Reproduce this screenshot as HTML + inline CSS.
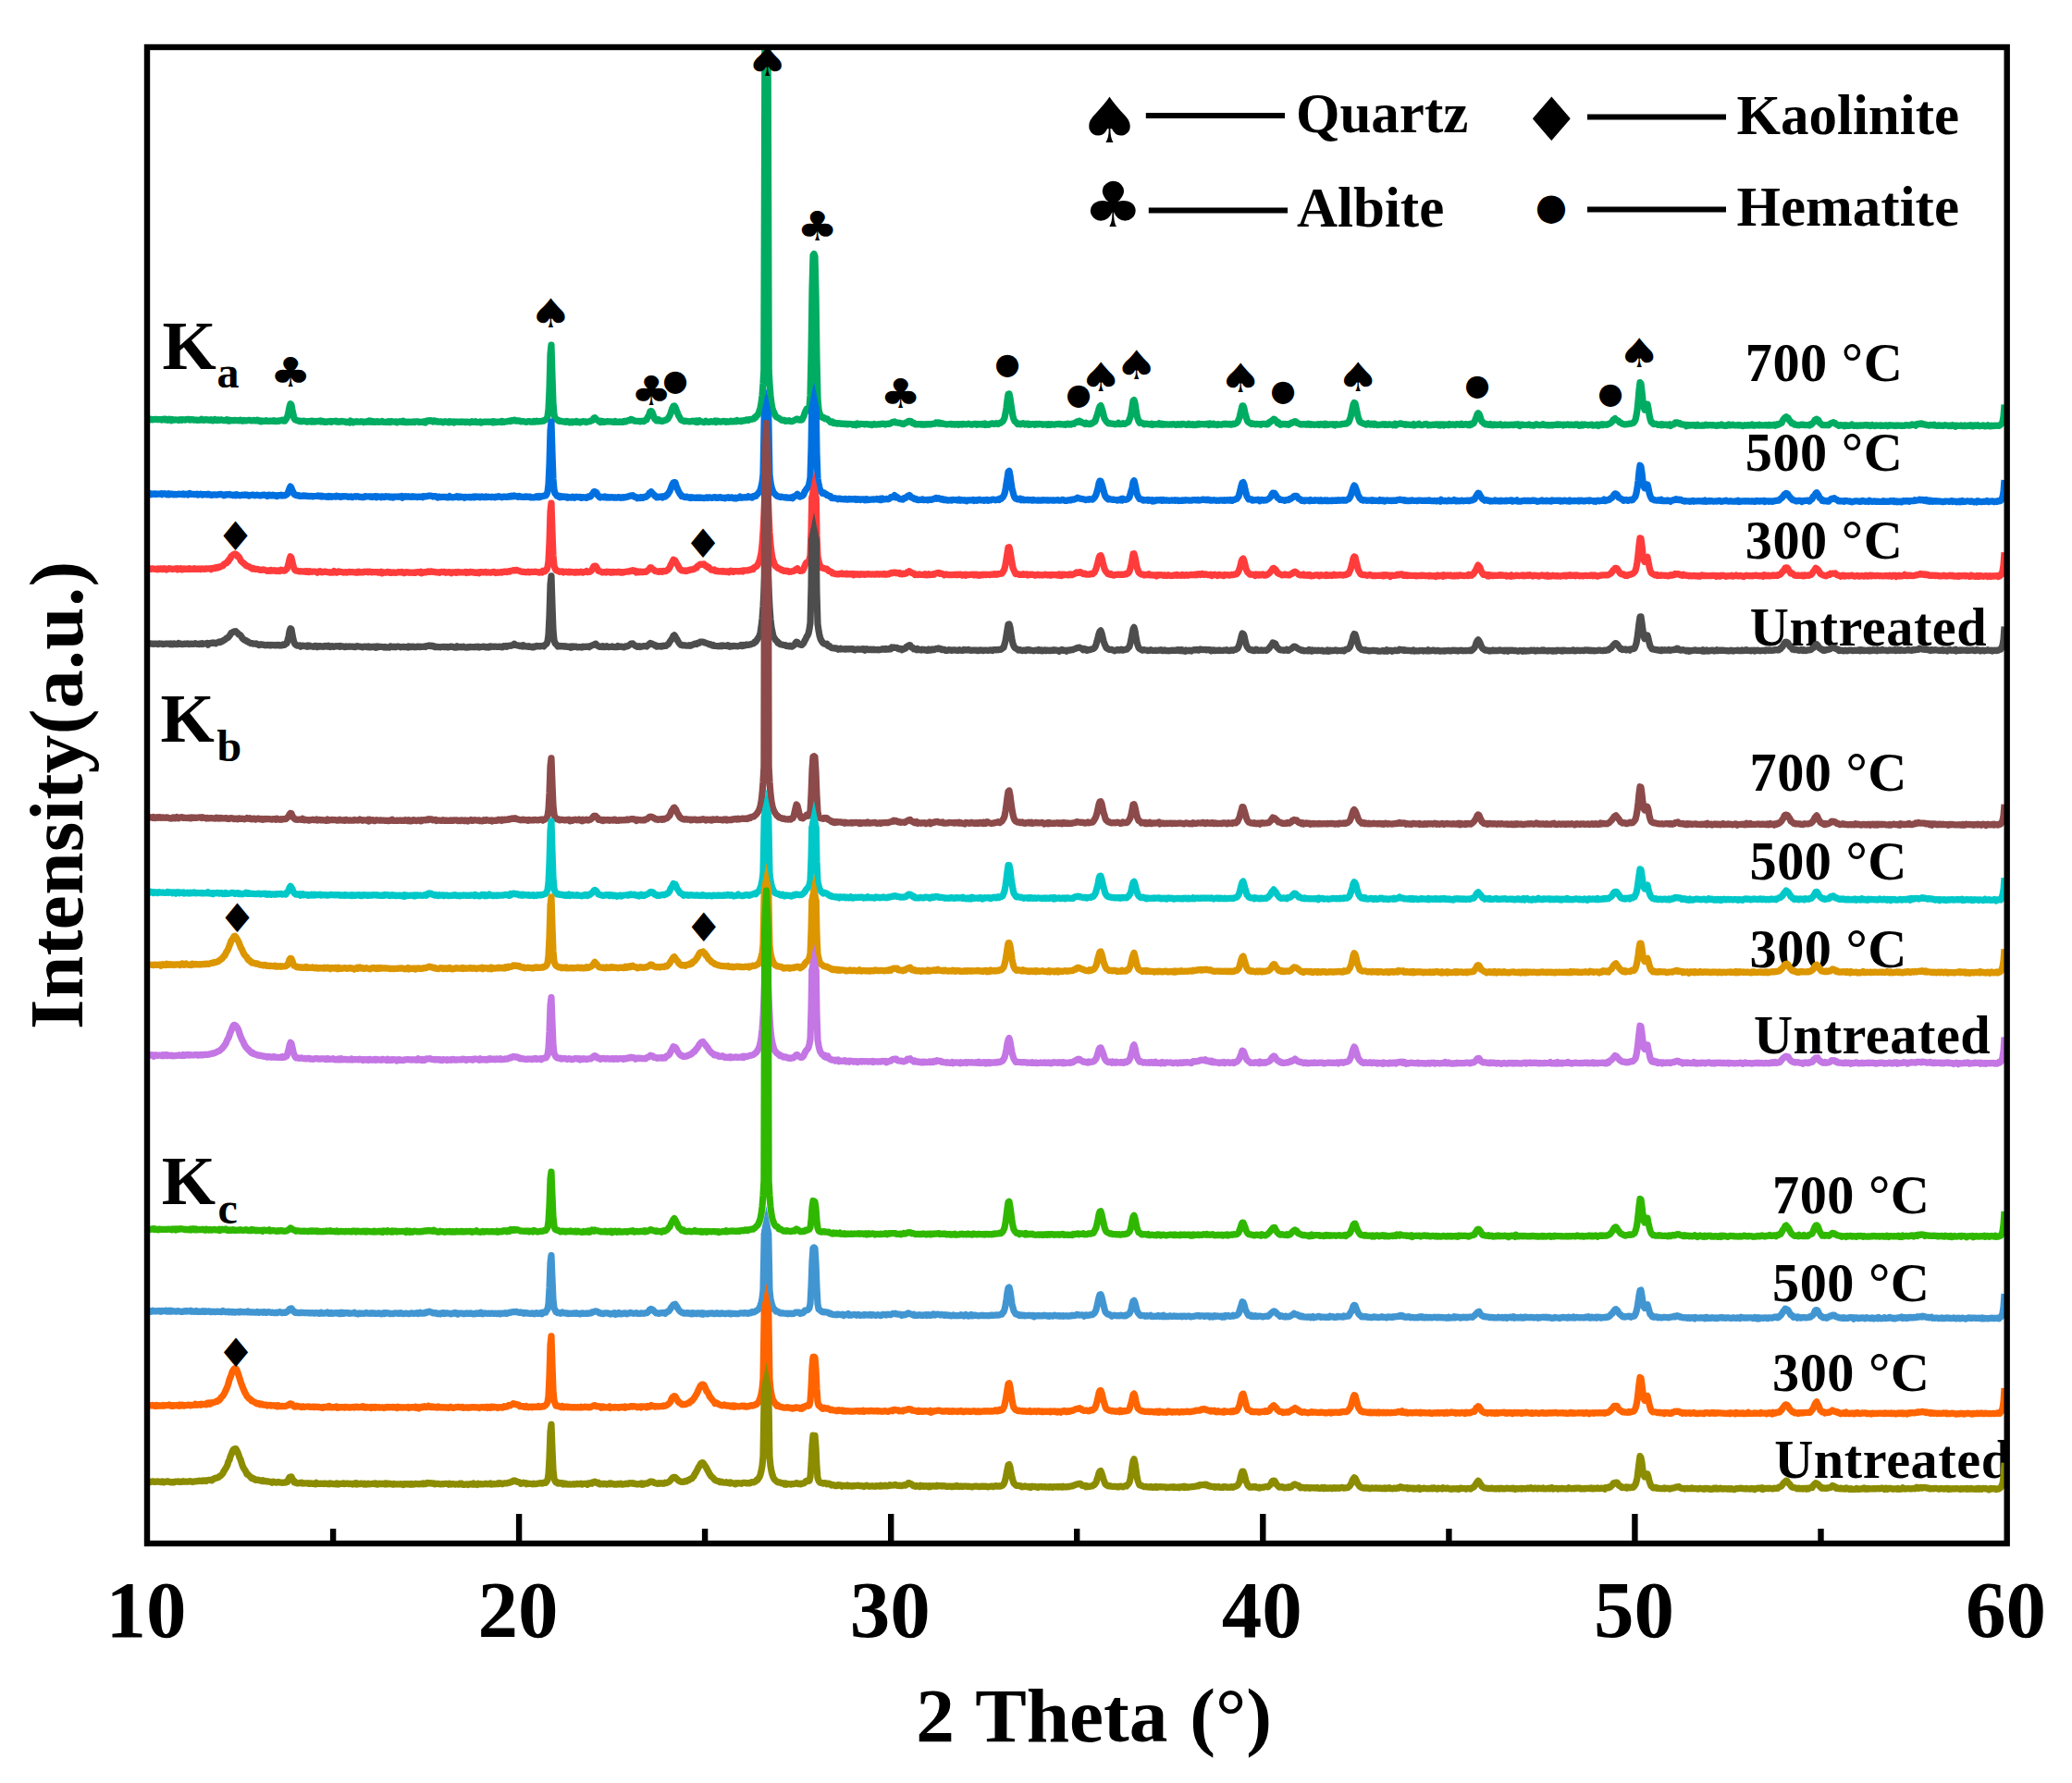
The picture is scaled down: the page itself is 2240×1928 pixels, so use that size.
<!DOCTYPE html>
<html lang="en"><head><meta charset="utf-8"><title>XRD patterns</title>
<style>html,body{margin:0;padding:0;background:#fff}svg{display:block}text{font-family:"Liberation Serif",serif;font-weight:bold;fill:#000}.sym{font-family:"DejaVu Sans",sans-serif;font-weight:normal}.c{fill:none;stroke-width:7.2;stroke-linejoin:round;stroke-linecap:butt}.m{fill:none;stroke-width:7.2;stroke-linejoin:miter;stroke-miterlimit:12;stroke-linecap:butt}</style></head><body>
<svg width="2240" height="1928" viewBox="0 0 2240 1928">
<rect width="2240" height="1928" fill="#fff"/>
<defs><clipPath id="cp"><rect x="159" y="51" width="2010.5" height="1618"/></clipPath></defs>
<g clip-path="url(#cp)">
<text x="1886.8" y="412.0" font-size="58.3" letter-spacing="0.5">700 °C</text>
<text x="1886.8" y="508.7" font-size="58.3" letter-spacing="0.5">500 °C</text>
<text x="1886.8" y="604.0" font-size="58.3" letter-spacing="0.5">300 °C</text>
<text x="1891.8" y="697.7" font-size="58.3" letter-spacing="0.55">Untreated</text>
<text x="1891.5" y="854.8" font-size="58.3" letter-spacing="0.5">700 °C</text>
<text x="1891.5" y="951.0" font-size="58.3" letter-spacing="0.5">500 °C</text>
<text x="1891.5" y="1046.3" font-size="58.3" letter-spacing="0.5">300 °C</text>
<text x="1895.9" y="1139.0" font-size="58.3" letter-spacing="0.55">Untreated</text>
<text x="1916.0" y="1311.9" font-size="58.3" letter-spacing="0.5">700 °C</text>
<text x="1916.0" y="1407.3" font-size="58.3" letter-spacing="0.5">500 °C</text>
<text x="1916.0" y="1503.7" font-size="58.3" letter-spacing="0.5">300 °C</text>
<text x="1918.2" y="1598.0" font-size="58.3" letter-spacing="0.55">Untreated</text>
<path class="c" stroke="#00AC62" d="M161 453.9L162 453.8L163 453.2L164 453.7L165 453.8L166 453.6L167 453.5L168 453.4L169 453.4L170 453.7L171 453.6L172 453.5L173 453.6L174 453.7L175 454.1L176 453.6L177 453.2L178 453.8L179 453.1L180 454.1L181 454.4L182 453.8L183 453.1L184 453.9L185 454.7L186 453.4L187 454L188 454.2L189 453.9L190 453.9L191 454L192 454L193 454.5L194 453.9L195 453.7L196 454.4L197 453.6L198 453.8L199 453.8L200 454.1L201 453.7L202 453.7L203 453.3L204 453.4L205 454.1L206 453.7L207 453.5L208 454L209 453.9L210 454.2L211 454L212 454L213 454.3L214 454.4L215 454.3L216 454.1L217 454.2L218 453.3L219 453.9L220 454.2L221 454.4L222 453.7L223 453.8L224 454.1L225 453.9L226 454.4L227 454.2L228 453.7L229 454.4L230 454.8L231 454.2L232 453.5L233 454.4L234 454.1L235 454.7L236 453.9L237 454L238 454.4L239 453.9L240 454.1L241 454.5L242 454.7L243 454.7L244 454.2L245 453.7L246 454.9L247 455.2L248 454.3L249 455.1L250 454.6L251 454.6L252 454.8L253 454.6L254 454.4L255 454.7L256 454.7L257 454.6L258 454.9L259 454.5L260 454.1L261 454.9L262 455.1L263 455.1L264 454.4L265 454.9L266 455L267 454.7L268 454.5L269 454.4L270 454.4L271 454.8L272 455L273 454.9L274 454.4L275 454.5L276 455L277 455L278 454.2L279 454.4L280 455.2L281 455.6L282 454.9L283 455.9L284 455.2L285 455.5L286 455L287 455.4L288 454.7L289 455.5L290 455.3L291 455.6L292 455.1L293 455.1L294 455.4L295 455.5L296 454.6L297 455.2L298 455.7L299 455.1L300 455.1L301 455.5L302 454.8L303 455L304 454.8L305 454.1L306 454.5L307 455.2L308 455.1L309 453.4L310 452.2L311 449.7L312 444.9L313 440L314 436.6L315 437.8L316 443.4L317 448.1L318 452.5L319 453.9L320 454.2L321 454.6L322 454.8L323 455L324 455.7L325 455.2L326 455.9L327 455.6L328 455.1L329 455.3L330 455.7L331 455.7L332 456.2L333 455.6L334 455.8L335 455.6L336 455.1L337 456.1L338 455.3L339 456L340 456.1L341 455.4L342 455.9L343 455.6L344 455.3L345 455.6L346 455L347 456L348 455.3L349 455.3L350 456.2L351 456.4L352 455.8L353 456.3L354 456.2L355 455.6L356 455.9L357 455.5L358 456.3L359 455.7L360 455.6L361 455.7L362 455.4L363 455.2L364 456.2L365 455.7L366 456L367 456.3L368 455.5L369 455.8L370 455.4L371 456L372 455.9L373 455.9L374 456.6L375 456.6L376 456.1L377 456.1L378 457L379 455.1L380 456L381 455.8L382 456.9L383 456L384 456.2L385 455.7L386 456.1L387 455.9L388 456.2L389 456.2L390 455.9L391 455.7L392 456.2L393 456.6L394 456.2L395 456.1L396 456.4L397 455.7L398 456L399 455L400 456.1L401 455.2L402 456.2L403 456.4L404 455.7L405 456.4L406 456.4L407 455.8L408 455.7L409 456.5L410 456.4L411 456.1L412 456.2L413 455.4L414 456.2L415 456.4L416 456.5L417 456.3L418 456.6L419 456.1L420 455.7L421 456.6L422 456.6L423 455.7L424 455.6L425 456.1L426 456.1L427 456.1L428 455.9L429 456.8L430 456.4L431 455.9L432 456.1L433 455.9L434 456.1L435 456.4L436 455.2L437 455.9L438 456.7L439 456.5L440 456.1L441 456.7L442 456L443 456.2L444 456.4L445 456.6L446 456.3L447 455.9L448 456.6L449 455.8L450 456L451 455.9L452 455.9L453 456.6L454 456.2L455 456.4L456 456.2L457 456.2L458 456.6L459 455.7L460 456.9L461 455.7L462 454.8L463 454.8L464 455.3L465 454.6L466 454.8L467 455.3L468 456L469 454.9L470 455.1L471 455.9L472 455.5L473 456.2L474 455.9L475 456.2L476 455.8L477 455.9L478 456.5L479 456.8L480 456.1L481 455.6L482 456.1L483 456.2L484 456.5L485 456.9L486 455.8L487 456.5L488 456L489 456.5L490 455.9L491 457L492 456.2L493 456.3L494 456.1L495 456.1L496 456.5L497 456.1L498 456.5L499 455.9L500 456.3L501 456.1L502 456.2L503 456.7L504 456.2L505 456L506 456.2L507 456.5L508 456.9L509 456.3L510 455.6L511 456.4L512 456.4L513 456.4L514 455.6L515 456.4L516 456.7L517 456.5L518 456.5L519 456L520 457.1L521 457L522 456.4L523 456.1L524 456.2L525 456.3L526 456.2L527 456.1L528 456.3L529 456.2L530 456L531 456.3L532 456.8L533 455.8L534 456.8L535 455.9L536 456.7L537 456.5L538 456.2L539 456.4L540 456.1L541 455.9L542 456.6L543 455.5L544 456.2L545 456.4L546 456L547 455.9L548 455.9L549 455.6L550 455.1L551 455.6L552 455.6L553 454.7L554 454.8L555 454.8L556 454.2L557 454.3L558 455.1L559 455.2L560 454.8L561 455.1L562 455.2L563 455.8L564 455.9L565 455.6L566 455.5L567 455.9L568 456.2L569 456.3L570 456.1L571 455.7L572 455.6L573 455.8L574 456.3L575 456.1L576 456.2L577 455.4L578 456.1L579 455.7L580 455.1L581 455.9L582 455.8L583 455.7L584 455.5L585 455.7L586 455.3L587 455L588 455.1L589 454.2L590 453.8L591 453L592 450.1L593 442.3L594 420.3L595 382.8L596 373.1L597 406.3L598 435.9L599 448.3L600 452L601 453.1L602 453.5L603 454.5L604 455.3L605 454.9L606 455.3L607 455.6L608 455.6L609 456L610 456.1L611 455.9L612 456.3L613 455.4L614 455.9L615 456.1L616 456.9L617 456.3L618 455.9L619 456.7L620 455.9L621 456.4L622 456.3L623 455.5L624 456.6L625 456.1L626 456.1L627 456.9L628 456.1L629 456.2L630 455.6L631 455.8L632 456.1L633 455.8L634 456.6L635 456.1L636 456L637 455.6L638 455.6L639 454.8L640 454.7L641 454.2L642 452.2L643 451.6L644 452.7L645 453.7L646 454.4L647 455.1L648 456L649 456.6L650 455.3L651 456.2L652 455.6L653 456.5L654 456.2L655 456L656 455.7L657 455.5L658 455.9L659 455.9L660 456L661 455.8L662 456.3L663 456.5L664 456.2L665 455.5L666 456.2L667 456.5L668 456.4L669 456.3L670 455.9L671 456.4L672 456.2L673 455.9L674 456.3L675 455.4L676 455.6L677 455.9L678 455L679 454.8L680 454.3L681 454.7L682 453.4L683 453.5L684 454.2L685 454.5L686 455.2L687 455.2L688 455.4L689 455.5L690 455.4L691 455.4L692 455.8L693 455.4L694 455.3L695 455.6L696 455.6L697 455L698 454.1L699 453.9L700 451.4L701 449.9L702 447.7L703 444.7L704 444.5L705 445.6L706 448.2L707 451.3L708 453.2L709 454.1L710 455L711 455L712 453.9L713 455.1L714 454.6L715 455.2L716 455.6L717 455.1L718 455L719 454.2L720 454.2L721 453.5L722 452.9L723 451.2L724 449.5L725 447L726 444L727 441L728 439.3L729 439L730 440.1L731 442.9L732 445.3L733 448.1L734 450.1L735 451.7L736 453.8L737 454.5L738 454.5L739 455.3L740 455.7L741 455.1L742 455.4L743 455.5L744 455.7L745 455.8L746 456L747 455.6L748 455.4L749 455.1L750 455.7L751 455.3L752 456.2L753 455.1L754 456.5L755 455.7L756 454.9L757 456L758 455.8L759 456L760 456.2L761 456.6L762 456L763 455.2L764 455.9L765 456.2L766 456.4L767 456.3L768 455.8L769 455.6L770 456.1L771 456L772 455.7L773 455L774 456.6L775 456.1L776 455.2L777 455.8L778 455.9L779 456.2L780 455.8L781 455.8L782 455.4L783 455.6L784 455.6L785 456.4L786 455.7L787 456.2L788 456.1L789 455.6L790 455.1L791 456L792 456L793 455.9L794 455.2L795 455.7L796 455.8L797 454.6L798 455.3L799 455.4L800 455.2L801 455.7L802 454.8L803 455.2L804 454.7L805 454.8L806 454.7L807 453.9L808 454L809 454.5L810 453.6L811 453.5L812 453.5L813 453.2L814 452.9L815 452.8L816 451.1L817 451.4L818 449.4L819 448.9L820 446.9L821 444.3L822 441L823 435.8L824 427.6L825 414.7L825.8 400.1L827.2 -63.3L828.5 -343.3L829.8 -63.2L831.2 400.3L832 414.9L833 427.9L834 436.1L835 441.2L836 444.6L837 446.3L838 448.8L839 450.6L840 451.2L841 451.6L842 452.1L843 452.9L844 453.6L845 454.3L846 454.3L847 454.6L848 454.4L849 455.4L850 455.2L851 455.2L852 455.2L853 454.6L854 455.3L855 455.7L856 455.6L857 455.4L858 454.9L859 454.3L860 454L861 453.3L862 453L863 453.5L864 454.1L865 453.8L866 454.2L867 453.8L868 451.8L869 449.8L870 446.7L871 444.3L872 442.3L873 442.8L874 443.6L875 440.3L876 427.2L877 381.8L878 312.1L879 276L880 274.5L881 277.2L882 317L883 386.9L884 430.9L885 442.6L886 447.1L887 449L888 450.6L889 451.4L890 451.6L891 451.7L892 452.9L893 452.8L894 452.8L895 453.7L896 454.7L897 455.4L898 456.6L899 456.7L900 456.1L901 457.6L902 457L903 457.4L904 457.6L905 458.2L906 457.5L907 457.8L908 458.2L909 457.8L910 458.5L911 458.3L912 458L913 458.5L914 458.7L915 458.1L916 458.9L917 458.7L918 458.3L919 458.5L920 458.6L921 458.7L922 459.4L923 459.3L924 459L925 458.4L926 459.6L927 458.1L928 458.8L929 459.1L930 458.6L931 458.4L932 458.5L933 458.5L934 458.5L935 459L936 458.6L937 458.6L938 458.7L939 458.9L940 459.1L941 459.1L942 458.8L943 459.6L944 459.1L945 458.4L946 458.8L947 459.2L948 459L949 458.9L950 458.6L951 459L952 458.6L953 458.4L954 458.5L955 458.2L956 458.4L957 459.1L958 458.6L959 458.4L960 458.2L961 458.5L962 458L963 457.7L964 457L965 456.4L966 456.4L967 456L968 456.9L969 456.7L970 457L971 457.2L972 457.5L973 457.3L974 457.7L975 458.2L976 458.4L977 458.6L978 457.7L979 457L980 457.2L981 456.2L982 455.5L983 455.3L984 455.6L985 455.7L986 457.3L987 457L988 457.2L989 458.7L990 458.9L991 458.9L992 459L993 458.5L994 458.7L995 458.7L996 459.2L997 458.7L998 459.1L999 459.3L1000 459L1001 458.6L1002 459.1L1003 458.6L1004 458.8L1005 458.5L1006 459L1007 458.6L1008 458.4L1009 458.3L1010 458.1L1011 458.1L1012 457L1013 457.6L1014 456.9L1015 458L1016 457.3L1017 458.1L1018 457.5L1019 457.9L1020 458.5L1021 458.3L1022 458.7L1023 458.9L1024 458.9L1025 458.9L1026 458.6L1027 458.5L1028 458.4L1029 459.1L1030 458.6L1031 458.6L1032 459.2L1033 459L1034 458.6L1035 458.5L1036 459.3L1037 458.7L1038 458.7L1039 458.7L1040 459.1L1041 458.4L1042 458.8L1043 458.6L1044 458.9L1045 458.8L1046 458.7L1047 458.1L1048 458.5L1049 458.9L1050 459.2L1051 459.1L1052 458.7L1053 458.6L1054 458.3L1055 458.5L1056 459.2L1057 458.4L1058 458.7L1059 459L1060 458.5L1061 459L1062 458.4L1063 458.4L1064 459.3L1065 458L1066 459.3L1067 458.9L1068 458.8L1069 459.3L1070 458.6L1071 458.5L1072 457.9L1073 457.9L1074 458.3L1075 458.3L1076 458.5L1077 457.7L1078 457.9L1079 458.5L1080 457.8L1081 457.4L1082 457.4L1083 456.1L1084 455.7L1085 453.9L1086 451.7L1087 447L1088 441L1089 432.5L1090 426L1091 425.9L1092 430.2L1093 437.5L1094 444.1L1095 450.1L1096 453.5L1097 455.5L1098 456.2L1099 457.1L1100 458.6L1101 458.2L1102 458.2L1103 458.9L1104 458.1L1105 458.2L1106 457.6L1107 458.4L1108 459.1L1109 458.6L1110 458.2L1111 458.2L1112 459.3L1113 458.5L1114 459.1L1115 458.7L1116 458.5L1117 458.5L1118 458.7L1119 459.3L1120 458.3L1121 458.8L1122 458.9L1123 458.3L1124 458.6L1125 458.6L1126 458.5L1127 459.3L1128 459.1L1129 458.9L1130 459L1131 458.9L1132 459.5L1133 458.5L1134 458.6L1135 459.5L1136 459.2L1137 458.7L1138 458.9L1139 459L1140 459.2L1141 459L1142 458.6L1143 458.7L1144 458.5L1145 458.3L1146 458.8L1147 458.5L1148 458.9L1149 459L1150 459.1L1151 458.7L1152 459.3L1153 458.7L1154 458.2L1155 458.3L1156 459L1157 458.4L1158 459L1159 458.2L1160 457.9L1161 458.4L1162 457.1L1163 457L1164 456.1L1165 455.9L1166 456.4L1167 455.3L1168 456L1169 456.3L1170 457.2L1171 457.3L1172 457.8L1173 458.5L1174 457.2L1175 457.8L1176 458.4L1177 458.7L1178 458.7L1179 457.8L1180 458.1L1181 457.7L1182 456.5L1183 456.5L1184 455.5L1185 452L1186 449.3L1187 446L1188 442L1189 439.5L1190 438.6L1191 441.3L1192 444.3L1193 448.7L1194 452.6L1195 454.1L1196 455.7L1197 456.6L1198 457.8L1199 458L1200 457.6L1201 458.1L1202 458L1203 458.2L1204 458.4L1205 458.6L1206 458.8L1207 458.6L1208 458.3L1209 457.3L1210 458.6L1211 458.7L1212 458.3L1213 458.3L1214 457.6L1215 458.4L1216 458.3L1217 457.9L1218 457.4L1219 456.9L1220 456.1L1221 453.5L1222 451.1L1223 446.5L1224 440L1225 433.4L1226 432.6L1227 435.9L1228 442.6L1229 448.6L1230 452.5L1231 455.5L1232 457.2L1233 456.5L1234 457.3L1235 457.8L1236 457.9L1237 458.9L1238 458.5L1239 458.2L1240 458.2L1241 458.7L1242 458.6L1243 458.8L1244 459.2L1245 458.2L1246 459.3L1247 458.9L1248 458.7L1249 458.5L1250 458.9L1251 458.8L1252 459L1253 457.9L1254 459.1L1255 459.1L1256 458.3L1257 459.2L1258 458.5L1259 458.5L1260 459.1L1261 458.8L1262 458.9L1263 459.2L1264 459.1L1265 458.8L1266 458.9L1267 459.1L1268 458.6L1269 458.6L1270 458.9L1271 459.5L1272 459.2L1273 458.6L1274 458.8L1275 459.3L1276 459.1L1277 458.5L1278 459.1L1279 458.4L1280 458.5L1281 458.9L1282 459.2L1283 459.5L1284 459L1285 458.3L1286 459.1L1287 459.4L1288 459L1289 458.7L1290 459.5L1291 458.9L1292 459.6L1293 458.9L1294 459.4L1295 458.3L1296 458.2L1297 459L1298 458.5L1299 458.7L1300 458.7L1301 458.7L1302 458.8L1303 458.9L1304 458.3L1305 458.6L1306 458.4L1307 459.5L1308 458L1309 459.1L1310 458.4L1311 459.1L1312 458.3L1313 459.2L1314 458.8L1315 459L1316 459.6L1317 458.7L1318 459.1L1319 459.1L1320 459.1L1321 459.3L1322 458.5L1323 458.3L1324 458.8L1325 458.2L1326 458.6L1327 459L1328 458.4L1329 458.9L1330 458.5L1331 459.2L1332 458.7L1333 458.2L1334 458.6L1335 458.4L1336 457.9L1337 457.3L1338 456.2L1339 453.9L1340 451.6L1341 447.1L1342 442.8L1343 438.9L1344 438.8L1345 441.7L1346 446.7L1347 450.3L1348 453.7L1349 456.1L1350 456.6L1351 457.4L1352 457.6L1353 458.5L1354 457.9L1355 458L1356 458.6L1357 458.8L1358 458.4L1359 458.6L1360 458.6L1361 458.7L1362 458.6L1363 459.3L1364 458.6L1365 458.4L1366 458.3L1367 458.4L1368 458.9L1369 458.3L1370 458.9L1371 458.5L1372 456.7L1373 456.7L1374 455.5L1375 455L1376 454.3L1377 453.2L1378 453.5L1379 454.6L1380 455.6L1381 457.4L1382 456.6L1383 458.3L1384 459.3L1385 458.3L1386 458.8L1387 458.4L1388 458.7L1389 458.3L1390 458.9L1391 458.8L1392 458.5L1393 459.4L1394 458.7L1395 458L1396 457.1L1397 457.3L1398 456.6L1399 455.9L1400 455.6L1401 455.9L1402 457.4L1403 457.5L1404 458L1405 458.5L1406 459L1407 459.1L1408 458.6L1409 458.5L1410 459L1411 458.7L1412 459.1L1413 459.1L1414 458.3L1415 459.1L1416 458.4L1417 459.4L1418 459L1419 458.8L1420 459.2L1421 459.3L1422 459.2L1423 459.2L1424 458.9L1425 458.6L1426 459.5L1427 458.9L1428 458.5L1429 459.2L1430 459.1L1431 459.5L1432 458.2L1433 459.4L1434 458.5L1435 459.3L1436 459.4L1437 458.8L1438 458.9L1439 458.8L1440 459.1L1441 458.6L1442 459.5L1443 460L1444 458.6L1445 458.6L1446 459.2L1447 459.2L1448 459.2L1449 458.8L1450 458.8L1451 458.4L1452 458.3L1453 458.5L1454 458.1L1455 457.9L1456 458.1L1457 456.8L1458 456.7L1459 454.2L1460 451.3L1461 447.1L1462 442.3L1463 437.6L1464 435.5L1465 436L1466 440.4L1467 445.4L1468 450.2L1469 453.3L1470 456.1L1471 456.7L1472 457L1473 457.8L1474 457.8L1475 458.4L1476 458.3L1477 459.1L1478 458.3L1479 457.6L1480 458.5L1481 458.9L1482 459.1L1483 458.1L1484 458.8L1485 459.3L1486 458.2L1487 459.1L1488 458.9L1489 459.6L1490 459.4L1491 459.4L1492 459.2L1493 459.1L1494 459.1L1495 458.7L1496 458.9L1497 459.3L1498 458.7L1499 459.2L1500 459.5L1501 459.3L1502 458.7L1503 459.2L1504 459.1L1505 459.1L1506 459.8L1507 459.3L1508 458.3L1509 459.7L1510 458.8L1511 458.7L1512 458.6L1513 458.1L1514 457.8L1515 458.3L1516 458.4L1517 458.6L1518 459L1519 459.3L1520 458.7L1521 459.2L1522 459.2L1523 459.1L1524 459.4L1525 459.3L1526 459.6L1527 459.3L1528 458.6L1529 460L1530 459.5L1531 459.4L1532 458.9L1533 459.1L1534 458.3L1535 459.2L1536 459.5L1537 459.7L1538 459.5L1539 459.3L1540 458.6L1541 458.9L1542 458.5L1543 459.2L1544 459.8L1545 459.4L1546 459.3L1547 459.7L1548 459.4L1549 459L1550 459.4L1551 459.5L1552 459.1L1553 458.9L1554 458.8L1555 459.7L1556 459L1557 460L1558 458.9L1559 459.3L1560 458.9L1561 459.9L1562 459.1L1563 459.3L1564 459.2L1565 459.2L1566 459.7L1567 458.6L1568 459.3L1569 459.3L1570 459.1L1571 458.9L1572 459.3L1573 459.6L1574 459L1575 458.5L1576 458.7L1577 459L1578 459.3L1579 459.3L1580 458.2L1581 459.5L1582 459.4L1583 459.2L1584 458.6L1585 458.6L1586 459L1587 459.6L1588 458.8L1589 459.6L1590 458.3L1591 459L1592 458.3L1593 457.8L1594 455.8L1595 453.7L1596 451.2L1597 448L1598 446.7L1599 447.5L1600 450.1L1601 453.5L1602 455.8L1603 456.4L1604 457.7L1605 458.2L1606 458.8L1607 458.3L1608 459.1L1609 459.4L1610 459.2L1611 458.5L1612 459.6L1613 459.6L1614 459.8L1615 458.9L1616 459.1L1617 459.6L1618 459L1619 459.3L1620 459.3L1621 459.3L1622 458.6L1623 459.4L1624 459.8L1625 459.8L1626 459.6L1627 459.2L1628 459.6L1629 459.6L1630 459.3L1631 459.7L1632 459.6L1633 459.2L1634 459.4L1635 459.2L1636 459.6L1637 459.4L1638 458.9L1639 459.1L1640 459.5L1641 458.8L1642 459.6L1643 460.5L1644 459.1L1645 459.1L1646 459.1L1647 459.4L1648 459.5L1649 459.5L1650 459.5L1651 459.6L1652 459.3L1653 458.9L1654 459.5L1655 459.9L1656 459.7L1657 459.6L1658 460.2L1659 459.7L1660 459.2L1661 458.6L1662 459.1L1663 459.6L1664 459.6L1665 459.8L1666 459.3L1667 459.5L1668 458.7L1669 459L1670 459.6L1671 459.7L1672 459.4L1673 460L1674 459.7L1675 459.8L1676 459.7L1677 460L1678 459.4L1679 459.8L1680 459.5L1681 459.4L1682 459.2L1683 458.9L1684 459.5L1685 458.9L1686 459.3L1687 459L1688 459.2L1689 459.4L1690 460L1691 459.2L1692 459.3L1693 459.5L1694 459.1L1695 458.8L1696 459.5L1697 459.7L1698 459L1699 459.3L1700 459.4L1701 459.7L1702 459.7L1703 458.9L1704 459.3L1705 458.8L1706 459.1L1707 460.3L1708 459.7L1709 460L1710 459L1711 460L1712 459.5L1713 458.9L1714 459.5L1715 459.3L1716 459.6L1717 459.9L1718 459.6L1719 459.4L1720 459.1L1721 459.2L1722 460.2L1723 459.8L1724 459.8L1725 459.9L1726 459.1L1727 459.1L1728 460.4L1729 459.5L1730 459L1731 459.5L1732 458.7L1733 459.6L1734 459.3L1735 458.9L1736 459.2L1737 459.3L1738 459.1L1739 458.4L1740 458.2L1741 457.6L1742 456.9L1743 455.8L1744 454L1745 453.5L1746 452.6L1747 453.7L1748 454.4L1749 454.8L1750 455.4L1751 456.8L1752 457L1753 457.7L1754 458.5L1755 458.4L1756 459L1757 458.8L1758 458.8L1759 458.7L1760 458.6L1761 458.3L1762 458.1L1763 458.2L1764 457.8L1765 457.4L1766 457.3L1767 455.8L1768 454.1L1769 449.5L1770 443.3L1771 433.4L1772 421.8L1773 413.6L1774 414.7L1775 423.1L1776 432.7L1777 440.3L1778 443.2L1779 440.7L1780 437L1781 437L1782 441.7L1783 448.6L1784 453.1L1785 456.3L1786 456.7L1787 458.2L1788 458.6L1789 458.5L1790 458.3L1791 458.6L1792 459.2L1793 459.5L1794 459.1L1795 458.8L1796 459.8L1797 458.8L1798 459.6L1799 459.2L1800 459.2L1801 459.3L1802 459.1L1803 459.9L1804 459.4L1805 458.8L1806 460.4L1807 459.4L1808 459L1809 458.9L1810 458.7L1811 457L1812 456.8L1813 457.3L1814 457.2L1815 458.1L1816 457.6L1817 458.8L1818 458.6L1819 459.1L1820 459.1L1821 459.2L1822 459.5L1823 460.7L1824 459.4L1825 459.4L1826 460.2L1827 459.8L1828 459.7L1829 459.7L1830 459.9L1831 459.4L1832 459.7L1833 460.3L1834 459.7L1835 459.2L1836 460.1L1837 460.1L1838 460.1L1839 460.4L1840 459.9L1841 459.9L1842 460.4L1843 459.9L1844 459.2L1845 459.9L1846 460L1847 459.9L1848 459.5L1849 459.5L1850 459.8L1851 459.8L1852 459.5L1853 459.8L1854 459.8L1855 460.4L1856 460.5L1857 459.7L1858 460.1L1859 459.8L1860 459.9L1861 459.1L1862 460L1863 459.7L1864 460.4L1865 460.4L1866 460.5L1867 459.6L1868 459.9L1869 459L1870 459.8L1871 460L1872 459.6L1873 459.1L1874 459.5L1875 459.9L1876 459.9L1877 459.8L1878 459.9L1879 459.4L1880 460L1881 459.5L1882 459.7L1883 460.3L1884 460.7L1885 460.1L1886 459.6L1887 460L1888 460.2L1889 459.8L1890 459.5L1891 460.1L1892 459.8L1893 459.9L1894 459.1L1895 460.1L1896 459.7L1897 460.1L1898 460L1899 459.6L1900 459.6L1901 460L1902 459.1L1903 459.8L1904 459.8L1905 459.9L1906 459.9L1907 459.9L1908 459.7L1909 459.7L1910 459.8L1911 460.1L1912 459.4L1913 459.3L1914 460.1L1915 459.6L1916 460L1917 459.4L1918 459.1L1919 460.2L1920 459.3L1921 459.7L1922 458.6L1923 458.9L1924 458.3L1925 457.8L1926 457.4L1927 455.2L1928 453.5L1929 452.3L1930 451.4L1931 450.7L1932 451.8L1933 451.9L1934 453.6L1935 455.3L1936 456L1937 457.8L1938 458L1939 457.9L1940 459.1L1941 459.2L1942 459.4L1943 459.6L1944 459.6L1945 459.9L1946 459.5L1947 459.1L1948 459.3L1949 459.2L1950 459.2L1951 459.7L1952 459.6L1953 459.5L1954 459.7L1955 459.5L1956 460L1957 458.7L1958 459.2L1959 458.3L1960 457.3L1961 456.1L1962 454.3L1963 453.6L1964 453.2L1965 454L1966 454.5L1967 457.1L1968 457.8L1969 458.6L1970 459.7L1971 459.6L1972 459.6L1973 459.6L1974 459.6L1975 459.5L1976 459.6L1977 459.8L1978 458.6L1979 458L1980 457.5L1981 457.3L1982 456.7L1983 457.4L1984 457.6L1985 458.9L1986 459L1987 459.6L1988 460.4L1989 459.8L1990 459.6L1991 459.8L1992 460.2L1993 459.8L1994 460.7L1995 459.8L1996 460.4L1997 459.8L1998 460.3L1999 460.5L2000 460L2001 459.8L2002 458.9L2003 459.8L2004 460.4L2005 460.3L2006 460.2L2007 459.9L2008 460.6L2009 460.2L2010 459.9L2011 460.4L2012 459.8L2013 460L2014 460.1L2015 459.9L2016 459.5L2017 459.8L2018 459.5L2019 460.1L2020 459.7L2021 460.2L2022 460.6L2023 460.2L2024 459.5L2025 460.2L2026 460.2L2027 460.6L2028 459.9L2029 460.1L2030 460.2L2031 460.2L2032 459.9L2033 460.5L2034 459.8L2035 460.3L2036 460.3L2037 460.4L2038 459.9L2039 459.8L2040 460.5L2041 460.8L2042 460L2043 459.7L2044 460.1L2045 460L2046 459.9L2047 460.4L2048 460.1L2049 460.2L2050 460.5L2051 459.9L2052 460L2053 460.1L2054 460.2L2055 460.3L2056 460.2L2057 460.3L2058 460.3L2059 460.4L2060 459.7L2061 459.8L2062 460L2063 459.9L2064 460.1L2065 459.7L2066 459.8L2067 458.9L2068 459.3L2069 459.4L2070 459.4L2071 460.1L2072 458.7L2073 458.7L2074 458.2L2075 458.7L2076 458.7L2077 457.8L2078 458.2L2079 458.9L2080 458.5L2081 459.1L2082 459L2083 459.7L2084 459.6L2085 460.1L2086 459.9L2087 459.3L2088 459.7L2089 459.8L2090 459.8L2091 459.2L2092 460.1L2093 460.2L2094 460.4L2095 460L2096 459.8L2097 460.3L2098 460.2L2099 460.1L2100 460.5L2101 460.4L2102 460L2103 459.6L2104 460.1L2105 460.1L2106 460.1L2107 460.7L2108 460L2109 460.2L2110 460.6L2111 459.7L2112 460.3L2113 460.1L2114 461.1L2115 460.1L2116 460.3L2117 460.4L2118 460.5L2119 460.4L2120 459.9L2121 460.6L2122 460.7L2123 460.7L2124 460L2125 460.6L2126 460.7L2127 460.1L2128 460.4L2129 460.4L2130 459.7L2131 459.9L2132 460.9L2133 461L2134 460.1L2135 459.9L2136 460.4L2137 460.3L2138 459.7L2139 460.3L2140 460.8L2141 460.5L2142 460.4L2143 460.2L2144 459.9L2145 460.3L2146 461L2147 460.8L2148 460.5L2149 459.7L2150 460.3L2151 460.9L2152 460.8L2153 460.1L2154 460.7L2155 460.4L2156 460.5L2157 460.1L2158 460.4L2159 460.1L2160 460.3L2161 460.4L2162 460L2163 459L2164 458.2L2165 455.8L2166 450L2167 437.5"/>
<path class="c" stroke="#0070E0" d="M161 534.2L162 533.5L163 534.8L164 534.6L165 534.2L166 533.8L167 533.8L168 534.5L169 533.8L170 534.4L171 534.1L172 534.1L173 534.1L174 533.6L175 534.7L176 533.9L177 533.9L178 533.7L179 534.4L180 534.6L181 534.9L182 533.7L183 534.9L184 534.3L185 534L186 534L187 534.7L188 534.8L189 534.3L190 534.8L191 534.7L192 534.5L193 534.1L194 534.5L195 534.4L196 534.4L197 534.7L198 534L199 534.8L200 534.4L201 534.4L202 534.2L203 535L204 534.1L205 533.4L206 534.2L207 534.5L208 534.5L209 534.3L210 534.6L211 534.6L212 534.4L213 534.1L214 535.1L215 534.7L216 534.6L217 534.2L218 534.5L219 535.1L220 534.7L221 534.7L222 534.5L223 534.8L224 534.8L225 534.2L226 534.8L227 534.6L228 535.4L229 535.3L230 535.2L231 534.8L232 534.9L233 534.9L234 535.2L235 535L236 534.7L237 534.5L238 534.6L239 534.3L240 535L241 534.9L242 535.7L243 534.8L244 535.3L245 534.6L246 535L247 534.9L248 534.4L249 535.2L250 535L251 535.3L252 535.7L253 535.2L254 534.9L255 535.7L256 534.7L257 535.4L258 535.3L259 535.8L260 535.7L261 535.5L262 535.1L263 535.5L264 535.2L265 534.9L266 535.5L267 535.2L268 535.3L269 536.1L270 535.7L271 535.6L272 535.1L273 535.2L274 535L275 535.8L276 535.7L277 535.5L278 535.1L279 535.4L280 535.7L281 535.9L282 535.8L283 535.4L284 535.5L285 535.2L286 535.2L287 535.5L288 535.8L289 536.5L290 535.3L291 535.1L292 536L293 535.7L294 536L295 535.1L296 535.8L297 535.8L298 535.7L299 536.7L300 536.5L301 535.7L302 535.6L303 535.8L304 535.2L305 536L306 535.5L307 535.9L308 535.9L309 535.1L310 534.7L311 533.7L312 530.9L313 528.1L314 526.1L315 527.6L316 530.4L317 532.3L318 534.3L319 535.1L320 535.6L321 535.3L322 535.9L323 535.7L324 536.3L325 536L326 536.5L327 536.2L328 536.3L329 535.8L330 536.4L331 536.5L332 536.2L333 536.7L334 536.7L335 536.4L336 536.7L337 536.4L338 536.8L339 536.7L340 536.5L341 536.5L342 536.4L343 536.4L344 535.8L345 536.6L346 536.8L347 536.1L348 537L349 536.3L350 536.9L351 536.9L352 536.8L353 537.3L354 537L355 536.4L356 537.4L357 536.7L358 536.7L359 537.3L360 536.8L361 537L362 536.9L363 537.2L364 536.2L365 536.9L366 536.7L367 536.7L368 537.3L369 537.3L370 536.6L371 536.6L372 536.9L373 536.6L374 536.8L375 536.9L376 537.2L377 537.3L378 537L379 537L380 536.8L381 537.6L382 537L383 537L384 536.7L385 537.1L386 536.5L387 536.9L388 537L389 537.5L390 537.3L391 537.7L392 537.4L393 537.6L394 537.4L395 536.6L396 536.8L397 537L398 537L399 536.8L400 536.9L401 537.3L402 536.8L403 537.5L404 537.1L405 536.8L406 536.6L407 537.8L408 536.8L409 537L410 537.2L411 537L412 537.7L413 536.9L414 537.1L415 537.6L416 537.5L417 536.7L418 537.1L419 537L420 536.9L421 537.1L422 537.8L423 537.1L424 537L425 538L426 537.1L427 537.1L428 537.2L429 537.2L430 537.1L431 537.3L432 536.8L433 537.1L434 536.6L435 538.2L436 536.9L437 537.2L438 536.7L439 537.1L440 536.8L441 537.1L442 536.9L443 537L444 537.4L445 537.3L446 536.7L447 537.2L448 537.3L449 537L450 537.1L451 537.6L452 537.2L453 537L454 537.3L455 537.3L456 537.1L457 537.7L458 536.5L459 536.7L460 537L461 536.7L462 536.6L463 536.3L464 536L465 536.1L466 536.1L467 536.4L468 537L469 536.5L470 536.5L471 536.8L472 537.3L473 538L474 537L475 537.1L476 537.7L477 537.5L478 537.4L479 537.5L480 537.3L481 537.3L482 537.6L483 537.8L484 537.5L485 537.8L486 536.5L487 537.7L488 537.6L489 537.9L490 537.5L491 537.6L492 537.5L493 537.1L494 536.7L495 537.7L496 537.8L497 537L498 537.6L499 537.2L500 537.4L501 537.5L502 538.3L503 537.3L504 537.6L505 537.7L506 537.7L507 537.4L508 537.3L509 537.9L510 537.8L511 537L512 537.3L513 537.9L514 536.9L515 537L516 537.3L517 537.3L518 537L519 537.9L520 537.6L521 536.9L522 537.4L523 537.7L524 537.5L525 537L526 537.6L527 537.2L528 537.5L529 537.4L530 537.5L531 537.7L532 537.2L533 537.4L534 537.5L535 537.9L536 537.1L537 537.4L538 537L539 536.6L540 537.2L541 537.2L542 537.5L543 537.8L544 537L545 537L546 537L547 537.5L548 537.4L549 537.4L550 536.7L551 537.1L552 537.2L553 536.2L554 536.8L555 536.9L556 535.9L557 536.4L558 536.5L559 537.1L560 537.4L561 536.5L562 537.2L563 536.8L564 537.4L565 537.4L566 537.3L567 537.2L568 537.3L569 536.9L570 537L571 537.5L572 537L573 537.1L574 538L575 537.9L576 537.9L577 538L578 537.8L579 537.2L580 536.7L581 537.6L582 537.8L583 536.6L584 537.5L585 537.1L586 536.6L587 536.4L588 536.3L589 535.8L590 535.8L591 534.4L592 531.9L593 523.8L594 502.1L595 465.7L596 456L597 489.6L598 518L599 529.3L600 533.6L601 534.7L602 536.1L603 535.9L604 537.1L605 537.7L606 536.5L607 537.5L608 536.9L609 537.3L610 536.9L611 537.2L612 537.9L613 537.2L614 538.3L615 537.8L616 537.6L617 538.1L618 538L619 537.2L620 537.6L621 538.3L622 537.8L623 537.2L624 537.5L625 537.5L626 537.6L627 537.4L628 538.2L629 538.5L630 537.7L631 537.8L632 538L633 537.8L634 538.4L635 537.8L636 536.9L637 536.8L638 537.2L639 536.2L640 534.6L641 533.6L642 531.8L643 531.6L644 532.2L645 532.8L646 535.6L647 536L648 537.5L649 538L650 537.4L651 537.4L652 537.4L653 537.8L654 537L655 537.8L656 538.2L657 537.4L658 537.9L659 538.1L660 537.8L661 537.6L662 537.8L663 538.1L664 537.9L665 537.9L666 538.1L667 538.1L668 537.5L669 537.6L670 538L671 538.4L672 538.1L673 537.7L674 538.2L675 537.8L676 537.5L677 537.6L678 537.3L679 536.8L680 536.7L681 536.5L682 535.8L683 536.2L684 535.6L685 536.8L686 537.3L687 537.2L688 537.7L689 538.7L690 538L691 538L692 538.6L693 537.5L694 537.7L695 538.3L696 537.7L697 537.2L698 537.4L699 536.8L700 535.9L701 535.1L702 533.3L703 532.8L704 531.7L705 533.4L706 534L707 534.9L708 536.3L709 536.4L710 537.8L711 537.4L712 537.7L713 537L714 537.3L715 537.2L716 538L717 536.6L718 537.1L719 537.1L720 536.3L721 534.9L722 534.7L723 532.7L724 531.3L725 528.7L726 526.1L727 523.6L728 522L729 521.5L730 521.8L731 525.2L732 527.8L733 530.1L734 532.1L735 533.9L736 534.9L737 536.7L738 536.7L739 536.8L740 537.5L741 537.6L742 537L743 537.2L744 537.9L745 538L746 538.5L747 537.7L748 538.3L749 537.9L750 538.2L751 538.2L752 538.5L753 538.2L754 537.8L755 538.5L756 538.4L757 537.8L758 538.4L759 538.5L760 538.3L761 538.7L762 538.4L763 538.1L764 537.8L765 538.5L766 538.1L767 537.8L768 538.1L769 538.4L770 538.3L771 538L772 537.7L773 537.6L774 538.3L775 537.9L776 538.5L777 538.1L778 537.6L779 537.7L780 538.2L781 538.5L782 538.5L783 538.2L784 538.8L785 538L786 538.1L787 537.6L788 538.4L789 538.5L790 538L791 537.8L792 538.1L793 538.8L794 538.4L795 538.1L796 539L797 538.6L798 538L799 538.1L800 537.1L801 538.1L802 538.3L803 537.8L804 538L805 537.6L806 537.9L807 538L808 537.7L809 536.8L810 537.6L811 537.5L812 537.5L813 538.1L814 536.7L815 536.4L816 536.7L817 536.7L818 535L819 534.2L820 532.9L821 532L822 529.7L823 526.3L824 521.5L825 512.6L826.2 450.9L828.5 439L830.8 451L832 512.8L833 521.6L834 526.4L835 529.8L836 532.1L837 533.5L838 534.3L839 535.4L840 536.3L841 536.8L842 536.8L843 537.3L844 537.6L845 537.2L846 537.5L847 537.5L848 537.9L849 537.7L850 538L851 538.3L852 538.1L853 538.2L854 538.4L855 537.8L856 537.8L857 538.6L858 536.9L859 537L860 536.2L861 535.6L862 534.3L863 535.1L864 536.5L865 537.2L866 536.6L867 536.5L868 535.7L869 534.4L870 531.5L871 530.2L872 528.6L873 527.6L874 525.8L875 522.1L876 516.5L877 484.3L877.7 442.9L880 431.4L882.3 443.4L883 489.7L884 517.5L885 523.4L886 527.6L887 530.4L888 532L889 533.4L890 533.3L891 533L892 534.1L893 534L894 535.6L895 535.5L896 536L897 536.9L898 536.7L899 538.6L900 538.7L901 538.6L902 538.7L903 538.8L904 539L905 539L906 539.9L907 539.2L908 539.2L909 539.6L910 539.6L911 539.8L912 539.8L913 539.8L914 539.3L915 540.1L916 540L917 540.1L918 539.4L919 540L920 539.7L921 539.5L922 539.9L923 539.9L924 539.4L925 540.3L926 539.6L927 540.3L928 539.6L929 540.1L930 540.5L931 539.8L932 540.1L933 539.8L934 539.8L935 540.7L936 539.8L937 539.6L938 540.7L939 540.3L940 540.4L941 540L942 540.1L943 540L944 539.9L945 540.1L946 540L947 540L948 539.4L949 540.1L950 539.9L951 540.5L952 539.4L953 540.4L954 539.1L955 539.9L956 539.8L957 539.9L958 539.4L959 539.5L960 539.8L961 539.5L962 538.7L963 537.7L964 538L965 537.2L966 536.9L967 535.6L968 537.7L969 536.9L970 537.8L971 538.4L972 539.2L973 539.6L974 539.8L975 539.8L976 540.1L977 538.7L978 538.8L979 538.5L980 537.5L981 536.5L982 536.1L983 535.5L984 536.2L985 537.8L986 538.2L987 538.4L988 539.2L989 539.7L990 539.3L991 540.3L992 540.4L993 540.6L994 540.5L995 540.3L996 540.4L997 539.8L998 540L999 540.6L1000 540.5L1001 540.5L1002 540.4L1003 540.8L1004 540.4L1005 540.2L1006 540.3L1007 540.3L1008 539.9L1009 539.6L1010 539.4L1011 538.8L1012 538.4L1013 539.4L1014 538.9L1015 538.7L1016 539.5L1017 539.9L1018 539.4L1019 540.3L1020 539.8L1021 540.7L1022 540.2L1023 540.9L1024 540.5L1025 541.1L1026 541L1027 540.8L1028 540.7L1029 541.1L1030 540.4L1031 540.5L1032 540.5L1033 540.6L1034 540.6L1035 541L1036 540.3L1037 540.1L1038 541.2L1039 540.5L1040 540.6L1041 540.9L1042 541.2L1043 540.6L1044 541.1L1045 541.8L1046 540.9L1047 540.8L1048 540.8L1049 540.9L1050 540.9L1051 540.7L1052 540.3L1053 541.5L1054 540.9L1055 540.7L1056 541.4L1057 541.1L1058 540.4L1059 540.2L1060 540.7L1061 541L1062 540.9L1063 540.7L1064 541.3L1065 540.5L1066 540.5L1067 540.4L1068 541.4L1069 540.8L1070 540.9L1071 540.9L1072 540.5L1073 540L1074 540.2L1075 540.3L1076 540.8L1077 540.5L1078 540.3L1079 539.8L1080 540.5L1081 539.2L1082 539.5L1083 538.8L1084 537.8L1085 536.2L1086 533.8L1087 529.7L1088 523L1089 517L1090 510.4L1091 509.2L1092 514.1L1093 521.4L1094 527.9L1095 531.9L1096 535.7L1097 537.9L1098 539.1L1099 539.5L1100 539.9L1101 539.4L1102 540.1L1103 539.2L1104 540.7L1105 540.3L1106 539.9L1107 540.8L1108 540.7L1109 540.5L1110 540.6L1111 540.4L1112 540.8L1113 540.6L1114 540.8L1115 540.7L1116 541.2L1117 540.3L1118 540.7L1119 541L1120 541L1121 541.1L1122 540.9L1123 540.9L1124 541.2L1125 540.9L1126 541.2L1127 540.7L1128 541L1129 540.8L1130 540.8L1131 540.8L1132 541.1L1133 540.9L1134 541.1L1135 541L1136 540.8L1137 541L1138 541.1L1139 540.8L1140 541.1L1141 541L1142 540.9L1143 540.7L1144 540.7L1145 541.2L1146 541.1L1147 541.1L1148 540.6L1149 540.4L1150 540.8L1151 541.3L1152 541.4L1153 541.5L1154 541L1155 540.8L1156 541L1157 540.4L1158 540.9L1159 540.2L1160 540.1L1161 540.1L1162 539.7L1163 539.3L1164 538.9L1165 538.1L1166 538.6L1167 539.1L1168 539.1L1169 539.5L1170 539.5L1171 539.7L1172 540L1173 540L1174 540.6L1175 540.1L1176 540.1L1177 540.4L1178 539.7L1179 540L1180 540L1181 540.1L1182 539.1L1183 538.2L1184 536.8L1185 534.7L1186 531.2L1187 527.6L1188 522.6L1189 520.1L1190 520.3L1191 523.1L1192 526.6L1193 530.2L1194 534.2L1195 536.5L1196 538.1L1197 539.2L1198 539.8L1199 539.2L1200 539.9L1201 540L1202 540.2L1203 540.3L1204 540.1L1205 540.5L1206 540.5L1207 540.5L1208 541.1L1209 540.4L1210 540.5L1211 540.8L1212 539.6L1213 541L1214 539.4L1215 540.2L1216 540.1L1217 540.4L1218 540L1219 539.5L1220 538.8L1221 537.8L1222 534.1L1223 530.5L1224 527.2L1225 521.4L1226 519.7L1227 523.4L1228 528.3L1229 533.7L1230 536.3L1231 538L1232 539.7L1233 539.6L1234 540L1235 540.3L1236 541.1L1237 540.9L1238 540.6L1239 540.9L1240 540.5L1241 541.2L1242 540.4L1243 541.1L1244 541.4L1245 540.8L1246 542L1247 541L1248 541.8L1249 541.5L1250 540.7L1251 540.7L1252 541L1253 540.7L1254 541L1255 540.4L1256 541.3L1257 541.3L1258 540.5L1259 541.1L1260 541L1261 540.9L1262 541.1L1263 541.2L1264 541.3L1265 541.2L1266 541.2L1267 540.9L1268 541L1269 541.2L1270 540.7L1271 541.3L1272 541.1L1273 540.9L1274 541.6L1275 541.1L1276 541.5L1277 541.3L1278 540.9L1279 541.3L1280 540.8L1281 541.1L1282 540.7L1283 540.9L1284 540.8L1285 541.1L1286 541L1287 541.2L1288 541.1L1289 540.9L1290 540.5L1291 540.7L1292 540.6L1293 541L1294 540.9L1295 540.4L1296 541.1L1297 541L1298 540.9L1299 540.4L1300 540.3L1301 540L1302 540.5L1303 540.6L1304 540.3L1305 540.8L1306 540.1L1307 540.4L1308 541.2L1309 540.9L1310 541.2L1311 540.9L1312 540.6L1313 540.9L1314 541L1315 541.3L1316 541.2L1317 541L1318 541.3L1319 540.8L1320 540.8L1321 541.1L1322 540.8L1323 541.3L1324 540.7L1325 540.9L1326 541.1L1327 540.7L1328 540.8L1329 541.2L1330 540.3L1331 540.8L1332 541.4L1333 540.6L1334 540.4L1335 540.3L1336 539.5L1337 539.4L1338 538.2L1339 536.9L1340 533.6L1341 529.4L1342 525.2L1343 522.1L1344 521.5L1345 524.1L1346 528.9L1347 533L1348 536.7L1349 538.2L1350 540L1351 539.8L1352 539.9L1353 539.9L1354 541.2L1355 540.9L1356 540.8L1357 540.6L1358 540.6L1359 540.7L1360 540.1L1361 540.4L1362 541.7L1363 540.7L1364 540.3L1365 540.8L1366 541.2L1367 541L1368 540.5L1369 540.8L1370 540.1L1371 539.6L1372 539L1373 538L1374 536.9L1375 534.5L1376 533.2L1377 533.2L1378 533.4L1379 534.9L1380 536.6L1381 538.2L1382 538.9L1383 539.4L1384 540.5L1385 540.4L1386 540.5L1387 540.8L1388 541L1389 541.4L1390 540.6L1391 540.7L1392 540.3L1393 540.6L1394 539.6L1395 539.4L1396 539.2L1397 538L1398 537.6L1399 536.5L1400 536.3L1401 536.3L1402 536.5L1403 538.2L1404 539.3L1405 539.5L1406 540L1407 541.3L1408 540.9L1409 541L1410 541.7L1411 540.8L1412 541.2L1413 540.9L1414 541.4L1415 541L1416 541.7L1417 540.6L1418 541.3L1419 541.3L1420 541.2L1421 541.5L1422 540.7L1423 541.2L1424 541.1L1425 540.9L1426 541.6L1427 541.7L1428 540.8L1429 541.5L1430 541.7L1431 541.5L1432 540.8L1433 541L1434 541.7L1435 541L1436 541.7L1437 541.4L1438 541.2L1439 541.6L1440 541.6L1441 540.9L1442 541.4L1443 541.5L1444 540.8L1445 541.2L1446 541.4L1447 540.7L1448 540.9L1449 541.4L1450 540.9L1451 540.7L1452 541.1L1453 540.7L1454 541.2L1455 541.1L1456 540.7L1457 539.9L1458 539.6L1459 538.4L1460 536.7L1461 533.6L1462 530.3L1463 527L1464 525L1465 525.9L1466 528.9L1467 531.4L1468 534.9L1469 536.7L1470 538.7L1471 539.4L1472 540.5L1473 540.3L1474 541.2L1475 540.8L1476 540.8L1477 540.8L1478 541.4L1479 541.1L1480 541.1L1481 541L1482 540.9L1483 541.6L1484 540.7L1485 541.4L1486 541.5L1487 541.2L1488 541.3L1489 541.3L1490 541.6L1491 541.7L1492 540.5L1493 540.9L1494 541.6L1495 540.8L1496 541L1497 542L1498 541.3L1499 541L1500 540.9L1501 541.4L1502 541.2L1503 541.4L1504 541L1505 541.6L1506 541.1L1507 541.3L1508 541.2L1509 541.3L1510 540.7L1511 540.5L1512 540.6L1513 540.1L1514 540.3L1515 540.6L1516 540.9L1517 540.7L1518 540.7L1519 541.5L1520 541L1521 541.2L1522 541.7L1523 541.4L1524 541.2L1525 541.6L1526 541.1L1527 540.9L1528 541.4L1529 541.5L1530 541.5L1531 541.3L1532 541.7L1533 541.2L1534 541.1L1535 541.2L1536 541.2L1537 541.4L1538 541.3L1539 541.4L1540 541.2L1541 541.4L1542 541.2L1543 541.4L1544 541.3L1545 540.8L1546 541.5L1547 541.4L1548 541.7L1549 541.6L1550 541.6L1551 541.3L1552 541.7L1553 541.9L1554 541.3L1555 541.3L1556 541.5L1557 542.1L1558 540.4L1559 541.5L1560 541.4L1561 541.7L1562 541.3L1563 541.6L1564 542L1565 541.8L1566 541L1567 541.7L1568 541.3L1569 541.6L1570 541.6L1571 541.5L1572 540.6L1573 541.5L1574 541.9L1575 541.1L1576 541.8L1577 541.6L1578 541.8L1579 541.7L1580 541.1L1581 541.3L1582 541.8L1583 541.5L1584 541.4L1585 541.3L1586 541.5L1587 541.2L1588 541.7L1589 541.2L1590 541.2L1591 540.7L1592 540.9L1593 540.1L1594 539.8L1595 537.8L1596 536.4L1597 534.6L1598 533.2L1599 533.5L1600 535.8L1601 536.9L1602 538.9L1603 539.8L1604 540.3L1605 541.3L1606 540.8L1607 540.5L1608 541.3L1609 541L1610 541.2L1611 542L1612 541.5L1613 541.9L1614 541.8L1615 541.6L1616 541L1617 541.8L1618 541.3L1619 541.8L1620 541.8L1621 541.3L1622 542L1623 541.2L1624 541.8L1625 541.6L1626 541.9L1627 541.5L1628 541.2L1629 541.8L1630 541.3L1631 541.3L1632 541.3L1633 541.1L1634 540.8L1635 542.1L1636 541.5L1637 541.6L1638 541.3L1639 541.6L1640 540.9L1641 542.2L1642 542.1L1643 542L1644 542.2L1645 541.8L1646 541.5L1647 541.6L1648 541.1L1649 541.6L1650 541.6L1651 541.3L1652 541.6L1653 541.4L1654 541.7L1655 541.7L1656 541.2L1657 541.3L1658 541.2L1659 541.2L1660 541.7L1661 541.6L1662 542.3L1663 542L1664 541.9L1665 541.7L1666 541.3L1667 540.9L1668 541.8L1669 541.5L1670 541.7L1671 541.8L1672 541.2L1673 541.7L1674 541.8L1675 541.6L1676 541.9L1677 542.1L1678 541L1679 541.5L1680 541.4L1681 541.4L1682 541.4L1683 541.5L1684 541.1L1685 541.6L1686 541.2L1687 542.1L1688 541.3L1689 541.8L1690 541.9L1691 541.2L1692 541.5L1693 541.3L1694 542L1695 541.8L1696 542.1L1697 541.1L1698 542L1699 541.6L1700 541.6L1701 541.8L1702 541.3L1703 541.6L1704 541.5L1705 541.6L1706 541.1L1707 542L1708 541.2L1709 541.7L1710 541.2L1711 541.5L1712 542L1713 542L1714 541.3L1715 541.5L1716 541.3L1717 541.2L1718 541.9L1719 541L1720 541.4L1721 541.5L1722 541.6L1723 542.2L1724 541.7L1725 542.4L1726 541.3L1727 541.4L1728 541.1L1729 541.8L1730 541.5L1731 541.3L1732 541.2L1733 541.4L1734 540.1L1735 541.7L1736 541.4L1737 540.6L1738 540.8L1739 540.5L1740 540.2L1741 538.9L1742 538.8L1743 538L1744 536.3L1745 534.7L1746 533.9L1747 534.1L1748 534.8L1749 536.1L1750 538.1L1751 538.4L1752 539.1L1753 539.5L1754 540.1L1755 541.3L1756 540.9L1757 540.7L1758 540.3L1759 541.1L1760 541.5L1761 540.9L1762 540.4L1763 540.5L1764 540.9L1765 540.6L1766 539.2L1767 538.1L1768 536.9L1769 533.3L1770 527.7L1771 520.1L1772 509.9L1773 503.2L1774 504.6L1775 511.2L1776 520.5L1777 525.8L1778 527.7L1779 527L1780 523.9L1781 524.1L1782 527.6L1783 532.9L1784 536.1L1785 538.4L1786 539.7L1787 540.1L1788 540.3L1789 541L1790 540.8L1791 541.2L1792 540.8L1793 541.1L1794 540.9L1795 541.3L1796 540.3L1797 541.6L1798 541.2L1799 541.6L1800 541.4L1801 541.2L1802 541.7L1803 541L1804 541.4L1805 541.3L1806 542.3L1807 541.2L1808 541L1809 540.7L1810 540.7L1811 540.1L1812 539.7L1813 540.3L1814 540.1L1815 540.7L1816 540.2L1817 540.4L1818 540.8L1819 541.5L1820 541.4L1821 542.1L1822 541.5L1823 541.7L1824 541.9L1825 542L1826 541.9L1827 542.3L1828 542.1L1829 541.7L1830 541.3L1831 542.3L1832 541.8L1833 541.8L1834 541.8L1835 541.9L1836 541.6L1837 541.8L1838 541.8L1839 541.8L1840 541.7L1841 542.2L1842 541.6L1843 541L1844 542.3L1845 541.9L1846 542.1L1847 541.9L1848 541.4L1849 542.1L1850 541.6L1851 541.8L1852 542.1L1853 542.2L1854 542L1855 541.8L1856 542.1L1857 542L1858 541.4L1859 541.4L1860 541.7L1861 542.3L1862 542.1L1863 542L1864 541.6L1865 541.5L1866 541.1L1867 541.9L1868 541.8L1869 542.2L1870 542L1871 541.6L1872 542.1L1873 542L1874 542.2L1875 542.1L1876 542.2L1877 541.6L1878 542.1L1879 541.2L1880 542.5L1881 541.8L1882 542.4L1883 541.9L1884 541.9L1885 541.9L1886 542.1L1887 541.6L1888 541.9L1889 542.1L1890 541.6L1891 541.9L1892 542.2L1893 541.8L1894 542.1L1895 541.9L1896 541.8L1897 542.4L1898 542.2L1899 541.3L1900 541.8L1901 541.7L1902 542.1L1903 541.5L1904 541.8L1905 541.9L1906 541.6L1907 541.3L1908 542.5L1909 541.6L1910 542L1911 541.8L1912 542.3L1913 542.2L1914 541.8L1915 541.9L1916 542.3L1917 541.9L1918 541.9L1919 541.3L1920 541.5L1921 541.4L1922 540.8L1923 541.2L1924 540.2L1925 539.2L1926 538.6L1927 537.6L1928 536.2L1929 534.7L1930 534.2L1931 533.4L1932 533.8L1933 534.6L1934 536.5L1935 537.3L1936 538.8L1937 539.5L1938 540.6L1939 540.5L1940 541.1L1941 541.3L1942 542L1943 541.9L1944 541.3L1945 541.5L1946 541.3L1947 541.5L1948 542.6L1949 541.7L1950 541.8L1951 541.3L1952 541.4L1953 541.2L1954 541L1955 541.7L1956 542.1L1957 541.3L1958 540.1L1959 539.7L1960 537.1L1961 536.2L1962 535.4L1963 533.3L1964 532.7L1965 534.4L1966 535.6L1967 538.3L1968 539L1969 539.6L1970 541.3L1971 540.9L1972 541.9L1973 541.5L1974 541.4L1975 542L1976 541.5L1977 542.1L1978 540.8L1979 540.3L1980 539.3L1981 539.2L1982 539.5L1983 538.7L1984 539.8L1985 540.1L1986 540.3L1987 541.5L1988 542L1989 541.7L1990 541.7L1991 542L1992 541.7L1993 542.2L1994 542.3L1995 541.3L1996 541.7L1997 541.6L1998 541.9L1999 542.2L2000 541.9L2001 542.5L2002 542.8L2003 542.5L2004 542.2L2005 541.9L2006 542L2007 541.8L2008 541.9L2009 542L2010 542.3L2011 542.2L2012 542.3L2013 541.6L2014 541.4L2015 542L2016 542.2L2017 542.3L2018 542.2L2019 541.9L2020 542.5L2021 541.3L2022 541.8L2023 541.8L2024 542.4L2025 542.2L2026 542.1L2027 541.8L2028 542.4L2029 542.2L2030 542L2031 542.4L2032 542.5L2033 542.5L2034 542.3L2035 542.4L2036 541.7L2037 542.4L2038 542L2039 542.5L2040 542L2041 542.5L2042 542.4L2043 542.1L2044 541.5L2045 542.1L2046 541.9L2047 541.5L2048 542.6L2049 542.2L2050 541.8L2051 542.7L2052 542.1L2053 542.7L2054 542.2L2055 542.2L2056 542.8L2057 541.9L2058 541.4L2059 542L2060 542.1L2061 541.8L2062 541.3L2063 541.9L2064 542.3L2065 541.7L2066 541.7L2067 541.6L2068 541.6L2069 541.7L2070 540.7L2071 541.3L2072 541L2073 541L2074 540.8L2075 540.1L2076 540.3L2077 540.9L2078 540.4L2079 540.4L2080 541.3L2081 541.1L2082 540.5L2083 541.7L2084 540.8L2085 541.3L2086 542.2L2087 541.2L2088 541.3L2089 542.3L2090 542.2L2091 541.7L2092 542.2L2093 541.6L2094 542.2L2095 541.8L2096 542L2097 542.2L2098 542L2099 542.5L2100 542.6L2101 542.6L2102 542.2L2103 542.3L2104 542L2105 542L2106 542L2107 542.4L2108 542.5L2109 541.7L2110 541.5L2111 542.5L2112 542L2113 542.1L2114 542.2L2115 542.9L2116 542.4L2117 542.6L2118 541.9L2119 542.8L2120 541.9L2121 541.5L2122 542.5L2123 542.2L2124 542.3L2125 542.4L2126 541.9L2127 541.9L2128 542L2129 542.1L2130 542.5L2131 541.9L2132 542.1L2133 542.5L2134 542.8L2135 542.4L2136 542.3L2137 543L2138 541.8L2139 542.3L2140 542.2L2141 542.5L2142 542.7L2143 542.4L2144 542.4L2145 542.2L2146 542.5L2147 542.1L2148 541.5L2149 542.2L2150 542.7L2151 542.1L2152 542.1L2153 542.1L2154 541.8L2155 542.2L2156 542.7L2157 542.1L2158 542.1L2159 542.5L2160 541.7L2161 541.9L2162 541.9L2163 541.4L2164 539.6L2165 537.3L2166 531.5L2167 519"/>
<path class="m" stroke="#0070E0" d="M826.20 451.1L828.50 439.1L830.80 451.1M877.67 443.6L879.97 431.6L882.27 443.6"/>
<path class="c" stroke="#FF3C3C" d="M161 615.4L162 615.5L163 614.8L164 615.4L165 614.9L166 615L167 615.2L168 615.4L169 615.4L170 615.9L171 614.9L172 615.6L173 615.1L174 614.8L175 615.5L176 615.7L177 614.9L178 614.7L179 615.2L180 616.1L181 615.6L182 615L183 614.6L184 615L185 615.1L186 615.5L187 615.4L188 615.2L189 615.2L190 614.9L191 614.7L192 615.9L193 615.2L194 615.2L195 614.6L196 615.8L197 615.9L198 615.7L199 614.8L200 615.2L201 615.5L202 615.3L203 615L204 615.5L205 614.7L206 615.4L207 615.5L208 615.4L209 615.3L210 614.7L211 615.4L212 615.2L213 615.3L214 615.2L215 615.3L216 615L217 615.6L218 614.9L219 615L220 615.2L221 615.4L222 614.8L223 615.1L224 615L225 614.8L226 614.9L227 614.7L228 615.6L229 614.6L230 614.7L231 614.1L232 614.7L233 614L234 613.4L235 614.1L236 613.8L237 612.9L238 613.1L239 612.4L240 611.9L241 611.9L242 610.3L243 609.8L244 609L245 608.7L246 607.2L247 606.8L248 604.5L249 603.9L250 601.4L251 600.9L252 599.8L253 599.6L254 598.8L255 599.4L256 599.8L257 601.8L258 601.9L259 603.3L260 605.7L261 607L262 608L263 608.6L264 609.6L265 610.4L266 611.4L267 612.2L268 612.2L269 612.9L270 613.1L271 614L272 614.5L273 615.1L274 614.4L275 615.1L276 615.5L277 615.5L278 615.4L279 615.5L280 616L281 616.2L282 616.5L283 616.2L284 615.9L285 616.2L286 616.1L287 616.6L288 616.9L289 617.3L290 617.2L291 616.8L292 617.4L293 616.4L294 617.1L295 616.9L296 617.2L297 616.6L298 617.2L299 617.6L300 617.1L301 616.9L302 617.6L303 617.2L304 616.2L305 616.7L306 617L307 617.2L308 617L309 615.9L310 615.4L311 612.9L312 609.6L313 604.6L314 601.8L315 603.2L316 607.6L317 611.8L318 615L319 616.4L320 617.2L321 617.2L322 617.4L323 617.7L324 617.9L325 617.6L326 617.9L327 617.9L328 618L329 618.1L330 617.7L331 618.4L332 617.6L333 618L334 618.6L335 617.6L336 618.1L337 618.4L338 618.1L339 618L340 618L341 618.1L342 618.6L343 619.2L344 618L345 617.9L346 617.6L347 618.4L348 618.8L349 618.6L350 618.3L351 618.1L352 618.2L353 618.5L354 618.6L355 618.9L356 618.6L357 619.2L358 618.9L359 618.5L360 619.1L361 617.6L362 618.4L363 618.8L364 619.2L365 618.7L366 617.8L367 618.3L368 618.4L369 618.5L370 618.6L371 619.1L372 618.8L373 619L374 618.7L375 619.1L376 618.8L377 618.6L378 618.4L379 618.7L380 618.7L381 618.5L382 618.7L383 618.9L384 618.9L385 619.1L386 618.4L387 619.1L388 618.2L389 619L390 619L391 618.8L392 618.7L393 618.9L394 618.2L395 618.4L396 618.3L397 618.1L398 618.8L399 618.1L400 618.3L401 618.4L402 619L403 618.6L404 618.7L405 618.7L406 618.6L407 618.5L408 618.8L409 619.2L410 618.6L411 619.1L412 618.4L413 619.8L414 618.8L415 619.1L416 619L417 619.1L418 618.5L419 618.4L420 618.8L421 618.6L422 619.5L423 619.2L424 619.3L425 619.1L426 618.9L427 619.4L428 619.2L429 619.2L430 618.7L431 618.5L432 618.7L433 618.9L434 618.4L435 619.2L436 618.9L437 619.7L438 619.2L439 618.7L440 618.7L441 618.9L442 619.2L443 619.3L444 619L445 619L446 619.2L447 619.4L448 618.9L449 619.3L450 618.9L451 618.7L452 618.6L453 618.7L454 619.4L455 618.4L456 619.8L457 619.3L458 618.9L459 618.6L460 619L461 618.4L462 618.7L463 617.9L464 618.3L465 618.3L466 617.9L467 618.1L468 618.4L469 618.3L470 618.6L471 618.7L472 618.8L473 618.8L474 618.8L475 619.3L476 618.7L477 618.4L478 618.5L479 618.6L480 618.4L481 618.5L482 619.3L483 618.8L484 619L485 618.6L486 618.7L487 619L488 619.7L489 618.9L490 618.8L491 618.9L492 618.7L493 619.4L494 619.2L495 618.5L496 619L497 618.9L498 619L499 618.8L500 619L501 619L502 618.9L503 618.5L504 619.4L505 618.5L506 618.7L507 619.2L508 618.6L509 618.3L510 618.8L511 618.7L512 619.1L513 618.9L514 619.5L515 619.3L516 618.9L517 619.6L518 619.9L519 618.6L520 618.7L521 618.6L522 619L523 618.8L524 618.8L525 618.4L526 619.1L527 618.9L528 618.9L529 619L530 619.2L531 619.1L532 618.8L533 618.5L534 618.4L535 618.8L536 619.5L537 619L538 618.8L539 619.2L540 618.9L541 618.6L542 619.1L543 618.3L544 618.7L545 618.3L546 618L547 618.3L548 618.6L549 617.8L550 617.8L551 618.2L552 617.4L553 617L554 617L555 616.7L556 616.8L557 616.8L558 616.4L559 616.6L560 617L561 617.2L562 617.6L563 618.1L564 618L565 618.5L566 618.3L567 618.6L568 618.6L569 618.8L570 618.6L571 618.2L572 618.9L573 618.7L574 618.3L575 618.4L576 618.5L577 618.4L578 618.5L579 618.2L580 618.5L581 618.6L582 619L583 619.1L584 618.5L585 618.4L586 618.9L587 617.2L588 617.7L589 617.9L590 616.7L591 615.9L592 613.3L593 606.4L594 585.9L595 553.2L596 544.1L597 574.6L598 601L599 611.5L600 614.7L601 616.7L602 616.6L603 617.5L604 617.6L605 618.3L606 618.1L607 618.3L608 618L609 619L610 618.5L611 618.5L612 618.1L613 618.6L614 618.9L615 618.1L616 618.8L617 618.4L618 618.4L619 618.9L620 618.5L621 619.1L622 619.2L623 618.3L624 618.7L625 618.7L626 619L627 618.4L628 618.1L629 618.7L630 619.1L631 618.5L632 618.5L633 618.4L634 617.6L635 618.6L636 618.4L637 618.5L638 618.1L639 617.4L640 615.9L641 614.1L642 612.3L643 612.2L644 612.1L645 613.6L646 615.6L647 617.3L648 617.6L649 618L650 618.3L651 618.9L652 618.8L653 618.7L654 618.6L655 619.1L656 618.2L657 618.5L658 618.5L659 618.3L660 619.1L661 618.5L662 619L663 618.4L664 618.8L665 618.7L666 618.5L667 618.8L668 618.4L669 618.2L670 618.7L671 619.2L672 618.7L673 619.2L674 618.5L675 618.7L676 618.4L677 618.1L678 618.2L679 618.2L680 617.7L681 617.9L682 617.1L683 617.3L684 616.7L685 617.5L686 617L687 617.4L688 619L689 618.2L690 617.9L691 618.8L692 618.3L693 618L694 618.7L695 618.7L696 618.1L697 618.5L698 618.5L699 618L700 616.8L701 616.4L702 615.1L703 613.7L704 613.9L705 614.9L706 615.6L707 616.1L708 617.5L709 617.6L710 617.9L711 618L712 618.4L713 617.7L714 618.1L715 617.6L716 618.3L717 617.4L718 617.7L719 617.7L720 617.6L721 616.7L722 616.1L723 615.1L724 613.7L725 611.1L726 609.4L727 607.3L728 605.2L729 605.6L730 606.4L731 608.7L732 609.9L733 611.8L734 613.7L735 615.4L736 616.2L737 616.8L738 616.5L739 617.1L740 617.3L741 616.9L742 617.5L743 616.8L744 617L745 616.4L746 616.3L747 615.9L748 616L749 615.8L750 615.5L751 614.8L752 614L753 614.2L754 612.1L755 611.6L756 611L757 610.1L758 610.4L759 610.3L760 610L761 609.9L762 611.1L763 612L764 611.9L765 613.3L766 613.1L767 614.6L768 615.3L769 616.2L770 616.2L771 616.4L772 616L773 617.3L774 617.6L775 617.2L776 617.4L777 617.8L778 617.9L779 617.6L780 618.1L781 617.4L782 618.2L783 617.7L784 617.9L785 618.3L786 618.1L787 617.9L788 618.8L789 617.8L790 617.2L791 617.5L792 618.2L793 618.4L794 617.5L795 617.5L796 617.6L797 617.7L798 617.9L799 617.5L800 617.9L801 617.4L802 617.2L803 618L804 616.8L805 617.1L806 616.8L807 616.8L808 617L809 616.4L810 616.6L811 616.3L812 615.6L813 615.5L814 615.7L815 613.9L816 613.3L817 612.9L818 612.1L819 610.9L820 608.8L821 606.5L822 602.6L823 597.6L824 589L825 574.7L826 555.5L827 532.3L828 515.1L829 515.2L830 532.7L831 555.7L832 575.5L833 588.7L834 597.5L835 602.9L836 606.4L837 609.2L838 611.9L839 612.6L840 613.4L841 614.4L842 614.7L843 615.4L844 615.6L845 616.5L846 616.4L847 617.3L848 617.4L849 617.2L850 617.6L851 617.1L852 617.6L853 618.3L854 618.2L855 618.1L856 617.9L857 617.5L858 617.5L859 616.9L860 615.9L861 615.6L862 614.7L863 616.5L864 616.7L865 617.3L866 616.9L867 617.2L868 616.7L869 614.3L870 612L871 609.6L872 608.2L873 608L874 607.3L875 604.9L876 600.5L877 573.6L877.7 539L880 527.6L882.3 539.6L883 578.4L884 601.7L885 606.6L886 610.2L887 612.5L888 613.9L889 614L890 614.4L891 614.6L892 615.1L893 615L894 615.3L895 616.4L896 617.4L897 617.6L898 618.3L899 618.5L900 620L901 619.9L902 620.3L903 620.6L904 620.6L905 621L906 620.6L907 620.8L908 620.4L909 620.3L910 619.9L911 620.9L912 620.6L913 620.5L914 620.8L915 620.1L916 621L917 620.4L918 620.9L919 620.8L920 620.4L921 620.9L922 620.4L923 621.7L924 620.6L925 621.1L926 620.9L927 620.7L928 621.1L929 621.5L930 620.8L931 620.7L932 621.2L933 620.8L934 620.9L935 621.3L936 620.8L937 621.1L938 620.6L939 620.5L940 621L941 621L942 621.2L943 620.8L944 621L945 621.1L946 621.2L947 620.7L948 621L949 620.7L950 621.1L951 620.9L952 621L953 620.8L954 621.1L955 620.9L956 620.4L957 621.1L958 621.3L959 620.8L960 620.7L961 620.8L962 619.9L963 619.6L964 619.4L965 619.8L966 619L967 619L968 619.1L969 619.8L970 619.3L971 619.7L972 619.4L973 620.7L974 620.5L975 620.9L976 620.1L977 620.6L978 620.4L979 620.2L980 619.8L981 618.7L982 618.7L983 617.7L984 618.4L985 618.9L986 619.6L987 620L988 620.1L989 621.6L990 621.1L991 621.1L992 621.6L993 621.2L994 620.8L995 621.4L996 621.5L997 621.4L998 621.3L999 621.6L1000 620.8L1001 621.7L1002 621.8L1003 621.5L1004 620.8L1005 621.7L1006 621.3L1007 621.4L1008 621.2L1009 620.6L1010 621.2L1011 620.2L1012 620L1013 619.6L1014 619.6L1015 619.4L1016 620.3L1017 620.3L1018 620.1L1019 620.7L1020 621.1L1021 621.9L1022 621.2L1023 620.9L1024 621.4L1025 621.4L1026 621.7L1027 621.5L1028 621.7L1029 621.5L1030 621.6L1031 621.3L1032 621.5L1033 621.6L1034 621.2L1035 621.6L1036 621.4L1037 621.3L1038 621L1039 621.2L1040 622.1L1041 621.5L1042 621.9L1043 621.3L1044 622.2L1045 621.3L1046 621.6L1047 621.7L1048 621.5L1049 621.5L1050 621.1L1051 621.4L1052 621.2L1053 621.8L1054 621.2L1055 621.7L1056 621.2L1057 622.2L1058 622L1059 622.3L1060 621.4L1061 621.6L1062 621.8L1063 621.2L1064 621.5L1065 621.4L1066 621.6L1067 621.3L1068 621.4L1069 621.3L1070 621.7L1071 621.3L1072 621L1073 621.1L1074 621.4L1075 620.7L1076 621.1L1077 621.3L1078 620.7L1079 620.8L1080 620.7L1081 620.3L1082 620.3L1083 620.1L1084 618.9L1085 617.2L1086 614.9L1087 610.7L1088 604.6L1089 598.3L1090 591.9L1091 591.6L1092 595.7L1093 602.1L1094 608.5L1095 614L1096 616.3L1097 618.6L1098 620.5L1099 620.2L1100 620.7L1101 620.8L1102 621.4L1103 621L1104 621.4L1105 621.3L1106 620.6L1107 621.4L1108 621.2L1109 621.2L1110 620.8L1111 622L1112 621.6L1113 621.4L1114 621.3L1115 621L1116 621.5L1117 621.4L1118 621.7L1119 622.2L1120 621.6L1121 621.7L1122 621.2L1123 621.9L1124 621.7L1125 622L1126 621.8L1127 621.9L1128 622L1129 621.4L1130 621.2L1131 621.5L1132 621.9L1133 621.5L1134 621.9L1135 621.5L1136 622.2L1137 621.5L1138 621.4L1139 621.5L1140 621.7L1141 621.5L1142 621.8L1143 621.7L1144 622.1L1145 621L1146 622.1L1147 622.6L1148 621.3L1149 621L1150 621.8L1151 621.1L1152 621.5L1153 621.6L1154 621.7L1155 621.8L1156 620.9L1157 621.5L1158 621L1159 621.6L1160 621L1161 621L1162 620.2L1163 619.6L1164 618.8L1165 619.3L1166 619.3L1167 618.7L1168 618.5L1169 619.5L1170 619.8L1171 620.6L1172 620.6L1173 620.2L1174 621.1L1175 621.1L1176 621.2L1177 621.2L1178 621.1L1179 620.4L1180 620.7L1181 620.7L1182 620L1183 619.2L1184 617.1L1185 615L1186 611.2L1187 607.8L1188 603.4L1189 601L1190 600.6L1191 603.2L1192 607.4L1193 611.3L1194 615L1195 617.1L1196 618.6L1197 619.4L1198 620.7L1199 620.5L1200 621.3L1201 620.6L1202 621.7L1203 621.5L1204 622.1L1205 622L1206 621.4L1207 621.4L1208 621.3L1209 621.1L1210 621.3L1211 621.6L1212 621.1L1213 621.5L1214 621.4L1215 621L1216 621.1L1217 620.3L1218 620.8L1219 620.1L1220 619.6L1221 617.8L1222 614.4L1223 610.3L1224 605.3L1225 598.9L1226 598.7L1227 602.4L1228 607.5L1229 612.9L1230 616L1231 618.8L1232 619.7L1233 620.6L1234 621.1L1235 621.2L1236 621L1237 622L1238 621.5L1239 621.3L1240 621.7L1241 621.6L1242 620.7L1243 621.8L1244 621.7L1245 622L1246 621.8L1247 622.1L1248 621.9L1249 622.2L1250 622.9L1251 621.7L1252 622.1L1253 621.7L1254 621.8L1255 621.6L1256 621.9L1257 621.8L1258 622.4L1259 621.8L1260 622L1261 622.4L1262 622.5L1263 621.7L1264 622.2L1265 622.3L1266 622.6L1267 622.3L1268 622.3L1269 621.9L1270 622.2L1271 621.7L1272 621.4L1273 622.3L1274 621.8L1275 622.2L1276 622L1277 622.3L1278 621.4L1279 621.8L1280 622.3L1281 622.2L1282 621.5L1283 621.5L1284 622.3L1285 622.1L1286 621.6L1287 621.6L1288 621.3L1289 621.7L1290 621.3L1291 621.8L1292 621.5L1293 621L1294 621.8L1295 621.3L1296 620.6L1297 620.9L1298 621.5L1299 620.5L1300 620.4L1301 621.3L1302 621.4L1303 620.8L1304 621.1L1305 621.3L1306 621.7L1307 621.7L1308 621.4L1309 621.1L1310 622.5L1311 621.6L1312 621.7L1313 621.2L1314 621.5L1315 621.7L1316 622.5L1317 621.5L1318 621.3L1319 621.8L1320 621.6L1321 622.2L1322 622L1323 622.6L1324 621.5L1325 621.9L1326 621.6L1327 621.6L1328 622L1329 622.1L1330 622L1331 621.4L1332 621.6L1333 621.6L1334 621L1335 621.2L1336 621L1337 620.5L1338 619.5L1339 617.6L1340 615.2L1341 611.9L1342 607.1L1343 604.9L1344 604.1L1345 606.5L1346 610.6L1347 614.8L1348 617.4L1349 619.1L1350 619.8L1351 621L1352 621.3L1353 621.1L1354 621.4L1355 621.2L1356 621.8L1357 622.5L1358 621L1359 621.7L1360 621.1L1361 622L1362 621.2L1363 622L1364 621.8L1365 621L1366 621.9L1367 622.2L1368 621.3L1369 621.8L1370 621.4L1371 620.6L1372 620L1373 619L1374 617.5L1375 616.7L1376 614.5L1377 614.4L1378 615.3L1379 615.9L1380 617.4L1381 619.5L1382 619.8L1383 620.6L1384 621L1385 621.2L1386 621.8L1387 621.7L1388 621.7L1389 621L1390 621.6L1391 621.4L1392 621.9L1393 621.9L1394 621.9L1395 620.9L1396 620.5L1397 620.4L1398 619.1L1399 618.7L1400 618.2L1401 618.8L1402 619.6L1403 620.3L1404 621.2L1405 621.5L1406 622L1407 622L1408 621.8L1409 621.1L1410 622.2L1411 621.8L1412 622.1L1413 622.3L1414 621.5L1415 622.3L1416 621.6L1417 622.9L1418 622.7L1419 622.3L1420 622.6L1421 622.3L1422 621.8L1423 621.9L1424 621.7L1425 622.1L1426 622.8L1427 622.2L1428 621.6L1429 622L1430 622.2L1431 622.1L1432 622L1433 622.5L1434 621.6L1435 622.4L1436 622.4L1437 622.1L1438 621.9L1439 622.2L1440 622.5L1441 622.1L1442 621.2L1443 621.6L1444 622.2L1445 621.9L1446 621.9L1447 622L1448 621.7L1449 621.4L1450 621.9L1451 621.8L1452 622.1L1453 621.7L1454 621.6L1455 621.6L1456 620.6L1457 620.7L1458 620.2L1459 617.9L1460 615.7L1461 612.2L1462 608.4L1463 603.8L1464 601.9L1465 602.3L1466 607L1467 610.5L1468 615.1L1469 617.5L1470 619.3L1471 620.7L1472 621.5L1473 621.4L1474 621.6L1475 621.5L1476 621.6L1477 621.9L1478 622.3L1479 621.8L1480 622L1481 621.3L1482 622L1483 622.2L1484 622.6L1485 622.4L1486 622.2L1487 622.7L1488 622.3L1489 622.5L1490 622.3L1491 622.5L1492 622.2L1493 622L1494 622.2L1495 622.8L1496 621.7L1497 622.6L1498 621.8L1499 621.7L1500 622.2L1501 622.1L1502 622.2L1503 623.4L1504 622.1L1505 622.2L1506 622.3L1507 622.5L1508 622.3L1509 622.2L1510 621.5L1511 621.2L1512 621.8L1513 621L1514 621.2L1515 620.9L1516 620.9L1517 622.3L1518 622.5L1519 621.9L1520 621.7L1521 622.6L1522 622L1523 622.3L1524 622.2L1525 622.4L1526 622.4L1527 622.5L1528 622.4L1529 622.3L1530 622.4L1531 622.8L1532 622.4L1533 622.6L1534 622.6L1535 622.5L1536 622.1L1537 622.7L1538 622.1L1539 622.3L1540 622.4L1541 622.6L1542 622.5L1543 622.7L1544 622.3L1545 623L1546 622.1L1547 622.7L1548 622.8L1549 623L1550 622.5L1551 622.9L1552 623.6L1553 622.5L1554 622L1555 622.7L1556 622.8L1557 622.4L1558 622.3L1559 622.2L1560 623.2L1561 621.7L1562 622.6L1563 622.8L1564 622L1565 622.1L1566 622L1567 622.4L1568 621.9L1569 622.7L1570 622.9L1571 622.8L1572 622.2L1573 622.9L1574 622.3L1575 622.1L1576 622.8L1577 622.7L1578 621.8L1579 622.1L1580 622.4L1581 622.1L1582 622.6L1583 622.6L1584 622.5L1585 622.5L1586 622L1587 622.6L1588 621.2L1589 622.2L1590 621.6L1591 622.2L1592 620.8L1593 620.8L1594 618.6L1595 617.4L1596 615.2L1597 613L1598 611.1L1599 612.4L1600 613.6L1601 616.8L1602 618.8L1603 620.6L1604 621.5L1605 621.2L1606 621.4L1607 622L1608 622.9L1609 621.5L1610 622.9L1611 621.9L1612 621.9L1613 622.2L1614 622.7L1615 622L1616 622.3L1617 622.3L1618 622.4L1619 622.5L1620 621.8L1621 622.1L1622 621.7L1623 622.3L1624 621.8L1625 622.3L1626 622.5L1627 622.2L1628 622L1629 623.1L1630 622.7L1631 622.7L1632 622.7L1633 623.2L1634 621.9L1635 622.6L1636 622.9L1637 622.8L1638 622.6L1639 622.2L1640 622.2L1641 622.3L1642 622.7L1643 622.5L1644 622.4L1645 622.5L1646 622L1647 622.9L1648 622.2L1649 622.7L1650 622.2L1651 621.8L1652 622.5L1653 622.3L1654 621.7L1655 622.3L1656 622.6L1657 623L1658 622.3L1659 622L1660 622.5L1661 622.6L1662 622.4L1663 622.9L1664 623.1L1665 622.6L1666 622L1667 621.9L1668 622.4L1669 622.2L1670 622.9L1671 622.4L1672 623.1L1673 622L1674 623.2L1675 622.5L1676 622.7L1677 623.1L1678 622.6L1679 622.2L1680 622.7L1681 622.8L1682 622.6L1683 623L1684 622.3L1685 622.9L1686 623L1687 623.1L1688 622.5L1689 622.7L1690 622.6L1691 622.2L1692 622.6L1693 623L1694 622.1L1695 622.3L1696 622.5L1697 621.8L1698 622.6L1699 622.3L1700 622L1701 622.3L1702 622L1703 622.7L1704 621.8L1705 622.1L1706 622.3L1707 622.4L1708 622.8L1709 622.6L1710 622.5L1711 622.8L1712 622.8L1713 622.3L1714 622.4L1715 622.4L1716 622.6L1717 622.5L1718 622.5L1719 622.6L1720 621.9L1721 622.3L1722 622.8L1723 621.9L1724 622.5L1725 622.1L1726 622.7L1727 623.2L1728 622.7L1729 622.5L1730 622.2L1731 622.2L1732 622L1733 621.8L1734 621.8L1735 622L1736 621.9L1737 621.8L1738 621.8L1739 621.4L1740 621L1741 620.2L1742 619.3L1743 618.4L1744 616.5L1745 615.9L1746 614.4L1747 614.4L1748 614.7L1749 616.1L1750 617.5L1751 619.3L1752 620.2L1753 620.8L1754 621.1L1755 620.8L1756 622L1757 622.4L1758 621.8L1759 622.5L1760 621.5L1761 621.6L1762 621L1763 621.1L1764 620.7L1765 620.3L1766 619.6L1767 618.8L1768 617L1769 613.4L1770 607.5L1771 599.8L1772 589.1L1773 581.8L1774 582.3L1775 589.7L1776 598.9L1777 605.7L1778 607.4L1779 606.4L1780 603L1781 602.3L1782 607.6L1783 612.8L1784 616.6L1785 619.4L1786 620L1787 620.9L1788 621L1789 621.9L1790 621.9L1791 621.4L1792 622.6L1793 622.1L1794 622.3L1795 622.5L1796 621.8L1797 622.2L1798 622.1L1799 622.4L1800 622.1L1801 622.5L1802 622.6L1803 622.3L1804 622.9L1805 622.4L1806 621.6L1807 621.9L1808 622.1L1809 621.4L1810 621.7L1811 620.5L1812 621L1813 620.7L1814 620.7L1815 620.8L1816 621.3L1817 621.9L1818 621.8L1819 622.4L1820 621.2L1821 621.8L1822 622.1L1823 622.3L1824 622.2L1825 622.4L1826 622.8L1827 622.4L1828 622.5L1829 622.9L1830 622.7L1831 622.4L1832 622.3L1833 622.9L1834 622.7L1835 622.5L1836 623.1L1837 622.8L1838 623.3L1839 622.3L1840 621.8L1841 622.5L1842 622.6L1843 622.4L1844 622.6L1845 622.7L1846 622.5L1847 622.7L1848 622.7L1849 622.5L1850 622.6L1851 622.4L1852 622.3L1853 622.4L1854 622.3L1855 623.3L1856 622.7L1857 622.4L1858 622.9L1859 623.1L1860 623.1L1861 622.1L1862 622.4L1863 622.2L1864 622.5L1865 623L1866 623.4L1867 622.9L1868 622.5L1869 622.9L1870 622.6L1871 622.8L1872 622.2L1873 622.9L1874 623.1L1875 622.6L1876 622.6L1877 621.9L1878 622.4L1879 623L1880 622.7L1881 622.6L1882 622.4L1883 623.2L1884 623.1L1885 623.6L1886 622.5L1887 622.5L1888 622.2L1889 622.4L1890 622.7L1891 622.6L1892 622.8L1893 622.6L1894 622.8L1895 622.4L1896 622.6L1897 622.5L1898 622L1899 622.3L1900 622.7L1901 622.5L1902 622.8L1903 622.6L1904 622.8L1905 622.4L1906 623.2L1907 621.6L1908 622L1909 622.1L1910 622.8L1911 622.6L1912 622.2L1913 623L1914 622.8L1915 622.4L1916 622.2L1917 621.8L1918 622.6L1919 622.1L1920 622.6L1921 621.9L1922 622.3L1923 621.4L1924 621.4L1925 620.8L1926 619.6L1927 618.2L1928 617.5L1929 615.7L1930 614.2L1931 613.8L1932 613.9L1933 615.1L1934 617.2L1935 618.1L1936 620.1L1937 620.1L1938 620.2L1939 621L1940 622.1L1941 622L1942 622.5L1943 622.2L1944 621.9L1945 622.4L1946 622.5L1947 622.4L1948 622L1949 622.8L1950 622.9L1951 621.9L1952 622.1L1953 622.4L1954 622L1955 621.9L1956 622.3L1957 621.5L1958 621.5L1959 620.3L1960 618.5L1961 617.4L1962 615.8L1963 614.2L1964 614.9L1965 615.6L1966 616.9L1967 618.7L1968 620.3L1969 620.9L1970 621.5L1971 621.9L1972 622.3L1973 622.5L1974 622.9L1975 622.1L1976 621.7L1977 621.1L1978 621.5L1979 620.2L1980 620.4L1981 620.1L1982 620.1L1983 620.2L1984 619.8L1985 621L1986 621.8L1987 622L1988 622.3L1989 622.4L1990 623.2L1991 622.5L1992 622.1L1993 622.2L1994 623.2L1995 622.8L1996 622.6L1997 622.7L1998 622.5L1999 622.9L2000 622.3L2001 622.3L2002 622.1L2003 622.3L2004 622.9L2005 623.2L2006 623L2007 622.6L2008 622.4L2009 622.5L2010 623.2L2011 623.1L2012 622.6L2013 622.5L2014 622.7L2015 623.1L2016 623L2017 622.2L2018 622.4L2019 623.2L2020 622.9L2021 622.2L2022 622.2L2023 622.8L2024 622.2L2025 622.6L2026 622.7L2027 622.4L2028 622.9L2029 622.4L2030 622.4L2031 622.5L2032 622.8L2033 622.5L2034 622.6L2035 623L2036 623L2037 622.8L2038 622.4L2039 622.9L2040 622.4L2041 622.9L2042 623L2043 622.2L2044 622.8L2045 623.3L2046 622.6L2047 622.2L2048 622.6L2049 622.1L2050 623.6L2051 622.6L2052 622.5L2053 622.2L2054 623L2055 622.5L2056 622.9L2057 622.5L2058 622.5L2059 621.3L2060 622.2L2061 622.7L2062 622.2L2063 622L2064 622.6L2065 622.1L2066 622.3L2067 622.7L2068 622.7L2069 622.4L2070 622.4L2071 621.9L2072 622L2073 621.5L2074 621.1L2075 621.1L2076 620.4L2077 621.2L2078 621.1L2079 620.9L2080 621.3L2081 620.8L2082 621.6L2083 621.1L2084 621.9L2085 621.7L2086 622.4L2087 622.5L2088 622.1L2089 622.2L2090 622.5L2091 622.1L2092 622.6L2093 622L2094 622.4L2095 622.4L2096 622.8L2097 622.5L2098 622.9L2099 622.9L2100 622.7L2101 622.2L2102 622.4L2103 622.7L2104 623L2105 622.8L2106 622.8L2107 622.5L2108 622L2109 622.5L2110 622.8L2111 622.2L2112 622.7L2113 623.2L2114 622.9L2115 623.2L2116 622.7L2117 623.4L2118 622.4L2119 623L2120 622.6L2121 622.8L2122 622.5L2123 622.5L2124 622.3L2125 623L2126 622.6L2127 622.6L2128 622.9L2129 623.3L2130 623.4L2131 622.1L2132 622.8L2133 622.7L2134 623L2135 623.3L2136 622.9L2137 623.3L2138 622.4L2139 623.3L2140 623.3L2141 622.4L2142 622.9L2143 622.8L2144 623.3L2145 623L2146 622.8L2147 622.7L2148 622.8L2149 623.5L2150 622.9L2151 622.7L2152 623.5L2153 623.1L2154 622.8L2155 623.1L2156 622.9L2157 623L2158 622.7L2159 622.7L2160 623.5L2161 622.2L2162 622.8L2163 621.7L2164 621L2165 617.3L2166 610.8L2167 597.2"/>
<path class="m" stroke="#FF3C3C" d="M877.67 540.1L879.97 528.1L882.27 540.1"/>
<path class="c" stroke="#4D4D4D" d="M161 696.1L162 695.8L163 696.1L164 696.2L165 696L166 696.5L167 696L168 696.2L169 696.1L170 696.5L171 696.6L172 695.8L173 696.2L174 696.1L175 696.2L176 696.6L177 696.4L178 696.3L179 696.2L180 696.2L181 696.1L182 696.2L183 696.2L184 696.9L185 696L186 696.4L187 696.8L188 695.8L189 696.2L190 696.6L191 696.4L192 696.7L193 695.6L194 696.4L195 696.2L196 696L197 696.6L198 696.6L199 696.3L200 696L201 696.3L202 696L203 695.9L204 696.6L205 696.4L206 696.5L207 696L208 696.2L209 696.5L210 696.3L211 695.7L212 696.1L213 696.5L214 696.3L215 696.7L216 696L217 695.9L218 696.6L219 695.7L220 696.3L221 696L222 696L223 695.8L224 695.5L225 697.2L226 696.2L227 695.6L228 695.5L229 695L230 695.5L231 694.9L232 695.4L233 695.9L234 695.1L235 694.6L236 694.6L237 693.9L238 694.6L239 694.1L240 693.3L241 693.1L242 692.2L243 691.7L244 691.1L245 690L246 689.7L247 689.1L248 687.6L249 686.3L250 684.4L251 684L252 683.5L253 682.9L254 683L255 682.7L256 683.7L257 684.5L258 686.2L259 686.2L260 686.9L261 688.5L262 690.1L263 691L264 691.9L265 692.3L266 692.7L267 693.7L268 693.7L269 694.6L270 695L271 695.6L272 695.6L273 695.7L274 696.2L275 696.1L276 696.2L277 695.8L278 696.6L279 696.8L280 697.6L281 697.2L282 696.6L283 697.1L284 697.3L285 697.1L286 697.4L287 697.8L288 697.6L289 697.4L290 697.3L291 697.8L292 697.4L293 697.8L294 697.4L295 697.7L296 697.4L297 697.9L298 698L299 697.6L300 697.4L301 697.8L302 697.4L303 698L304 697.5L305 697.9L306 697L307 697.4L308 697.2L309 696.1L310 695.7L311 692.2L312 688.4L313 682.6L314 679.6L315 680.4L316 686.2L317 691.4L318 694.7L319 696.6L320 697.4L321 698.1L322 697.9L323 698.2L324 697.9L325 699.1L326 698.3L327 698.2L328 698.2L329 698.7L330 698.4L331 698.4L332 699.3L333 698L334 698.8L335 698.2L336 699L337 699L338 699L339 699.4L340 698.5L341 698.4L342 698.6L343 699.6L344 698.8L345 698.6L346 699.2L347 698.6L348 699.1L349 699.3L350 698.7L351 699.1L352 698.3L353 698.7L354 699.2L355 698.3L356 699.3L357 699.6L358 698.8L359 698.7L360 698.8L361 699.4L362 699L363 698.7L364 698.8L365 699L366 698.7L367 699.4L368 698.4L369 699.1L370 698.8L371 699L372 699.4L373 699.6L374 698.8L375 699.4L376 699L377 699.1L378 699.3L379 699L380 699.1L381 699L382 699.5L383 699.4L384 699.6L385 699L386 698.7L387 698.8L388 699.2L389 699L390 699.4L391 699.4L392 699.8L393 699.4L394 699L395 699.1L396 699.6L397 699.6L398 698.9L399 699.8L400 699.4L401 699.8L402 699.3L403 699.6L404 699.4L405 699.1L406 700.3L407 700.2L408 699L409 699.6L410 699.2L411 699.4L412 699.3L413 699.5L414 699.6L415 700L416 699.3L417 699.7L418 700.1L419 700L420 699.9L421 700.2L422 698.8L423 699.1L424 699.5L425 699.6L426 699.1L427 699.6L428 699.8L429 699L430 699L431 699.1L432 699.4L433 699.9L434 699.5L435 699.5L436 699.4L437 699.6L438 699.7L439 699.7L440 699.3L441 700L442 699L443 699.7L444 699.2L445 699.6L446 699.1L447 699.1L448 699.8L449 699.6L450 699.7L451 699L452 699L453 699.5L454 699.6L455 699.2L456 699.4L457 699.3L458 699.2L459 699L460 699.5L461 698.5L462 698.7L463 698.1L464 698.3L465 698L466 698.6L467 698.2L468 698.8L469 698.6L470 699.7L471 699.6L472 699.3L473 699.6L474 699.7L475 699.5L476 699.9L477 699.5L478 699.5L479 699.3L480 699.7L481 699.3L482 699.6L483 699.8L484 699.4L485 699.9L486 699.6L487 699.2L488 699.2L489 699.3L490 699.6L491 700.1L492 699.9L493 700.2L494 698.9L495 699.8L496 699.5L497 699.6L498 699.4L499 699.8L500 699.6L501 699.2L502 700L503 699.9L504 700.1L505 700.1L506 699.7L507 700L508 699.3L509 699.5L510 699.6L511 699.5L512 699.6L513 699.8L514 699.3L515 699.4L516 699.7L517 699.1L518 700L519 699.5L520 699.7L521 699.3L522 699.3L523 699L524 699.4L525 699.8L526 699.4L527 700L528 700.1L529 699L530 698.8L531 699.5L532 699.1L533 699.1L534 699.5L535 699.1L536 699.1L537 699.5L538 699.4L539 699.2L540 699L541 699.4L542 699.6L543 699.9L544 698.8L545 698.6L546 699.1L547 698.4L548 699.2L549 698.5L550 698.4L551 698.1L552 698.3L553 697.9L554 697.8L555 697.2L556 696.3L557 697L558 697.6L559 697.8L560 697.9L561 698.3L562 698.6L563 698.4L564 698L565 699L566 697.9L567 699L568 698.8L569 699.1L570 698.8L571 699.3L572 698.7L573 699.2L574 699.5L575 699.8L576 699.1L577 699.9L578 699.6L579 698.9L580 698.3L581 698.8L582 698.5L583 698.9L584 699L585 698.5L586 698.5L587 698.3L588 698.9L589 697.6L590 696.7L591 696L592 693.4L593 686.2L594 665.6L595 632L596 622.9L597 654.3L598 681.4L599 692L600 695.4L601 696.6L602 697.3L603 699L604 698.3L605 699L606 699L607 698.4L608 698.9L609 698.7L610 699.1L611 698.7L612 699.2L613 699.3L614 699L615 699.4L616 699.2L617 700.3L618 699L619 699.8L620 698.9L621 699.4L622 699.1L623 699.1L624 699.8L625 699.9L626 699.6L627 699.8L628 699.5L629 700L630 699.2L631 699.6L632 699.5L633 699.2L634 699.5L635 699.2L636 699.1L637 699.7L638 698.7L639 698.4L640 697.8L641 697.7L642 697.1L643 696.5L644 696.1L645 697.3L646 698.2L647 698.7L648 699.5L649 699.4L650 698.9L651 699.6L652 698.7L653 699.4L654 699.6L655 699.5L656 698.6L657 699.3L658 699.7L659 699.5L660 699.5L661 699.2L662 698.9L663 699.4L664 699.7L665 699.5L666 699.4L667 699.7L668 698.6L669 699.3L670 699.3L671 699.1L672 699.2L673 699.6L674 699.9L675 699.8L676 698.8L677 699.1L678 698.8L679 698.7L680 697.6L681 697.1L682 696.2L683 696.3L684 696L685 697.1L686 697.5L687 698.5L688 698.9L689 699.3L690 698.9L691 698.7L692 699.6L693 699.1L694 699.2L695 698.8L696 698.6L697 698.5L698 698.6L699 699.1L700 697.9L701 697.6L702 696.3L703 695.5L704 696L705 696.1L706 697L707 697.1L708 698.2L709 697.9L710 699.2L711 698.9L712 699L713 698.7L714 698.7L715 699.2L716 698.5L717 698.2L718 698.6L719 698.1L720 698.4L721 697.3L722 697L723 696L724 694L725 692.8L726 691.3L727 689.8L728 687.6L729 686.8L730 688.1L731 690.2L732 691.5L733 693.6L734 695.1L735 696.3L736 697.4L737 697.4L738 697.8L739 697.7L740 698L741 697.9L742 698.2L743 698.2L744 698.2L745 697.7L746 698.4L747 698.1L748 697.5L749 697L750 696.9L751 696.1L752 696.1L753 696.5L754 695.4L755 695.5L756 695.2L757 694L758 694.1L759 694.2L760 694.2L761 694.5L762 695L763 695.1L764 695.6L765 695.9L766 696.3L767 696.9L768 696.7L769 697.4L770 698L771 697.5L772 698.5L773 698.4L774 698.5L775 698.6L776 698.5L777 698.8L778 698.5L779 698.1L780 698.8L781 697.9L782 698.5L783 698.1L784 698.4L785 698.3L786 698.6L787 697.6L788 698.2L789 699.2L790 698.5L791 698.7L792 698.8L793 698.3L794 698.6L795 698.6L796 698.6L797 698.9L798 698.7L799 698.4L800 698L801 697.5L802 698.7L803 698.5L804 697.5L805 698.1L806 697.8L807 697L808 697.5L809 697.5L810 696.9L811 696.9L812 696.7L813 696.1L814 696L815 695.5L816 693.9L817 694.1L818 692.5L819 690.7L820 689.4L821 687.6L822 683.8L823 677.6L824 669.1L825 655.9L826 636.2L827 613L828 595.8L829 596.1L830 613.2L831 636.5L832 656.1L833 669.8L834 678.4L835 683.2L836 688L837 689.6L838 691.2L839 692.7L840 693.3L841 695.2L842 695.2L843 696.5L844 696.8L845 696.8L846 697.3L847 697.5L848 697.6L849 697.7L850 698.3L851 698.2L852 698.7L853 698.8L854 698.2L855 698.5L856 699.2L857 698.5L858 698L859 697.2L860 695.2L861 694.1L862 694.4L863 695.8L864 696.8L865 696.7L866 697.5L867 697.4L868 696.1L869 695.1L870 692.7L871 691.1L872 688.7L873 687.3L874 684.9L875 680.3L876 673.4L877 634.3L877.7 584.1L880 572.7L882.3 584.8L883 641L884 674.7L885 682L886 687.3L887 690.8L888 692.7L889 694.4L890 695.5L891 696.1L892 696.2L893 696.9L894 696.3L895 698.2L896 698.9L897 698.7L898 699.9L899 700.6L900 700.6L901 700.9L902 700.7L903 701.2L904 700.9L905 701.2L906 702.2L907 701.6L908 702L909 701.2L910 702L911 702L912 702L913 701.6L914 702.2L915 701.5L916 701.7L917 702L918 701.5L919 702L920 701.7L921 701.7L922 701.6L923 702.5L924 702.8L925 702.2L926 702.2L927 702L928 701.8L929 702.2L930 702.1L931 702.2L932 701.6L933 702.4L934 701.8L935 703.1L936 702.3L937 701.6L938 702.2L939 702.6L940 702.2L941 702L942 702.6L943 702.2L944 702.6L945 702.2L946 702.7L947 702.6L948 702.5L949 702.4L950 702.8L951 702.6L952 702.5L953 702.1L954 701.7L955 702.2L956 701.7L957 702.4L958 701.5L959 701.9L960 702.2L961 701.7L962 701.2L963 701.7L964 700L965 700.3L966 700L967 700.3L968 700.4L969 700.4L970 700.6L971 701.5L972 701.8L973 701.3L974 701.8L975 702.8L976 701.6L977 701.8L978 701.2L979 701.2L980 699.2L981 699L982 698.1L983 697.6L984 697.8L985 699.6L986 700.4L987 700.4L988 702L989 702L990 701.8L991 702.7L992 701.6L993 702.7L994 702.7L995 702.4L996 703L997 702.2L998 702.6L999 702.4L1000 702.8L1001 702.7L1002 703.3L1003 703.4L1004 702L1005 702.4L1006 703.2L1007 702.6L1008 701.9L1009 702.4L1010 702.6L1011 701.9L1012 701.3L1013 701.3L1014 701.7L1015 701L1016 701.6L1017 701.7L1018 702.6L1019 702L1020 702.4L1021 702.4L1022 703.4L1023 703.1L1024 703.4L1025 703L1026 702.5L1027 702.9L1028 703.1L1029 703.5L1030 702.9L1031 702.9L1032 702.9L1033 703.1L1034 703.2L1035 703.3L1036 703.5L1037 702.7L1038 703L1039 703.2L1040 703.3L1041 703.5L1042 702.5L1043 703L1044 702.9L1045 703L1046 702.8L1047 702.3L1048 703L1049 703.2L1050 703.4L1051 703.1L1052 703L1053 703.2L1054 703.1L1055 703L1056 703.3L1057 703.7L1058 703L1059 703.3L1060 702.8L1061 703.2L1062 703L1063 703.6L1064 703.3L1065 703.1L1066 703L1067 703.2L1068 703.4L1069 703L1070 703.2L1071 702.9L1072 703.1L1073 703.5L1074 702.8L1075 702.5L1076 702.7L1077 702.8L1078 702.6L1079 702.8L1080 702.3L1081 702.3L1082 702.3L1083 701.6L1084 700.7L1085 700.1L1086 696.8L1087 692.8L1088 687.1L1089 680.9L1090 675.2L1091 674.9L1092 678.2L1093 685.1L1094 691.2L1095 696.1L1096 698.5L1097 700.4L1098 701L1099 701.6L1100 702.1L1101 703L1102 702.5L1103 702.8L1104 703.3L1105 703.6L1106 703L1107 703L1108 703.2L1109 703.7L1110 702.7L1111 703L1112 702.5L1113 703.3L1114 703.1L1115 703.1L1116 703.4L1117 703.7L1118 703.6L1119 703.2L1120 703L1121 703L1122 703.5L1123 702.4L1124 703.1L1125 703.7L1126 702.9L1127 703.8L1128 703.5L1129 703.1L1130 702.8L1131 703.7L1132 703.2L1133 703.2L1134 703.4L1135 703.7L1136 703L1137 703.2L1138 703.5L1139 702.7L1140 703.4L1141 702.9L1142 703L1143 703.4L1144 703.5L1145 704.4L1146 703.1L1147 703L1148 702.5L1149 703.4L1150 703.2L1151 703.2L1152 703.6L1153 704.2L1154 703.1L1155 703.2L1156 702.9L1157 703.1L1158 702.8L1159 702.6L1160 702.6L1161 701.9L1162 701.6L1163 701.3L1164 700.8L1165 700.5L1166 700.3L1167 700.1L1168 700.8L1169 701L1170 701.7L1171 702.8L1172 701.5L1173 702.5L1174 702L1175 703.3L1176 702.7L1177 702.8L1178 702.4L1179 702.4L1180 702L1181 701.7L1182 701.5L1183 700.7L1184 699.4L1185 696.8L1186 693.3L1187 689.4L1188 685.4L1189 682.7L1190 681.9L1191 684.7L1192 688.8L1193 693.1L1194 696.1L1195 698.2L1196 700.5L1197 701.2L1198 701.6L1199 702.4L1200 702.4L1201 702.4L1202 702.4L1203 703L1204 703L1205 703.9L1206 703.2L1207 703.1L1208 702.4L1209 702.8L1210 703.1L1211 702.9L1212 702.2L1213 702.3L1214 703.2L1215 702.8L1216 702.5L1217 702.3L1218 702.2L1219 701.3L1220 700.3L1221 699.1L1222 695.3L1223 690.8L1224 685.4L1225 680.1L1226 678.4L1227 682.1L1228 688.7L1229 693.8L1230 697.6L1231 700.4L1232 701.5L1233 702.1L1234 702.6L1235 703.2L1236 702.6L1237 702.7L1238 703L1239 703L1240 703L1241 703.6L1242 703.3L1243 703.4L1244 702.7L1245 703.1L1246 703.4L1247 703.5L1248 703.4L1249 703.2L1250 703.3L1251 703.3L1252 703.3L1253 703.1L1254 703L1255 702.7L1256 703.3L1257 703.7L1258 703.3L1259 702.8L1260 703.6L1261 703.3L1262 703.7L1263 703.5L1264 703.8L1265 703.5L1266 703.3L1267 703.2L1268 703.4L1269 703L1270 703.4L1271 703.1L1272 703.4L1273 702.7L1274 702.7L1275 703.7L1276 703.7L1277 702.7L1278 702.6L1279 704L1280 703.8L1281 704.3L1282 703L1283 703.9L1284 703.4L1285 703.6L1286 703.2L1287 703.4L1288 704L1289 703.2L1290 703L1291 702.5L1292 703L1293 702.7L1294 702.3L1295 702.9L1296 703.2L1297 702.2L1298 702.3L1299 702.1L1300 702.6L1301 702.5L1302 702.5L1303 702.4L1304 702.8L1305 702.7L1306 702.6L1307 702.5L1308 702.6L1309 703.9L1310 703.7L1311 702.9L1312 702.8L1313 703.6L1314 703.4L1315 703.1L1316 703.4L1317 703.4L1318 702.8L1319 703.2L1320 703.5L1321 703.5L1322 703.5L1323 703L1324 703.2L1325 703.2L1326 702.6L1327 703.3L1328 703.4L1329 703.7L1330 703.2L1331 703.3L1332 702.8L1333 703.3L1334 702.9L1335 702.4L1336 702.5L1337 701.5L1338 701.3L1339 699.1L1340 696.1L1341 692.7L1342 688.3L1343 684.9L1344 685.4L1345 687.4L1346 692.3L1347 696L1348 699.3L1349 700.3L1350 701.9L1351 702.6L1352 702.6L1353 702.5L1354 703.4L1355 703.1L1356 703.7L1357 703.2L1358 702.1L1359 702.7L1360 703.4L1361 703.2L1362 703.4L1363 703.1L1364 702.8L1365 703.4L1366 703.2L1367 703L1368 703.2L1369 703.4L1370 702.8L1371 701.9L1372 701.1L1373 699.6L1374 698.2L1375 697.3L1376 695L1377 695.3L1378 695.6L1379 696.4L1380 699.2L1381 700.3L1382 701.2L1383 702.3L1384 702.7L1385 702.9L1386 702.8L1387 702.9L1388 703.3L1389 703.1L1390 703.2L1391 702.3L1392 703.3L1393 703.4L1394 702.6L1395 702.1L1396 701.6L1397 700.7L1398 699.7L1399 699L1400 699.3L1401 699.8L1402 700.5L1403 701.4L1404 701.7L1405 702.5L1406 702.6L1407 703.3L1408 702.9L1409 703.5L1410 703.9L1411 703.6L1412 703.7L1413 703.7L1414 703.9L1415 702.6L1416 703.7L1417 703.2L1418 704.1L1419 703L1420 703.7L1421 703.6L1422 703.1L1423 703.5L1424 703.7L1425 703.2L1426 703.3L1427 703.5L1428 703.7L1429 703.1L1430 703.5L1431 704.2L1432 703.9L1433 703.8L1434 704.1L1435 703.1L1436 704.3L1437 703.7L1438 703.1L1439 703.9L1440 703.4L1441 703.6L1442 703.5L1443 703.3L1444 702.8L1445 703.5L1446 703.9L1447 703.4L1448 703.5L1449 703.5L1450 703.7L1451 703.2L1452 703.6L1453 704L1454 703L1455 702.2L1456 702L1457 702L1458 701.2L1459 700.1L1460 698.1L1461 694.6L1462 691.7L1463 687.5L1464 685.5L1465 685.9L1466 688.9L1467 692.8L1468 696.1L1469 699L1470 700.9L1471 701.5L1472 702.5L1473 702.6L1474 702.9L1475 703.1L1476 702.7L1477 703.2L1478 703.4L1479 703.3L1480 703.9L1481 703.7L1482 703.6L1483 703.6L1484 703.3L1485 703.5L1486 703.3L1487 703.7L1488 703.7L1489 703.5L1490 704.2L1491 704.1L1492 704.2L1493 704L1494 703.8L1495 703.4L1496 704.1L1497 704.1L1498 703.9L1499 702.9L1500 704.1L1501 703.5L1502 703.3L1503 703.4L1504 703.4L1505 704.3L1506 703.8L1507 703.5L1508 703.1L1509 703.3L1510 703.7L1511 703.2L1512 703.3L1513 702.2L1514 702.6L1515 702.6L1516 702.8L1517 703.3L1518 702.6L1519 703.3L1520 703.2L1521 703.5L1522 703.4L1523 703.4L1524 703.3L1525 703.8L1526 703.8L1527 703.3L1528 702.9L1529 704L1530 703.7L1531 704L1532 703.8L1533 703.8L1534 703.8L1535 703.4L1536 703.5L1537 703.5L1538 703.3L1539 704L1540 703.6L1541 703.6L1542 703.8L1543 703.9L1544 702.8L1545 703.9L1546 703.9L1547 703.6L1548 703.5L1549 703.1L1550 703L1551 703.8L1552 704L1553 703.6L1554 703.4L1555 703.3L1556 704L1557 704.2L1558 703.8L1559 703.9L1560 703.9L1561 703.5L1562 704.1L1563 703.6L1564 703.7L1565 703.6L1566 703.4L1567 703.5L1568 703.9L1569 703.8L1570 703.2L1571 703.5L1572 703.1L1573 703.6L1574 703.3L1575 703.6L1576 704L1577 703.3L1578 703.4L1579 703.3L1580 703.2L1581 703.6L1582 703.8L1583 703.6L1584 703.6L1585 703.4L1586 703.7L1587 703.3L1588 703.3L1589 703.7L1590 702.9L1591 703.5L1592 702.5L1593 701.5L1594 700.4L1595 698.4L1596 695.1L1597 693L1598 691.8L1599 693.1L1600 695.1L1601 697.6L1602 700L1603 701.4L1604 701.8L1605 702.7L1606 703.2L1607 703L1608 703.3L1609 703.4L1610 704L1611 703.4L1612 703.8L1613 703.5L1614 703L1615 703.6L1616 703.6L1617 703.4L1618 703.6L1619 703.7L1620 703.5L1621 702.8L1622 703.2L1623 703.3L1624 703.3L1625 703.4L1626 704.1L1627 703.2L1628 703.4L1629 703.1L1630 704.2L1631 703.3L1632 703.5L1633 703.2L1634 703.5L1635 703L1636 703.4L1637 703.7L1638 703.4L1639 703.5L1640 703.9L1641 704.2L1642 704L1643 703.4L1644 703.5L1645 703.5L1646 704.2L1647 703.3L1648 703.3L1649 704.1L1650 704.1L1651 703.6L1652 703.9L1653 703.7L1654 703.6L1655 703.2L1656 703.2L1657 703.4L1658 703.1L1659 703.3L1660 704.1L1661 703.8L1662 703.2L1663 703.5L1664 703.7L1665 703.7L1666 703.6L1667 702.9L1668 703.5L1669 703L1670 703.7L1671 703.7L1672 703.5L1673 704L1674 703.4L1675 703.4L1676 703.7L1677 703.8L1678 703.3L1679 704.1L1680 703.5L1681 703.6L1682 704.1L1683 703.2L1684 703.5L1685 703.3L1686 703.4L1687 703.4L1688 704L1689 703.1L1690 703.8L1691 703.2L1692 703.3L1693 703.6L1694 703.6L1695 703.7L1696 703.6L1697 703.5L1698 703.6L1699 703.5L1700 703.1L1701 702.9L1702 703.9L1703 703.8L1704 703.6L1705 703.2L1706 703.3L1707 703.3L1708 703.6L1709 703.6L1710 703.3L1711 703.3L1712 703.7L1713 703.3L1714 702.8L1715 703.2L1716 702.9L1717 703.3L1718 703.2L1719 703.6L1720 703.2L1721 703.7L1722 703.3L1723 703.4L1724 703.8L1725 703.6L1726 703.6L1727 703.5L1728 703.1L1729 703L1730 703.2L1731 703.4L1732 703.5L1733 703.7L1734 703.1L1735 703.1L1736 703.5L1737 703.1L1738 702.5L1739 702.9L1740 701.3L1741 701.4L1742 700.7L1743 699L1744 697.8L1745 697.1L1746 695.7L1747 695.5L1748 696.3L1749 697.4L1750 699.2L1751 700.2L1752 701.7L1753 701.4L1754 702.5L1755 702.1L1756 702.4L1757 701.9L1758 702.9L1759 702.7L1760 702.4L1761 702.2L1762 703.1L1763 702L1764 701.7L1765 701.5L1766 701.7L1767 700.9L1768 698.7L1769 695.7L1770 689.9L1771 682L1772 673.8L1773 666.9L1774 666.8L1775 673.6L1776 681.4L1777 688L1778 690.7L1779 688.8L1780 686.8L1781 686.8L1782 690.6L1783 695.2L1784 698.8L1785 700.3L1786 701.9L1787 701.9L1788 702.2L1789 702.3L1790 702.5L1791 702.8L1792 702.6L1793 703.2L1794 703.3L1795 702.8L1796 703.6L1797 702.6L1798 702.9L1799 703.2L1800 702.7L1801 703.2L1802 703.1L1803 703.2L1804 702.5L1805 703.2L1806 703.4L1807 702.9L1808 702.7L1809 702.7L1810 702.6L1811 701.9L1812 702.3L1813 701.2L1814 701.4L1815 702.6L1816 702.7L1817 703.2L1818 703L1819 702.7L1820 702.8L1821 703.1L1822 703.5L1823 703.9L1824 703.2L1825 703.4L1826 704.3L1827 703.4L1828 703.9L1829 703.6L1830 703.3L1831 703.3L1832 703.1L1833 702.8L1834 703.4L1835 703.5L1836 703.4L1837 703.5L1838 703.4L1839 703.6L1840 704.1L1841 702.8L1842 703.5L1843 704.2L1844 703.8L1845 703L1846 703.8L1847 704.1L1848 703.4L1849 703.7L1850 703.2L1851 703.3L1852 703.2L1853 703.8L1854 703.8L1855 703.5L1856 702.8L1857 703.6L1858 703.4L1859 703.5L1860 703L1861 703.5L1862 703L1863 703.5L1864 703.4L1865 703.4L1866 703.7L1867 703.4L1868 703.9L1869 704L1870 703.5L1871 703.2L1872 703.6L1873 703.3L1874 704L1875 703.6L1876 703.5L1877 703.5L1878 703.2L1879 703.2L1880 703.6L1881 703.7L1882 703.6L1883 703L1884 703.7L1885 703.3L1886 703.5L1887 702.8L1888 702.7L1889 703.3L1890 703.3L1891 703.3L1892 703.5L1893 703.9L1894 703.2L1895 703.4L1896 703.2L1897 704.1L1898 703.4L1899 703.3L1900 703.2L1901 703.3L1902 703.5L1903 703.8L1904 703.5L1905 703.4L1906 703.5L1907 703.4L1908 703.9L1909 702.9L1910 703.1L1911 703.2L1912 703.3L1913 702.9L1914 703L1915 703.5L1916 703.4L1917 702.8L1918 703.1L1919 702.7L1920 702.6L1921 702.8L1922 702.9L1923 702.9L1924 701.4L1925 701.6L1926 699.9L1927 699.2L1928 697.3L1929 695.7L1930 694.4L1931 694.2L1932 694.6L1933 695.4L1934 697.2L1935 699L1936 700L1937 700.3L1938 702.2L1939 702L1940 702.6L1941 702.1L1942 702.7L1943 702.7L1944 703L1945 703.4L1946 703.1L1947 702.4L1948 702.8L1949 703.5L1950 702.6L1951 702.9L1952 703.6L1953 703.3L1954 703.1L1955 702.8L1956 702.9L1957 702.6L1958 702.4L1959 701.3L1960 700.7L1961 699.8L1962 698.9L1963 697L1964 696.7L1965 697.7L1966 699.3L1967 701L1968 701.1L1969 702.1L1970 702.2L1971 703.3L1972 702.7L1973 703.4L1974 702.7L1975 702.7L1976 702.5L1977 702.3L1978 701.8L1979 701.7L1980 700.6L1981 700.4L1982 700.5L1983 700.5L1984 701.3L1985 701.5L1986 702L1987 702.1L1988 703.6L1989 703.3L1990 703.2L1991 703.5L1992 703.4L1993 703.8L1994 703.5L1995 703.1L1996 703.5L1997 703.8L1998 703.5L1999 703.1L2000 703.2L2001 703.1L2002 703.3L2003 703.7L2004 703.4L2005 703L2006 703.4L2007 703.3L2008 703.2L2009 703.4L2010 702.7L2011 703.7L2012 702.7L2013 702.8L2014 703.3L2015 703.7L2016 703.2L2017 703.4L2018 703.4L2019 703.1L2020 703.2L2021 703.8L2022 702.9L2023 703.6L2024 703.4L2025 702.7L2026 702.9L2027 703.3L2028 703L2029 703.7L2030 702.7L2031 703.3L2032 703.1L2033 703.3L2034 703.2L2035 702.4L2036 703.1L2037 703L2038 703.1L2039 703L2040 703.6L2041 703.7L2042 703.1L2043 702.9L2044 703.1L2045 703.3L2046 703.1L2047 703.2L2048 702.6L2049 703.6L2050 703.2L2051 703.3L2052 702.7L2053 703.1L2054 703.5L2055 702.6L2056 702.9L2057 703.2L2058 703.4L2059 703.2L2060 703.4L2061 703.1L2062 702.8L2063 702.4L2064 703.2L2065 703.1L2066 703.2L2067 703.4L2068 702.7L2069 703L2070 702.9L2071 702.6L2072 702.5L2073 702.4L2074 702.3L2075 701.2L2076 701.6L2077 701.8L2078 702L2079 702.2L2080 701.9L2081 702.3L2082 701.9L2083 702.5L2084 702.4L2085 703L2086 703L2087 703.5L2088 702.5L2089 702.7L2090 703.1L2091 702.9L2092 702.7L2093 702.8L2094 703L2095 703.2L2096 703.3L2097 703.2L2098 703.2L2099 703.5L2100 702.7L2101 703.6L2102 703.5L2103 703.1L2104 703.5L2105 704L2106 703.1L2107 702.9L2108 702.5L2109 703.3L2110 703.2L2111 703.2L2112 703.3L2113 702.7L2114 702.3L2115 704L2116 702.9L2117 703.2L2118 703.5L2119 702.9L2120 703.4L2121 702.8L2122 703.2L2123 703L2124 703.1L2125 703.4L2126 702.9L2127 703.6L2128 703.1L2129 703.5L2130 703.1L2131 703.2L2132 703.1L2133 702.8L2134 703.5L2135 703.7L2136 703.4L2137 702.6L2138 702.9L2139 703.1L2140 703.2L2141 703.8L2142 703.8L2143 703L2144 703.3L2145 703.8L2146 703.4L2147 703.4L2148 703.4L2149 702.7L2150 703.2L2151 703.3L2152 703.4L2153 703.1L2154 704L2155 703.4L2156 703.2L2157 703.3L2158 703.6L2159 703.1L2160 703.4L2161 702.9L2162 702.3L2163 702.2L2164 700.2L2165 697.5L2166 691.3L2167 677.6"/>
<path class="m" stroke="#4D4D4D" d="M877.67 585.1L879.97 573.1L882.27 585.1"/>
<path class="c" stroke="#8C4A4A" d="M161 883.6L162 883.7L163 883.8L164 884L165 884.4L166 883.5L167 884.2L168 884.6L169 883.9L170 883.6L171 884.3L172 883.5L173 883.8L174 884.4L175 884.1L176 883.9L177 884.3L178 884.1L179 884.3L180 883.9L181 884.1L182 884.3L183 884.8L184 884.8L185 885.1L186 884.5L187 883.9L188 884.1L189 884.9L190 884.3L191 883.5L192 884.7L193 884.8L194 884.4L195 883.9L196 883.7L197 883.7L198 884.3L199 884L200 884.4L201 884.5L202 884.6L203 884.3L204 884.2L205 884.8L206 885L207 883.9L208 884.3L209 884.2L210 884.3L211 884.1L212 884.5L213 884.3L214 884L215 884L216 883.8L217 883.8L218 884.5L219 883.7L220 884.2L221 884.3L222 884.6L223 885.1L224 884.4L225 884.8L226 884.9L227 884.5L228 884.6L229 884.7L230 884.8L231 884.8L232 884.8L233 885.1L234 884.2L235 884.4L236 884.8L237 885.2L238 884.4L239 884.5L240 885L241 884.9L242 884.9L243 884.7L244 884.5L245 884.8L246 885.4L247 885.1L248 885.5L249 884.7L250 884.5L251 884.9L252 885L253 885.6L254 885.1L255 885.6L256 885.1L257 885.8L258 885L259 884.8L260 885.4L261 885.3L262 885.2L263 885.4L264 885.9L265 885.5L266 885.3L267 884.5L268 885.1L269 885.3L270 884.7L271 885.4L272 885.8L273 885.4L274 885.2L275 885.1L276 886.2L277 885.9L278 885.3L279 885.1L280 885.1L281 885.8L282 885.7L283 885.4L284 886.3L285 886L286 885.4L287 885.8L288 885.7L289 885.4L290 885.7L291 885.7L292 885.7L293 885.9L294 886.1L295 885.7L296 885.7L297 885.5L298 886.2L299 885.2L300 885.3L301 885.9L302 886.1L303 886.4L304 885.7L305 886.2L306 885.6L307 885.7L308 885.7L309 885.7L310 884.7L311 883.8L312 882.8L313 880.5L314 879.3L315 879.7L316 882.1L317 884.1L318 884.7L319 885.9L320 886.1L321 886.3L322 886.3L323 886L324 886.1L325 886.2L326 886.3L327 885.3L328 886.6L329 886.9L330 886.2L331 886.7L332 886.5L333 886.5L334 887.2L335 886.7L336 886.6L337 886.6L338 886.1L339 886.4L340 886.7L341 886.4L342 886L343 887L344 886.7L345 886.3L346 886.5L347 886.9L348 886.5L349 886.7L350 886.9L351 886.9L352 887.4L353 887.5L354 886L355 887.1L356 886.9L357 886.7L358 886.7L359 886.3L360 886.6L361 886.5L362 886.7L363 886.5L364 887.1L365 887.2L366 886.7L367 886.2L368 887L369 886.8L370 886.9L371 887.1L372 886.9L373 887.3L374 886.3L375 886.6L376 887.1L377 887.2L378 886.9L379 887.1L380 887.2L381 887.1L382 887.2L383 886.5L384 887L385 887L386 886.8L387 887.1L388 886.8L389 886L390 886.6L391 886.5L392 887.3L393 886.8L394 886.9L395 886.9L396 887L397 887.4L398 886.4L399 888L400 886.3L401 887L402 887.1L403 886.7L404 887L405 887.7L406 887L407 886.7L408 887L409 887L410 887.2L411 886.8L412 887L413 887.2L414 887L415 887L416 887.2L417 887.5L418 887.2L419 887.4L420 887.6L421 887.2L422 887.3L423 887.2L424 886.3L425 887.4L426 887.2L427 887.3L428 887.5L429 887.1L430 887.3L431 887.3L432 887.1L433 887.3L434 887.1L435 887.5L436 887L437 887.3L438 886.7L439 886.8L440 887.2L441 887.7L442 886.8L443 887.8L444 887.9L445 887.1L446 887.6L447 886.7L448 886.8L449 887.3L450 887.6L451 887.5L452 886.9L453 886.8L454 887.3L455 887.9L456 886.7L457 887.1L458 886.5L459 886.6L460 886.9L461 886.7L462 886L463 886.6L464 885.7L465 886.2L466 885.8L467 886L468 886.9L469 886.6L470 886.5L471 886.3L472 887.6L473 887.1L474 887.1L475 887.2L476 887.2L477 887.4L478 887L479 886.7L480 887.3L481 887L482 887.3L483 887.2L484 887.5L485 887.4L486 887.5L487 886.9L488 887.2L489 887.5L490 886.8L491 887.1L492 887L493 886.8L494 886.8L495 887.6L496 887.3L497 887.2L498 887.6L499 886.9L500 887.1L501 887.5L502 887.7L503 887L504 887.6L505 887.1L506 887.9L507 887L508 887L509 886.5L510 887.4L511 887.5L512 886.9L513 886.6L514 886.9L515 886.9L516 887.2L517 887.1L518 886.8L519 887.7L520 887.5L521 887.8L522 887.7L523 886.8L524 887.4L525 887.5L526 886.5L527 887L528 887L529 887.3L530 887.4L531 886.9L532 887.9L533 887.1L534 887.4L535 887L536 887.3L537 887.4L538 886.6L539 886.1L540 886.8L541 886.7L542 887.4L543 886.2L544 886.9L545 886.3L546 886.2L547 886.6L548 886.1L549 886.4L550 885.7L551 886.1L552 885.4L553 885.3L554 884.9L555 885.4L556 885.3L557 884.7L558 885.2L559 885.8L560 886L561 886.3L562 886.5L563 886.8L564 886.3L565 886.6L566 886.1L567 886.7L568 886.7L569 886.8L570 886.7L571 887.3L572 886.4L573 886.7L574 886.9L575 886.9L576 886.5L577 886.8L578 886.4L579 886.5L580 886.7L581 886.8L582 886.8L583 886.5L584 886.3L585 886.2L586 886L587 887.1L588 886.2L589 886.1L590 885.3L591 884.2L592 882.3L593 875.2L594 857.7L595 828.1L596 819.8L597 846.9L598 870.8L599 880.4L600 883.9L601 884.8L602 885.8L603 886.1L604 885.8L605 886.9L606 886.6L607 886.4L608 886.4L609 886.5L610 886.8L611 886.9L612 886.7L613 886.3L614 886.7L615 886.2L616 887.8L617 887.4L618 887.5L619 886.6L620 886.8L621 886.4L622 886.2L623 886.5L624 886.8L625 886.6L626 886L627 886.6L628 887.3L629 887.8L630 886.4L631 887.2L632 886.6L633 886.8L634 886.1L635 886.4L636 887L637 886.3L638 886.4L639 885.6L640 884.8L641 883.4L642 882.3L643 882.6L644 882.4L645 883.6L646 884.3L647 886.3L648 885.9L649 886.3L650 887L651 886.4L652 887.4L653 886.4L654 886.9L655 886.5L656 886.9L657 886.3L658 886.7L659 887.4L660 886.7L661 886.7L662 887L663 887.1L664 886.1L665 886.3L666 887.3L667 886.9L668 887.2L669 887.3L670 886.6L671 887L672 886.6L673 886.9L674 886.7L675 886.5L676 886.8L677 886.5L678 886L679 886.6L680 886.2L681 886L682 885.7L683 885.5L684 885.7L685 885.6L686 886.4L687 886.4L688 887.4L689 886.3L690 886.8L691 886.6L692 886.7L693 886.8L694 887L695 887L696 886.4L697 886.9L698 886L699 885.7L700 885.3L701 884.4L702 883.5L703 883.2L704 883.3L705 883.3L706 884.3L707 884.4L708 885.3L709 886L710 885.7L711 886.5L712 886.1L713 886.1L714 885.7L715 886L716 886.4L717 885.5L718 886L719 885.3L720 885L721 884.9L722 883.8L723 882.8L724 881.9L725 879.4L726 876.8L727 875.8L728 873.7L729 873.2L730 874.3L731 875.9L732 878.6L733 880.2L734 881.9L735 883.6L736 884.4L737 885.2L738 885.6L739 885.5L740 886.1L741 886L742 885.7L743 886.2L744 886L745 886.1L746 886.1L747 886.9L748 886.2L749 886.6L750 886.1L751 886.1L752 886L753 886.7L754 886.8L755 886.6L756 886.4L757 886.6L758 886.4L759 886L760 885.7L761 886L762 886.6L763 887.1L764 886.2L765 886.5L766 886.4L767 886.7L768 886.2L769 887.1L770 887L771 886L772 886.3L773 886.4L774 886.2L775 885.7L776 886.5L777 886.4L778 886.5L779 886.4L780 886.3L781 886.9L782 886.7L783 885.9L784 886.5L785 886L786 887L787 886.3L788 886.7L789 886.3L790 886.5L791 886.7L792 885.9L793 885.8L794 886L795 885.3L796 885.8L797 886.1L798 885.2L799 885.9L800 885.7L801 885.4L802 885.1L803 885.3L804 885.2L805 885.5L806 885.4L807 884.8L808 885.5L809 884.9L810 884.2L811 884.6L812 883.5L813 883.3L814 883.1L815 883L816 881.8L817 881.2L818 880.1L819 878.5L820 877.1L821 874.9L822 871.5L823 866.4L824 858.2L825 845.2L825.9 828.6L826.6 506.2L828.5 457.6L830.4 506.3L831.1 828.8L832 845.5L833 858.5L834 866.7L835 871.8L836 875.2L837 877.3L838 879.3L839 880.5L840 882.2L841 882.4L842 883.7L843 884.2L844 884.3L845 884.7L846 885.3L847 885.5L848 885.1L849 885.8L850 885.8L851 885.8L852 886.1L853 885.7L854 885.7L855 886.1L856 884.8L857 884.8L858 882.8L859 878.7L860 874L861 870L862 871L863 875.1L864 879.4L865 882.2L866 884.5L867 884.6L868 884.9L869 884L870 883.1L871 882.3L872 881.2L873 882.4L874 882.1L875 881.9L876 876.7L877 859.1L878 831.8L879 818.1L880 817.6L881 818.5L882 834.4L883 860.3L884 877.7L885 882.8L886 884.1L887 884.8L888 885L889 885L890 885.4L891 884.4L892 885L893 884.4L894 884.7L895 885.6L896 886.6L897 886.9L898 887.7L899 888.6L900 888.1L901 889.2L902 888.7L903 889.5L904 888.7L905 888.5L906 889.2L907 888.8L908 888.8L909 888.9L910 889.5L911 889.2L912 889.6L913 890.2L914 889.2L915 889.8L916 890L917 889.8L918 889.9L919 889.8L920 889.4L921 890.1L922 890L923 889.3L924 889.7L925 889.6L926 889.4L927 889.7L928 889.7L929 890.5L930 889.5L931 890.3L932 890.3L933 889.5L934 889.8L935 889.5L936 890.2L937 889.9L938 889L939 889.5L940 890.2L941 889.9L942 889.8L943 889.8L944 889.6L945 889.6L946 889.3L947 890L948 890.3L949 890.2L950 890.1L951 889.6L952 890.3L953 889.9L954 889.8L955 889.6L956 889.5L957 889.7L958 889.7L959 889.3L960 889.7L961 889.4L962 888.9L963 888.5L964 888.5L965 887.9L966 887.2L967 888L968 887.4L969 887.5L970 888.5L971 888.9L972 888.5L973 889.2L974 889.3L975 889L976 889.1L977 889.2L978 889.3L979 888.9L980 888.2L981 887.4L982 886.9L983 886.5L984 886.4L985 887.7L986 888.4L987 888.3L988 889.4L989 889.7L990 889.8L991 888.5L992 890.3L993 889.6L994 889.5L995 890.1L996 890.2L997 889.6L998 889.9L999 889.7L1000 889.8L1001 890.6L1002 889.8L1003 889.9L1004 890L1005 889L1006 890.6L1007 889.6L1008 889.9L1009 889.2L1010 889.4L1011 888.7L1012 888.7L1013 888.4L1014 888.5L1015 889.2L1016 889L1017 889.4L1018 889.6L1019 889L1020 890.1L1021 890.2L1022 890L1023 890.1L1024 889.9L1025 890L1026 889.3L1027 889.5L1028 889.5L1029 889.7L1030 889.7L1031 890L1032 890.1L1033 889.3L1034 889.9L1035 889.4L1036 890.1L1037 889.2L1038 890.2L1039 889.7L1040 890.3L1041 890.5L1042 890.2L1043 890.9L1044 889.4L1045 890L1046 889.7L1047 890L1048 890.3L1049 890.2L1050 889.4L1051 889.3L1052 890.1L1053 890.3L1054 890.3L1055 889.6L1056 890.4L1057 889.6L1058 890.4L1059 889.6L1060 889.4L1061 889.8L1062 890.4L1063 889.4L1064 890.4L1065 889.5L1066 890.2L1067 888.7L1068 888.9L1069 889.6L1070 889.9L1071 890.4L1072 890.4L1073 890L1074 890.1L1075 889.5L1076 889.7L1077 889.2L1078 889L1079 888.7L1080 889.4L1081 889.6L1082 888.5L1083 888.1L1084 886.7L1085 885.1L1086 882.7L1087 877.1L1088 870.2L1089 862.3L1090 855.9L1091 855L1092 860L1093 868.1L1094 874.8L1095 880.8L1096 884.5L1097 886.8L1098 888.1L1099 888.4L1100 889.2L1101 888.9L1102 888.8L1103 889.8L1104 889.6L1105 889L1106 889.9L1107 890.1L1108 890.3L1109 889.7L1110 890L1111 889.8L1112 889.1L1113 890L1114 890.1L1115 889.2L1116 890.4L1117 890.1L1118 890.1L1119 889.6L1120 889.4L1121 889.8L1122 889.6L1123 890L1124 889.8L1125 889.9L1126 889.4L1127 889.6L1128 889.9L1129 891L1130 890.5L1131 890.1L1132 889.6L1133 890.6L1134 889.6L1135 890.5L1136 889.8L1137 890.4L1138 890.4L1139 889.9L1140 890.5L1141 890.2L1142 890.1L1143 889.7L1144 889.8L1145 890.5L1146 890.1L1147 889.8L1148 890.8L1149 889.7L1150 889.4L1151 890.3L1152 890.2L1153 890.3L1154 889.8L1155 890.6L1156 890.1L1157 890.6L1158 890.1L1159 890.3L1160 889.8L1161 889.8L1162 889.6L1163 889.4L1164 888.6L1165 888.6L1166 889.1L1167 889L1168 889.3L1169 889.4L1170 889.2L1171 889.6L1172 889.7L1173 890.1L1174 889.6L1175 889.8L1176 889L1177 889.9L1178 889.6L1179 889.5L1180 889L1181 889.1L1182 888.1L1183 886.5L1184 884.7L1185 882.5L1186 879L1187 874.3L1188 869.8L1189 867L1190 866.7L1191 868.9L1192 873.7L1193 878.5L1194 881.5L1195 885.2L1196 887.3L1197 887.3L1198 888.7L1199 888.6L1200 889.4L1201 889.7L1202 889.9L1203 889.5L1204 889.7L1205 889.7L1206 889.8L1207 889.5L1208 889.1L1209 889.4L1210 889.7L1211 890.5L1212 890.2L1213 890.2L1214 889L1215 889.6L1216 889.6L1217 889.3L1218 889.7L1219 888.9L1220 887.7L1221 886.1L1222 884.1L1223 880.5L1224 875.4L1225 870L1226 869.7L1227 872.8L1228 877.4L1229 882.2L1230 885.3L1231 887.5L1232 887.6L1233 888.5L1234 890L1235 889.5L1236 889.5L1237 889.4L1238 890.5L1239 889.5L1240 890.7L1241 890.3L1242 890.5L1243 889.4L1244 890.2L1245 890.6L1246 890.2L1247 889.8L1248 890.1L1249 890.1L1250 889.9L1251 889.6L1252 890.1L1253 889.1L1254 891L1255 890.6L1256 890.1L1257 890.3L1258 890.1L1259 890.7L1260 890.5L1261 890.1L1262 890.6L1263 890.3L1264 890.3L1265 890.1L1266 890.2L1267 890.7L1268 890.2L1269 890.4L1270 890L1271 890.4L1272 890.3L1273 890.3L1274 890.2L1275 890.2L1276 890.2L1277 890.1L1278 890.5L1279 890.7L1280 890.8L1281 890.4L1282 889.8L1283 890L1284 890.1L1285 890.6L1286 890.9L1287 890.4L1288 890.5L1289 890.9L1290 889.8L1291 890.3L1292 890.4L1293 890.3L1294 890.3L1295 889.8L1296 890L1297 890L1298 890.2L1299 889.9L1300 889.4L1301 889.6L1302 890.5L1303 890.6L1304 890.2L1305 889.5L1306 890.1L1307 889.9L1308 890.4L1309 890.4L1310 889.7L1311 889.6L1312 890.6L1313 890.6L1314 889.9L1315 890.2L1316 890.7L1317 890.3L1318 890.4L1319 890.4L1320 890.4L1321 890.6L1322 889.8L1323 890L1324 889.8L1325 890.3L1326 890.8L1327 890.2L1328 889.6L1329 890.3L1330 890.1L1331 890.1L1332 890.6L1333 889.7L1334 889.6L1335 889.3L1336 889.9L1337 889.1L1338 888.2L1339 885.8L1340 884L1341 879.9L1342 876.6L1343 872.5L1344 872.5L1345 875.7L1346 879.3L1347 882.7L1348 886.1L1349 887.9L1350 889L1351 889.3L1352 889.9L1353 889.9L1354 890.1L1355 890.4L1356 889.6L1357 890.3L1358 890.8L1359 890.1L1360 890.2L1361 890.3L1362 891.1L1363 889.9L1364 890.2L1365 889.6L1366 890.1L1367 890.2L1368 890L1369 889.8L1370 889.8L1371 889.7L1372 889.3L1373 888.4L1374 886.9L1375 885.7L1376 884L1377 884.6L1378 884.6L1379 886.3L1380 886.4L1381 887.5L1382 888.9L1383 888.9L1384 889.3L1385 889.8L1386 890.3L1387 890.2L1388 890.5L1389 890.2L1390 890.3L1391 890.4L1392 889.4L1393 890L1394 890.1L1395 889.5L1396 888.9L1397 887.3L1398 887.2L1399 886.4L1400 886.7L1401 887.3L1402 886.9L1403 888.4L1404 889.4L1405 889.1L1406 890.1L1407 890.7L1408 889.9L1409 891.1L1410 890.8L1411 890.6L1412 889.8L1413 890.3L1414 890.6L1415 890.2L1416 890.6L1417 891.4L1418 890.9L1419 890.4L1420 891L1421 890.4L1422 891L1423 891L1424 890.6L1425 891.1L1426 890.4L1427 890.8L1428 890.5L1429 890.9L1430 890.8L1431 890.7L1432 890.6L1433 890.9L1434 890.8L1435 890.4L1436 890.8L1437 890.6L1438 890.7L1439 890.3L1440 890.5L1441 890.7L1442 890.5L1443 891.1L1444 890.9L1445 890.7L1446 890.5L1447 891.1L1448 890.1L1449 890.3L1450 890.5L1451 890.4L1452 890.3L1453 889.9L1454 890.3L1455 890.4L1456 889.7L1457 889.7L1458 888.6L1459 887.9L1460 885.8L1461 883.1L1462 879.4L1463 876.6L1464 875.5L1465 876.7L1466 878.9L1467 881.8L1468 884.4L1469 886.8L1470 888.4L1471 888.7L1472 890.2L1473 889.5L1474 889.6L1475 890.7L1476 890L1477 890.7L1478 890.4L1479 890.8L1480 890.2L1481 891L1482 890.9L1483 890.6L1484 890.7L1485 890.1L1486 890.7L1487 890.6L1488 890.5L1489 890.9L1490 890.8L1491 890.3L1492 890.8L1493 890.5L1494 891.2L1495 890.6L1496 891.3L1497 890.5L1498 890.2L1499 890.8L1500 891.1L1501 890.7L1502 890.7L1503 890.9L1504 891L1505 891.1L1506 890.8L1507 890.8L1508 890.6L1509 890.6L1510 890L1511 890.3L1512 890.3L1513 889.4L1514 889.9L1515 890.3L1516 890.2L1517 889.9L1518 890.1L1519 890.2L1520 891.2L1521 890.5L1522 890.7L1523 891.1L1524 890.9L1525 891.2L1526 891.4L1527 890.5L1528 890.3L1529 890.8L1530 891L1531 890.7L1532 890.9L1533 891L1534 890.5L1535 891.6L1536 890.9L1537 891L1538 891.4L1539 891.5L1540 890.6L1541 891.1L1542 890.9L1543 891.3L1544 890.5L1545 890.8L1546 891L1547 890.7L1548 891L1549 891.1L1550 890.7L1551 890.2L1552 890.7L1553 891.4L1554 890.7L1555 891.1L1556 891.3L1557 890.9L1558 891L1559 890.3L1560 891L1561 891.4L1562 890.8L1563 890.9L1564 890.3L1565 890.7L1566 891L1567 890.9L1568 890.9L1569 891.1L1570 891.2L1571 890.7L1572 890.8L1573 891.2L1574 891L1575 890.7L1576 891.1L1577 890.3L1578 891.6L1579 890.6L1580 891.6L1581 890.9L1582 891L1583 890.9L1584 891.6L1585 890.5L1586 891.2L1587 890.5L1588 890.9L1589 890.5L1590 891.1L1591 890.5L1592 889.6L1593 888.9L1594 887.6L1595 886.3L1596 884.5L1597 882L1598 880.9L1599 881.5L1600 884L1601 886L1602 888.6L1603 889.2L1604 890.3L1605 890.7L1606 890.7L1607 890.3L1608 891.4L1609 890.8L1610 890.3L1611 890.8L1612 890.7L1613 890.8L1614 891.1L1615 890.6L1616 890.8L1617 890.8L1618 891.3L1619 891L1620 890.6L1621 891L1622 891.1L1623 890.5L1624 890.8L1625 890.8L1626 891.2L1627 891.2L1628 891.2L1629 890.8L1630 891.5L1631 891L1632 891.5L1633 891.2L1634 890.9L1635 891.6L1636 891.7L1637 890.9L1638 891.7L1639 891.4L1640 890.6L1641 891.3L1642 891.1L1643 891.1L1644 891.3L1645 891.1L1646 891.5L1647 891.6L1648 891.4L1649 891.1L1650 891L1651 891.1L1652 890.6L1653 891.1L1654 890.7L1655 890.5L1656 891L1657 890.8L1658 891.3L1659 890.8L1660 891L1661 890L1662 890.8L1663 890.5L1664 891.3L1665 890.8L1666 891.2L1667 890.9L1668 891.1L1669 890.9L1670 891.4L1671 891.3L1672 890.6L1673 891.2L1674 891.4L1675 891.1L1676 891.3L1677 891.3L1678 890.6L1679 890.8L1680 890.3L1681 891.4L1682 891.3L1683 891.6L1684 891.2L1685 890.9L1686 890.9L1687 891.2L1688 891.4L1689 890.9L1690 891.2L1691 891L1692 891.5L1693 890.9L1694 891.4L1695 890.9L1696 890.9L1697 891.4L1698 891.1L1699 890.6L1700 891L1701 891.4L1702 891.9L1703 891.7L1704 890.9L1705 890.7L1706 891.2L1707 891L1708 891.5L1709 890.9L1710 891L1711 891.1L1712 890.8L1713 891.2L1714 891.5L1715 891L1716 891.1L1717 890.9L1718 891.6L1719 891.5L1720 890.9L1721 890.6L1722 891.2L1723 891.5L1724 891L1725 890.5L1726 891L1727 891.5L1728 891.2L1729 891.3L1730 890.1L1731 891.1L1732 890.4L1733 890.3L1734 890.8L1735 890.6L1736 890.7L1737 890.8L1738 890.6L1739 889.9L1740 889.3L1741 888.3L1742 887.3L1743 886L1744 884.7L1745 883.3L1746 882.4L1747 881.7L1748 883.2L1749 884.3L1750 885.7L1751 887.1L1752 888.8L1753 889.1L1754 890L1755 889.5L1756 889.8L1757 889.9L1758 890.7L1759 890.6L1760 890.3L1761 889.8L1762 889.1L1763 889.7L1764 889.9L1765 889.6L1766 888.5L1767 887.6L1768 886.1L1769 882L1770 876.5L1771 868.2L1772 857.9L1773 850.7L1774 851.2L1775 858.6L1776 867.8L1777 874.2L1778 876L1779 875.2L1780 872L1781 872.5L1782 875.7L1783 881.8L1784 885.7L1785 888.3L1786 888.9L1787 889.6L1788 890L1789 889.8L1790 890.1L1791 890.5L1792 890.6L1793 890.7L1794 890.9L1795 890.8L1796 890.9L1797 890.6L1798 891.1L1799 891L1800 890.9L1801 890.6L1802 890.6L1803 890.7L1804 891L1805 891.2L1806 890.5L1807 891.1L1808 891.4L1809 890.7L1810 890.6L1811 889.6L1812 889.8L1813 889.3L1814 889L1815 890L1816 890.7L1817 890.7L1818 890.8L1819 890.4L1820 891.1L1821 890.9L1822 891.6L1823 891L1824 890.6L1825 891.6L1826 890.9L1827 890.8L1828 891L1829 891.5L1830 891L1831 891.2L1832 891.1L1833 890.9L1834 891.1L1835 891.5L1836 891.5L1837 891.3L1838 891.5L1839 891.6L1840 891.2L1841 891.5L1842 891.4L1843 890.9L1844 891.4L1845 891.8L1846 890.4L1847 891.5L1848 891.4L1849 891.5L1850 891.1L1851 892L1852 891.3L1853 891.5L1854 890.8L1855 891.4L1856 891.7L1857 891L1858 891L1859 891.7L1860 891.8L1861 891.7L1862 890.8L1863 890.6L1864 891.6L1865 891.4L1866 891.3L1867 891.6L1868 890.8L1869 891L1870 891.4L1871 891.1L1872 891.4L1873 891.8L1874 891.5L1875 891.2L1876 890.8L1877 891L1878 892.2L1879 891.5L1880 891.5L1881 891.5L1882 891.3L1883 891.3L1884 891.2L1885 891.6L1886 891.8L1887 891.2L1888 890.4L1889 891.5L1890 891.2L1891 891.4L1892 890.5L1893 891.5L1894 891.1L1895 891.4L1896 891.3L1897 891.3L1898 891.4L1899 891.2L1900 891.2L1901 890.9L1902 891.2L1903 891.6L1904 891.1L1905 891.3L1906 891.1L1907 891.5L1908 891.2L1909 891.7L1910 891L1911 890.9L1912 891.8L1913 891.7L1914 890.6L1915 891.3L1916 891.4L1917 891.2L1918 892.1L1919 890.8L1920 891L1921 891.3L1922 890.1L1923 890.3L1924 889.7L1925 888.7L1926 887.8L1927 886L1928 884.8L1929 882.2L1930 881.3L1931 881.1L1932 881.4L1933 882.4L1934 884L1935 885.3L1936 888.1L1937 888.3L1938 889.2L1939 890.3L1940 890.4L1941 891L1942 891L1943 890.7L1944 890.9L1945 890.9L1946 890.8L1947 891.5L1948 891.3L1949 891.6L1950 891L1951 890.7L1952 890.9L1953 891L1954 890.9L1955 890.9L1956 890.5L1957 890.3L1958 889.9L1959 888.9L1960 887.9L1961 886.2L1962 884.1L1963 883.1L1964 881.9L1965 883.5L1966 886L1967 887.4L1968 889.1L1969 889.9L1970 890.3L1971 890.4L1972 891.4L1973 891.6L1974 890.4L1975 891.1L1976 890.8L1977 890.6L1978 889.9L1979 889.5L1980 888.2L1981 888.7L1982 888.2L1983 888.7L1984 888.9L1985 889.9L1986 890.6L1987 890.4L1988 891L1989 891.6L1990 891.4L1991 891.1L1992 890.6L1993 891.3L1994 891L1995 891.2L1996 891.7L1997 891.5L1998 891.8L1999 891.7L2000 891.5L2001 891.4L2002 891.8L2003 891.3L2004 891.8L2005 891.8L2006 890.8L2007 891.7L2008 891.5L2009 891.2L2010 891.6L2011 891.6L2012 892.2L2013 891.7L2014 891.3L2015 891.4L2016 891.8L2017 891.6L2018 892L2019 891.3L2020 891.3L2021 891.3L2022 892.2L2023 891.4L2024 891.3L2025 891.2L2026 892.1L2027 891.4L2028 892.1L2029 891.2L2030 892L2031 891.2L2032 891.5L2033 891.6L2034 891.1L2035 891.7L2036 891.4L2037 891.4L2038 891.5L2039 891.9L2040 891.9L2041 891.9L2042 892.2L2043 891.5L2044 892.2L2045 891.5L2046 891.5L2047 891.2L2048 891.1L2049 891.6L2050 891.5L2051 891.6L2052 892.1L2053 891.3L2054 892.3L2055 890.7L2056 891.2L2057 891.4L2058 891.2L2059 891.7L2060 891.5L2061 891.2L2062 890.9L2063 891.3L2064 890.5L2065 891.5L2066 891.7L2067 891.7L2068 891.5L2069 890.9L2070 891L2071 890L2072 890.6L2073 890.1L2074 889.3L2075 889.9L2076 890.2L2077 890L2078 890.1L2079 890L2080 890L2081 890.2L2082 890.8L2083 890.4L2084 890.9L2085 890.6L2086 891.7L2087 891.1L2088 890.9L2089 892.1L2090 890.9L2091 891L2092 890.9L2093 891.4L2094 891.9L2095 891.1L2096 891.7L2097 891.2L2098 891.2L2099 891.7L2100 891.5L2101 891.2L2102 891.7L2103 891.5L2104 891.5L2105 891.6L2106 892.3L2107 891.4L2108 891.4L2109 891.8L2110 891.3L2111 891.6L2112 891.6L2113 891.9L2114 892L2115 891.9L2116 891.9L2117 891.9L2118 891.7L2119 892L2120 892.2L2121 891.5L2122 891.4L2123 892.3L2124 892.1L2125 891.3L2126 891.1L2127 891.6L2128 891.7L2129 891.3L2130 891.6L2131 891.8L2132 891.8L2133 891.5L2134 892.2L2135 891.6L2136 891.5L2137 891.8L2138 891.2L2139 891.9L2140 891.6L2141 891.5L2142 892.3L2143 891.6L2144 891.2L2145 891.6L2146 891.7L2147 892.6L2148 891.8L2149 891.2L2150 891.7L2151 891.7L2152 892L2153 891.6L2154 891.4L2155 892.1L2156 891.1L2157 891.5L2158 891.8L2159 891.8L2160 892.1L2161 891.2L2162 891.4L2163 891L2164 889.6L2165 887.2L2166 881.7L2167 869.8"/>
<path class="c" stroke="#00C8C8" d="M161 964.5L162 965L163 964.1L164 964.7L165 964.8L166 965.6L167 964.7L168 965.2L169 964.9L170 965.7L171 965.4L172 964.7L173 965.1L174 965.1L175 965.2L176 964.9L177 965.4L178 965.4L179 965.2L180 965.4L181 964.5L182 965.3L183 964.9L184 965L185 964.8L186 965.8L187 965.2L188 964.8L189 965.2L190 966.1L191 964.9L192 964.7L193 965.2L194 965.8L195 965L196 965.4L197 965.5L198 964.9L199 966L200 965.3L201 965.9L202 965.4L203 965.2L204 966L205 965.5L206 965.2L207 965.8L208 965.3L209 965.7L210 965L211 965.7L212 965.8L213 965.4L214 965.5L215 965.6L216 965.6L217 965.9L218 965.3L219 965.7L220 965.9L221 965.7L222 965.9L223 965.4L224 965.9L225 964.8L226 965.8L227 966.1L228 965.8L229 965.7L230 966.6L231 965.6L232 966L233 966L234 965.6L235 965.4L236 965.5L237 966.2L238 965.7L239 965.7L240 965.7L241 966.6L242 966.1L243 966.6L244 965.5L245 966.5L246 966.4L247 966.1L248 966.1L249 966L250 965.6L251 965.3L252 965.5L253 965.8L254 966.5L255 966.3L256 965.8L257 965.6L258 966.5L259 966L260 966.7L261 966.5L262 966.8L263 966.4L264 966.1L265 966.2L266 965.3L267 966.3L268 966.4L269 965.7L270 966.4L271 966.3L272 966.4L273 966.3L274 966.3L275 966.7L276 966.5L277 966.7L278 966.4L279 966.3L280 966.2L281 966.9L282 966.8L283 966.5L284 966.3L285 966.4L286 966.9L287 966.1L288 966.7L289 967.3L290 967L291 966.5L292 967.2L293 967.3L294 966.9L295 966.8L296 967L297 967.3L298 967L299 966.6L300 967L301 966.7L302 966.6L303 966.7L304 966.3L305 967.1L306 966.8L307 966.8L308 966.6L309 967.1L310 965L311 964.5L312 962.7L313 959.9L314 958.3L315 959.5L316 961.6L317 963.8L318 965.5L319 966.6L320 967.2L321 966.8L322 967.1L323 967.6L324 966.9L325 968.2L326 967.4L327 966.8L328 967.8L329 967.2L330 967.7L331 967.4L332 967.4L333 968.3L334 968L335 967.7L336 968.1L337 967.2L338 967.8L339 968.1L340 967.2L341 967.7L342 967.8L343 967.3L344 967.7L345 967.5L346 967.2L347 968.1L348 967.7L349 967.6L350 967.9L351 967.8L352 967.7L353 967.9L354 968.2L355 968L356 967.9L357 967.4L358 967.6L359 967.5L360 967.6L361 967.9L362 967.8L363 967.6L364 967.8L365 968L366 967.7L367 967.6L368 968.3L369 968L370 967.9L371 968.2L372 968.3L373 967.7L374 967.6L375 968.3L376 968.1L377 968.1L378 968.3L379 968.2L380 967.6L381 968.6L382 967.9L383 968.4L384 967.8L385 968.4L386 967.9L387 968L388 967.7L389 968.3L390 967.8L391 968.6L392 968L393 967.6L394 968.1L395 967.8L396 967.9L397 968.3L398 967.9L399 968.3L400 967.8L401 968.2L402 968.1L403 967.7L404 967.5L405 967.9L406 967.9L407 967.7L408 968.2L409 967.8L410 968.4L411 968.5L412 968.3L413 968L414 968.5L415 968.4L416 967.4L417 967.9L418 968L419 967.7L420 968.4L421 968.2L422 968.6L423 967.9L424 967.6L425 968.4L426 968.2L427 968.2L428 968.6L429 968.2L430 968.4L431 968.2L432 968L433 968.6L434 968.4L435 968.3L436 969.1L437 967.7L438 969.1L439 968.2L440 968.1L441 968.5L442 968.3L443 968.4L444 968.1L445 968.3L446 968.3L447 968.8L448 967.9L449 968.7L450 967.8L451 968.3L452 968.2L453 968L454 968L455 968.1L456 968.5L457 968.3L458 968.2L459 967.7L460 967.6L461 968.3L462 966.7L463 967.1L464 966L465 966.7L466 966.2L467 966.8L468 967.4L469 967.6L470 968.2L471 967.5L472 968.1L473 968.5L474 968.6L475 967.7L476 968.2L477 968.2L478 968.1L479 967.8L480 968.6L481 968L482 968L483 968.2L484 968.2L485 968.7L486 968.5L487 968.4L488 968.4L489 968.5L490 967.9L491 968.2L492 967.7L493 968.3L494 968.6L495 968.1L496 968.5L497 968.8L498 968.1L499 968.4L500 968.4L501 967.8L502 968.2L503 968L504 968.4L505 968.2L506 968.1L507 968.5L508 968.5L509 967.9L510 968.2L511 968.2L512 967.9L513 968.7L514 967.6L515 968.3L516 968.2L517 968.6L518 969L519 968.7L520 968.4L521 967.4L522 968L523 967.4L524 968.6L525 967.8L526 968.6L527 968.4L528 968.2L529 967.1L530 968.1L531 968.3L532 968.2L533 968.7L534 968.1L535 968.1L536 968.6L537 968.6L538 967.8L539 968.4L540 968.1L541 968.1L542 968.1L543 968.1L544 968.1L545 967.8L546 967.4L547 967.4L548 967.9L549 967.5L550 968.4L551 968.3L552 966.6L553 967.4L554 966.5L555 966.2L556 966.1L557 966.8L558 966.7L559 966.5L560 967L561 967.9L562 967.3L563 967.3L564 968.2L565 967.2L566 968L567 967.4L568 967.8L569 967.8L570 968.1L571 967.5L572 967.8L573 968.4L574 968.2L575 968.2L576 967.6L577 968.7L578 968.3L579 968L580 968.3L581 967.7L582 968L583 967.7L584 967.5L585 967.8L586 967.7L587 967.5L588 966.9L589 966.6L590 966.3L591 964.5L592 962.5L593 954.3L594 932.7L595 897.8L596 888.2L597 920.4L598 949.4L599 960.6L600 964.3L601 965.8L602 966.9L603 966.3L604 967L605 967.5L606 967.5L607 967.2L608 967.9L609 967.7L610 967.8L611 968.4L612 967.6L613 968.4L614 968.4L615 967.1L616 968.5L617 968.2L618 967.6L619 967.5L620 968.3L621 968.1L622 968.1L623 968.4L624 967.7L625 968.1L626 968.5L627 968.3L628 968.5L629 968.9L630 968.6L631 967.8L632 968.2L633 967.5L634 968.2L635 968.5L636 967.4L637 967.9L638 967.4L639 966.1L640 965.7L641 964.7L642 963L643 962.4L644 962.9L645 964L646 965.4L647 967L648 967.3L649 967.7L650 967.8L651 968.3L652 968.5L653 968.3L654 968.1L655 967.7L656 967.9L657 967.5L658 967.6L659 968.6L660 967.8L661 968.1L662 967.9L663 968.8L664 968.1L665 968.5L666 968.4L667 969.3L668 968.8L669 968.8L670 968.1L671 968.2L672 969L673 968.4L674 968.1L675 968L676 968L677 968L678 967.7L679 968.2L680 967.3L681 967.7L682 967L683 967.6L684 967.3L685 967.7L686 967.2L687 967.7L688 968.3L689 968.5L690 967.9L691 968.9L692 968L693 967.2L694 968.4L695 968.2L696 968.7L697 967.7L698 967.8L699 967.1L700 966.8L701 966.3L702 965.7L703 964.7L704 964.4L705 964.9L706 964.8L707 966.5L708 967.4L709 967.1L710 968.4L711 968.2L712 967.8L713 968.4L714 968L715 967.8L716 967.6L717 967.4L718 967.9L719 967.4L720 967L721 966.1L722 966L723 964.9L724 963.4L725 960.8L726 959.5L727 957.6L728 955.5L729 956L730 956L731 958.5L732 960.7L733 962.3L734 963.4L735 965.6L736 965.8L737 966.4L738 967.3L739 968.2L740 967.4L741 967.8L742 967.8L743 967.6L744 968.3L745 968.2L746 967.9L747 967.6L748 967.9L749 968.1L750 968.2L751 968.1L752 968.4L753 967.9L754 968.1L755 968.3L756 968.3L757 968.3L758 968.1L759 968.5L760 967.6L761 968.1L762 968L763 968.6L764 968.7L765 968.4L766 968.4L767 968.3L768 968.6L769 968.8L770 968.8L771 968.1L772 968.2L773 968.3L774 968.3L775 968.6L776 968.1L777 968L778 968.5L779 968.1L780 968.4L781 968.2L782 968.5L783 967.9L784 968.4L785 967.9L786 968.2L787 967.4L788 967.7L789 968.4L790 968.1L791 967.7L792 968.2L793 968.8L794 968.8L795 968.6L796 968.5L797 968.3L798 967.1L799 968L800 968.1L801 968.6L802 968.6L803 968.6L804 968.5L805 967.8L806 968L807 967.5L808 967.8L809 968.1L810 968.4L811 968L812 967.3L813 967.5L814 966.7L815 966.7L816 966L817 966.8L818 965.4L819 964.8L820 963.8L821 962.3L822 960.1L823 956.8L824 952.1L825 943.6L826.2 883.9L828.5 872L830.8 884L832 943.8L833 952.3L834 956.9L835 960.3L836 962.5L837 964.2L838 965.6L839 966L840 966.4L841 966.5L842 966.6L843 967.8L844 967.7L845 968.1L846 967.2L847 968.4L848 968.8L849 968.8L850 968L851 968.5L852 968L853 968.4L854 968.4L855 969.2L856 969L857 968.2L858 967.6L859 968.1L860 967L861 967.2L862 967.2L863 967.4L864 967.7L865 967.7L866 967.5L867 967.4L868 966.3L869 965.5L870 964.5L871 962.7L872 961.3L873 960.6L874 959.2L875 956.5L876 952.3L877 927.7L877.7 896L880 884.5L882.3 896.5L883 931.9L884 953.1L885 957.6L886 960.9L887 963.1L888 964.4L889 965.1L890 966L891 965.1L892 965.4L893 965.9L894 966.2L895 967.1L896 967.9L897 968.6L898 968.4L899 969.3L900 969.1L901 969.6L902 969.9L903 969.9L904 970.1L905 969.8L906 970L907 970.9L908 969.9L909 969.8L910 970.3L911 970.4L912 969.9L913 969.9L914 970.9L915 970.7L916 970.2L917 970.9L918 970.3L919 970.8L920 969.8L921 970.6L922 971.2L923 970.7L924 970.6L925 970.1L926 970.6L927 970.5L928 970.2L929 970.4L930 970.3L931 970L932 970.1L933 970.5L934 971.1L935 970.6L936 970.7L937 970.8L938 969.8L939 970.7L940 970.4L941 970.5L942 970.8L943 970.6L944 970.8L945 971.1L946 971L947 969.9L948 970.4L949 970.2L950 970.5L951 970.8L952 970.7L953 970.4L954 970.5L955 969.9L956 970.5L957 970.6L958 970.5L959 970.8L960 970L961 970.3L962 970.1L963 969.6L964 969.5L965 969.5L966 968.8L967 969L968 968.6L969 969.2L970 969.5L971 969.5L972 969.7L973 970.1L974 970.1L975 970L976 970.2L977 970L978 969.9L979 969.7L980 968.8L981 968.5L982 967.3L983 967L984 967.3L985 967.7L986 968.8L987 969.8L988 969.3L989 970.8L990 970.7L991 970.8L992 970.8L993 971.1L994 970.8L995 970.5L996 970.4L997 970.9L998 971L999 971L1000 970.2L1001 970.2L1002 970.2L1003 970.4L1004 970.7L1005 971.4L1006 970.5L1007 970.9L1008 969.9L1009 970.3L1010 969.9L1011 970.2L1012 969.4L1013 969.7L1014 969.6L1015 970.4L1016 970.4L1017 970.4L1018 970.4L1019 970.5L1020 970.7L1021 971L1022 971.3L1023 971.1L1024 971L1025 971.3L1026 971.2L1027 971.2L1028 970.6L1029 970.7L1030 971.1L1031 971L1032 971.4L1033 970.8L1034 970.6L1035 970.8L1036 971.1L1037 970.8L1038 970.9L1039 970.6L1040 971.2L1041 970.2L1042 971.4L1043 971.2L1044 971.9L1045 971L1046 971.3L1047 972L1048 971.7L1049 970.8L1050 972L1051 970.3L1052 970.8L1053 971.4L1054 971.2L1055 971.1L1056 971L1057 971L1058 971.4L1059 970.7L1060 970.5L1061 970.9L1062 972L1063 971.7L1064 970.8L1065 970.7L1066 970.9L1067 970.9L1068 970.7L1069 970.5L1070 971.2L1071 971.7L1072 971L1073 970.5L1074 970.4L1075 970.6L1076 970.1L1077 970.9L1078 970.3L1079 969.6L1080 970.6L1081 970L1082 969.8L1083 969.4L1084 968.7L1085 966.1L1086 963.5L1087 957.8L1088 950.8L1089 942.8L1090 935.7L1091 935.7L1092 940.1L1093 948.7L1094 955.7L1095 961.4L1096 965.9L1097 967.3L1098 969.1L1099 969.9L1100 969.8L1101 969.6L1102 970.1L1103 970.4L1104 970.2L1105 970.6L1106 970.9L1107 971.3L1108 970.8L1109 971L1110 970.9L1111 971.4L1112 970.6L1113 970.7L1114 971.3L1115 970.6L1116 971L1117 971.4L1118 971L1119 970.8L1120 971.4L1121 971.4L1122 970.9L1123 971L1124 971.1L1125 971.4L1126 971.2L1127 971.7L1128 971.1L1129 971.3L1130 970.9L1131 971.7L1132 971.1L1133 971.1L1134 971.6L1135 971.2L1136 970.6L1137 971.2L1138 970.8L1139 972L1140 970.6L1141 971.8L1142 971.5L1143 971.3L1144 971L1145 970.9L1146 971.6L1147 971.7L1148 971.3L1149 970.9L1150 971.2L1151 971.9L1152 970.9L1153 971.3L1154 970.9L1155 970.9L1156 971.4L1157 971.3L1158 971.5L1159 971.1L1160 971.5L1161 970.3L1162 969.9L1163 969.5L1164 969.6L1165 969.1L1166 969.6L1167 969.3L1168 970L1169 970L1170 970.2L1171 970.7L1172 970.6L1173 970.4L1174 970.4L1175 971.2L1176 970.6L1177 970.5L1178 970.3L1179 970.5L1180 969.6L1181 969.7L1182 969.2L1183 967.9L1184 966.5L1185 963.4L1186 960.1L1187 956L1188 950.1L1189 947.3L1190 947.2L1191 950.7L1192 954.8L1193 959.2L1194 962.9L1195 966.2L1196 967.8L1197 969.1L1198 969.6L1199 970L1200 969.9L1201 970.3L1202 970.6L1203 970.5L1204 970.4L1205 971L1206 971L1207 970.6L1208 970.9L1209 970.5L1210 970.6L1211 971.4L1212 971.1L1213 970.4L1214 970.8L1215 970.7L1216 970.6L1217 970.9L1218 970.9L1219 969.7L1220 969L1221 967.9L1222 966L1223 962.9L1224 958L1225 954.4L1226 953.2L1227 955.9L1228 960.6L1229 963.9L1230 967.2L1231 968.7L1232 969.6L1233 970.4L1234 970.6L1235 970.4L1236 970.1L1237 970.8L1238 971.2L1239 971.9L1240 970.9L1241 971.7L1242 971.3L1243 971.3L1244 971.4L1245 971.5L1246 971.1L1247 971.3L1248 970.9L1249 971.3L1250 971.1L1251 971.2L1252 970.8L1253 970.9L1254 971.5L1255 971.8L1256 971.2L1257 971.7L1258 971.6L1259 971.2L1260 971.5L1261 972.1L1262 971.5L1263 970.8L1264 971.2L1265 971.4L1266 971.5L1267 971.2L1268 971.6L1269 972.2L1270 971.6L1271 971.9L1272 971.4L1273 971.6L1274 971.6L1275 971.3L1276 971.8L1277 971.8L1278 971.4L1279 971.9L1280 971.1L1281 971.5L1282 971.2L1283 971.9L1284 972L1285 971.2L1286 971.8L1287 971.5L1288 971.5L1289 971.8L1290 970.8L1291 971.4L1292 971.8L1293 971L1294 971L1295 971L1296 971.3L1297 971.3L1298 971.2L1299 971.3L1300 971.1L1301 971.3L1302 971.1L1303 971.2L1304 971.3L1305 971L1306 971.1L1307 971.1L1308 971.4L1309 971.1L1310 970.9L1311 971.4L1312 972L1313 971.5L1314 971.5L1315 971L1316 971.3L1317 971L1318 971.9L1319 971.2L1320 971.2L1321 971.6L1322 971.7L1323 971.6L1324 971.1L1325 971.8L1326 971.6L1327 971.6L1328 971.5L1329 971.3L1330 971.3L1331 971.5L1332 971.3L1333 971.6L1334 971L1335 970.7L1336 970.5L1337 970.1L1338 969.3L1339 967.5L1340 965.3L1341 961.1L1342 957.2L1343 954L1344 953.1L1345 956.7L1346 960.6L1347 963.6L1348 967.6L1349 968.4L1350 970L1351 970.5L1352 970.9L1353 971L1354 970.9L1355 971.2L1356 971.8L1357 970.7L1358 971.2L1359 971L1360 971.5L1361 971.8L1362 972L1363 971.2L1364 971.1L1365 971.7L1366 971.6L1367 971.1L1368 971.6L1369 971.5L1370 970.5L1371 970.2L1372 968.9L1373 968L1374 966.1L1375 964.2L1376 963.4L1377 961.9L1378 963.5L1379 964.3L1380 966.1L1381 967.8L1382 969L1383 970.2L1384 971L1385 971.4L1386 971.3L1387 971L1388 970.9L1389 971.2L1390 971.4L1391 971.9L1392 970.6L1393 970.6L1394 970.6L1395 970.1L1396 969.2L1397 968.5L1398 967L1399 966.2L1400 966.1L1401 966.7L1402 968.1L1403 968.7L1404 970.1L1405 969.7L1406 970.5L1407 971.1L1408 971.3L1409 971.6L1410 970.9L1411 971.9L1412 971.4L1413 971.6L1414 971.5L1415 971.9L1416 971.7L1417 972L1418 971.8L1419 972L1420 971.6L1421 971.9L1422 971.6L1423 971.7L1424 972L1425 972.8L1426 971.1L1427 971.8L1428 971.6L1429 971.5L1430 971.4L1431 972.2L1432 972L1433 972L1434 972L1435 971.9L1436 972.4L1437 972L1438 972L1439 972L1440 971.5L1441 971.4L1442 971.5L1443 971.7L1444 971.7L1445 971.8L1446 971.5L1447 971.5L1448 971.8L1449 971.2L1450 971.5L1451 971.7L1452 971.7L1453 970.8L1454 971.1L1455 971.1L1456 971.2L1457 970.6L1458 970.1L1459 968.5L1460 966.1L1461 962.8L1462 959.9L1463 955.5L1464 953.8L1465 954.8L1466 957.3L1467 961.4L1468 965L1469 967.6L1470 969.2L1471 970.1L1472 971.1L1473 970.7L1474 970.7L1475 971.8L1476 970.7L1477 971.7L1478 972.1L1479 972.2L1480 971.9L1481 971.5L1482 971.4L1483 971.8L1484 971.7L1485 972.5L1486 972L1487 971.5L1488 972.4L1489 972.3L1490 972L1491 972L1492 971.1L1493 971.7L1494 971.1L1495 971.9L1496 972.3L1497 971.8L1498 972.3L1499 971.8L1500 972.2L1501 972.6L1502 972.2L1503 971.8L1504 971.8L1505 971.9L1506 972.4L1507 971.3L1508 972.1L1509 972.1L1510 971.4L1511 971.3L1512 970.8L1513 970L1514 971L1515 971L1516 971.2L1517 971.1L1518 971.8L1519 971.9L1520 971.9L1521 971.8L1522 972.2L1523 972L1524 971.4L1525 972.4L1526 972L1527 971.5L1528 972.6L1529 972.2L1530 971.9L1531 971.8L1532 972.3L1533 972.7L1534 972.5L1535 972.3L1536 971.6L1537 971.7L1538 972.2L1539 971.9L1540 972L1541 972.2L1542 972.3L1543 972.6L1544 971.6L1545 972.8L1546 972.3L1547 972L1548 971.8L1549 972.4L1550 972.1L1551 971.6L1552 972.4L1553 971.7L1554 972.2L1555 972.5L1556 971.8L1557 972.5L1558 971.6L1559 972.2L1560 972L1561 971.4L1562 972.3L1563 972.3L1564 971.9L1565 972.3L1566 972.6L1567 972L1568 972.6L1569 972.8L1570 972.7L1571 973.1L1572 972.1L1573 971.8L1574 972.2L1575 971.7L1576 971.8L1577 972.2L1578 972.3L1579 971.8L1580 972.2L1581 972.4L1582 971.8L1583 972.3L1584 972.1L1585 972.6L1586 972.2L1587 972.1L1588 972L1589 972.4L1590 972L1591 971.4L1592 971.3L1593 971.1L1594 970.3L1595 968.8L1596 967L1597 965.5L1598 964.7L1599 965.8L1600 967L1601 968L1602 969.8L1603 971L1604 971.1L1605 972.2L1606 971.6L1607 972L1608 971.9L1609 972.2L1610 971.5L1611 972.5L1612 972L1613 972.2L1614 972.4L1615 972.1L1616 972L1617 971.6L1618 971.7L1619 972.3L1620 972.1L1621 972.6L1622 972.3L1623 972.1L1624 971.9L1625 972.1L1626 972L1627 971.7L1628 972.4L1629 972.2L1630 972.4L1631 972.4L1632 972.1L1633 972L1634 972.5L1635 972L1636 972.2L1637 972.8L1638 972.4L1639 972.6L1640 972L1641 971.8L1642 972L1643 972.7L1644 972.4L1645 972.8L1646 972.4L1647 971.6L1648 973L1649 972.2L1650 972.2L1651 971.5L1652 972.3L1653 972.9L1654 972.9L1655 972.7L1656 973.2L1657 972L1658 972.1L1659 972.7L1660 972.8L1661 972.4L1662 972.5L1663 971.2L1664 972.2L1665 972.3L1666 972.6L1667 972.3L1668 972.7L1669 971.8L1670 972.1L1671 972.2L1672 972.2L1673 972.1L1674 971.9L1675 971.8L1676 972.7L1677 972L1678 972.3L1679 972.7L1680 972.2L1681 972.6L1682 972L1683 971.9L1684 972.5L1685 972.2L1686 972.8L1687 972.1L1688 973.1L1689 972.5L1690 972.1L1691 972.4L1692 972.1L1693 972.6L1694 971.6L1695 972.6L1696 972.2L1697 972.9L1698 972.4L1699 972.5L1700 972.8L1701 972.6L1702 972.3L1703 972L1704 971.9L1705 972L1706 972.3L1707 972.8L1708 972.1L1709 972.5L1710 972.8L1711 972.7L1712 972.9L1713 972L1714 972.5L1715 972.7L1716 973.3L1717 972L1718 971.8L1719 972L1720 972.5L1721 972.4L1722 971.9L1723 972L1724 972.4L1725 972.6L1726 972.6L1727 971.5L1728 972.7L1729 972.1L1730 972.4L1731 972.5L1732 972.1L1733 971.9L1734 972.2L1735 971.3L1736 971.5L1737 971.9L1738 971.3L1739 971.6L1740 970.7L1741 970.1L1742 969.4L1743 968.2L1744 966.1L1745 965L1746 964.3L1747 964.4L1748 964.6L1749 966.8L1750 967.2L1751 969.1L1752 970.6L1753 971.2L1754 971.4L1755 971.8L1756 971.2L1757 972.1L1758 971.5L1759 971.2L1760 971.2L1761 971.7L1762 972L1763 970.7L1764 970.8L1765 971L1766 969.8L1767 969.9L1768 967.6L1769 965.4L1770 960.8L1771 953.5L1772 946.2L1773 939.9L1774 940.3L1775 946.5L1776 953.6L1777 959.1L1778 961L1779 960.2L1780 957.8L1781 957L1782 961.7L1783 965.1L1784 968L1785 969.8L1786 970.7L1787 971.7L1788 971.5L1789 972.1L1790 971.6L1791 972.3L1792 972.1L1793 972.7L1794 972.4L1795 972L1796 972.2L1797 972.9L1798 972.4L1799 972.1L1800 972L1801 972.5L1802 972.8L1803 972.4L1804 972L1805 973L1806 972.4L1807 972.4L1808 971.5L1809 971.8L1810 971.1L1811 970.3L1812 970.8L1813 970.5L1814 970.8L1815 970.8L1816 971.1L1817 971.2L1818 972.3L1819 972.2L1820 972.3L1821 971.6L1822 972.2L1823 972.8L1824 972.3L1825 973.2L1826 973.4L1827 972.1L1828 972.7L1829 973.2L1830 973.2L1831 972.6L1832 972.7L1833 972.3L1834 972.1L1835 972L1836 972.5L1837 972.5L1838 972.6L1839 972.9L1840 972.6L1841 972.5L1842 972.2L1843 972.6L1844 973.1L1845 972.5L1846 972.8L1847 971.8L1848 972.5L1849 972.1L1850 972.6L1851 972.1L1852 972.8L1853 973.2L1854 972.6L1855 972.7L1856 973.2L1857 972.3L1858 972.7L1859 972.5L1860 973.5L1861 972.4L1862 973.1L1863 972.7L1864 972.2L1865 972.7L1866 972.9L1867 972.7L1868 972.3L1869 972.5L1870 972.8L1871 972.6L1872 972.5L1873 972.9L1874 972.8L1875 972.6L1876 972.5L1877 972.7L1878 972.8L1879 973.4L1880 972.5L1881 972.7L1882 972.9L1883 972.9L1884 973.3L1885 972.6L1886 972.2L1887 972.1L1888 971.8L1889 972.4L1890 972.3L1891 972L1892 972.8L1893 972.8L1894 972.7L1895 972.1L1896 972.3L1897 972.1L1898 972.3L1899 972.5L1900 972.7L1901 972.4L1902 972.3L1903 971.8L1904 972.3L1905 972.8L1906 972.3L1907 972L1908 972.6L1909 972.8L1910 972.7L1911 972.3L1912 972.8L1913 972.7L1914 972.6L1915 972L1916 972.5L1917 972.3L1918 972.4L1919 972.1L1920 972.8L1921 971.9L1922 971.6L1923 970.9L1924 970.7L1925 970.5L1926 969.3L1927 968.6L1928 966.7L1929 965.4L1930 964.6L1931 963L1932 963.8L1933 964.6L1934 965.9L1935 967.6L1936 969.5L1937 969.9L1938 971.2L1939 972L1940 972.6L1941 971.9L1942 971.8L1943 972L1944 972.7L1945 972.8L1946 971.9L1947 972.2L1948 972.1L1949 972.2L1950 972.9L1951 972.8L1952 971.6L1953 972.1L1954 972.1L1955 972.3L1956 971.7L1957 971.6L1958 971.5L1959 970.6L1960 969.3L1961 968.1L1962 966.3L1963 964.5L1964 964.4L1965 965.4L1966 967.3L1967 969L1968 970L1969 970.7L1970 971.5L1971 972L1972 971.7L1973 972.5L1974 972L1975 972L1976 971.7L1977 971.9L1978 971.4L1979 969.7L1980 969.2L1981 969L1982 968.8L1983 969.7L1984 970.8L1985 970.5L1986 971.4L1987 971.8L1988 972.3L1989 971.9L1990 972.5L1991 972.3L1992 971.9L1993 972.6L1994 972.1L1995 972.9L1996 972.7L1997 973L1998 972.2L1999 972.7L2000 973L2001 972.8L2002 973L2003 972.4L2004 972.9L2005 972.1L2006 972.2L2007 973.4L2008 972.9L2009 972.3L2010 972.3L2011 973.1L2012 973L2013 971.8L2014 972.4L2015 972.8L2016 972.4L2017 973.2L2018 973L2019 973.4L2020 972.3L2021 972.9L2022 972.6L2023 972.4L2024 972.7L2025 972.7L2026 972.6L2027 973L2028 972.7L2029 973L2030 973.1L2031 972.6L2032 972L2033 972.5L2034 972.8L2035 973L2036 972.4L2037 972.1L2038 972.9L2039 972.8L2040 973.3L2041 972.4L2042 972.9L2043 972.5L2044 973.6L2045 972.5L2046 972.7L2047 972.8L2048 972.4L2049 972.9L2050 973.1L2051 973.2L2052 973L2053 972.9L2054 972.4L2055 972.6L2056 973.2L2057 972.6L2058 972.7L2059 972.4L2060 972.9L2061 972.3L2062 972.6L2063 971.8L2064 972.2L2065 973.3L2066 971.6L2067 972.4L2068 972.3L2069 971.5L2070 971.9L2071 971.5L2072 971.3L2073 971.6L2074 972.1L2075 971.5L2076 971.5L2077 971.4L2078 970.6L2079 970.9L2080 971.3L2081 971.2L2082 971.6L2083 971.6L2084 972.2L2085 971.5L2086 971.6L2087 971.9L2088 972.1L2089 972L2090 972.3L2091 972.8L2092 973.2L2093 972.5L2094 972.8L2095 973L2096 972.6L2097 973.6L2098 972.7L2099 972.9L2100 972.9L2101 973.1L2102 972.7L2103 973L2104 973.6L2105 972.9L2106 972.8L2107 973.1L2108 972.9L2109 972.7L2110 972.8L2111 972.7L2112 973.1L2113 972.9L2114 972.9L2115 972.7L2116 972.8L2117 972.6L2118 973L2119 972.7L2120 973L2121 972.2L2122 973.5L2123 972.8L2124 973.3L2125 973L2126 972.7L2127 973L2128 972.8L2129 972.9L2130 973.1L2131 972.7L2132 973.6L2133 973L2134 973.4L2135 972.7L2136 972.9L2137 973L2138 972.9L2139 973.5L2140 972.8L2141 973L2142 973L2143 973L2144 973.6L2145 973.3L2146 972.3L2147 973.1L2148 973L2149 973.2L2150 972.6L2151 973L2152 973.4L2153 973.5L2154 973L2155 973.1L2156 972.4L2157 972.9L2158 974L2159 972.9L2160 972.8L2161 973L2162 972.8L2163 973L2164 971.1L2165 967.4L2166 962L2167 949.2"/>
<path class="m" stroke="#00C8C8" d="M826.20 884.1L828.50 872.1L830.80 884.1M877.67 896.6L879.97 884.6L882.27 896.6"/>
<path class="c" stroke="#DC9600" d="M161 1044.1L162 1043.4L163 1043.3L164 1043.3L165 1043.4L166 1043.7L167 1043.3L168 1043L169 1043.4L170 1043.4L171 1043.5L172 1043.1L173 1043.2L174 1044.3L175 1043.3L176 1042.7L177 1043.3L178 1043.2L179 1043.5L180 1042.3L181 1043.4L182 1043.3L183 1042.7L184 1042.8L185 1043.4L186 1042.9L187 1043L188 1043.5L189 1042.9L190 1043.2L191 1042.9L192 1042.8L193 1043.1L194 1042.8L195 1043.6L196 1043.1L197 1042L198 1043L199 1043.4L200 1042.8L201 1042L202 1042.9L203 1043L204 1043.3L205 1043L206 1043.2L207 1043.5L208 1042.3L209 1043.1L210 1043L211 1042.4L212 1043L213 1042.7L214 1042.8L215 1043.1L216 1042.6L217 1043.1L218 1042.8L219 1042.5L220 1042.6L221 1042.3L222 1042.6L223 1042.2L224 1042.5L225 1042.3L226 1042.3L227 1041.9L228 1041.4L229 1041.4L230 1041.3L231 1040.6L232 1040.9L233 1040.5L234 1040.2L235 1039.7L236 1039.7L237 1038.6L238 1038L239 1037.3L240 1036.6L241 1035.3L242 1033.9L243 1033.3L244 1030.8L245 1029.1L246 1027.7L247 1025.3L248 1022.7L249 1020.1L250 1017.3L251 1015.9L252 1014.3L253 1012.6L254 1012.2L255 1013.4L256 1014.8L257 1016.7L258 1018.5L259 1021.1L260 1023.9L261 1025.7L262 1027.7L263 1029.9L264 1032L265 1033.1L266 1034.4L267 1035.3L268 1037.5L269 1038.5L270 1038.4L271 1040L272 1041L273 1040.6L274 1041.3L275 1041.6L276 1041.5L277 1042.2L278 1041.8L279 1042.5L280 1042.9L281 1043.1L282 1043.5L283 1043.6L284 1043.5L285 1044L286 1043.3L287 1043.7L288 1043.8L289 1044.5L290 1044.4L291 1044.4L292 1044.6L293 1044.4L294 1044.5L295 1044.5L296 1044.8L297 1044.1L298 1045.1L299 1044.5L300 1044.9L301 1045.1L302 1045L303 1044.6L304 1045.3L305 1044.8L306 1045L307 1045L308 1045L309 1044.6L310 1043.6L311 1043.5L312 1040.8L313 1037.5L314 1036.3L315 1036.7L316 1038.9L317 1042.5L318 1044.3L319 1044.5L320 1045.3L321 1045.8L322 1045.4L323 1046L324 1046.1L325 1045.9L326 1046.3L327 1046.2L328 1046.2L329 1046.5L330 1045.7L331 1045.4L332 1046.5L333 1046.2L334 1046.2L335 1046.5L336 1046.5L337 1046.3L338 1045.9L339 1046.7L340 1046.5L341 1046.9L342 1046.2L343 1046.8L344 1047.2L345 1046.8L346 1046.6L347 1046.8L348 1046.7L349 1046.8L350 1047.2L351 1046.3L352 1047L353 1046.6L354 1046.1L355 1047.1L356 1046.7L357 1047.6L358 1046.6L359 1046.6L360 1046.8L361 1046.7L362 1047.2L363 1046.4L364 1046.6L365 1047.6L366 1046.4L367 1047.4L368 1046.9L369 1047.3L370 1047.2L371 1047.1L372 1046.8L373 1046.5L374 1047L375 1047.4L376 1046.8L377 1047.1L378 1046.6L379 1046.6L380 1047.2L381 1047.2L382 1047L383 1048.1L384 1047.1L385 1047.3L386 1046.4L387 1047.4L388 1046.7L389 1046L390 1046.8L391 1047.1L392 1046.7L393 1047.4L394 1047.4L395 1047L396 1046.6L397 1046.9L398 1047.4L399 1047.5L400 1047.8L401 1047.2L402 1046.7L403 1047L404 1046.4L405 1047L406 1047.3L407 1047.6L408 1046.6L409 1046.7L410 1047.3L411 1046.5L412 1047.2L413 1047L414 1046.8L415 1047.1L416 1046.8L417 1046.8L418 1047.1L419 1047.2L420 1047.1L421 1047.3L422 1047.7L423 1047.3L424 1047.5L425 1047.4L426 1047.7L427 1047.3L428 1047.4L429 1047.4L430 1047.2L431 1047.1L432 1047.1L433 1046.9L434 1046.9L435 1047.2L436 1047.1L437 1047.7L438 1047.8L439 1047.6L440 1047.1L441 1046.5L442 1047.9L443 1047.3L444 1047.5L445 1047.2L446 1047.4L447 1047L448 1047.1L449 1048.1L450 1047.7L451 1047L452 1046.9L453 1047L454 1047.5L455 1047.1L456 1047.4L457 1047.2L458 1046.6L459 1046.8L460 1046.5L461 1046.6L462 1045.9L463 1045.6L464 1045L465 1045.4L466 1046L467 1045.8L468 1046.3L469 1046.8L470 1046.3L471 1047.1L472 1047.5L473 1047.5L474 1047.6L475 1047.2L476 1046.6L477 1046.8L478 1046.9L479 1047.6L480 1046.8L481 1047.4L482 1046.9L483 1047.6L484 1047.4L485 1046.7L486 1046.3L487 1047.6L488 1047.2L489 1047.9L490 1047.3L491 1047.6L492 1047.1L493 1046.5L494 1046.7L495 1047.2L496 1047.2L497 1047.2L498 1047.1L499 1047.4L500 1046.6L501 1047.5L502 1047.1L503 1046.9L504 1047.3L505 1047.1L506 1047.2L507 1046.9L508 1046.4L509 1047L510 1047.3L511 1046.8L512 1047.1L513 1046.9L514 1047.3L515 1047.6L516 1047L517 1047L518 1046.8L519 1046.9L520 1047.2L521 1046.3L522 1047.8L523 1046.7L524 1046.7L525 1046.9L526 1046.7L527 1047L528 1047.6L529 1047.1L530 1046.4L531 1047.8L532 1046.4L533 1047.1L534 1046.9L535 1047.2L536 1046.8L537 1046.7L538 1046.9L539 1046.2L540 1046.8L541 1046.3L542 1046.7L543 1046.8L544 1046.9L545 1046.2L546 1046.9L547 1045.8L548 1046.4L549 1046.4L550 1045.2L551 1045.4L552 1045.3L553 1045.2L554 1044.8L555 1043.9L556 1044L557 1044.3L558 1044L559 1044.3L560 1044.9L561 1044.3L562 1045L563 1045.6L564 1045.6L565 1046.2L566 1045.8L567 1046.8L568 1046.7L569 1046.5L570 1046.3L571 1046.2L572 1046.5L573 1046.7L574 1046.6L575 1046.6L576 1047.1L577 1046.4L578 1046.6L579 1045.8L580 1046.4L581 1045.9L582 1046.3L583 1046.3L584 1046.3L585 1046.2L586 1045.8L587 1046.1L588 1045.1L589 1045.2L590 1044.7L591 1043.5L592 1041.2L593 1033.3L594 1013L595 978.9L596 969.8L597 1001.3L598 1028.5L599 1039.5L600 1042.4L601 1044.1L602 1044.8L603 1045.3L604 1046L605 1046L606 1045.8L607 1046.8L608 1046.7L609 1046.1L610 1046.4L611 1046.6L612 1045.9L613 1047L614 1046.8L615 1046.8L616 1046.8L617 1046.5L618 1046.4L619 1047L620 1046.7L621 1046.8L622 1046.6L623 1046.7L624 1046.1L625 1046.2L626 1046.5L627 1046.9L628 1046.2L629 1046.4L630 1047L631 1046.6L632 1046.8L633 1046.3L634 1045.7L635 1046.7L636 1046.3L637 1046.2L638 1045.4L639 1045.1L640 1044.3L641 1043.2L642 1041.6L643 1040.3L644 1041.7L645 1042.3L646 1044L647 1045.1L648 1045.9L649 1046L650 1046.1L651 1046.4L652 1046L653 1046.6L654 1046.4L655 1046.8L656 1045.8L657 1046.3L658 1046.6L659 1046.5L660 1045.8L661 1045.7L662 1046.3L663 1045.8L664 1046.3L665 1046.3L666 1046.2L667 1046.5L668 1046.8L669 1046.5L670 1046.2L671 1046.4L672 1046L673 1046.2L674 1046.6L675 1046.2L676 1045.4L677 1046.5L678 1046.3L679 1045.3L680 1045L681 1045.7L682 1044.7L683 1045L684 1044.3L685 1045.4L686 1045.4L687 1045.5L688 1046L689 1046.9L690 1046.7L691 1046.3L692 1045.6L693 1045.9L694 1046.1L695 1046.3L696 1046.2L697 1046.1L698 1045.6L699 1046L700 1045.2L701 1044.8L702 1044.4L703 1043.1L704 1043L705 1043.2L706 1044.5L707 1045L708 1045.3L709 1045.7L710 1045.8L711 1045.5L712 1045.8L713 1046L714 1046L715 1045.4L716 1045.3L717 1045.3L718 1045.6L719 1044.7L720 1044.8L721 1044.9L722 1043.8L723 1042.8L724 1041.7L725 1039.7L726 1038.2L727 1036.6L728 1035.2L729 1034.6L730 1035.9L731 1037.4L732 1039L733 1039.7L734 1041.9L735 1042.4L736 1043.4L737 1044L738 1043.6L739 1043.8L740 1043.7L741 1044.3L742 1043.4L743 1043.1L744 1043L745 1043.1L746 1042L747 1042.3L748 1041.9L749 1040.1L750 1039.9L751 1039L752 1037.9L753 1036.3L754 1035.1L755 1033.1L756 1031.3L757 1030L758 1029.7L759 1029.6L760 1029L761 1030.2L762 1030.7L763 1033.1L764 1033.3L765 1035.3L766 1037.1L767 1037.7L768 1038.5L769 1040L770 1040.5L771 1041.1L772 1041.7L773 1042.7L774 1042.6L775 1043.1L776 1043.7L777 1043.6L778 1044.1L779 1044.4L780 1044.3L781 1044.7L782 1044.6L783 1044.6L784 1044.9L785 1044.8L786 1045L787 1044.5L788 1045.4L789 1045.1L790 1045.6L791 1045.4L792 1045.2L793 1045.8L794 1045.7L795 1045.4L796 1045.1L797 1045L798 1045L799 1045.4L800 1045.1L801 1045.7L802 1045.5L803 1045.6L804 1045.6L805 1045.5L806 1045.1L807 1045.4L808 1045.4L809 1045L810 1046L811 1045.2L812 1045.1L813 1044.5L814 1044.1L815 1044.5L816 1044.2L817 1044L818 1043.2L819 1042.7L820 1042.2L821 1040.1L822 1037.9L823 1034.7L824 1030.2L825 1021.9L826.2 963.7L828.5 951.8L830.8 963.9L832 1022.2L833 1030.5L834 1035.1L835 1038.3L836 1040.6L837 1042.4L838 1043.7L839 1043.9L840 1044.8L841 1044.8L842 1045.1L843 1045.2L844 1045.4L845 1045.8L846 1046.1L847 1047L848 1046.3L849 1046.9L850 1046.3L851 1046.6L852 1046.3L853 1046.4L854 1047.4L855 1046.9L856 1046.6L857 1046.4L858 1046.7L859 1045.9L860 1045.9L861 1045.7L862 1045.2L863 1045.4L864 1045.5L865 1046.8L866 1045.9L867 1045.9L868 1044.6L869 1043.9L870 1042.1L871 1040.9L872 1039.9L873 1039.2L874 1037.8L875 1035.2L876 1030.9L877 1006.4L877.7 974.9L880 963.4L882.3 975.4L883 1010.7L884 1031.9L885 1036.4L886 1039.7L887 1041.9L888 1042.9L889 1043.2L890 1044.4L891 1044.8L892 1045.2L893 1045L894 1045.3L895 1046L896 1046.3L897 1047L898 1047.8L899 1047.6L900 1048.5L901 1048L902 1048.7L903 1048.7L904 1048.2L905 1049.2L906 1048.6L907 1048.5L908 1049.4L909 1049.1L910 1048.8L911 1049L912 1049.1L913 1049.3L914 1049.3L915 1050L916 1049.7L917 1049.6L918 1049.5L919 1048.9L920 1049.6L921 1049.9L922 1049.4L923 1049.1L924 1049.5L925 1049.6L926 1049.8L927 1049.9L928 1049.6L929 1048.8L930 1049.8L931 1050.1L932 1049.5L933 1049.7L934 1049.4L935 1049.9L936 1049.6L937 1049.9L938 1049.5L939 1049.7L940 1050.2L941 1049.5L942 1049.8L943 1049.6L944 1049.9L945 1049.8L946 1049L947 1049.5L948 1049.1L949 1049.6L950 1049.7L951 1049.4L952 1049.5L953 1049.4L954 1049.3L955 1049.7L956 1049.9L957 1049.5L958 1049.3L959 1049.2L960 1049.6L961 1049.2L962 1048.4L963 1049.3L964 1047.9L965 1048L966 1047L967 1047.2L968 1047.3L969 1047.5L970 1047.2L971 1048.9L972 1048.8L973 1049.1L974 1049.2L975 1049L976 1049.7L977 1048.9L978 1049.2L979 1048.3L980 1048.1L981 1047L982 1047.1L983 1046.4L984 1046.2L985 1047.5L986 1048.9L987 1049L988 1048.7L989 1049.6L990 1049.2L991 1049.9L992 1050L993 1049.7L994 1049.6L995 1049.8L996 1050.4L997 1049.5L998 1049.8L999 1050L1000 1049.9L1001 1049.8L1002 1050.2L1003 1049.1L1004 1050.1L1005 1049.3L1006 1049.9L1007 1049.5L1008 1049.4L1009 1049L1010 1048.9L1011 1049.5L1012 1048.9L1013 1049.3L1014 1048.3L1015 1049.1L1016 1049.4L1017 1049.4L1018 1049.5L1019 1049.8L1020 1049.2L1021 1049.9L1022 1049.2L1023 1049.6L1024 1049.9L1025 1050.2L1026 1049.7L1027 1049.9L1028 1050L1029 1050.1L1030 1049.2L1031 1049.6L1032 1049.7L1033 1050.3L1034 1049.5L1035 1050L1036 1049.5L1037 1049.6L1038 1050.3L1039 1050L1040 1050.3L1041 1050.4L1042 1050.2L1043 1049.6L1044 1050L1045 1050.3L1046 1049.7L1047 1049.6L1048 1049.9L1049 1050.2L1050 1049.6L1051 1050.1L1052 1049.9L1053 1050L1054 1049.8L1055 1050L1056 1049.5L1057 1049.3L1058 1050L1059 1049.7L1060 1050.1L1061 1050.4L1062 1049.9L1063 1050.5L1064 1049.5L1065 1049.7L1066 1049.3L1067 1050.6L1068 1049.8L1069 1050.6L1070 1050.4L1071 1049L1072 1050.1L1073 1049.6L1074 1049.9L1075 1049.3L1076 1050L1077 1049.3L1078 1049.8L1079 1049.6L1080 1048.8L1081 1049L1082 1048.9L1083 1048.3L1084 1047.1L1085 1046L1086 1042.8L1087 1038.6L1088 1032.7L1089 1025.6L1090 1019.8L1091 1019.6L1092 1022.8L1093 1029.1L1094 1036.6L1095 1042.1L1096 1045.5L1097 1047.5L1098 1048.4L1099 1049.4L1100 1048.8L1101 1049L1102 1048.9L1103 1049.6L1104 1049.3L1105 1050L1106 1048.8L1107 1049.8L1108 1049.8L1109 1049.5L1110 1050L1111 1050.5L1112 1049.9L1113 1050.6L1114 1049.8L1115 1049.8L1116 1049.8L1117 1050.5L1118 1049.9L1119 1049.6L1120 1050.6L1121 1049.7L1122 1050.3L1123 1050.5L1124 1050.4L1125 1050.1L1126 1050.2L1127 1049.6L1128 1050.2L1129 1050.4L1130 1050.3L1131 1050.6L1132 1050.8L1133 1050.2L1134 1049.6L1135 1050.9L1136 1050.1L1137 1050L1138 1050.2L1139 1050.1L1140 1050.9L1141 1050.1L1142 1050L1143 1049.7L1144 1050.9L1145 1049.9L1146 1050.3L1147 1050L1148 1050.5L1149 1050.3L1150 1050.2L1151 1049.6L1152 1050L1153 1049.9L1154 1050.3L1155 1049.8L1156 1050L1157 1049.7L1158 1049.5L1159 1049.6L1160 1049.4L1161 1048.6L1162 1047.9L1163 1048.2L1164 1046.9L1165 1046.3L1166 1046.4L1167 1046.8L1168 1047.1L1169 1047.6L1170 1048.2L1171 1048.3L1172 1048.6L1173 1049.3L1174 1049.5L1175 1049.6L1176 1049.6L1177 1049.9L1178 1048.7L1179 1049.4L1180 1049.2L1181 1048.4L1182 1048.4L1183 1047.4L1184 1045.9L1185 1044.3L1186 1040.8L1187 1035.8L1188 1032.6L1189 1029.4L1190 1028.9L1191 1031.7L1192 1035.4L1193 1040L1194 1042.9L1195 1045.5L1196 1047.3L1197 1047.9L1198 1048.7L1199 1049.3L1200 1049.3L1201 1049.4L1202 1049.9L1203 1049.3L1204 1049.4L1205 1049.4L1206 1049.8L1207 1050.3L1208 1049.8L1209 1050.5L1210 1050.1L1211 1050.2L1212 1050.3L1213 1049.2L1214 1050.2L1215 1049.8L1216 1050L1217 1050.2L1218 1049.5L1219 1048.4L1220 1048.6L1221 1046.6L1222 1044.5L1223 1040L1224 1035.9L1225 1032.7L1226 1030.4L1227 1034.1L1228 1038.7L1229 1043.2L1230 1046.1L1231 1048.1L1232 1048.8L1233 1049.3L1234 1049.7L1235 1050.5L1236 1049.6L1237 1049.7L1238 1049.7L1239 1050.5L1240 1049.5L1241 1050.4L1242 1050.2L1243 1050.5L1244 1050.3L1245 1050.3L1246 1050.3L1247 1050.7L1248 1051.1L1249 1050.4L1250 1050.4L1251 1050.9L1252 1050.3L1253 1050.1L1254 1050.7L1255 1050.3L1256 1050.8L1257 1050.9L1258 1050.3L1259 1050.5L1260 1050L1261 1050.3L1262 1050.9L1263 1050.8L1264 1050.8L1265 1050.5L1266 1050.3L1267 1050.7L1268 1050.9L1269 1051.1L1270 1050L1271 1051L1272 1050.1L1273 1050.6L1274 1050.2L1275 1050.3L1276 1050.4L1277 1049.7L1278 1050.5L1279 1050.2L1280 1050.4L1281 1050L1282 1050L1283 1050.4L1284 1050L1285 1050.2L1286 1049.9L1287 1049.8L1288 1050.1L1289 1050.1L1290 1049.1L1291 1049.7L1292 1049.5L1293 1049.1L1294 1049.1L1295 1048.7L1296 1048.9L1297 1048.6L1298 1048.4L1299 1049.2L1300 1048.7L1301 1048.4L1302 1048.7L1303 1048.6L1304 1048.2L1305 1048.6L1306 1048.8L1307 1048.9L1308 1049.1L1309 1048.9L1310 1049.6L1311 1050.1L1312 1050L1313 1050.3L1314 1050.4L1315 1050.1L1316 1050.2L1317 1050.2L1318 1050L1319 1050.5L1320 1050L1321 1050.2L1322 1050.5L1323 1050.4L1324 1050.5L1325 1050L1326 1050.3L1327 1050.7L1328 1050.3L1329 1050L1330 1050.7L1331 1050.1L1332 1050.7L1333 1050L1334 1050.3L1335 1049.7L1336 1049.1L1337 1049.4L1338 1048.4L1339 1047.4L1340 1044.7L1341 1041L1342 1037.3L1343 1034.8L1344 1034L1345 1037.6L1346 1040.7L1347 1044.2L1348 1047L1349 1048.3L1350 1049.7L1351 1049.2L1352 1049.9L1353 1050.6L1354 1049.9L1355 1050.1L1356 1050.4L1357 1050.8L1358 1050.4L1359 1049.9L1360 1050.8L1361 1050.4L1362 1049.8L1363 1050.3L1364 1050.9L1365 1050.3L1366 1050.2L1367 1050.6L1368 1050.3L1369 1050.1L1370 1049.8L1371 1049.7L1372 1048.8L1373 1048.4L1374 1046.9L1375 1045.1L1376 1043.6L1377 1042.7L1378 1042.8L1379 1044.9L1380 1046.7L1381 1047.1L1382 1049L1383 1049.7L1384 1049.9L1385 1049.4L1386 1050.6L1387 1050.5L1388 1050L1389 1050.6L1390 1050.3L1391 1049.9L1392 1049.9L1393 1050.4L1394 1049.8L1395 1049.6L1396 1048.6L1397 1047.7L1398 1046.8L1399 1045.9L1400 1046.2L1401 1046.3L1402 1046.6L1403 1047.7L1404 1048.3L1405 1049.2L1406 1050L1407 1050.7L1408 1050.6L1409 1051.4L1410 1050.4L1411 1050.5L1412 1050.6L1413 1050.3L1414 1050.3L1415 1050.9L1416 1050.7L1417 1050.4L1418 1051.3L1419 1051.6L1420 1051L1421 1050.5L1422 1050.6L1423 1051.1L1424 1051.6L1425 1050.4L1426 1051L1427 1050.8L1428 1051.4L1429 1050.7L1430 1050.8L1431 1050.7L1432 1050.5L1433 1051.3L1434 1051.3L1435 1051L1436 1051.2L1437 1050.7L1438 1051L1439 1050.8L1440 1051.1L1441 1050.9L1442 1051.1L1443 1050.9L1444 1050.6L1445 1051L1446 1050.6L1447 1050.6L1448 1050.4L1449 1050.8L1450 1050.7L1451 1051.1L1452 1051.1L1453 1049.8L1454 1050.3L1455 1050.3L1456 1049.8L1457 1049.8L1458 1048.4L1459 1047.1L1460 1045.1L1461 1042L1462 1037.4L1463 1033L1464 1030.7L1465 1031.8L1466 1035.4L1467 1039.9L1468 1043.5L1469 1045.7L1470 1048.5L1471 1049.3L1472 1049.7L1473 1050.1L1474 1050L1475 1050L1476 1049.9L1477 1050.4L1478 1050.9L1479 1051L1480 1050.6L1481 1050.6L1482 1051L1483 1051.2L1484 1050.4L1485 1050.5L1486 1050.9L1487 1050.7L1488 1050.8L1489 1051.3L1490 1050.4L1491 1051.1L1492 1050.7L1493 1050.5L1494 1050.9L1495 1051.4L1496 1051.3L1497 1051.2L1498 1050.7L1499 1050.9L1500 1050.7L1501 1051.7L1502 1051.5L1503 1050.7L1504 1051L1505 1050.5L1506 1051.2L1507 1050.9L1508 1051.1L1509 1050.4L1510 1050.1L1511 1050.9L1512 1049.5L1513 1050.1L1514 1049.9L1515 1050.1L1516 1050.4L1517 1049.7L1518 1051.2L1519 1050.6L1520 1051.3L1521 1050.5L1522 1050.9L1523 1051.1L1524 1051.6L1525 1050.7L1526 1051L1527 1051.8L1528 1050.5L1529 1050.8L1530 1051.6L1531 1051.1L1532 1051.1L1533 1050.7L1534 1050.9L1535 1051.1L1536 1050.8L1537 1051.3L1538 1051L1539 1051.8L1540 1051.3L1541 1051.1L1542 1051.4L1543 1051.1L1544 1051.4L1545 1051.1L1546 1050.8L1547 1051.7L1548 1051.4L1549 1050.8L1550 1051.6L1551 1051.2L1552 1050.5L1553 1050.6L1554 1050.7L1555 1051.2L1556 1051.3L1557 1051.1L1558 1051.9L1559 1050.7L1560 1051.9L1561 1051.5L1562 1051.4L1563 1051.2L1564 1050.7L1565 1052L1566 1051L1567 1051.3L1568 1051.3L1569 1051.7L1570 1051.5L1571 1051.5L1572 1051L1573 1050.6L1574 1051.7L1575 1050.7L1576 1051.6L1577 1050.9L1578 1051.2L1579 1050.9L1580 1050.9L1581 1051.4L1582 1051.6L1583 1051.1L1584 1051.5L1585 1050.9L1586 1051.8L1587 1050.9L1588 1051.2L1589 1050.9L1590 1050.9L1591 1050.9L1592 1050.3L1593 1050.5L1594 1048.9L1595 1047.8L1596 1046.2L1597 1044.2L1598 1043.6L1599 1044.2L1600 1045.6L1601 1048.2L1602 1048.7L1603 1049.4L1604 1050.1L1605 1050.7L1606 1050.9L1607 1051.8L1608 1051.2L1609 1050.9L1610 1050.6L1611 1051.5L1612 1050.9L1613 1051.6L1614 1051L1615 1051.8L1616 1050.6L1617 1051.4L1618 1052L1619 1051.4L1620 1050.6L1621 1051.4L1622 1050.8L1623 1051.3L1624 1051.8L1625 1051.1L1626 1050.7L1627 1051.7L1628 1051.7L1629 1051.3L1630 1051.5L1631 1052L1632 1051.8L1633 1051.1L1634 1051.1L1635 1051L1636 1050.9L1637 1051.1L1638 1051.6L1639 1051.5L1640 1051.3L1641 1051.7L1642 1051L1643 1051L1644 1052L1645 1051.3L1646 1050.9L1647 1051.6L1648 1051.9L1649 1051L1650 1051.8L1651 1051L1652 1051.7L1653 1051L1654 1051.2L1655 1051.1L1656 1051.5L1657 1051.3L1658 1051.1L1659 1051.3L1660 1051.4L1661 1051.3L1662 1051.8L1663 1051.3L1664 1051.6L1665 1051L1666 1051.3L1667 1050.8L1668 1051.3L1669 1051.2L1670 1051.5L1671 1051.2L1672 1051.6L1673 1051.2L1674 1051.1L1675 1051.5L1676 1051L1677 1051L1678 1051.7L1679 1051.3L1680 1051.3L1681 1051.9L1682 1051.1L1683 1051.5L1684 1051.4L1685 1051.5L1686 1051.1L1687 1051.3L1688 1051.5L1689 1051.5L1690 1051.1L1691 1051.6L1692 1051.3L1693 1051.2L1694 1051.6L1695 1051.2L1696 1051.5L1697 1051.7L1698 1050.6L1699 1051.6L1700 1050.9L1701 1051.1L1702 1050.7L1703 1051.2L1704 1051L1705 1050.9L1706 1051.3L1707 1051.2L1708 1051.4L1709 1051.2L1710 1051.6L1711 1051.1L1712 1051.2L1713 1051.2L1714 1050.6L1715 1051.2L1716 1051L1717 1051.4L1718 1051.2L1719 1050.2L1720 1050.8L1721 1050.9L1722 1050.7L1723 1051.3L1724 1051L1725 1051L1726 1050.8L1727 1051.1L1728 1051.1L1729 1051.9L1730 1051L1731 1051.4L1732 1050.5L1733 1049.8L1734 1050.6L1735 1050.7L1736 1049.9L1737 1050.8L1738 1050.1L1739 1050.9L1740 1049.3L1741 1048.6L1742 1048L1743 1046.4L1744 1044.5L1745 1043.4L1746 1042.4L1747 1041.7L1748 1043.5L1749 1044.6L1750 1046.2L1751 1047.4L1752 1048.4L1753 1049.5L1754 1050.3L1755 1049.7L1756 1050.8L1757 1049.8L1758 1050.9L1759 1050.3L1760 1050.4L1761 1050.3L1762 1050.6L1763 1050L1764 1049.2L1765 1049.7L1766 1049.7L1767 1048.9L1768 1047.1L1769 1044L1770 1039.6L1771 1033L1772 1025.1L1773 1020L1774 1020L1775 1025.5L1776 1033L1777 1037.3L1778 1039.6L1779 1038.9L1780 1036.8L1781 1036.3L1782 1039.4L1783 1043.4L1784 1046.8L1785 1048.7L1786 1049.7L1787 1050.8L1788 1050.1L1789 1050.3L1790 1051.1L1791 1050.9L1792 1050.8L1793 1051.2L1794 1050.4L1795 1050.7L1796 1050.8L1797 1051L1798 1050.9L1799 1050.8L1800 1050.9L1801 1051.4L1802 1051.6L1803 1051.5L1804 1051L1805 1051L1806 1051L1807 1050.9L1808 1051.1L1809 1050.3L1810 1050.3L1811 1050.1L1812 1049.3L1813 1049.3L1814 1050.5L1815 1049.8L1816 1050.2L1817 1050.4L1818 1050.6L1819 1051.7L1820 1050.7L1821 1051.5L1822 1051.1L1823 1051.1L1824 1050.6L1825 1051.9L1826 1052.3L1827 1051.3L1828 1050.7L1829 1051.3L1830 1051.4L1831 1050.8L1832 1051.7L1833 1050.6L1834 1051.1L1835 1051.5L1836 1051.6L1837 1051.2L1838 1050.5L1839 1051L1840 1051.5L1841 1051.5L1842 1050.9L1843 1050.8L1844 1051.3L1845 1050.9L1846 1051.1L1847 1051.3L1848 1051.2L1849 1051.6L1850 1051.2L1851 1051.5L1852 1050.9L1853 1051.2L1854 1051.3L1855 1051.1L1856 1051L1857 1051.8L1858 1051.1L1859 1051.3L1860 1051L1861 1051.8L1862 1051.5L1863 1051.1L1864 1051.3L1865 1051.4L1866 1051.6L1867 1051.3L1868 1051.2L1869 1051.2L1870 1050.9L1871 1051.5L1872 1050.9L1873 1051.4L1874 1051.5L1875 1051L1876 1051.7L1877 1050.6L1878 1051.8L1879 1051L1880 1051.6L1881 1050.6L1882 1051L1883 1051.2L1884 1051.3L1885 1050.9L1886 1051.5L1887 1051.2L1888 1051L1889 1051.3L1890 1051L1891 1051.4L1892 1051.7L1893 1051.8L1894 1050.9L1895 1051.5L1896 1050.7L1897 1051.3L1898 1051.1L1899 1051.6L1900 1051.5L1901 1051L1902 1051L1903 1051.3L1904 1051.2L1905 1051.2L1906 1051.6L1907 1051.1L1908 1051.7L1909 1051.1L1910 1050.8L1911 1051.8L1912 1051.2L1913 1051.3L1914 1051.1L1915 1050.9L1916 1050.7L1917 1050.5L1918 1051L1919 1050.8L1920 1050.4L1921 1050.4L1922 1050.2L1923 1049.9L1924 1049.7L1925 1048.2L1926 1048.1L1927 1046.7L1928 1045.6L1929 1043.7L1930 1042.5L1931 1042.4L1932 1042.3L1933 1043.2L1934 1045.2L1935 1046.9L1936 1047.7L1937 1049.1L1938 1049.8L1939 1049.7L1940 1050.4L1941 1050.2L1942 1051L1943 1051.3L1944 1050.9L1945 1051.3L1946 1050.6L1947 1050.8L1948 1050.4L1949 1050.7L1950 1051L1951 1051L1952 1050.8L1953 1050.9L1954 1050.5L1955 1050.9L1956 1050.3L1957 1050.5L1958 1049.5L1959 1049.3L1960 1048.3L1961 1046.6L1962 1044.7L1963 1043.6L1964 1043.1L1965 1044L1966 1045.6L1967 1047.4L1968 1048.4L1969 1049.9L1970 1049.9L1971 1050.3L1972 1050.6L1973 1050.6L1974 1050L1975 1050.7L1976 1050.6L1977 1050.3L1978 1049.7L1979 1049.9L1980 1048.8L1981 1048L1982 1048.5L1983 1048.4L1984 1049.3L1985 1050.5L1986 1049.8L1987 1050.7L1988 1051.2L1989 1051.1L1990 1050.8L1991 1051.2L1992 1050.8L1993 1050.6L1994 1051.2L1995 1050.8L1996 1051.5L1997 1050.5L1998 1051L1999 1051.4L2000 1052L2001 1050.5L2002 1051.1L2003 1051.4L2004 1051.5L2005 1051.3L2006 1051.5L2007 1051.2L2008 1051.8L2009 1051.7L2010 1051.7L2011 1051.9L2012 1051.3L2013 1051.3L2014 1050.5L2015 1051.6L2016 1051.7L2017 1051.4L2018 1051.5L2019 1051.2L2020 1051.4L2021 1051.3L2022 1051.2L2023 1051.6L2024 1051.1L2025 1051.4L2026 1051.2L2027 1051.3L2028 1051.1L2029 1051.4L2030 1051.5L2031 1051.5L2032 1051L2033 1051.2L2034 1051.3L2035 1051.2L2036 1051.2L2037 1051.5L2038 1051.6L2039 1051.1L2040 1050.5L2041 1051.3L2042 1051.4L2043 1051.8L2044 1050.9L2045 1051.5L2046 1051.8L2047 1051.7L2048 1051.4L2049 1051.5L2050 1051.1L2051 1050.9L2052 1051.6L2053 1050.9L2054 1051.6L2055 1051.2L2056 1052L2057 1052L2058 1051.4L2059 1050.8L2060 1051.3L2061 1050.9L2062 1051.2L2063 1050.5L2064 1050.9L2065 1051.6L2066 1051.2L2067 1050.7L2068 1050.7L2069 1051.1L2070 1050.6L2071 1050.3L2072 1050.9L2073 1050.5L2074 1050.5L2075 1050.1L2076 1050.3L2077 1050.4L2078 1049.7L2079 1050.1L2080 1050.8L2081 1051L2082 1050L2083 1051.1L2084 1050.8L2085 1050.8L2086 1051.1L2087 1051.1L2088 1051.6L2089 1051L2090 1051.2L2091 1051.6L2092 1051.2L2093 1051.7L2094 1051.8L2095 1051L2096 1051.3L2097 1051.8L2098 1051.1L2099 1051L2100 1051.5L2101 1051.8L2102 1051.2L2103 1051L2104 1051.1L2105 1051.9L2106 1052.2L2107 1051.4L2108 1051.7L2109 1051.5L2110 1051.5L2111 1051.6L2112 1052L2113 1051.6L2114 1051.9L2115 1051.4L2116 1051.3L2117 1051.1L2118 1050.6L2119 1051.8L2120 1051.6L2121 1050.9L2122 1051.5L2123 1051.7L2124 1051L2125 1052.1L2126 1052.1L2127 1051.4L2128 1051.6L2129 1052.3L2130 1051.7L2131 1051.7L2132 1051.4L2133 1052L2134 1051.7L2135 1051.4L2136 1051.4L2137 1051.6L2138 1051.6L2139 1051.2L2140 1051.9L2141 1050.7L2142 1051.1L2143 1051.7L2144 1051.3L2145 1051.8L2146 1051.5L2147 1052L2148 1051.4L2149 1051.2L2150 1051.4L2151 1052.3L2152 1051.4L2153 1051L2154 1051.8L2155 1051.8L2156 1051.5L2157 1051.4L2158 1051.8L2159 1051L2160 1051.9L2161 1051L2162 1051.1L2163 1050.4L2164 1048.2L2165 1045.4L2166 1039L2167 1026.2"/>
<path class="m" stroke="#DC9600" d="M826.20 964.1L828.50 952.1L830.80 964.1M877.67 975.6L879.97 963.6L882.27 975.6"/>
<path class="c" stroke="#C376E4" d="M161 1140.6L162 1140.8L163 1141.2L164 1140.6L165 1141.4L166 1142.2L167 1140.9L168 1140.9L169 1140.9L170 1141.3L171 1141.3L172 1141.1L173 1141L174 1141.3L175 1141.8L176 1140.8L177 1141.7L178 1141.7L179 1140.7L180 1140.6L181 1141.6L182 1141L183 1141.1L184 1141.4L185 1141.6L186 1141.2L187 1141.9L188 1141.6L189 1141.7L190 1141.3L191 1141.4L192 1141.4L193 1141.1L194 1140.8L195 1141.4L196 1141.1L197 1141.6L198 1140.5L199 1141.2L200 1141.3L201 1140.6L202 1141L203 1140.4L204 1140.5L205 1141.1L206 1140.6L207 1141L208 1141L209 1140.9L210 1140.9L211 1140.4L212 1140.7L213 1140.8L214 1141.2L215 1140.5L216 1140.8L217 1140.8L218 1140.3L219 1141L220 1140.8L221 1140.3L222 1140.2L223 1140.4L224 1140.5L225 1140L226 1140.2L227 1139.9L228 1139.6L229 1139L230 1139.2L231 1138.7L232 1138.7L233 1138.1L234 1137.8L235 1137.1L236 1136.5L237 1136.5L238 1135.7L239 1134.6L240 1133.9L241 1132.5L242 1131.6L243 1129.8L244 1128.6L245 1126.2L246 1123.9L247 1122.3L248 1119.3L249 1116.6L250 1114.4L251 1111.6L252 1109.4L253 1108.4L254 1108.6L255 1109.3L256 1110.5L257 1112.1L258 1114.3L259 1117.6L260 1120.5L261 1122.7L262 1125.1L263 1126.5L264 1129.2L265 1130.9L266 1132.4L267 1133.4L268 1134.7L269 1135.2L270 1136.8L271 1137.6L272 1138.5L273 1138.1L274 1139.7L275 1139.7L276 1140.1L277 1140.1L278 1140.7L279 1141.2L280 1141L281 1141.5L282 1141.4L283 1141.8L284 1141.9L285 1142.1L286 1142.5L287 1142.4L288 1142.3L289 1143.2L290 1142.8L291 1142.5L292 1142.8L293 1143.3L294 1143.1L295 1143.2L296 1142.5L297 1143.3L298 1143L299 1143.3L300 1143.5L301 1143.4L302 1143.4L303 1143.2L304 1143.3L305 1142.5L306 1143.5L307 1143L308 1143.2L309 1142.4L310 1142.1L311 1138.4L312 1134.9L313 1130.3L314 1127.3L315 1128.3L316 1132.5L317 1137.3L318 1140.3L319 1142.7L320 1143.8L321 1143.5L322 1143.9L323 1144.4L324 1144.2L325 1144.1L326 1143.9L327 1144.5L328 1144.6L329 1144.7L330 1144.3L331 1144.9L332 1144.5L333 1144.3L334 1144.4L335 1145.2L336 1144.9L337 1145.1L338 1145.3L339 1145.2L340 1145L341 1144.5L342 1144.6L343 1144.8L344 1145.1L345 1144.8L346 1145.2L347 1145L348 1144.7L349 1144.9L350 1145L351 1144.8L352 1145.5L353 1145.6L354 1144.6L355 1144.8L356 1145.3L357 1145.4L358 1145.1L359 1145.2L360 1144.7L361 1145.6L362 1145.6L363 1146L364 1145.5L365 1145.2L366 1145.8L367 1144.9L368 1145.7L369 1144.8L370 1145.8L371 1145.7L372 1145.6L373 1145.4L374 1145.6L375 1145.7L376 1146L377 1145.8L378 1145.8L379 1145.9L380 1145L381 1146L382 1145.5L383 1145.7L384 1145.8L385 1145.6L386 1145.5L387 1145.8L388 1145.9L389 1145.2L390 1145.7L391 1145.5L392 1146.4L393 1145.6L394 1145.7L395 1146.1L396 1145.7L397 1145.5L398 1146.4L399 1145.6L400 1145.4L401 1146.1L402 1145.9L403 1145.9L404 1146.1L405 1145.4L406 1146.2L407 1145.5L408 1146.1L409 1145.6L410 1146.1L411 1146.1L412 1146.3L413 1145.4L414 1145.4L415 1145.7L416 1146L417 1146.1L418 1146.6L419 1145.2L420 1146.3L421 1146L422 1146.3L423 1145.7L424 1146.4L425 1145.5L426 1145.7L427 1145.9L428 1145.8L429 1147L430 1146L431 1145.6L432 1146.3L433 1145.8L434 1146.4L435 1146.3L436 1146.6L437 1145.9L438 1146L439 1145.8L440 1145.7L441 1145.6L442 1145.7L443 1145.9L444 1145.9L445 1146.1L446 1145.8L447 1145.8L448 1145.9L449 1146.1L450 1145.7L451 1146.2L452 1144.8L453 1145.6L454 1145.9L455 1146.3L456 1145.5L457 1146.6L458 1145.9L459 1146.3L460 1145.7L461 1144.9L462 1145.2L463 1144.8L464 1144.9L465 1144.7L466 1145.4L467 1145.4L468 1145.5L469 1145.8L470 1145.9L471 1145.4L472 1146L473 1145.8L474 1145.7L475 1145.5L476 1146.4L477 1146.1L478 1146.6L479 1145.7L480 1145.8L481 1145.8L482 1146.1L483 1146.5L484 1145.6L485 1146.1L486 1146.1L487 1145.6L488 1146.3L489 1145.8L490 1145.3L491 1146L492 1146.2L493 1145.8L494 1146.1L495 1145.8L496 1145.8L497 1145.9L498 1146L499 1145.9L500 1145.1L501 1145.6L502 1145.3L503 1145.8L504 1146.4L505 1145.8L506 1145.6L507 1145.5L508 1145.6L509 1145.7L510 1145.7L511 1146.2L512 1145.3L513 1145L514 1145L515 1145.1L516 1145.6L517 1145.7L518 1146.2L519 1144.9L520 1145.8L521 1145.5L522 1145.8L523 1145.4L524 1145.8L525 1145.5L526 1146.1L527 1145.3L528 1145.1L529 1145.7L530 1144.7L531 1145.3L532 1145.6L533 1145.2L534 1145L535 1145.8L536 1145.6L537 1144.8L538 1145.3L539 1145.3L540 1145.6L541 1144.8L542 1145.6L543 1145.7L544 1145.4L545 1145.5L546 1144.9L547 1145.1L548 1145.1L549 1145L550 1144.1L551 1144.2L552 1143.4L553 1143.8L554 1143L555 1142.4L556 1142.8L557 1142.9L558 1143.1L559 1142.8L560 1143.6L561 1143.7L562 1144.8L563 1145L564 1144.6L565 1144.8L566 1144.8L567 1145.3L568 1145.3L569 1145.3L570 1145.2L571 1145.3L572 1145.1L573 1145.2L574 1145.1L575 1145.6L576 1145.2L577 1144.7L578 1145.1L579 1144.4L580 1145.4L581 1145.2L582 1145.2L583 1145L584 1144.6L585 1145.7L586 1144.8L587 1144.4L588 1144.2L589 1143.9L590 1144L591 1142.7L592 1140.6L593 1133.5L594 1115.9L595 1086.7L596 1078.5L597 1105.5L598 1129.2L599 1139.3L600 1140.8L601 1142.8L602 1143.8L603 1143.9L604 1144.3L605 1144.5L606 1144.2L607 1145.1L608 1145L609 1144.8L610 1144.5L611 1144.6L612 1145L613 1145.4L614 1145.2L615 1144.6L616 1144.9L617 1145.1L618 1145.7L619 1145.4L620 1145.3L621 1144.8L622 1144.6L623 1144.6L624 1144.8L625 1145.3L626 1144.8L627 1145.9L628 1145.1L629 1145.1L630 1144.6L631 1145.4L632 1144.9L633 1145.1L634 1145.6L635 1145L636 1144.9L637 1144.9L638 1144.5L639 1144.8L640 1143.5L641 1143.5L642 1141.9L643 1141.6L644 1142L645 1142.7L646 1144.1L647 1144L648 1144.5L649 1145.4L650 1144.8L651 1144.7L652 1144.4L653 1144.6L654 1145.1L655 1144.9L656 1144.7L657 1144.6L658 1145L659 1145.2L660 1144.9L661 1145.1L662 1144.5L663 1144.8L664 1145.4L665 1144.7L666 1144.5L667 1144.8L668 1145.4L669 1144.9L670 1144.6L671 1144.6L672 1144.8L673 1144.8L674 1145.4L675 1144.4L676 1144.9L677 1145L678 1144L679 1143.9L680 1144.1L681 1143.9L682 1143.1L683 1143.8L684 1143.6L685 1143.6L686 1144L687 1145.2L688 1144.5L689 1144.1L690 1144.5L691 1144.1L692 1144.3L693 1144.4L694 1144.6L695 1144.6L696 1144.5L697 1144.5L698 1144.8L699 1143.6L700 1143.1L701 1143.2L702 1142.4L703 1141.2L704 1142.1L705 1141.6L706 1142.2L707 1143.5L708 1143.4L709 1143.9L710 1143.6L711 1144.4L712 1143.9L713 1143.8L714 1143.9L715 1144.2L716 1143.5L717 1143.9L718 1144.1L719 1144L720 1142.4L721 1141.7L722 1141.5L723 1140.6L724 1139.7L725 1137.3L726 1135.8L727 1133.7L728 1131.8L729 1132.4L730 1132.3L731 1133.7L732 1135.6L733 1137.6L734 1139L735 1140.3L736 1141.3L737 1141.1L738 1142.4L739 1142.4L740 1142.4L741 1141.8L742 1142.2L743 1141.7L744 1141.2L745 1140.6L746 1140.7L747 1139.7L748 1139.4L749 1138.2L750 1137L751 1137L752 1135.1L753 1134.2L754 1132.9L755 1131.4L756 1129.5L757 1128.3L758 1127.2L759 1126.8L760 1126.4L761 1128.2L762 1129L763 1130.4L764 1131.8L765 1132.8L766 1134.6L767 1136L768 1137L769 1138.2L770 1138.9L771 1139.7L772 1140.8L773 1140.4L774 1141.1L775 1140.9L776 1141.3L777 1142.2L778 1142.5L779 1142.5L780 1142.2L781 1141.7L782 1142.4L783 1143.2L784 1143.4L785 1143L786 1143.2L787 1143.5L788 1143L789 1143.7L790 1142.8L791 1143.6L792 1143.4L793 1143.4L794 1143L795 1143.1L796 1142.9L797 1143.5L798 1143.5L799 1143L800 1143.1L801 1143L802 1143.4L803 1142.4L804 1143.5L805 1142.2L806 1142.5L807 1142.5L808 1142.2L809 1142L810 1141.8L811 1141.3L812 1141.2L813 1140.9L814 1140.6L815 1140L816 1139.3L817 1138.4L818 1137.6L819 1135.7L820 1134.1L821 1131.5L822 1127.8L823 1121.9L824 1112.8L825 1099.8L826 1078.4L827 1054L828 1036.1L829 1036L830 1054.4L831 1078.6L832 1098.6L833 1113.9L834 1122.8L835 1127.9L836 1131.6L837 1135.2L838 1136.4L839 1137.9L840 1138.9L841 1139.7L842 1140L843 1141.6L844 1141.9L845 1141.6L846 1142.3L847 1143.1L848 1143.2L849 1142.8L850 1143L851 1143.8L852 1144.1L853 1144.3L854 1143.9L855 1144.3L856 1143.9L857 1143.8L858 1143.8L859 1142.6L860 1141.5L861 1140.6L862 1140.6L863 1141.7L864 1142.5L865 1143L866 1143.5L867 1143.5L868 1142.5L869 1141.2L870 1138.7L871 1136.8L872 1135.4L873 1134.5L874 1132.7L875 1129.1L876 1123.5L877 1091.4L877.7 1050L880 1038.6L882.3 1050.7L883 1097L884 1124.8L885 1130.7L886 1135L887 1137.8L888 1139L889 1140.5L890 1140.7L891 1142.3L892 1141.3L893 1143.2L894 1142.6L895 1142.1L896 1144.2L897 1145.2L898 1145.4L899 1146.1L900 1146.1L901 1146L902 1146.5L903 1147.1L904 1146.1L905 1146.5L906 1146L907 1147.7L908 1146.8L909 1147.2L910 1147.4L911 1147.4L912 1146.9L913 1146.6L914 1147.8L915 1147.8L916 1147.8L917 1147.2L918 1148.1L919 1147.1L920 1147.5L921 1147.4L922 1147.5L923 1148.2L924 1147.5L925 1147.8L926 1147.7L927 1148.6L928 1148L929 1147.7L930 1147.5L931 1147.5L932 1148.1L933 1147.6L934 1147.5L935 1147.9L936 1147.7L937 1147.6L938 1147.9L939 1148.1L940 1147.6L941 1147.9L942 1147.7L943 1147.4L944 1148.5L945 1147.7L946 1147.8L947 1147.9L948 1147.9L949 1148.1L950 1147.9L951 1147.8L952 1148.1L953 1147.8L954 1147.3L955 1147.7L956 1147.7L957 1147.3L958 1148.7L959 1147.6L960 1148.1L961 1147.5L962 1147.3L963 1147.1L964 1146.1L965 1145.5L966 1145.3L967 1145.2L968 1145.2L969 1145.2L970 1146.5L971 1147L972 1147L973 1147.2L974 1147.3L975 1147.1L976 1147.7L977 1147.9L978 1147.5L979 1146.9L980 1146.8L981 1145.2L982 1145.5L983 1145.3L984 1144.8L985 1145.9L986 1146.7L987 1146.9L988 1147.9L989 1147L990 1147.7L991 1148.2L992 1147.9L993 1148.3L994 1148.2L995 1148.8L996 1149L997 1148.1L998 1148.3L999 1148.9L1000 1148.2L1001 1148.5L1002 1148.7L1003 1148.6L1004 1148L1005 1147.9L1006 1148.7L1007 1148.2L1008 1147.8L1009 1148.5L1010 1147.5L1011 1147.8L1012 1147.8L1013 1146.7L1014 1147.2L1015 1147L1016 1147.4L1017 1147.4L1018 1148.4L1019 1148.2L1020 1148.6L1021 1148.8L1022 1149L1023 1149.1L1024 1148.7L1025 1149.1L1026 1149.2L1027 1149.4L1028 1149.3L1029 1148.6L1030 1149.7L1031 1148.9L1032 1149.4L1033 1148.9L1034 1148.9L1035 1149L1036 1149.3L1037 1149.1L1038 1149.8L1039 1148.8L1040 1149.4L1041 1149.4L1042 1149L1043 1148.8L1044 1148.6L1045 1149.5L1046 1148.8L1047 1148.6L1048 1149L1049 1148.8L1050 1149.1L1051 1148.6L1052 1149.1L1053 1149.1L1054 1149.2L1055 1148.6L1056 1149.2L1057 1149.4L1058 1148.3L1059 1149.4L1060 1148.9L1061 1149.6L1062 1148.9L1063 1148.8L1064 1148.7L1065 1149.7L1066 1148.9L1067 1149.7L1068 1148.5L1069 1148.6L1070 1149.7L1071 1149L1072 1148.8L1073 1149.2L1074 1148.9L1075 1149.1L1076 1148.6L1077 1149.1L1078 1148.3L1079 1148.3L1080 1148.7L1081 1148L1082 1148.1L1083 1147.1L1084 1147.1L1085 1145.2L1086 1143.5L1087 1139.7L1088 1134.6L1089 1128.3L1090 1124.3L1091 1122.6L1092 1126.4L1093 1132.3L1094 1138.3L1095 1141.7L1096 1145.1L1097 1146.4L1098 1148.3L1099 1148.2L1100 1148.4L1101 1148.3L1102 1148.5L1103 1148.6L1104 1148.5L1105 1148.9L1106 1148.7L1107 1148.7L1108 1148.7L1109 1148.9L1110 1149.1L1111 1149.3L1112 1149L1113 1149.1L1114 1149.3L1115 1149.5L1116 1148.7L1117 1149.3L1118 1149.3L1119 1149.5L1120 1149L1121 1149.6L1122 1149.4L1123 1149.3L1124 1149.4L1125 1148.9L1126 1149.2L1127 1149.4L1128 1149L1129 1148.9L1130 1149.3L1131 1149.2L1132 1149.2L1133 1149.5L1134 1148.8L1135 1149.5L1136 1149.8L1137 1149.2L1138 1149.3L1139 1148.7L1140 1149L1141 1148.9L1142 1149.2L1143 1149L1144 1149.4L1145 1148.7L1146 1149.1L1147 1149.3L1148 1148.7L1149 1149.7L1150 1148.8L1151 1149.6L1152 1149.4L1153 1149.2L1154 1149L1155 1149L1156 1149.3L1157 1148.7L1158 1149.1L1159 1148.5L1160 1148.6L1161 1147.7L1162 1147.1L1163 1146.7L1164 1146.3L1165 1145.3L1166 1145.6L1167 1145.4L1168 1146.6L1169 1146.9L1170 1147.3L1171 1148.1L1172 1148.3L1173 1148.2L1174 1148.5L1175 1148.8L1176 1149.2L1177 1148L1178 1148.6L1179 1148.4L1180 1148.1L1181 1148.2L1182 1147.7L1183 1147.2L1184 1145.9L1185 1144.9L1186 1141.8L1187 1138.6L1188 1134.8L1189 1133.2L1190 1132.9L1191 1135L1192 1137.7L1193 1140.5L1194 1144L1195 1145.8L1196 1147.5L1197 1147.7L1198 1148.6L1199 1148.3L1200 1148.2L1201 1148.3L1202 1149.3L1203 1148.1L1204 1148.8L1205 1149.1L1206 1149.3L1207 1148.2L1208 1148.9L1209 1148.9L1210 1149L1211 1149.2L1212 1148.5L1213 1149.2L1214 1148.9L1215 1149.3L1216 1148.1L1217 1148.2L1218 1148.6L1219 1147.9L1220 1147.4L1221 1145.6L1222 1143.7L1223 1139.6L1224 1136.2L1225 1131.4L1226 1129.8L1227 1132.9L1228 1138L1229 1142L1230 1144.8L1231 1146.4L1232 1148L1233 1147.5L1234 1148.3L1235 1148.5L1236 1149.1L1237 1148.8L1238 1148.7L1239 1149.2L1240 1149.1L1241 1149.1L1242 1148.7L1243 1149.3L1244 1149.1L1245 1148.5L1246 1149.1L1247 1149.5L1248 1149L1249 1148.3L1250 1149.2L1251 1149.5L1252 1149.4L1253 1149.3L1254 1149.5L1255 1149.9L1256 1148.7L1257 1148.6L1258 1149.3L1259 1149.8L1260 1149L1261 1148.9L1262 1148.9L1263 1149L1264 1149L1265 1149L1266 1148.9L1267 1149.4L1268 1149.6L1269 1149.6L1270 1149.1L1271 1149.1L1272 1149L1273 1149.8L1274 1149.4L1275 1149L1276 1148.8L1277 1149.5L1278 1149.1L1279 1149.4L1280 1148.6L1281 1149.1L1282 1148.8L1283 1149L1284 1148.7L1285 1149L1286 1149.2L1287 1148.9L1288 1149.6L1289 1148.7L1290 1147.6L1291 1147.7L1292 1148L1293 1148L1294 1147.5L1295 1147.4L1296 1147.4L1297 1146.6L1298 1146.3L1299 1146.5L1300 1146.2L1301 1146.4L1302 1146.6L1303 1145.8L1304 1147.2L1305 1146.8L1306 1147L1307 1147.9L1308 1147.3L1309 1148.2L1310 1147.2L1311 1148.8L1312 1148.3L1313 1148.2L1314 1148.8L1315 1149L1316 1149L1317 1148.8L1318 1149.6L1319 1149.3L1320 1148.8L1321 1149.1L1322 1149.2L1323 1148.5L1324 1149.6L1325 1149.2L1326 1148.8L1327 1148.8L1328 1148.7L1329 1149.5L1330 1149.3L1331 1149.1L1332 1149L1333 1148.6L1334 1149.5L1335 1149L1336 1148.2L1337 1148.2L1338 1147.2L1339 1146L1340 1144.6L1341 1141.7L1342 1139.3L1343 1136.1L1344 1136.5L1345 1138.2L1346 1141.5L1347 1143.7L1348 1146L1349 1146.8L1350 1147.9L1351 1148.2L1352 1149.3L1353 1149L1354 1149.3L1355 1149.5L1356 1149.3L1357 1148.7L1358 1149.2L1359 1148.8L1360 1148.8L1361 1149.6L1362 1148.1L1363 1149.4L1364 1148.7L1365 1149.4L1366 1149L1367 1148.6L1368 1149.3L1369 1148.6L1370 1148.5L1371 1148.1L1372 1147.3L1373 1147.1L1374 1145.4L1375 1143.7L1376 1142.8L1377 1142L1378 1142.4L1379 1144L1380 1145.6L1381 1146.6L1382 1146.9L1383 1148L1384 1148.8L1385 1148.4L1386 1149.3L1387 1149.2L1388 1149.2L1389 1149.4L1390 1149.1L1391 1148.6L1392 1149L1393 1148.3L1394 1148.5L1395 1147.5L1396 1147.9L1397 1147.4L1398 1146.4L1399 1146.4L1400 1145L1401 1145.8L1402 1147L1403 1147.6L1404 1147.6L1405 1148.3L1406 1148.4L1407 1148.6L1408 1148.9L1409 1149.6L1410 1149.2L1411 1148.9L1412 1149.7L1413 1149.2L1414 1149.9L1415 1149.9L1416 1149.4L1417 1149.1L1418 1149.4L1419 1149.3L1420 1149.3L1421 1148.8L1422 1149.5L1423 1149.4L1424 1149.3L1425 1149.3L1426 1149.2L1427 1149L1428 1149.1L1429 1149L1430 1149.3L1431 1149.9L1432 1149.8L1433 1149.7L1434 1149.3L1435 1149.2L1436 1149L1437 1149.3L1438 1149.1L1439 1149.4L1440 1149.3L1441 1149L1442 1149.4L1443 1149.5L1444 1149.3L1445 1149.1L1446 1148.8L1447 1149.9L1448 1149L1449 1148.8L1450 1148.7L1451 1148.8L1452 1149.3L1453 1148.7L1454 1148.5L1455 1148.3L1456 1148.2L1457 1147.9L1458 1147.2L1459 1146.2L1460 1143.8L1461 1141.8L1462 1137.3L1463 1134.2L1464 1132L1465 1133.3L1466 1136.6L1467 1139.4L1468 1143.3L1469 1145.2L1470 1146.6L1471 1147.4L1472 1148.5L1473 1149.3L1474 1149.3L1475 1149.3L1476 1148.7L1477 1149.1L1478 1149.4L1479 1149.3L1480 1149.2L1481 1148.7L1482 1149.4L1483 1149.7L1484 1149.1L1485 1148.9L1486 1149.2L1487 1149.5L1488 1149.2L1489 1150.1L1490 1149.4L1491 1149.6L1492 1149.6L1493 1149.4L1494 1149.7L1495 1150.3L1496 1149.1L1497 1149.9L1498 1149.7L1499 1149.7L1500 1149.5L1501 1150.1L1502 1149.3L1503 1149L1504 1149.5L1505 1149.8L1506 1149.1L1507 1149.3L1508 1149.1L1509 1150L1510 1148.9L1511 1148.6L1512 1148.8L1513 1148.4L1514 1148.2L1515 1148.5L1516 1149.2L1517 1148.2L1518 1149.3L1519 1148.8L1520 1150.2L1521 1149.3L1522 1149.7L1523 1149.8L1524 1149.7L1525 1149.1L1526 1149.1L1527 1149.4L1528 1149.5L1529 1149.6L1530 1149.7L1531 1149.7L1532 1149.3L1533 1149.1L1534 1150L1535 1149.6L1536 1149.6L1537 1149.7L1538 1149.9L1539 1149.5L1540 1149.9L1541 1150.1L1542 1149.9L1543 1149.9L1544 1149.3L1545 1149.5L1546 1150.1L1547 1149.6L1548 1149.2L1549 1149.4L1550 1149.1L1551 1150.1L1552 1149.5L1553 1149.5L1554 1149.7L1555 1149.6L1556 1149.9L1557 1150L1558 1149.8L1559 1149.5L1560 1149.7L1561 1149.4L1562 1148.6L1563 1149.7L1564 1149.1L1565 1149.8L1566 1148.9L1567 1149.7L1568 1149.6L1569 1150.2L1570 1149.8L1571 1150.1L1572 1149.9L1573 1149.6L1574 1150L1575 1149.2L1576 1149.7L1577 1149.7L1578 1149.4L1579 1149.7L1580 1149.7L1581 1149.6L1582 1149.5L1583 1149.6L1584 1149.4L1585 1149L1586 1149.1L1587 1149.1L1588 1149.5L1589 1149.8L1590 1149.2L1591 1149.3L1592 1148.8L1593 1148.8L1594 1148.2L1595 1147.4L1596 1146.4L1597 1144.8L1598 1144.6L1599 1144.4L1600 1145.9L1601 1147.5L1602 1148.1L1603 1148.7L1604 1149L1605 1148.9L1606 1148.9L1607 1149L1608 1149.4L1609 1149.2L1610 1149.6L1611 1149.7L1612 1149L1613 1149.4L1614 1149.2L1615 1149.2L1616 1149.6L1617 1149.5L1618 1150L1619 1149.4L1620 1149.6L1621 1149.6L1622 1149.9L1623 1150.3L1624 1149.9L1625 1149.7L1626 1149.4L1627 1149.8L1628 1150L1629 1150.1L1630 1149.7L1631 1149.3L1632 1149.6L1633 1149.9L1634 1149.4L1635 1149.3L1636 1150L1637 1149.4L1638 1149.8L1639 1149.8L1640 1149.3L1641 1149.8L1642 1149.9L1643 1149.9L1644 1149.8L1645 1150.1L1646 1149.6L1647 1149.3L1648 1149.2L1649 1149.3L1650 1150L1651 1149.2L1652 1149.4L1653 1149.5L1654 1148.9L1655 1149.6L1656 1149.6L1657 1149.5L1658 1149.2L1659 1149.4L1660 1149.1L1661 1149.6L1662 1149.4L1663 1149.9L1664 1149.3L1665 1149.8L1666 1149.7L1667 1149.6L1668 1149.9L1669 1149.6L1670 1149.4L1671 1149.5L1672 1149.6L1673 1149.5L1674 1149.5L1675 1149.2L1676 1148.5L1677 1149.9L1678 1149.8L1679 1149.7L1680 1149.9L1681 1149.2L1682 1149.9L1683 1150.1L1684 1148.5L1685 1149.8L1686 1149.9L1687 1149.7L1688 1149.2L1689 1150L1690 1149.3L1691 1149.3L1692 1149.3L1693 1149.5L1694 1149.4L1695 1148.6L1696 1149.5L1697 1149.6L1698 1149.4L1699 1150.1L1700 1150L1701 1149.4L1702 1149.4L1703 1149L1704 1149.2L1705 1149.4L1706 1149.5L1707 1149.7L1708 1149.7L1709 1149.3L1710 1149.5L1711 1149.7L1712 1149.3L1713 1149.2L1714 1149.3L1715 1149.3L1716 1149L1717 1149.8L1718 1149.3L1719 1149.7L1720 1149.6L1721 1149L1722 1148.8L1723 1149.9L1724 1149.2L1725 1149.6L1726 1149.4L1727 1149.8L1728 1149.4L1729 1149.3L1730 1149.4L1731 1149.3L1732 1149.3L1733 1149L1734 1149.2L1735 1149.9L1736 1149.1L1737 1149.7L1738 1148.2L1739 1149L1740 1147.6L1741 1146.7L1742 1146.2L1743 1145.2L1744 1143.8L1745 1142.8L1746 1141.5L1747 1141.9L1748 1142.5L1749 1144.2L1750 1144.9L1751 1146.3L1752 1146.8L1753 1147.8L1754 1147.9L1755 1148L1756 1148.5L1757 1148.4L1758 1148.8L1759 1148.3L1760 1148.8L1761 1148.5L1762 1148L1763 1147.7L1764 1147.9L1765 1147.6L1766 1146.8L1767 1145.9L1768 1144.6L1769 1141L1770 1135.1L1771 1126.5L1772 1117L1773 1109.2L1774 1109.8L1775 1117L1776 1126.1L1777 1132.8L1778 1134.4L1779 1133L1780 1129.9L1781 1129.8L1782 1135L1783 1139.5L1784 1144.2L1785 1146.7L1786 1147.9L1787 1148.2L1788 1147.4L1789 1148.6L1790 1148.5L1791 1148L1792 1149.6L1793 1149.4L1794 1149L1795 1148.7L1796 1149.2L1797 1150L1798 1148.8L1799 1149.1L1800 1149.5L1801 1149.2L1802 1148.9L1803 1149.1L1804 1149.4L1805 1148.9L1806 1149.5L1807 1149L1808 1148.8L1809 1148.4L1810 1148.5L1811 1148L1812 1147.6L1813 1147.1L1814 1147.9L1815 1147.7L1816 1148.7L1817 1148.5L1818 1148.5L1819 1150L1820 1149L1821 1149.5L1822 1149.3L1823 1148.8L1824 1149.5L1825 1149.1L1826 1149.3L1827 1149.5L1828 1149.7L1829 1149.6L1830 1149.5L1831 1148.6L1832 1149.8L1833 1149.8L1834 1149.1L1835 1150L1836 1149.5L1837 1149.4L1838 1149.9L1839 1149.1L1840 1149.3L1841 1149.3L1842 1149.2L1843 1150L1844 1149.7L1845 1149.1L1846 1149.2L1847 1148.9L1848 1148.8L1849 1149.4L1850 1149.9L1851 1149.4L1852 1149.8L1853 1149.2L1854 1150L1855 1149.6L1856 1149.2L1857 1149.5L1858 1149.5L1859 1149L1860 1149.2L1861 1149.7L1862 1149.4L1863 1149.6L1864 1149.3L1865 1149.6L1866 1149.5L1867 1149.6L1868 1149.2L1869 1150.1L1870 1149.4L1871 1149.5L1872 1149.6L1873 1149.6L1874 1149.8L1875 1149.8L1876 1149.9L1877 1149.6L1878 1149.6L1879 1149.5L1880 1149.6L1881 1149.2L1882 1149.3L1883 1149.6L1884 1150.3L1885 1149.4L1886 1149.7L1887 1149L1888 1149.6L1889 1149.5L1890 1149.7L1891 1149.5L1892 1149.5L1893 1149.7L1894 1150.1L1895 1149.8L1896 1149.6L1897 1149.6L1898 1149.4L1899 1149.3L1900 1149.6L1901 1149.4L1902 1149.4L1903 1149.6L1904 1149.5L1905 1149.4L1906 1149.9L1907 1149.7L1908 1149.5L1909 1149.4L1910 1149.6L1911 1149.6L1912 1149.8L1913 1149.4L1914 1149.6L1915 1149L1916 1148.7L1917 1149.3L1918 1149.3L1919 1148.5L1920 1149.4L1921 1149.3L1922 1149.1L1923 1148.8L1924 1148.6L1925 1147.5L1926 1146.4L1927 1145.1L1928 1144L1929 1143.4L1930 1142.5L1931 1142.2L1932 1142.5L1933 1142.5L1934 1144.4L1935 1145.7L1936 1146.9L1937 1147.6L1938 1148.2L1939 1148.4L1940 1149L1941 1148.7L1942 1148.8L1943 1149L1944 1148.6L1945 1149L1946 1149.2L1947 1149.5L1948 1149.4L1949 1150.2L1950 1149.5L1951 1148.9L1952 1149.1L1953 1149.1L1954 1149.6L1955 1148.8L1956 1149.4L1957 1148.7L1958 1148.3L1959 1148.4L1960 1147.4L1961 1145.4L1962 1145.1L1963 1143.9L1964 1144.3L1965 1143.8L1966 1145.8L1967 1147L1968 1147.2L1969 1148.4L1970 1148.6L1971 1149.3L1972 1149.1L1973 1148.5L1974 1149.4L1975 1149.1L1976 1149L1977 1148.9L1978 1148.4L1979 1148L1980 1146.8L1981 1146.5L1982 1146.9L1983 1146.6L1984 1147.4L1985 1148.3L1986 1148L1987 1149.1L1988 1149.1L1989 1149.1L1990 1149.3L1991 1149.5L1992 1149.4L1993 1149.9L1994 1149.2L1995 1148.9L1996 1149.7L1997 1149.4L1998 1149L1999 1149.3L2000 1149.7L2001 1150.3L2002 1149.3L2003 1149.8L2004 1149.5L2005 1149.6L2006 1148.9L2007 1149.1L2008 1149.2L2009 1150L2010 1149.8L2011 1149.7L2012 1149.6L2013 1149.1L2014 1149.8L2015 1149.6L2016 1149.7L2017 1149.3L2018 1149.5L2019 1149.1L2020 1149.7L2021 1149.2L2022 1149.2L2023 1149.4L2024 1149.4L2025 1149L2026 1149.6L2027 1149.6L2028 1150.2L2029 1149.7L2030 1149.8L2031 1149.6L2032 1149L2033 1149.4L2034 1149L2035 1149.5L2036 1149.4L2037 1150.1L2038 1149.7L2039 1149.7L2040 1149.9L2041 1149.5L2042 1149.2L2043 1149.1L2044 1149.3L2045 1150L2046 1150L2047 1149.8L2048 1148.9L2049 1149.3L2050 1149L2051 1150.1L2052 1149.3L2053 1149.5L2054 1149.7L2055 1149.5L2056 1149.5L2057 1149.5L2058 1148.7L2059 1149L2060 1149L2061 1149.1L2062 1150.1L2063 1149.7L2064 1149.3L2065 1149.1L2066 1148.7L2067 1149L2068 1148.9L2069 1149L2070 1148.9L2071 1149.1L2072 1148.5L2073 1148.3L2074 1148.3L2075 1148.3L2076 1148.7L2077 1148.8L2078 1148.2L2079 1148.3L2080 1148.3L2081 1148.5L2082 1148.8L2083 1149.2L2084 1149.1L2085 1148.8L2086 1148.8L2087 1148.5L2088 1149.5L2089 1149.3L2090 1149.6L2091 1148.9L2092 1149.5L2093 1149L2094 1149.5L2095 1149.3L2096 1149.1L2097 1149.3L2098 1149.8L2099 1149.2L2100 1149.4L2101 1149.8L2102 1149.2L2103 1149.2L2104 1149.4L2105 1148.9L2106 1148.8L2107 1149.6L2108 1149.1L2109 1149.6L2110 1149.8L2111 1149.6L2112 1150.4L2113 1149.5L2114 1149.7L2115 1149.1L2116 1149.9L2117 1150.7L2118 1149.6L2119 1149.6L2120 1150L2121 1149.8L2122 1149.7L2123 1149.5L2124 1149.2L2125 1149.7L2126 1149.5L2127 1148.9L2128 1149.1L2129 1150.2L2130 1149.6L2131 1149.9L2132 1149.7L2133 1149.7L2134 1149.7L2135 1149L2136 1149.3L2137 1149.3L2138 1149.5L2139 1149.4L2140 1149.2L2141 1150.3L2142 1149.3L2143 1149.3L2144 1150.1L2145 1149.9L2146 1149.4L2147 1150.2L2148 1149.5L2149 1149.6L2150 1149.8L2151 1149.6L2152 1149.8L2153 1149.4L2154 1149.7L2155 1149.3L2156 1150L2157 1150.1L2158 1149.7L2159 1150.1L2160 1149.7L2161 1148.5L2162 1149L2163 1148.2L2164 1146.7L2165 1142.9L2166 1136.5L2167 1121.5"/>
<path class="m" stroke="#C376E4" d="M877.67 1051.1L879.97 1039.1L882.27 1051.1"/>
<path class="c" stroke="#30B800" d="M161 1328.9L162 1329.6L163 1329.3L164 1329.1L165 1328.8L166 1328.6L167 1329.5L168 1328.8L169 1329.4L170 1329.4L171 1329.8L172 1329.2L173 1329.1L174 1329.4L175 1329.3L176 1329.3L177 1329.3L178 1329.3L179 1329.3L180 1329.5L181 1329.4L182 1329.1L183 1329.3L184 1329.5L185 1329.3L186 1329.9L187 1328.9L188 1329.4L189 1328.9L190 1329.9L191 1328.9L192 1329.4L193 1328.8L194 1329.1L195 1328.9L196 1328.7L197 1329L198 1329.2L199 1329.1L200 1329.7L201 1329.4L202 1329.6L203 1329.8L204 1329.5L205 1329.1L206 1330L207 1329L208 1329.5L209 1328.7L210 1329.3L211 1329.9L212 1329.1L213 1330L214 1329.8L215 1329.5L216 1329.7L217 1329.7L218 1329.6L219 1329.1L220 1329.8L221 1329.6L222 1330.3L223 1329.1L224 1329.5L225 1329.9L226 1330.1L227 1329.5L228 1330L229 1330.1L230 1329.7L231 1329.5L232 1329.3L233 1329.9L234 1330L235 1329.9L236 1330.4L237 1329.4L238 1330.5L239 1329.7L240 1329.2L241 1329.6L242 1329.7L243 1329.6L244 1328.9L245 1329.6L246 1330.4L247 1329.9L248 1330.6L249 1329.9L250 1330.5L251 1330.1L252 1329.7L253 1330.5L254 1330.1L255 1330.2L256 1330.4L257 1330.1L258 1330.3L259 1330L260 1329.7L261 1330.2L262 1330.2L263 1330.5L264 1330L265 1330L266 1329.6L267 1330.4L268 1330.2L269 1330.7L270 1330.6L271 1330.6L272 1329.5L273 1330.5L274 1329.8L275 1330.1L276 1330.2L277 1330.8L278 1330.1L279 1330.4L280 1330.6L281 1330.7L282 1330.4L283 1330.3L284 1331.4L285 1330.2L286 1330.2L287 1330.3L288 1330.7L289 1330.6L290 1330.5L291 1329.8L292 1331.2L293 1330.9L294 1330.9L295 1330.4L296 1330.7L297 1330.9L298 1330.8L299 1331.4L300 1331L301 1330.6L302 1331.2L303 1330.8L304 1330.6L305 1330.8L306 1331.1L307 1331.3L308 1331.2L309 1331.1L310 1331L311 1330.2L312 1329.7L313 1329L314 1327.9L315 1328.3L316 1329.1L317 1329.8L318 1330L319 1330.8L320 1331.3L321 1330.8L322 1330.8L323 1331.1L324 1331L325 1331.2L326 1331.4L327 1331L328 1331.5L329 1331L330 1331.2L331 1331.4L332 1331.4L333 1331.6L334 1331.4L335 1331.1L336 1330.9L337 1331.6L338 1330.9L339 1331.1L340 1331.4L341 1331.3L342 1330.8L343 1331.7L344 1331.4L345 1331.4L346 1331.6L347 1331.6L348 1331.8L349 1331.6L350 1331.4L351 1331.7L352 1331.5L353 1330.9L354 1331.4L355 1331.1L356 1331.3L357 1330.7L358 1331.3L359 1331.3L360 1331.3L361 1331.3L362 1331.8L363 1331.5L364 1331L365 1331.9L366 1331.8L367 1331.7L368 1331.4L369 1331.4L370 1331.6L371 1331.6L372 1331.8L373 1331.8L374 1331.3L375 1331.7L376 1331.6L377 1331.4L378 1331.7L379 1331.8L380 1332L381 1331.1L382 1331.2L383 1331.1L384 1331L385 1332.1L386 1331.6L387 1331.2L388 1331.6L389 1331.7L390 1331.8L391 1331.8L392 1331.3L393 1331.8L394 1331.1L395 1331.8L396 1332.1L397 1331.1L398 1331.4L399 1331.6L400 1331.7L401 1331.8L402 1331.9L403 1331.4L404 1332.1L405 1331.1L406 1331.8L407 1331.9L408 1332L409 1331.6L410 1331.1L411 1331.7L412 1332.2L413 1331.3L414 1332.4L415 1331L416 1331.3L417 1331.5L418 1332L419 1330.9L420 1331.9L421 1331.4L422 1331.7L423 1332.1L424 1331L425 1332L426 1331.3L427 1331.2L428 1331.2L429 1332L430 1331.5L431 1331.5L432 1331.7L433 1331.6L434 1331.5L435 1331.3L436 1331.7L437 1331.4L438 1331.3L439 1332.5L440 1331.1L441 1331.8L442 1331.3L443 1332.4L444 1331.5L445 1332L446 1332.3L447 1331.8L448 1331.2L449 1331.4L450 1331.3L451 1331.9L452 1331.9L453 1331.7L454 1331.8L455 1332L456 1331.3L457 1331.7L458 1331L459 1331.2L460 1330.9L461 1331.1L462 1330.5L463 1330.7L464 1330.8L465 1330.6L466 1331.1L467 1330.9L468 1331.3L469 1330.2L470 1331.1L471 1331.3L472 1331.8L473 1332.2L474 1332.1L475 1332.1L476 1331.2L477 1331.7L478 1331.5L479 1332L480 1331.9L481 1332.3L482 1331.8L483 1331.7L484 1331.7L485 1332L486 1331.4L487 1331.5L488 1332.2L489 1331.5L490 1331.6L491 1332.2L492 1332.1L493 1331.5L494 1331.3L495 1331.9L496 1331.9L497 1332L498 1331.6L499 1331.3L500 1332L501 1331.5L502 1331.7L503 1332L504 1331.4L505 1331.7L506 1331.7L507 1331.5L508 1331.4L509 1331.6L510 1332.3L511 1331.9L512 1332L513 1331.5L514 1331.6L515 1330.8L516 1332L517 1331.8L518 1332.1L519 1332.4L520 1332.2L521 1331.7L522 1331.3L523 1332.1L524 1331.7L525 1331.9L526 1331.4L527 1331.7L528 1331.7L529 1331.9L530 1331.8L531 1331.6L532 1331.8L533 1331.7L534 1331.8L535 1331.8L536 1332L537 1331.2L538 1332.3L539 1332L540 1331.5L541 1331.7L542 1331.9L543 1331.1L544 1331.5L545 1330.7L546 1331.1L547 1330.9L548 1331.8L549 1330.7L550 1330.7L551 1331.2L552 1329.4L553 1329.5L554 1330.3L555 1329.4L556 1330.3L557 1329.5L558 1330.1L559 1329.7L560 1329.9L561 1330.4L562 1330.9L563 1331.1L564 1331.1L565 1331.1L566 1331.2L567 1331.5L568 1331.2L569 1331.2L570 1331.3L571 1331.1L572 1331.9L573 1331.1L574 1331.4L575 1331.2L576 1331.9L577 1330.4L578 1330.9L579 1331.1L580 1331.6L581 1332.1L582 1331.8L583 1331.6L584 1331.4L585 1331.3L586 1331.5L587 1331L588 1330.7L589 1330.2L590 1330.5L591 1328.9L592 1327.4L593 1320.9L594 1302.9L595 1274.6L596 1267.2L597 1293L598 1316L599 1325.5L600 1329L601 1329.9L602 1330.2L603 1330.3L604 1330.7L605 1331.3L606 1332L607 1331.9L608 1331.1L609 1331.2L610 1331.4L611 1332.1L612 1331.4L613 1331.8L614 1331.3L615 1331.3L616 1331.7L617 1331L618 1331.7L619 1331.5L620 1331.8L621 1331.4L622 1331.1L623 1332.1L624 1331.7L625 1331.1L626 1331.8L627 1332.1L628 1332L629 1332.4L630 1332.3L631 1331.4L632 1332L633 1332.2L634 1331.5L635 1331.9L636 1331L637 1332.4L638 1332.1L639 1331L640 1329.9L641 1330.6L642 1331.2L643 1329.9L644 1330.4L645 1330.9L646 1330.9L647 1331.1L648 1331.4L649 1331.9L650 1331.5L651 1332L652 1331.8L653 1332L654 1331.2L655 1331.5L656 1332.2L657 1331.9L658 1331.6L659 1331.3L660 1332.3L661 1331.4L662 1332.7L663 1332.1L664 1331.4L665 1331.1L666 1331.9L667 1332.3L668 1331.7L669 1331.1L670 1332L671 1332.2L672 1331.8L673 1332.1L674 1332L675 1331.7L676 1331.6L677 1331.6L678 1332.3L679 1331.5L680 1331.4L681 1331.2L682 1331.2L683 1331.5L684 1330.8L685 1332L686 1332.1L687 1331.7L688 1331.4L689 1331.5L690 1331.8L691 1331.8L692 1331.6L693 1331.3L694 1331.6L695 1331.4L696 1331.9L697 1330.8L698 1331.8L699 1331.2L700 1331.5L701 1330.7L702 1330.5L703 1329.7L704 1329.8L705 1330.1L706 1330.5L707 1330.9L708 1330.8L709 1331.5L710 1331L711 1331.6L712 1331.3L713 1331.4L714 1331.8L715 1332.3L716 1331.2L717 1330.7L718 1331.5L719 1331.3L720 1330.3L721 1330L722 1329L723 1327.3L724 1326.7L725 1324.4L726 1322.3L727 1320.3L728 1318.6L729 1317.6L730 1319L731 1321.7L732 1322.9L733 1325.6L734 1327.3L735 1328.2L736 1328.9L737 1330.3L738 1330.7L739 1330L740 1331.5L741 1331.6L742 1331.8L743 1331.6L744 1331.5L745 1331.2L746 1331.6L747 1331.7L748 1331.9L749 1331.4L750 1331.4L751 1330.6L752 1331.6L753 1331.6L754 1331.3L755 1331.7L756 1331.3L757 1332L758 1331.4L759 1332.3L760 1332.1L761 1331.7L762 1331.3L763 1332L764 1332.3L765 1331.4L766 1331.7L767 1331.7L768 1331.7L769 1331.9L770 1331.6L771 1331.7L772 1331.6L773 1331.8L774 1331.7L775 1331.9L776 1331.6L777 1332.6L778 1332.3L779 1332L780 1331.9L781 1331.8L782 1331.6L783 1331.5L784 1331.9L785 1330.9L786 1331.8L787 1331.7L788 1331.4L789 1331.3L790 1331.1L791 1331.3L792 1331.2L793 1330.9L794 1331.4L795 1331.5L796 1331L797 1331.3L798 1331.3L799 1330.9L800 1331.4L801 1330.7L802 1330.3L803 1330.7L804 1330.8L805 1330.1L806 1329.9L807 1329.8L808 1330.7L809 1330.3L810 1329.8L811 1329.5L812 1329.2L813 1329L814 1329.2L815 1328.3L816 1327.9L817 1326.7L818 1325.7L819 1324.9L820 1323L821 1320.7L822 1317.5L823 1312.6L824 1304.9L825 1292.5L825.9 1276.7L826.6 1007.3L828.5 963.2L830.4 1007.4L831.1 1276.9L832 1292.7L833 1305.1L834 1312.9L835 1317.8L836 1321L837 1323.4L838 1325.2L839 1326.1L840 1326.1L841 1327.1L842 1328.9L843 1329.2L844 1329.1L845 1329.9L846 1330.5L847 1331.1L848 1330.9L849 1331L850 1331.4L851 1330.7L852 1331L853 1331.2L854 1331.5L855 1331.6L856 1331.2L857 1330.8L858 1331L859 1331.2L860 1329.8L861 1328.9L862 1329.4L863 1330L864 1331L865 1331.6L866 1331.8L867 1331.3L868 1331.6L869 1331L870 1331.4L871 1330.1L872 1330.2L873 1330.3L874 1329.5L875 1329.2L876 1327.2L877 1318.9L878 1305.3L879 1298.5L880 1298.7L881 1299.5L882 1306.6L883 1319.9L884 1328L885 1330.6L886 1331.6L887 1331.5L888 1332.2L889 1332.1L890 1331.6L891 1331.7L892 1332.1L893 1332L894 1332L895 1332.5L896 1332.2L897 1333.1L898 1333.4L899 1333.7L900 1334.1L901 1333.1L902 1334L903 1333.7L904 1333.2L905 1333.9L906 1333.6L907 1334L908 1333.1L909 1334.3L910 1333.9L911 1334.5L912 1334.5L913 1333.8L914 1334.7L915 1334.5L916 1334.3L917 1334L918 1334.5L919 1334.4L920 1333.9L921 1334.2L922 1334.5L923 1334L924 1334.2L925 1334L926 1334L927 1334.1L928 1333.6L929 1334.4L930 1334L931 1334.2L932 1333.9L933 1334.3L934 1334.6L935 1333.9L936 1333.8L937 1335L938 1334.3L939 1333.7L940 1334.6L941 1334.3L942 1334.2L943 1333.9L944 1333.9L945 1334.2L946 1335L947 1334.4L948 1334.5L949 1334.4L950 1334.6L951 1334.7L952 1334.2L953 1334.6L954 1334.3L955 1334.3L956 1334.4L957 1333.7L958 1333.9L959 1334.7L960 1333.9L961 1333.6L962 1334.1L963 1333.8L964 1333.6L965 1333.6L966 1333.5L967 1333.6L968 1333.5L969 1334.4L970 1334.4L971 1334.3L972 1334.4L973 1334.1L974 1334.9L975 1334.2L976 1334.3L977 1333.5L978 1334.1L979 1334L980 1333.6L981 1333L982 1332.6L983 1332.9L984 1332.6L985 1333.3L986 1333.9L987 1333.4L988 1333.9L989 1334.4L990 1334.7L991 1334.4L992 1334.3L993 1334.4L994 1334.7L995 1334.3L996 1334.6L997 1334L998 1334.3L999 1334L1000 1334.5L1001 1334.9L1002 1334.9L1003 1334.1L1004 1334.6L1005 1334.2L1006 1334.8L1007 1334.2L1008 1334.7L1009 1334.2L1010 1334.3L1011 1334L1012 1334.2L1013 1333.9L1014 1333.8L1015 1333.6L1016 1334.6L1017 1334.1L1018 1334.4L1019 1334.5L1020 1334L1021 1334.3L1022 1334.2L1023 1335L1024 1334.7L1025 1334.4L1026 1334.9L1027 1334.5L1028 1335.2L1029 1335.1L1030 1334.6L1031 1334.9L1032 1334.3L1033 1335.3L1034 1334.8L1035 1335.2L1036 1334.9L1037 1335L1038 1334.3L1039 1334.5L1040 1334.1L1041 1334.9L1042 1334.6L1043 1334.6L1044 1334.8L1045 1334.9L1046 1334.1L1047 1334.1L1048 1334.8L1049 1334.6L1050 1334.9L1051 1335.1L1052 1334.1L1053 1334.2L1054 1334.6L1055 1334.7L1056 1334.9L1057 1334.3L1058 1334.6L1059 1334.3L1060 1334.8L1061 1334.6L1062 1334.7L1063 1334.9L1064 1334.3L1065 1335L1066 1334.6L1067 1334.3L1068 1334.5L1069 1335L1070 1334.6L1071 1334.7L1072 1334.8L1073 1334.4L1074 1334.6L1075 1333.8L1076 1334.3L1077 1334.1L1078 1333.9L1079 1334L1080 1333.9L1081 1333.1L1082 1333.6L1083 1332.8L1084 1332.1L1085 1329.9L1086 1327.5L1087 1322.4L1088 1314.8L1089 1306.9L1090 1299.9L1091 1299.2L1092 1304.9L1093 1311.9L1094 1320.1L1095 1325.6L1096 1329.5L1097 1331.2L1098 1332.2L1099 1333.4L1100 1333L1101 1333.5L1102 1334.6L1103 1333.8L1104 1333.8L1105 1333.9L1106 1334L1107 1334.3L1108 1334.9L1109 1333.5L1110 1334.7L1111 1334.9L1112 1334.6L1113 1334.3L1114 1334.6L1115 1334.4L1116 1334.2L1117 1334.9L1118 1335.1L1119 1335.1L1120 1335.4L1121 1335L1122 1335.2L1123 1334.9L1124 1335.3L1125 1334.8L1126 1335.3L1127 1335.3L1128 1334.9L1129 1335.4L1130 1334.9L1131 1334.6L1132 1335.3L1133 1334.7L1134 1334.7L1135 1335.2L1136 1334.6L1137 1334.8L1138 1334.5L1139 1334.9L1140 1335.3L1141 1334.8L1142 1335L1143 1335.1L1144 1334.7L1145 1335.2L1146 1335.3L1147 1334.5L1148 1334.8L1149 1334.3L1150 1335.3L1151 1335.4L1152 1335L1153 1335.2L1154 1335.3L1155 1335.1L1156 1335.5L1157 1335.5L1158 1335.1L1159 1335.6L1160 1334.5L1161 1334.3L1162 1334.8L1163 1334.5L1164 1334.3L1165 1333.8L1166 1334.8L1167 1334.4L1168 1334.4L1169 1334.4L1170 1334.4L1171 1333.8L1172 1334.8L1173 1334.7L1174 1334.5L1175 1334.8L1176 1334.3L1177 1333.8L1178 1334.1L1179 1334.2L1180 1333.5L1181 1333.3L1182 1333.4L1183 1331.7L1184 1329.7L1185 1327.6L1186 1323.2L1187 1318.7L1188 1313.1L1189 1310.3L1190 1309.8L1191 1313.1L1192 1317.9L1193 1322.4L1194 1327L1195 1329.8L1196 1331.7L1197 1332.5L1198 1333L1199 1333.4L1200 1334.1L1201 1333.8L1202 1334.1L1203 1334.7L1204 1334.6L1205 1334.6L1206 1334.5L1207 1334.9L1208 1334.6L1209 1335L1210 1334.7L1211 1335.2L1212 1335.1L1213 1334.8L1214 1334.6L1215 1334.5L1216 1334.6L1217 1334L1218 1334.2L1219 1333.7L1220 1332.7L1221 1331.9L1222 1329.6L1223 1325.3L1224 1320.1L1225 1315.6L1226 1314.3L1227 1317.1L1228 1322.6L1229 1327.3L1230 1330.1L1231 1332.9L1232 1332.9L1233 1333.8L1234 1334.9L1235 1335L1236 1334.9L1237 1334.6L1238 1334.6L1239 1334.9L1240 1335.1L1241 1334.5L1242 1335.6L1243 1335.6L1244 1335.4L1245 1335.1L1246 1335.3L1247 1335.4L1248 1335.7L1249 1335.6L1250 1335.9L1251 1334.8L1252 1334.9L1253 1335.3L1254 1335.2L1255 1336.1L1256 1335.4L1257 1335.2L1258 1335.1L1259 1335.5L1260 1335.7L1261 1336L1262 1335.5L1263 1335.4L1264 1335.2L1265 1335.2L1266 1335.2L1267 1335.2L1268 1335.5L1269 1335.7L1270 1335L1271 1335.7L1272 1335.4L1273 1335.5L1274 1335.6L1275 1335.1L1276 1335.8L1277 1335L1278 1335.4L1279 1335.4L1280 1334.9L1281 1335.5L1282 1335.2L1283 1335.5L1284 1335.2L1285 1335.3L1286 1335.1L1287 1336.1L1288 1335.5L1289 1336.1L1290 1335.1L1291 1335.9L1292 1335.2L1293 1335.4L1294 1335.5L1295 1334.9L1296 1335.6L1297 1335L1298 1335.4L1299 1335.5L1300 1335.5L1301 1334.7L1302 1335L1303 1334.9L1304 1335.4L1305 1334.5L1306 1335.1L1307 1335.2L1308 1335.3L1309 1335L1310 1334.9L1311 1334.7L1312 1335.6L1313 1335.7L1314 1335.8L1315 1335.6L1316 1335.4L1317 1335.2L1318 1335.6L1319 1335.4L1320 1335.7L1321 1335.2L1322 1336.1L1323 1335.8L1324 1335.6L1325 1335.2L1326 1335.9L1327 1335L1328 1336L1329 1335.5L1330 1335.3L1331 1335.1L1332 1335.3L1333 1335L1334 1334.7L1335 1334.8L1336 1334.8L1337 1334.6L1338 1334L1339 1333L1340 1330.4L1341 1327.7L1342 1324.5L1343 1322.1L1344 1322L1345 1324.6L1346 1327L1347 1330.5L1348 1332.2L1349 1333.9L1350 1334.6L1351 1335L1352 1334.8L1353 1335.1L1354 1335.6L1355 1335.3L1356 1336L1357 1335.8L1358 1335.1L1359 1335.3L1360 1335.4L1361 1335.6L1362 1335.4L1363 1336.1L1364 1334.7L1365 1335.3L1366 1335.6L1367 1335.7L1368 1336L1369 1335.1L1370 1334.8L1371 1333.9L1372 1332.8L1373 1331.8L1374 1330.5L1375 1329.2L1376 1327.9L1377 1327.3L1378 1327.3L1379 1329.9L1380 1331.2L1381 1332.9L1382 1333.8L1383 1334.6L1384 1335.2L1385 1334.9L1386 1334.6L1387 1335.2L1388 1335.1L1389 1335.5L1390 1335.5L1391 1334.8L1392 1335.7L1393 1335.2L1394 1335.1L1395 1334.5L1396 1333.2L1397 1332.2L1398 1331.3L1399 1330.5L1400 1330L1401 1330.7L1402 1331.1L1403 1333.2L1404 1333.9L1405 1334L1406 1334.9L1407 1335L1408 1335.5L1409 1335.8L1410 1335.3L1411 1335.8L1412 1335.8L1413 1336.1L1414 1336L1415 1336.7L1416 1335.8L1417 1336.4L1418 1335L1419 1336.3L1420 1335.7L1421 1336L1422 1335.6L1423 1335.5L1424 1335.6L1425 1335.7L1426 1335.5L1427 1336.5L1428 1336.3L1429 1336.1L1430 1336.2L1431 1336.6L1432 1335.9L1433 1336.3L1434 1335.4L1435 1336.1L1436 1336L1437 1335.6L1438 1336.4L1439 1335.9L1440 1336.1L1441 1336L1442 1335.8L1443 1335.9L1444 1336.4L1445 1336L1446 1335.9L1447 1335.8L1448 1335.7L1449 1336.1L1450 1336.1L1451 1336L1452 1336.1L1453 1335.5L1454 1335.4L1455 1336.4L1456 1335.6L1457 1335L1458 1334.4L1459 1333.6L1460 1332.4L1461 1329.6L1462 1327.6L1463 1324.4L1464 1323.3L1465 1323.2L1466 1326L1467 1328.8L1468 1331.1L1469 1332.7L1470 1334.1L1471 1335.3L1472 1335.3L1473 1335.6L1474 1335.9L1475 1336.2L1476 1335.4L1477 1336.1L1478 1335.9L1479 1336.4L1480 1336.1L1481 1336.2L1482 1336.1L1483 1336.9L1484 1335.9L1485 1336.2L1486 1337L1487 1336.2L1488 1335.8L1489 1335.9L1490 1336.5L1491 1336.9L1492 1336.5L1493 1335.9L1494 1336.4L1495 1335.6L1496 1336.3L1497 1336.9L1498 1335.9L1499 1336.4L1500 1336.8L1501 1336.4L1502 1336.9L1503 1336.6L1504 1336.3L1505 1336.2L1506 1336.6L1507 1335.9L1508 1336L1509 1336.5L1510 1335.1L1511 1335.8L1512 1335.2L1513 1336.1L1514 1334.9L1515 1335.3L1516 1335.8L1517 1336L1518 1336L1519 1335.8L1520 1336.3L1521 1335.9L1522 1336.5L1523 1336.1L1524 1336.1L1525 1337L1526 1335.8L1527 1337.5L1528 1336.7L1529 1336.3L1530 1336.4L1531 1336.5L1532 1336.2L1533 1336.5L1534 1336.1L1535 1336.3L1536 1337L1537 1336.4L1538 1336.5L1539 1336L1540 1335.8L1541 1336.1L1542 1336.6L1543 1336.2L1544 1336.1L1545 1336.8L1546 1337L1547 1336.9L1548 1336.3L1549 1336.3L1550 1336.6L1551 1336.9L1552 1336.5L1553 1336.3L1554 1337.1L1555 1336.5L1556 1336.8L1557 1337.2L1558 1336.9L1559 1336.9L1560 1336.3L1561 1336.6L1562 1336.6L1563 1337.1L1564 1336.9L1565 1336.3L1566 1337L1567 1337L1568 1336.4L1569 1337.2L1570 1336.9L1571 1336.6L1572 1336.7L1573 1336.9L1574 1336.3L1575 1336.9L1576 1337.3L1577 1336L1578 1336.6L1579 1336L1580 1336.4L1581 1336.5L1582 1336.5L1583 1336L1584 1336.4L1585 1336.3L1586 1336.5L1587 1337L1588 1337.2L1589 1336.4L1590 1336.2L1591 1335.8L1592 1335.7L1593 1335.4L1594 1335L1595 1332.6L1596 1331.5L1597 1329.7L1598 1329.2L1599 1329.5L1600 1330.7L1601 1332.4L1602 1334.2L1603 1335.5L1604 1335.7L1605 1335.5L1606 1336.1L1607 1336.1L1608 1336.3L1609 1335.7L1610 1336.7L1611 1336.4L1612 1336L1613 1336.2L1614 1337.2L1615 1337L1616 1336.5L1617 1336.8L1618 1336.2L1619 1336.6L1620 1336L1621 1336.8L1622 1336.5L1623 1336.4L1624 1336.6L1625 1336.7L1626 1336.3L1627 1336.1L1628 1336.7L1629 1337L1630 1336.5L1631 1337.6L1632 1336.7L1633 1336.3L1634 1336.2L1635 1336.6L1636 1336.2L1637 1336.3L1638 1337.4L1639 1335.3L1640 1336.4L1641 1336.8L1642 1336.9L1643 1336.3L1644 1336.7L1645 1336.3L1646 1336.8L1647 1336.4L1648 1336.7L1649 1336.4L1650 1336.7L1651 1337L1652 1336.9L1653 1336.6L1654 1336.7L1655 1337L1656 1336.3L1657 1336.4L1658 1336.6L1659 1336.9L1660 1336.5L1661 1336.7L1662 1337.1L1663 1336.6L1664 1337.2L1665 1337L1666 1336.7L1667 1336.3L1668 1337.1L1669 1336.5L1670 1337L1671 1337.1L1672 1336.8L1673 1336.8L1674 1336.5L1675 1336.4L1676 1336.6L1677 1337.4L1678 1336.7L1679 1336.7L1680 1337.1L1681 1336.1L1682 1336.7L1683 1336.7L1684 1336.6L1685 1336.6L1686 1336.6L1687 1336.8L1688 1336.5L1689 1337L1690 1337L1691 1336.8L1692 1337L1693 1336.5L1694 1336.8L1695 1337.1L1696 1336.6L1697 1336.7L1698 1337L1699 1336.5L1700 1336.5L1701 1336.6L1702 1336.8L1703 1337L1704 1336.5L1705 1335.9L1706 1336.2L1707 1336.6L1708 1336.8L1709 1336.9L1710 1336.3L1711 1336.6L1712 1337.2L1713 1336.7L1714 1336.9L1715 1336.4L1716 1336.9L1717 1336.6L1718 1335.9L1719 1336.6L1720 1336.9L1721 1336.2L1722 1336.9L1723 1336.9L1724 1336.2L1725 1335.9L1726 1336.5L1727 1337.3L1728 1336.4L1729 1336.5L1730 1335.8L1731 1336.3L1732 1335.9L1733 1336.5L1734 1336.1L1735 1336L1736 1336.3L1737 1336.1L1738 1335.7L1739 1335.4L1740 1334.9L1741 1333.9L1742 1332.7L1743 1331.4L1744 1329.5L1745 1328L1746 1327.1L1747 1326.9L1748 1328L1749 1330L1750 1331.1L1751 1332.6L1752 1333.7L1753 1334.2L1754 1334.8L1755 1335.3L1756 1335.8L1757 1336.1L1758 1335.9L1759 1335.4L1760 1335.4L1761 1334.8L1762 1334.9L1763 1335.3L1764 1334.8L1765 1334.8L1766 1334.2L1767 1333.6L1768 1331.1L1769 1327.7L1770 1322.5L1771 1313.7L1772 1303.8L1773 1296.4L1774 1296.9L1775 1304.1L1776 1313.4L1777 1319.9L1778 1322L1779 1320.3L1780 1317.1L1781 1317.2L1782 1322.5L1783 1326.9L1784 1330.7L1785 1333.3L1786 1334.6L1787 1335.7L1788 1335.7L1789 1335.7L1790 1336.2L1791 1336.1L1792 1336.2L1793 1335.7L1794 1336.1L1795 1335.9L1796 1336.1L1797 1336.4L1798 1336.5L1799 1336.3L1800 1336.2L1801 1336.4L1802 1336.4L1803 1336.8L1804 1336.1L1805 1335.9L1806 1336.7L1807 1336.1L1808 1335.7L1809 1335.4L1810 1336L1811 1335.7L1812 1335.4L1813 1334.7L1814 1335L1815 1334.7L1816 1335.3L1817 1335.7L1818 1335.9L1819 1336.2L1820 1336.7L1821 1335.8L1822 1336.6L1823 1336.2L1824 1336.3L1825 1336.1L1826 1336.9L1827 1336.6L1828 1336.3L1829 1337L1830 1336.7L1831 1336.4L1832 1335.7L1833 1336.1L1834 1337.1L1835 1337.5L1836 1336.8L1837 1336.8L1838 1335.9L1839 1336.4L1840 1337.1L1841 1336.7L1842 1337.4L1843 1336.2L1844 1336.5L1845 1337.1L1846 1336.5L1847 1336.2L1848 1336.4L1849 1336.2L1850 1337.2L1851 1336.8L1852 1336.9L1853 1337.1L1854 1336.5L1855 1336.6L1856 1337L1857 1337.4L1858 1337.2L1859 1336.5L1860 1337.4L1861 1336.3L1862 1337L1863 1336.1L1864 1336.4L1865 1336.6L1866 1336.8L1867 1337.3L1868 1337.5L1869 1336.9L1870 1336.4L1871 1336.3L1872 1336.5L1873 1336.7L1874 1336.4L1875 1337L1876 1336.9L1877 1336.9L1878 1336.8L1879 1337.2L1880 1336.8L1881 1336.7L1882 1337.1L1883 1336.8L1884 1336.9L1885 1336.2L1886 1336.2L1887 1336.6L1888 1336.7L1889 1337L1890 1337L1891 1336.4L1892 1336.7L1893 1336.5L1894 1336.9L1895 1337.4L1896 1337L1897 1337.1L1898 1337.2L1899 1336.6L1900 1336.5L1901 1336.3L1902 1337L1903 1337L1904 1336.2L1905 1335.8L1906 1336.6L1907 1336.3L1908 1337L1909 1336.4L1910 1336.6L1911 1336.3L1912 1336.1L1913 1335.4L1914 1336.4L1915 1336.4L1916 1336.5L1917 1335.9L1918 1335.8L1919 1335.9L1920 1336.8L1921 1335.4L1922 1335.8L1923 1335.3L1924 1334.4L1925 1334.3L1926 1332.6L1927 1330.6L1928 1329.2L1929 1327.7L1930 1325.8L1931 1325.1L1932 1326.2L1933 1327.4L1934 1328.7L1935 1331.1L1936 1332.6L1937 1334.2L1938 1334.9L1939 1335.6L1940 1336.3L1941 1336L1942 1336.4L1943 1336L1944 1336.8L1945 1335.4L1946 1336.6L1947 1336.1L1948 1336.6L1949 1336.4L1950 1335.6L1951 1336.6L1952 1336.6L1953 1336.2L1954 1336.7L1955 1336.2L1956 1335L1957 1334.9L1958 1334.4L1959 1334.1L1960 1331.8L1961 1329.1L1962 1326.7L1963 1325.2L1964 1324.9L1965 1325.7L1966 1328.1L1967 1331.2L1968 1333L1969 1334.4L1970 1336.2L1971 1335.9L1972 1335.5L1973 1336.3L1974 1335.6L1975 1335.6L1976 1336L1977 1336.3L1978 1335.9L1979 1335L1980 1334.1L1981 1333.3L1982 1333.7L1983 1333.9L1984 1334.8L1985 1334.9L1986 1335.8L1987 1336L1988 1336.2L1989 1336.1L1990 1336.7L1991 1337.4L1992 1336.7L1993 1336.8L1994 1336.9L1995 1336.6L1996 1337.4L1997 1336.5L1998 1337L1999 1336.8L2000 1336.4L2001 1336.3L2002 1337.1L2003 1336.9L2004 1336.6L2005 1336.9L2006 1336.7L2007 1337.3L2008 1336.5L2009 1336.4L2010 1336.7L2011 1336.6L2012 1336.3L2013 1336.8L2014 1337.3L2015 1336.7L2016 1336.6L2017 1337.1L2018 1337L2019 1337.1L2020 1336.9L2021 1337.2L2022 1337L2023 1337L2024 1336.4L2025 1336.9L2026 1336.4L2027 1336.5L2028 1337L2029 1336.7L2030 1337L2031 1336.7L2032 1337.1L2033 1336.7L2034 1337L2035 1336.6L2036 1336.5L2037 1337.2L2038 1336.9L2039 1337.2L2040 1336.2L2041 1337L2042 1337.5L2043 1336.5L2044 1336.6L2045 1336.8L2046 1337L2047 1336.5L2048 1337L2049 1336.7L2050 1336.9L2051 1336.7L2052 1336.2L2053 1337.2L2054 1337.5L2055 1336.7L2056 1337.4L2057 1336.1L2058 1337L2059 1336.7L2060 1336.5L2061 1336.4L2062 1336.6L2063 1337L2064 1336.8L2065 1336.5L2066 1335.8L2067 1336.4L2068 1335.9L2069 1337L2070 1336.1L2071 1335.6L2072 1335.6L2073 1336.4L2074 1335.2L2075 1335.3L2076 1335.3L2077 1334.9L2078 1335.1L2079 1335.2L2080 1335L2081 1336.5L2082 1335.6L2083 1336L2084 1335.8L2085 1336.3L2086 1336.1L2087 1336.4L2088 1336.2L2089 1336.4L2090 1336.3L2091 1336L2092 1336.5L2093 1336.3L2094 1336.8L2095 1336.4L2096 1336.9L2097 1336.5L2098 1336.6L2099 1336.4L2100 1336.8L2101 1336.8L2102 1337.2L2103 1336.2L2104 1336.8L2105 1336.9L2106 1336.6L2107 1337.3L2108 1336.8L2109 1336.4L2110 1337.6L2111 1337L2112 1337.1L2113 1336.5L2114 1337L2115 1337.1L2116 1337.1L2117 1336.6L2118 1336.7L2119 1336.4L2120 1337.2L2121 1336.4L2122 1336.6L2123 1336.5L2124 1336.6L2125 1337L2126 1337.7L2127 1336.9L2128 1337L2129 1336.8L2130 1336.6L2131 1336.7L2132 1336.3L2133 1337.6L2134 1336.7L2135 1337.3L2136 1336.8L2137 1336.6L2138 1336.8L2139 1337.2L2140 1336.9L2141 1336.6L2142 1337L2143 1336.6L2144 1336.9L2145 1336.3L2146 1337.4L2147 1337L2148 1336.3L2149 1336.9L2150 1336.6L2151 1337.4L2152 1336.9L2153 1336.4L2154 1336.8L2155 1337L2156 1337.2L2157 1336.2L2158 1337.3L2159 1336.9L2160 1337.2L2161 1336.9L2162 1336.3L2163 1336.1L2164 1334.7L2165 1331.3L2166 1324.1L2167 1309.9"/>
<path class="c" stroke="#4196D2" d="M161 1418.1L162 1418L163 1418.4L164 1417.4L165 1417.1L166 1417.8L167 1417.9L168 1417.5L169 1418L170 1417.9L171 1417.3L172 1417.5L173 1418.1L174 1418.3L175 1417.4L176 1417.6L177 1417.6L178 1417.8L179 1417L180 1417.3L181 1418.2L182 1418.2L183 1417.3L184 1418L185 1417.3L186 1418.1L187 1417.6L188 1417.9L189 1417.8L190 1418.2L191 1418.1L192 1417.7L193 1417.6L194 1418L195 1418.2L196 1418.5L197 1418.2L198 1418.3L199 1417.8L200 1417.7L201 1418.1L202 1417.4L203 1418L204 1417.9L205 1418L206 1417.3L207 1418.3L208 1417.8L209 1418L210 1418.3L211 1417.9L212 1417.4L213 1418.4L214 1418.3L215 1418L216 1418.2L217 1418.5L218 1417.9L219 1417.6L220 1418.4L221 1418.5L222 1417.7L223 1418.3L224 1418.1L225 1418.1L226 1417.9L227 1418L228 1418.7L229 1418.5L230 1418.2L231 1418.3L232 1418.6L233 1418.4L234 1418.3L235 1418.2L236 1418.3L237 1418.5L238 1418.4L239 1418.7L240 1418.6L241 1417.5L242 1418.2L243 1418L244 1418.6L245 1418.4L246 1418.6L247 1418.2L248 1419L249 1418.6L250 1418.4L251 1419L252 1418.3L253 1418.7L254 1419.1L255 1418.5L256 1418.6L257 1418.8L258 1418.4L259 1419.1L260 1418.2L261 1418.6L262 1418.7L263 1418.7L264 1418.8L265 1418.7L266 1418.6L267 1418.9L268 1418L269 1418.9L270 1418.7L271 1418.9L272 1419.1L273 1418.8L274 1418.8L275 1419.2L276 1419.1L277 1419L278 1418.5L279 1419.2L280 1419.3L281 1418.9L282 1419L283 1418.8L284 1419.3L285 1418.6L286 1418.6L287 1419.3L288 1419.3L289 1418.9L290 1418.5L291 1418.9L292 1419.1L293 1419.4L294 1419.2L295 1419.1L296 1419.6L297 1419.6L298 1419.4L299 1419.2L300 1419.6L301 1419.1L302 1418.6L303 1418.8L304 1419.2L305 1419.7L306 1419.3L307 1419.2L308 1419.3L309 1419.4L310 1418.5L311 1418L312 1417.1L313 1415.6L314 1415L315 1414.9L316 1416.1L317 1417.6L318 1418.5L319 1419.4L320 1418.8L321 1419.4L322 1419.6L323 1419.5L324 1419.4L325 1419.6L326 1419.4L327 1419.3L328 1419.5L329 1419.7L330 1419.7L331 1419.6L332 1419.5L333 1419.8L334 1420L335 1419.6L336 1419.8L337 1420L338 1419.5L339 1419.9L340 1420.1L341 1419.8L342 1419.7L343 1419.8L344 1420.1L345 1420.3L346 1419.7L347 1419.1L348 1420.2L349 1420.1L350 1420.1L351 1419.9L352 1419.5L353 1419.8L354 1419L355 1420.3L356 1420.5L357 1419.8L358 1419.5L359 1420.5L360 1420.3L361 1420.1L362 1419.7L363 1420L364 1419.6L365 1420.2L366 1419.6L367 1420.6L368 1420.6L369 1419.4L370 1420.2L371 1419.4L372 1420.3L373 1419.6L374 1419.8L375 1419.8L376 1419.5L377 1420.3L378 1419.9L379 1420.2L380 1420.2L381 1420L382 1419.9L383 1419.3L384 1420.3L385 1420L386 1420.3L387 1420.9L388 1420.5L389 1419.8L390 1420.4L391 1420.3L392 1420.1L393 1420.4L394 1420.3L395 1420L396 1419.4L397 1419.9L398 1420.4L399 1420.1L400 1420.2L401 1420.4L402 1419.7L403 1420L404 1420.3L405 1419.9L406 1420.2L407 1420.4L408 1420.5L409 1419.8L410 1420.1L411 1420.1L412 1420.8L413 1420.7L414 1420L415 1419.7L416 1420.5L417 1419.7L418 1419.7L419 1419.9L420 1420.2L421 1420L422 1420.7L423 1420.5L424 1420.3L425 1420.6L426 1420L427 1419.9L428 1420L429 1420.2L430 1419.8L431 1420.4L432 1420.2L433 1419.6L434 1420.4L435 1420.1L436 1420.6L437 1420.6L438 1420.1L439 1420.2L440 1420.3L441 1420.3L442 1420.7L443 1420.5L444 1420.1L445 1419.9L446 1420L447 1420.5L448 1420.2L449 1420.1L450 1420.1L451 1419.7L452 1420.6L453 1419.9L454 1419.3L455 1420.2L456 1419.9L457 1420L458 1420.2L459 1419.5L460 1419.9L461 1418.9L462 1419.1L463 1418.8L464 1418.2L465 1418.6L466 1418.9L467 1419L468 1419.9L469 1419.8L470 1419.8L471 1419.6L472 1420.4L473 1420.6L474 1420L475 1420.4L476 1420.8L477 1420.4L478 1419.6L479 1420.3L480 1419.6L481 1420.5L482 1420.1L483 1419.8L484 1420L485 1420.2L486 1420.3L487 1420.8L488 1420.4L489 1420.7L490 1419.9L491 1420.2L492 1419.5L493 1420.5L494 1420L495 1421.1L496 1420.2L497 1420L498 1420.1L499 1420.1L500 1420L501 1420.8L502 1420.6L503 1420.4L504 1419.9L505 1420.5L506 1420.2L507 1420.1L508 1420.5L509 1419.9L510 1420.2L511 1420.7L512 1420.8L513 1420.4L514 1420.7L515 1420L516 1420.5L517 1420.3L518 1419.7L519 1420.3L520 1419.2L521 1420.6L522 1420.8L523 1420.3L524 1419.9L525 1420.2L526 1420.2L527 1420.4L528 1420.1L529 1420.3L530 1420.4L531 1420L532 1420L533 1420.3L534 1420.4L535 1420.2L536 1420.5L537 1420.4L538 1420.6L539 1420.1L540 1420.1L541 1420.9L542 1420.2L543 1420.3L544 1420.1L545 1420.2L546 1419.7L547 1420.4L548 1420.5L549 1419.9L550 1419.5L551 1419.2L552 1419.4L553 1418.9L554 1418.7L555 1418.7L556 1418.4L557 1418.7L558 1418.4L559 1418.6L560 1419.1L561 1419.4L562 1418.9L563 1419.5L564 1419.2L565 1419.9L566 1420.4L567 1419.4L568 1419.8L569 1420.1L570 1419.6L571 1420.1L572 1420.3L573 1420.3L574 1420.2L575 1420.5L576 1419.8L577 1420.4L578 1420.8L579 1420L580 1419.7L581 1420.4L582 1420L583 1420.3L584 1420.4L585 1419.5L586 1420.7L587 1419.3L588 1419L589 1418.7L590 1419L591 1416.6L592 1415.7L593 1409.5L594 1392.9L595 1365.3L596 1357.6L597 1382.8L598 1405.3L599 1414.4L600 1416.3L601 1418.6L602 1418.8L603 1419.7L604 1419.5L605 1419.6L606 1420.3L607 1419.8L608 1419L609 1419.7L610 1419.8L611 1419.9L612 1420.1L613 1419.9L614 1420.7L615 1420.5L616 1420.2L617 1420.3L618 1420.5L619 1420.4L620 1419.8L621 1420.3L622 1420.3L623 1419.7L624 1420.5L625 1420.4L626 1420.3L627 1420.9L628 1420.1L629 1420.3L630 1419.9L631 1420.3L632 1420.4L633 1420.1L634 1420.4L635 1419.9L636 1420.3L637 1420.1L638 1419.9L639 1420L640 1418.8L641 1418.8L642 1418.4L643 1418.1L644 1417.8L645 1418.2L646 1418.4L647 1419.2L648 1419.8L649 1419.6L650 1420.3L651 1420.1L652 1420.7L653 1420.3L654 1419.8L655 1419.9L656 1419.8L657 1419.9L658 1420.5L659 1420.4L660 1421.1L661 1420.4L662 1420.5L663 1420.7L664 1419.8L665 1421.2L666 1420.2L667 1421L668 1420.6L669 1419.6L670 1420.5L671 1420.8L672 1420.2L673 1420.6L674 1420L675 1419.9L676 1419.9L677 1420.7L678 1420.8L679 1420L680 1420.2L681 1419.6L682 1419.4L683 1419.9L684 1420L685 1420.3L686 1420L687 1420L688 1419.7L689 1420.4L690 1420.5L691 1420.4L692 1420.3L693 1419.9L694 1420.1L695 1420L696 1420.3L697 1420.1L698 1419.5L699 1419.7L700 1419.2L701 1418.2L702 1416.7L703 1415.8L704 1415.4L705 1415.9L706 1416.5L707 1417.7L708 1418.6L709 1419.7L710 1420L711 1419.8L712 1420.4L713 1419.8L714 1419.8L715 1419.8L716 1419.4L717 1419.7L718 1419.4L719 1420.3L720 1419.7L721 1418.7L722 1418L723 1417.9L724 1416.5L725 1415L726 1413.2L727 1412.2L728 1410.8L729 1410.7L730 1410.2L731 1412L732 1413.3L733 1415.2L734 1416.6L735 1417.9L736 1418.6L737 1419.2L738 1419.2L739 1420.1L740 1419.8L741 1420.2L742 1419.6L743 1420.2L744 1419.6L745 1420L746 1420.5L747 1420.8L748 1419.8L749 1420.7L750 1419.8L751 1420.1L752 1420.2L753 1420.7L754 1419.9L755 1420L756 1419.8L757 1420.8L758 1420.5L759 1419.8L760 1421.3L761 1419.9L762 1420.5L763 1420.6L764 1420.4L765 1420.8L766 1420.2L767 1420.1L768 1420.3L769 1420.1L770 1419.8L771 1420.3L772 1420.7L773 1420.5L774 1420.3L775 1419.7L776 1420.3L777 1420L778 1420.6L779 1420.6L780 1419.8L781 1420L782 1420.3L783 1420.4L784 1420.7L785 1420.5L786 1420L787 1420.2L788 1419.8L789 1420.7L790 1420.9L791 1420.2L792 1420.6L793 1420.5L794 1420.3L795 1420.3L796 1420.7L797 1420.6L798 1420.7L799 1420.4L800 1419.9L801 1419.8L802 1419.8L803 1419.8L804 1420.2L805 1419.5L806 1419.8L807 1419.9L808 1420.4L809 1419.8L810 1420.1L811 1419.3L812 1419.7L813 1418.7L814 1418.7L815 1419L816 1418.4L817 1417.7L818 1417.3L819 1416.5L820 1415.8L821 1414.2L822 1411.9L823 1408.6L824 1403.9L825 1395.2L826.2 1335L828.5 1323L830.8 1335L832 1395.4L833 1404L834 1408.7L835 1412.1L836 1414.3L837 1416L838 1416.4L839 1418.1L840 1418.2L841 1418.3L842 1418.8L843 1419.9L844 1420L845 1420.1L846 1419.6L847 1420.1L848 1420.1L849 1420.3L850 1420.5L851 1420.1L852 1420.8L853 1420.1L854 1420.4L855 1420.2L856 1420.6L857 1420.4L858 1420.3L859 1419.9L860 1419.1L861 1419.2L862 1419.2L863 1419L864 1419.3L865 1420.5L866 1419.7L867 1420L868 1419.7L869 1418.7L870 1417.2L871 1417.1L872 1416.8L873 1416.6L874 1415.7L875 1414.3L876 1409.6L877 1391.3L878 1364L879 1349.5L880 1348.9L881 1349.6L882 1365.6L883 1392.4L884 1410.2L885 1415.6L886 1416L887 1417.4L888 1417.9L889 1418.7L890 1418.3L891 1418.9L892 1418.6L893 1418.9L894 1419L895 1419.1L896 1420L897 1420.6L898 1420.2L899 1421.1L900 1421.4L901 1421.3L902 1421.7L903 1421.7L904 1421.1L905 1421.8L906 1421.1L907 1421.3L908 1421.5L909 1421.7L910 1421.5L911 1421.1L912 1422.5L913 1421.6L914 1421.7L915 1421.6L916 1421.3L917 1420.5L918 1422.3L919 1422.1L920 1422.1L921 1421.9L922 1421.7L923 1421.4L924 1421.5L925 1421.5L926 1422.3L927 1421.8L928 1421.4L929 1422L930 1422.5L931 1422.1L932 1422L933 1422.1L934 1421.5L935 1422.2L936 1421.6L937 1422L938 1421.8L939 1422.2L940 1421.6L941 1421.4L942 1422.2L943 1421.5L944 1421.5L945 1421.9L946 1422.2L947 1422.4L948 1422L949 1421.7L950 1422L951 1422.2L952 1422.6L953 1422.3L954 1421.4L955 1421.4L956 1421.7L957 1421.4L958 1422L959 1421.5L960 1421.2L961 1421.5L962 1421.6L963 1421.6L964 1421L965 1420.4L966 1420.6L967 1420.7L968 1420.2L969 1420.9L970 1421L971 1421.2L972 1421.1L973 1421.3L974 1421.4L975 1422.5L976 1421.9L977 1421.4L978 1421.8L979 1421.5L980 1421L981 1420.3L982 1419.9L983 1420.5L984 1420.8L985 1421L986 1421.4L987 1422L988 1421.3L989 1422.5L990 1422.1L991 1422.3L992 1422.5L993 1421.9L994 1421.7L995 1422.2L996 1422.3L997 1422L998 1422.3L999 1421.9L1000 1422.1L1001 1421.6L1002 1422.5L1003 1421.8L1004 1421.6L1005 1422.4L1006 1422.3L1007 1421.7L1008 1422L1009 1420.8L1010 1421.2L1011 1422.1L1012 1421.4L1013 1421.2L1014 1421L1015 1421.4L1016 1421.7L1017 1422L1018 1421.3L1019 1421.8L1020 1421.8L1021 1422.4L1022 1421.6L1023 1422.2L1024 1421.9L1025 1422.5L1026 1422L1027 1422.4L1028 1422.8L1029 1422.4L1030 1422.7L1031 1422L1032 1422.6L1033 1422.6L1034 1422.8L1035 1422.6L1036 1422.5L1037 1422.4L1038 1422.6L1039 1421.7L1040 1422.3L1041 1422.4L1042 1423.1L1043 1422.6L1044 1421.6L1045 1422.7L1046 1422.7L1047 1423.1L1048 1422.1L1049 1422.8L1050 1421.6L1051 1422.9L1052 1422.7L1053 1422.2L1054 1422.2L1055 1422.3L1056 1422.6L1057 1422.7L1058 1422.9L1059 1422.6L1060 1422.7L1061 1422.4L1062 1422.2L1063 1422.6L1064 1422.5L1065 1422.5L1066 1422.7L1067 1422.7L1068 1422.6L1069 1422.9L1070 1422.4L1071 1422.5L1072 1422L1073 1422.3L1074 1422.4L1075 1422L1076 1422L1077 1422.1L1078 1421.8L1079 1422.2L1080 1422L1081 1421.8L1082 1421L1083 1421.2L1084 1419.4L1085 1418.7L1086 1415.8L1087 1411.6L1088 1405.2L1089 1397.7L1090 1392.7L1091 1392L1092 1395.8L1093 1402.5L1094 1409.8L1095 1414L1096 1417.4L1097 1419.2L1098 1420.8L1099 1420.9L1100 1421.6L1101 1421.4L1102 1422.5L1103 1422.2L1104 1421.8L1105 1422.7L1106 1422.6L1107 1422.2L1108 1422.8L1109 1422.5L1110 1422.7L1111 1422.3L1112 1422.4L1113 1422.5L1114 1422.3L1115 1422.9L1116 1422.3L1117 1422.4L1118 1423.8L1119 1422.8L1120 1422.7L1121 1422.9L1122 1422.7L1123 1422.3L1124 1422.9L1125 1422.9L1126 1422.6L1127 1423L1128 1422.8L1129 1422.1L1130 1422.4L1131 1422.8L1132 1423.1L1133 1422.7L1134 1423.4L1135 1422.6L1136 1422.7L1137 1422.9L1138 1423.2L1139 1422.6L1140 1422.2L1141 1422.5L1142 1422.8L1143 1422.9L1144 1422.6L1145 1423.2L1146 1422.6L1147 1423.2L1148 1423L1149 1422.6L1150 1423.3L1151 1422.8L1152 1422.8L1153 1423.1L1154 1422.9L1155 1423L1156 1423.2L1157 1422.5L1158 1422.8L1159 1422.2L1160 1422.4L1161 1422.7L1162 1422.3L1163 1422.3L1164 1421.4L1165 1421.5L1166 1421.5L1167 1422.1L1168 1422L1169 1422L1170 1421.9L1171 1422.2L1172 1423.2L1173 1422.5L1174 1421.8L1175 1422.1L1176 1422.5L1177 1422.3L1178 1421.9L1179 1421.8L1180 1421.3L1181 1421.6L1182 1420.8L1183 1420.1L1184 1418.4L1185 1416.2L1186 1412.2L1187 1407.4L1188 1403L1189 1399.9L1190 1399.6L1191 1402.5L1192 1406.7L1193 1411.2L1194 1415.2L1195 1418.6L1196 1419.8L1197 1420.8L1198 1421.2L1199 1421L1200 1421.8L1201 1422.4L1202 1423.3L1203 1422.5L1204 1422.4L1205 1422.1L1206 1422.6L1207 1422.7L1208 1422.9L1209 1422.4L1210 1422.9L1211 1422.3L1212 1422.2L1213 1422.7L1214 1422.7L1215 1423L1216 1422.3L1217 1422.9L1218 1421.9L1219 1421.8L1220 1421L1221 1420.4L1222 1418.4L1223 1415.2L1224 1410.5L1225 1407.1L1226 1406.3L1227 1408.6L1228 1412.6L1229 1416.6L1230 1419.2L1231 1420.6L1232 1421.7L1233 1422.6L1234 1422.2L1235 1422.7L1236 1422.5L1237 1422.6L1238 1423.3L1239 1423.1L1240 1422.7L1241 1423.1L1242 1423L1243 1423L1244 1422.3L1245 1423.6L1246 1423.2L1247 1423.4L1248 1423.5L1249 1423.2L1250 1423.4L1251 1423.2L1252 1422.5L1253 1423.3L1254 1423.6L1255 1422.9L1256 1422.6L1257 1423.7L1258 1422.4L1259 1423.5L1260 1423.2L1261 1423.6L1262 1423.4L1263 1423.7L1264 1423.1L1265 1422.8L1266 1423.3L1267 1423.4L1268 1423.5L1269 1422.9L1270 1423L1271 1423.4L1272 1423.1L1273 1423.4L1274 1423.3L1275 1423.4L1276 1423.2L1277 1423.1L1278 1423.8L1279 1423.1L1280 1423.1L1281 1423.1L1282 1423.7L1283 1423.5L1284 1423.1L1285 1423L1286 1423L1287 1423.9L1288 1423.8L1289 1423.5L1290 1423.4L1291 1423.4L1292 1422.9L1293 1422.9L1294 1422.5L1295 1423L1296 1422.5L1297 1423.3L1298 1423L1299 1422.8L1300 1422.8L1301 1423.1L1302 1423.5L1303 1422.8L1304 1422.9L1305 1422.9L1306 1423.1L1307 1422.9L1308 1424L1309 1423.2L1310 1423.2L1311 1424L1312 1423L1313 1422.7L1314 1423.7L1315 1423.4L1316 1422.9L1317 1423.2L1318 1423.4L1319 1423.6L1320 1423.2L1321 1424.1L1322 1423.1L1323 1423.3L1324 1424L1325 1422.5L1326 1423L1327 1423.1L1328 1422.5L1329 1423.1L1330 1423.6L1331 1423.1L1332 1423.2L1333 1422.2L1334 1423L1335 1422.5L1336 1422.3L1337 1422.2L1338 1421.2L1339 1420.4L1340 1417.7L1341 1414.4L1342 1411.2L1343 1407.8L1344 1408.1L1345 1410.7L1346 1414.5L1347 1417.7L1348 1419.1L1349 1421.4L1350 1422.5L1351 1422.6L1352 1423.2L1353 1422.3L1354 1423.2L1355 1423.6L1356 1423.2L1357 1422.7L1358 1423.7L1359 1423.5L1360 1423L1361 1423.4L1362 1423.1L1363 1423.3L1364 1423.5L1365 1424L1366 1423.8L1367 1423.3L1368 1423.4L1369 1423.1L1370 1423.3L1371 1423.4L1372 1422.5L1373 1421.3L1374 1420.3L1375 1419.4L1376 1418.5L1377 1417.9L1378 1418L1379 1418.9L1380 1419.8L1381 1421.1L1382 1421.6L1383 1422.4L1384 1423.5L1385 1423.1L1386 1422.9L1387 1423.6L1388 1423.5L1389 1424L1390 1423.1L1391 1423.5L1392 1423.9L1393 1423.7L1394 1423.7L1395 1422.9L1396 1422.5L1397 1421.9L1398 1421.3L1399 1420.3L1400 1421L1401 1421.3L1402 1421.5L1403 1421.6L1404 1422.9L1405 1423.4L1406 1422.9L1407 1423.8L1408 1423.1L1409 1423.8L1410 1424.1L1411 1424.1L1412 1424.1L1413 1424.3L1414 1424.2L1415 1423.9L1416 1424L1417 1424.8L1418 1424.3L1419 1423.6L1420 1424.8L1421 1424.7L1422 1424.3L1423 1424.2L1424 1423.9L1425 1423.4L1426 1423.4L1427 1423.8L1428 1424.4L1429 1424.2L1430 1424.1L1431 1424.1L1432 1424.3L1433 1424.3L1434 1424.5L1435 1424.2L1436 1424.1L1437 1424.4L1438 1423.2L1439 1423.7L1440 1423.9L1441 1423.7L1442 1424.5L1443 1424.3L1444 1424.4L1445 1424.2L1446 1423.3L1447 1423.8L1448 1423.8L1449 1424L1450 1423.8L1451 1424L1452 1424.2L1453 1423L1454 1423.6L1455 1423.6L1456 1423.1L1457 1422.6L1458 1423.1L1459 1421.5L1460 1419.4L1461 1418.2L1462 1415.7L1463 1412.3L1464 1411.3L1465 1411.6L1466 1414.6L1467 1417.1L1468 1419.3L1469 1421L1470 1422L1471 1422.7L1472 1423.8L1473 1423.6L1474 1424L1475 1423.7L1476 1423.6L1477 1423.7L1478 1424.3L1479 1424.5L1480 1424.2L1481 1424.4L1482 1424.7L1483 1424.6L1484 1424.4L1485 1423.9L1486 1423.9L1487 1424.2L1488 1424.5L1489 1424.4L1490 1424.7L1491 1424.3L1492 1424.4L1493 1424.2L1494 1423.7L1495 1424.5L1496 1424.3L1497 1424.3L1498 1424.4L1499 1424.8L1500 1424.2L1501 1423.8L1502 1424.1L1503 1424.3L1504 1424.4L1505 1423.8L1506 1424.4L1507 1423.7L1508 1423.9L1509 1423.7L1510 1423.4L1511 1423.6L1512 1423.5L1513 1422.7L1514 1423.4L1515 1422.4L1516 1422.5L1517 1423.1L1518 1424.1L1519 1424L1520 1424.3L1521 1423.9L1522 1424.1L1523 1423.6L1524 1424.3L1525 1424.8L1526 1424.3L1527 1424.3L1528 1424.7L1529 1424.8L1530 1424.8L1531 1424.6L1532 1424.8L1533 1424.9L1534 1424.1L1535 1423.9L1536 1424.5L1537 1423.6L1538 1423.9L1539 1424.9L1540 1424.7L1541 1424.9L1542 1424.1L1543 1424.4L1544 1424.8L1545 1424.6L1546 1424.3L1547 1424.7L1548 1425L1549 1424.6L1550 1424.5L1551 1424.2L1552 1424.4L1553 1424.9L1554 1424.8L1555 1424.1L1556 1424.4L1557 1424.9L1558 1424.4L1559 1424.5L1560 1425L1561 1424.6L1562 1424.9L1563 1424.7L1564 1425.4L1565 1424.9L1566 1424.2L1567 1425.2L1568 1424.7L1569 1424.9L1570 1424.9L1571 1425L1572 1423.9L1573 1424.9L1574 1424.3L1575 1424L1576 1424.3L1577 1424.4L1578 1424.6L1579 1425.2L1580 1424.6L1581 1424.4L1582 1424.2L1583 1424.6L1584 1424.7L1585 1424.2L1586 1424.8L1587 1424.6L1588 1424.1L1589 1424.2L1590 1424.1L1591 1424L1592 1424.4L1593 1423.1L1594 1422.6L1595 1421.5L1596 1420.4L1597 1419.3L1598 1418.8L1599 1418.3L1600 1420.4L1601 1421.5L1602 1422.6L1603 1423L1604 1423.6L1605 1423.4L1606 1424L1607 1423.9L1608 1424L1609 1424.1L1610 1424.7L1611 1424.3L1612 1424.7L1613 1424.3L1614 1424.8L1615 1424.7L1616 1425L1617 1424.9L1618 1424.9L1619 1424.8L1620 1424.1L1621 1424.6L1622 1424.9L1623 1424.8L1624 1424.4L1625 1425.2L1626 1424.9L1627 1424.3L1628 1424.4L1629 1425.3L1630 1424.7L1631 1424.6L1632 1424.3L1633 1424.2L1634 1424.8L1635 1424.5L1636 1423.8L1637 1425.1L1638 1424.3L1639 1424.5L1640 1425L1641 1424.6L1642 1424.9L1643 1424.9L1644 1424.2L1645 1424.5L1646 1425.2L1647 1425.2L1648 1424.2L1649 1424.8L1650 1424.1L1651 1424.5L1652 1424.6L1653 1424.7L1654 1424.3L1655 1424.7L1656 1424.3L1657 1424.8L1658 1425L1659 1424.8L1660 1424.7L1661 1424.5L1662 1424.3L1663 1425.2L1664 1424.6L1665 1424.8L1666 1424.4L1667 1424.5L1668 1424.5L1669 1424.1L1670 1424.4L1671 1424.7L1672 1424.2L1673 1424.5L1674 1424.9L1675 1424.4L1676 1424.9L1677 1425.4L1678 1425L1679 1425.3L1680 1425.1L1681 1424.4L1682 1425L1683 1424.8L1684 1425L1685 1425.1L1686 1425.5L1687 1424.8L1688 1424.9L1689 1424.3L1690 1424.3L1691 1424.8L1692 1424.6L1693 1424.7L1694 1425.1L1695 1425.1L1696 1424.1L1697 1424.8L1698 1424.9L1699 1424.5L1700 1424.9L1701 1424.1L1702 1425.1L1703 1424.9L1704 1424.6L1705 1424.4L1706 1424.7L1707 1424.7L1708 1424.9L1709 1424.7L1710 1424.6L1711 1424.9L1712 1425L1713 1424.9L1714 1424.2L1715 1424.6L1716 1424.4L1717 1423.7L1718 1424.7L1719 1425.2L1720 1424.3L1721 1424.2L1722 1424.9L1723 1424.7L1724 1425L1725 1424.3L1726 1425.1L1727 1424.1L1728 1424.1L1729 1424.4L1730 1424.3L1731 1425.2L1732 1424.7L1733 1424.5L1734 1424.6L1735 1424.4L1736 1424.6L1737 1423.8L1738 1424.4L1739 1423.9L1740 1423.1L1741 1422.1L1742 1420.8L1743 1420.4L1744 1418.6L1745 1417.2L1746 1416L1747 1415.7L1748 1416.7L1749 1417.6L1750 1419.9L1751 1421L1752 1421.6L1753 1422.6L1754 1423.7L1755 1423.9L1756 1423.5L1757 1424.1L1758 1423.6L1759 1423.7L1760 1423.3L1761 1423.2L1762 1423.6L1763 1424.3L1764 1423.3L1765 1423.5L1766 1423.4L1767 1422.8L1768 1421.2L1769 1418.1L1770 1414.1L1771 1407.9L1772 1400.6L1773 1395.4L1774 1395L1775 1401L1776 1407.7L1777 1412.8L1778 1414.5L1779 1413.1L1780 1411.2L1781 1410.7L1782 1414.1L1783 1417.8L1784 1421.3L1785 1421.5L1786 1423.6L1787 1423.2L1788 1424.3L1789 1424.1L1790 1424L1791 1423.8L1792 1424.8L1793 1424.5L1794 1424.4L1795 1424.8L1796 1425L1797 1424.8L1798 1424.6L1799 1424.3L1800 1424.4L1801 1424.5L1802 1424.7L1803 1424.5L1804 1424.8L1805 1424.4L1806 1424.1L1807 1424.1L1808 1424L1809 1423.7L1810 1423.2L1811 1423.8L1812 1423.2L1813 1422.7L1814 1423L1815 1423.3L1816 1424.1L1817 1423.9L1818 1424.6L1819 1424.4L1820 1424.9L1821 1424.7L1822 1424.9L1823 1424.6L1824 1425.4L1825 1425.1L1826 1424.7L1827 1425.5L1828 1424.9L1829 1425.1L1830 1424.7L1831 1425.2L1832 1425.9L1833 1424.4L1834 1424.9L1835 1425L1836 1425.1L1837 1425L1838 1424.9L1839 1425.1L1840 1424.9L1841 1425L1842 1424.9L1843 1425.8L1844 1424.6L1845 1424.4L1846 1425.4L1847 1425.2L1848 1425L1849 1425.5L1850 1425.3L1851 1424.7L1852 1425L1853 1425.3L1854 1425.3L1855 1424.9L1856 1425.7L1857 1425.2L1858 1425.2L1859 1424.7L1860 1424.9L1861 1424.4L1862 1425.1L1863 1424.6L1864 1425.2L1865 1425.2L1866 1425.3L1867 1424.8L1868 1424.8L1869 1424.9L1870 1425.4L1871 1425.4L1872 1425.2L1873 1425.3L1874 1424.8L1875 1425L1876 1425.2L1877 1425.5L1878 1424.8L1879 1425L1880 1425L1881 1425.6L1882 1424.3L1883 1425.1L1884 1424.6L1885 1425.1L1886 1425.1L1887 1424.8L1888 1425.1L1889 1425.1L1890 1424.8L1891 1425L1892 1425L1893 1424.8L1894 1425.1L1895 1425.6L1896 1425.5L1897 1424.5L1898 1425.5L1899 1424.9L1900 1425.9L1901 1424.9L1902 1425.8L1903 1425.2L1904 1425.2L1905 1425L1906 1425.4L1907 1424.8L1908 1424.9L1909 1425.2L1910 1424.8L1911 1425.6L1912 1424.8L1913 1424.9L1914 1424.9L1915 1425.2L1916 1425.1L1917 1424.7L1918 1424.1L1919 1424.5L1920 1423.9L1921 1424.7L1922 1424.9L1923 1424.2L1924 1422.9L1925 1422.7L1926 1421.1L1927 1419.6L1928 1417.9L1929 1416.9L1930 1415.2L1931 1415.6L1932 1416L1933 1416.6L1934 1418.7L1935 1420.1L1936 1422L1937 1422.1L1938 1422.9L1939 1424.4L1940 1424.1L1941 1424.2L1942 1424L1943 1425.1L1944 1424L1945 1424.8L1946 1424.7L1947 1425.1L1948 1424.7L1949 1424.7L1950 1424.6L1951 1424.6L1952 1424.8L1953 1424.9L1954 1424.6L1955 1424.6L1956 1423.9L1957 1424.2L1958 1423.3L1959 1422.7L1960 1422.1L1961 1420.6L1962 1417.8L1963 1416.8L1964 1416.5L1965 1417.3L1966 1419.5L1967 1421.1L1968 1422.7L1969 1423.6L1970 1423.7L1971 1424.9L1972 1424.9L1973 1424.8L1974 1424.3L1975 1425.2L1976 1424.4L1977 1424.2L1978 1423.2L1979 1423.3L1980 1423.1L1981 1422L1982 1422.1L1983 1422.1L1984 1423.1L1985 1423.9L1986 1423.9L1987 1424.5L1988 1424.9L1989 1424.9L1990 1425.1L1991 1425.1L1992 1425.6L1993 1424.7L1994 1425.3L1995 1425.4L1996 1425L1997 1425.4L1998 1425.3L1999 1424.8L2000 1424.6L2001 1424.8L2002 1425L2003 1424.7L2004 1426.1L2005 1424.9L2006 1425L2007 1424.9L2008 1425.1L2009 1425.7L2010 1425.2L2011 1425.2L2012 1425.3L2013 1425L2014 1424.8L2015 1425.2L2016 1425.9L2017 1425.6L2018 1424.6L2019 1425.2L2020 1425.1L2021 1425.6L2022 1425.6L2023 1425.2L2024 1424.8L2025 1425.7L2026 1426L2027 1425.4L2028 1425.5L2029 1425L2030 1425.8L2031 1424.6L2032 1425.6L2033 1425.5L2034 1425.8L2035 1425.5L2036 1425.3L2037 1424.7L2038 1425.7L2039 1425.4L2040 1425.5L2041 1425.4L2042 1424.8L2043 1424.3L2044 1425.2L2045 1425L2046 1425.6L2047 1425.2L2048 1425.8L2049 1425.8L2050 1425.1L2051 1425L2052 1425.1L2053 1424.8L2054 1424.7L2055 1424.9L2056 1424.1L2057 1425.5L2058 1425L2059 1424.7L2060 1424.6L2061 1425.5L2062 1424.8L2063 1425.3L2064 1424.3L2065 1424.8L2066 1424.4L2067 1424.8L2068 1424.8L2069 1424.4L2070 1424.6L2071 1424.7L2072 1424.3L2073 1423.7L2074 1424.2L2075 1424L2076 1423.7L2077 1423.4L2078 1424L2079 1423.1L2080 1423.7L2081 1423.5L2082 1424.1L2083 1424.5L2084 1424.6L2085 1424.3L2086 1424.9L2087 1424.4L2088 1424.1L2089 1425.4L2090 1425.1L2091 1425.3L2092 1425.3L2093 1425.1L2094 1425.2L2095 1425.2L2096 1425.7L2097 1425.5L2098 1425.4L2099 1425L2100 1425.7L2101 1425.4L2102 1425.6L2103 1425.4L2104 1425L2105 1424.9L2106 1425.3L2107 1425.4L2108 1425L2109 1425.6L2110 1425.5L2111 1425.4L2112 1424.9L2113 1425.7L2114 1425.7L2115 1425.8L2116 1425.2L2117 1425.5L2118 1425.2L2119 1425.8L2120 1425.7L2121 1425.2L2122 1425.2L2123 1425.5L2124 1425.5L2125 1426.1L2126 1425.7L2127 1425.1L2128 1425.1L2129 1424.9L2130 1425.5L2131 1425.1L2132 1425.5L2133 1425L2134 1425.2L2135 1425.1L2136 1425.5L2137 1425.4L2138 1425.4L2139 1425.2L2140 1425.3L2141 1425.5L2142 1425.8L2143 1424.9L2144 1425.8L2145 1425.8L2146 1425.4L2147 1425.7L2148 1425.5L2149 1426L2150 1425.6L2151 1425.7L2152 1425.2L2153 1425.5L2154 1425.2L2155 1425.6L2156 1425.3L2157 1425.6L2158 1425.3L2159 1425.3L2160 1425.2L2161 1425.8L2162 1424.5L2163 1424.3L2164 1423L2165 1419.7L2166 1412.9L2167 1399"/>
<path class="m" stroke="#4196D2" d="M826.20 1335.1L828.50 1323.1L830.80 1335.1"/>
<path class="c" stroke="#FF6400" d="M161 1519.9L162 1520L163 1519.7L164 1519.9L165 1519.3L166 1520.1L167 1520L168 1520.5L169 1519.4L170 1519.8L171 1520.3L172 1519.8L173 1520.1L174 1520.1L175 1519.9L176 1519.5L177 1520.2L178 1520L179 1519.5L180 1519.7L181 1519.7L182 1519.6L183 1519L184 1519.7L185 1520.4L186 1519.7L187 1520.3L188 1519.7L189 1519.8L190 1520L191 1519.7L192 1519.6L193 1520.2L194 1519L195 1520.1L196 1519.7L197 1519.2L198 1519.3L199 1520.2L200 1519.8L201 1519.5L202 1519.6L203 1519.3L204 1519L205 1519.4L206 1519.8L207 1519.4L208 1519.5L209 1519.4L210 1519.2L211 1518.2L212 1519.2L213 1519.3L214 1519L215 1518.5L216 1518.5L217 1519.2L218 1518.1L219 1518.7L220 1518.5L221 1518.3L222 1518.2L223 1518.8L224 1517.3L225 1518.2L226 1517.1L227 1518.3L228 1517.6L229 1516.7L230 1516.9L231 1516.6L232 1516.1L233 1515.8L234 1515.2L235 1515.3L236 1514.2L237 1514.2L238 1513L239 1511.1L240 1510.3L241 1509.4L242 1507.5L243 1505.8L244 1503.5L245 1501.2L246 1499L247 1495.8L248 1491.8L249 1489.3L250 1486.8L251 1483.6L252 1481.8L253 1480.4L254 1479.6L255 1479.9L256 1481.5L257 1484L258 1487.2L259 1490.2L260 1493.8L261 1496.5L262 1499.1L263 1501.6L264 1504L265 1506.3L266 1507.8L267 1509.8L268 1510.9L269 1512L270 1512.7L271 1513.3L272 1515L273 1514.9L274 1515.6L275 1516.1L276 1516.4L277 1517.5L278 1517.9L279 1517.6L280 1517.5L281 1518.8L282 1518.4L283 1518.1L284 1519L285 1519.2L286 1519.2L287 1519.2L288 1519.1L289 1520L290 1519.6L291 1519.6L292 1519.3L293 1520.1L294 1520L295 1519.7L296 1520L297 1519.9L298 1520.5L299 1520L300 1520.9L301 1519.8L302 1520.6L303 1520.5L304 1520.7L305 1520.4L306 1520.6L307 1520.5L308 1520.6L309 1520.4L310 1520.1L311 1519.4L312 1519.4L313 1518L314 1517.9L315 1518L316 1518.6L317 1520.2L318 1521L319 1521.2L320 1521L321 1520.1L322 1520.8L323 1520.7L324 1521L325 1521.2L326 1521.6L327 1520.8L328 1521L329 1521.4L330 1521.2L331 1521L332 1521L333 1521L334 1520.9L335 1521.5L336 1521.3L337 1521.4L338 1521L339 1521.1L340 1521.7L341 1521.3L342 1521.2L343 1521.5L344 1521.6L345 1521.4L346 1521.7L347 1521.9L348 1522.1L349 1522.4L350 1521.3L351 1521.6L352 1521.5L353 1521.7L354 1521L355 1521.7L356 1520.6L357 1521.6L358 1522L359 1521.7L360 1521.8L361 1521.6L362 1521.8L363 1521L364 1520.9L365 1522.3L366 1522.1L367 1521.6L368 1521.8L369 1521.7L370 1521.6L371 1521.6L372 1522.1L373 1521.3L374 1521.3L375 1521.7L376 1521.9L377 1521.6L378 1522.1L379 1521.9L380 1521.6L381 1521.5L382 1521.4L383 1522.1L384 1521.6L385 1521.2L386 1521.6L387 1521.4L388 1521.8L389 1521.6L390 1521.4L391 1521.3L392 1520.7L393 1521.9L394 1521.3L395 1522.2L396 1521.7L397 1521.4L398 1522L399 1521.8L400 1521.7L401 1522.5L402 1521.4L403 1521.9L404 1521.5L405 1522.2L406 1521.3L407 1521.8L408 1521.8L409 1522.1L410 1521.6L411 1522.1L412 1522L413 1521.8L414 1521.9L415 1522.3L416 1522.2L417 1521.7L418 1521.8L419 1521.3L420 1521.8L421 1521.8L422 1521.5L423 1521.7L424 1521.8L425 1521.4L426 1522L427 1521.7L428 1522L429 1522.5L430 1521.2L431 1521.9L432 1521.7L433 1521.8L434 1521.9L435 1522.1L436 1521.8L437 1521.9L438 1521.8L439 1521.8L440 1522L441 1521.4L442 1522.5L443 1522L444 1521.9L445 1521.5L446 1521.8L447 1522L448 1521.5L449 1521.1L450 1522.4L451 1521.7L452 1521.5L453 1522.9L454 1521.8L455 1522.1L456 1521.2L457 1521.4L458 1521.7L459 1520.6L460 1521.2L461 1521.6L462 1521L463 1520.2L464 1521.2L465 1520.8L466 1521.6L467 1521L468 1521.6L469 1521.2L470 1521.5L471 1521.9L472 1521.3L473 1522L474 1521L475 1521.5L476 1521.8L477 1521.9L478 1521.6L479 1522.1L480 1521.6L481 1522L482 1522.1L483 1521.9L484 1522.1L485 1522.5L486 1521.7L487 1521.2L488 1521.9L489 1521.8L490 1522.4L491 1522.2L492 1521.8L493 1521.7L494 1521.5L495 1521.4L496 1521.4L497 1521.6L498 1521.8L499 1522L500 1521.4L501 1522.4L502 1522.1L503 1522.1L504 1521.8L505 1521.9L506 1522.3L507 1521.8L508 1522.1L509 1521.9L510 1521.6L511 1521.8L512 1521.6L513 1521.7L514 1522L515 1521.7L516 1521.9L517 1521.9L518 1522.6L519 1521.9L520 1522L521 1521.7L522 1521.7L523 1521.7L524 1522.1L525 1521.6L526 1521.3L527 1522.4L528 1521.5L529 1522L530 1522.4L531 1521.2L532 1521.3L533 1521.9L534 1521.1L535 1521.7L536 1521.7L537 1521.8L538 1522.4L539 1521.6L540 1522L541 1521.8L542 1521.7L543 1522.2L544 1521.5L545 1520.7L546 1521.3L547 1521.1L548 1521.1L549 1520.1L550 1519.5L551 1520L552 1519.7L553 1518.9L554 1518.6L555 1517.6L556 1518.2L557 1518.1L558 1518.8L559 1518.6L560 1519.2L561 1519.2L562 1520.7L563 1520.3L564 1520.8L565 1520.5L566 1520.8L567 1521.5L568 1521.6L569 1520.6L570 1521.4L571 1521.9L572 1521.5L573 1521.2L574 1521.2L575 1521.9L576 1521.1L577 1521L578 1521.5L579 1521.1L580 1521.4L581 1521.4L582 1520.6L583 1521.5L584 1521.5L585 1521.3L586 1520.7L587 1520.7L588 1520.9L589 1519.7L590 1519.4L591 1518.1L592 1516.3L593 1509.4L594 1487.6L595 1454.1L596 1444.8L597 1475.7L598 1503.4L599 1514.6L600 1517.2L601 1520.1L602 1520.2L603 1520L604 1520.8L605 1521.1L606 1520.8L607 1521.7L608 1520.6L609 1521.6L610 1521.9L611 1521.1L612 1521L613 1521.1L614 1521.8L615 1521.3L616 1521.4L617 1521.9L618 1521.7L619 1522L620 1521.5L621 1521.8L622 1521.7L623 1521.9L624 1521.5L625 1522L626 1522L627 1521.7L628 1521.2L629 1521.9L630 1521.7L631 1521.6L632 1521.3L633 1521.1L634 1521.7L635 1521.5L636 1521.4L637 1522L638 1521.8L639 1521.2L640 1520.7L641 1520.5L642 1519.8L643 1519.7L644 1520.1L645 1520.9L646 1520.6L647 1521L648 1520.9L649 1520.9L650 1522.2L651 1521L652 1520.9L653 1521.8L654 1521.8L655 1521.6L656 1521.9L657 1521.8L658 1521.7L659 1520.9L660 1522.5L661 1521.7L662 1521.9L663 1521.6L664 1522.1L665 1521.4L666 1521.8L667 1521.5L668 1521.6L669 1522.4L670 1522L671 1521.3L672 1521.4L673 1521.9L674 1521.5L675 1521L676 1522.1L677 1521.3L678 1521.5L679 1521.5L680 1521.4L681 1521L682 1520.6L683 1520.5L684 1521.1L685 1520.6L686 1520.8L687 1521L688 1521.1L689 1521.8L690 1521.1L691 1521.5L692 1521L693 1522L694 1520.9L695 1520.8L696 1521.2L697 1520.9L698 1521.2L699 1521.8L700 1520.5L701 1521L702 1520.3L703 1521L704 1519.6L705 1520.2L706 1520.2L707 1520.9L708 1521.2L709 1520.7L710 1520.8L711 1520.9L712 1520.7L713 1520.9L714 1520.6L715 1520.7L716 1520.6L717 1520L718 1520.6L719 1520.1L720 1519.9L721 1519.3L722 1518.5L723 1518L724 1516.8L725 1515.7L726 1512.7L727 1511L728 1510.1L729 1509.7L730 1509.9L731 1511.8L732 1513.2L733 1515.5L734 1516.6L735 1516.8L736 1517.6L737 1518.7L738 1518.9L739 1518.4L740 1518.6L741 1518.6L742 1518.3L743 1517.6L744 1516.9L745 1517.1L746 1515.9L747 1514.8L748 1514.8L749 1513.7L750 1512L751 1511L752 1509L753 1507.5L754 1505.6L755 1503L756 1501.1L757 1498.9L758 1497.9L759 1497L760 1497.1L761 1497.8L762 1499.9L763 1502L764 1504.6L765 1505.4L766 1507.3L767 1509.7L768 1511L769 1512.3L770 1513.6L771 1514.9L772 1515.5L773 1517.6L774 1516.7L775 1517.3L776 1517.7L777 1518.6L778 1518.9L779 1519.3L780 1519.8L781 1519.8L782 1519.7L783 1518.9L784 1519.8L785 1519.9L786 1520.1L787 1519.8L788 1520.1L789 1520.3L790 1520.9L791 1520.1L792 1521L793 1520.1L794 1521.1L795 1520.1L796 1520.4L797 1520.9L798 1520.9L799 1520.8L800 1520.9L801 1520.3L802 1520.2L803 1520.2L804 1520.9L805 1520.2L806 1521.1L807 1521.2L808 1521.1L809 1520.4L810 1520.7L811 1520.1L812 1519.7L813 1520L814 1520.1L815 1519.4L816 1519.4L817 1518.4L818 1518.5L819 1517L820 1516.4L821 1514L822 1511.3L823 1507.3L824 1501.7L825 1491.2L826.2 1418.4L828.5 1406.5L830.8 1418.6L832 1491.7L833 1502.1L834 1507.8L835 1511.9L836 1514.7L837 1515.7L838 1517.8L839 1519L840 1520.3L841 1519.5L842 1520.5L843 1521.1L844 1521.2L845 1521.4L846 1521.8L847 1522.1L848 1522.1L849 1522L850 1522.2L851 1521.7L852 1522.1L853 1522.2L854 1522.2L855 1522.9L856 1522.4L857 1523.2L858 1522.6L859 1522.7L860 1521.8L861 1521.8L862 1522.1L863 1522.5L864 1522.2L865 1523.2L866 1522.6L867 1523.2L868 1521.6L869 1522.1L870 1521L871 1520.3L872 1520.1L873 1519.4L874 1520.2L875 1519.4L876 1514.8L877 1500.3L878 1478.2L879 1467.4L880 1467.2L881 1467.8L882 1480.2L883 1501.7L884 1516.1L885 1519.8L886 1520.1L887 1521.6L888 1522L889 1523.2L890 1523.3L891 1522.3L892 1523L893 1523.1L894 1522.8L895 1522.9L896 1523.6L897 1524L898 1524.7L899 1524.2L900 1524.6L901 1525L902 1525L903 1525.2L904 1525.6L905 1525L906 1525.5L907 1524.6L908 1525.1L909 1525.5L910 1525L911 1525.9L912 1525.1L913 1525.9L914 1526.2L915 1525.8L916 1525.5L917 1525.8L918 1525.8L919 1526.1L920 1526.2L921 1525.9L922 1526.2L923 1525.9L924 1525.9L925 1525.7L926 1525.7L927 1525.7L928 1525.7L929 1526.2L930 1525.7L931 1526.2L932 1525.8L933 1525.2L934 1526.4L935 1525.8L936 1525.8L937 1525.6L938 1525.9L939 1525.5L940 1525.8L941 1525.4L942 1525.4L943 1525.9L944 1525.5L945 1525.7L946 1526L947 1525.7L948 1525.4L949 1526.1L950 1525.7L951 1525.9L952 1526L953 1526.3L954 1526.1L955 1526.2L956 1525.6L957 1525.6L958 1526L959 1526L960 1526.5L961 1526L962 1525.6L963 1525.3L964 1525.1L965 1525.8L966 1524.6L967 1524.4L968 1524.3L969 1524.9L970 1525L971 1524.8L972 1525.9L973 1525.4L974 1525.7L975 1525.4L976 1526L977 1524.8L978 1524.9L979 1525L980 1524.4L981 1524.2L982 1523.5L983 1523.7L984 1523.9L985 1524.1L986 1525.1L987 1525L988 1525.3L989 1525.3L990 1525.7L991 1526L992 1526.3L993 1525.3L994 1526.4L995 1526.1L996 1525.7L997 1526.2L998 1526.4L999 1525.6L1000 1525.6L1001 1526.1L1002 1525.9L1003 1526.2L1004 1526L1005 1526.9L1006 1525.4L1007 1527.2L1008 1526.6L1009 1525.9L1010 1525.6L1011 1525.9L1012 1525.6L1013 1525.3L1014 1525.2L1015 1525L1016 1525.4L1017 1525.6L1018 1525.9L1019 1526.2L1020 1525.8L1021 1526.2L1022 1525.7L1023 1526L1024 1525.5L1025 1525.8L1026 1526.4L1027 1525.8L1028 1526.1L1029 1526.5L1030 1525.8L1031 1525.6L1032 1526.1L1033 1526.2L1034 1526.1L1035 1526.5L1036 1525.8L1037 1526L1038 1526.2L1039 1525.5L1040 1526.2L1041 1526.6L1042 1526.6L1043 1526L1044 1525.8L1045 1526.1L1046 1526.2L1047 1525.8L1048 1526.4L1049 1526.1L1050 1526.4L1051 1526L1052 1525.9L1053 1525.6L1054 1525.9L1055 1526.7L1056 1526.4L1057 1525.9L1058 1525.8L1059 1526.7L1060 1526.3L1061 1526.3L1062 1526L1063 1526.2L1064 1525.6L1065 1526L1066 1526.2L1067 1525.6L1068 1525.6L1069 1526.1L1070 1526.2L1071 1525.7L1072 1525.9L1073 1526.1L1074 1525.8L1075 1525.8L1076 1524.9L1077 1525L1078 1525.9L1079 1525L1080 1525.5L1081 1524.3L1082 1525.1L1083 1524.7L1084 1524L1085 1522.4L1086 1519.4L1087 1514.9L1088 1508.9L1089 1502.4L1090 1496.3L1091 1495.7L1092 1499.7L1093 1506.5L1094 1513.1L1095 1518.6L1096 1522.2L1097 1523.3L1098 1524.6L1099 1524.9L1100 1525.5L1101 1525.7L1102 1525.1L1103 1525.6L1104 1525.8L1105 1526.1L1106 1525.5L1107 1525.9L1108 1526.1L1109 1525.8L1110 1526.4L1111 1526.4L1112 1526.1L1113 1525.5L1114 1526.6L1115 1526.4L1116 1526.1L1117 1526.3L1118 1525.8L1119 1526.1L1120 1526.6L1121 1525.8L1122 1525.8L1123 1525.7L1124 1526.4L1125 1526.2L1126 1526.6L1127 1526L1128 1526.6L1129 1526.5L1130 1526.2L1131 1526.1L1132 1526.2L1133 1526.5L1134 1526.4L1135 1525.9L1136 1526.9L1137 1526.2L1138 1526.1L1139 1526.3L1140 1525.9L1141 1526.7L1142 1526.2L1143 1527L1144 1526.1L1145 1526.6L1146 1526.3L1147 1527.2L1148 1526.1L1149 1525.9L1150 1526.2L1151 1525.4L1152 1526L1153 1526.7L1154 1526.5L1155 1525.6L1156 1526.3L1157 1526.1L1158 1525.4L1159 1525.5L1160 1525.2L1161 1524.6L1162 1524.1L1163 1523.5L1164 1523.7L1165 1523.2L1166 1523.2L1167 1522.7L1168 1523.7L1169 1523.6L1170 1524.8L1171 1525.1L1172 1525.5L1173 1525.1L1174 1525.1L1175 1525.2L1176 1525.6L1177 1525.8L1178 1525.5L1179 1524.7L1180 1524.6L1181 1524.9L1182 1523.9L1183 1523.3L1184 1521.9L1185 1519.3L1186 1515.4L1187 1511.1L1188 1506.4L1189 1503.8L1190 1503.6L1191 1506.1L1192 1510.4L1193 1515L1194 1517.9L1195 1521.3L1196 1523.3L1197 1523.9L1198 1524.6L1199 1525.1L1200 1525.2L1201 1525.5L1202 1525.9L1203 1525.4L1204 1526L1205 1525.9L1206 1526.4L1207 1525.8L1208 1526.2L1209 1526.1L1210 1526.7L1211 1524.9L1212 1525.9L1213 1526.5L1214 1525.9L1215 1526.1L1216 1525.4L1217 1525.9L1218 1525.3L1219 1525.4L1220 1525.2L1221 1523.6L1222 1520.1L1223 1516.9L1224 1512.6L1225 1508L1226 1507L1227 1509.5L1228 1515.2L1229 1518.7L1230 1522.6L1231 1523.6L1232 1524.7L1233 1525.1L1234 1525.5L1235 1526L1236 1525.9L1237 1526.1L1238 1526.5L1239 1526.3L1240 1526.3L1241 1526.2L1242 1526.6L1243 1526.4L1244 1526.6L1245 1526.3L1246 1526.3L1247 1526.9L1248 1526.7L1249 1527L1250 1526.3L1251 1527.1L1252 1526.2L1253 1527.3L1254 1526L1255 1526.9L1256 1526.5L1257 1526.5L1258 1527.2L1259 1527.1L1260 1526.9L1261 1527.4L1262 1527.1L1263 1525.8L1264 1526.2L1265 1526.4L1266 1526.8L1267 1527.2L1268 1526.8L1269 1526.5L1270 1526.7L1271 1526.9L1272 1526.6L1273 1526.3L1274 1526.9L1275 1527.2L1276 1526.9L1277 1526.4L1278 1526.3L1279 1526.9L1280 1526.7L1281 1526.7L1282 1526.6L1283 1526.1L1284 1526L1285 1526.6L1286 1526.6L1287 1526.6L1288 1526.4L1289 1526.1L1290 1526.1L1291 1525.6L1292 1525.8L1293 1525L1294 1525.2L1295 1525.2L1296 1525.1L1297 1525.1L1298 1524.7L1299 1523.8L1300 1524.1L1301 1524L1302 1523.5L1303 1524.1L1304 1524.1L1305 1525L1306 1525.1L1307 1525L1308 1525.8L1309 1526.2L1310 1525.2L1311 1525.7L1312 1526L1313 1525.2L1314 1526.5L1315 1526.8L1316 1526.5L1317 1525.8L1318 1526.7L1319 1526.7L1320 1526.7L1321 1526.9L1322 1526.2L1323 1527.1L1324 1525.7L1325 1526.7L1326 1526.3L1327 1526.3L1328 1526.3L1329 1526.4L1330 1526.9L1331 1525.9L1332 1526.7L1333 1526.6L1334 1525.4L1335 1526L1336 1526L1337 1525.4L1338 1524L1339 1521.9L1340 1519.5L1341 1515.1L1342 1510.8L1343 1507.5L1344 1507.1L1345 1510.6L1346 1514.3L1347 1518.5L1348 1521.9L1349 1524.4L1350 1524.6L1351 1525.1L1352 1525.4L1353 1526.7L1354 1526.5L1355 1526.4L1356 1526.9L1357 1526.6L1358 1526.4L1359 1526.5L1360 1526.5L1361 1527.2L1362 1526.7L1363 1526.9L1364 1526.4L1365 1526.4L1366 1526.5L1367 1526.7L1368 1525.5L1369 1525.7L1370 1526.3L1371 1525.7L1372 1525.7L1373 1524.3L1374 1522.3L1375 1521.4L1376 1520.3L1377 1519.7L1378 1520.6L1379 1522.1L1380 1522.5L1381 1524.6L1382 1525.1L1383 1526.4L1384 1526.1L1385 1526.6L1386 1526.6L1387 1527.6L1388 1527L1389 1527.2L1390 1527.2L1391 1526.6L1392 1527.1L1393 1527.2L1394 1526.2L1395 1525.8L1396 1525.4L1397 1524.1L1398 1524.6L1399 1523.3L1400 1522.5L1401 1523.4L1402 1523.5L1403 1524.3L1404 1525.9L1405 1525.7L1406 1526.8L1407 1526.8L1408 1527.4L1409 1526.9L1410 1526.7L1411 1527.1L1412 1527.3L1413 1527.3L1414 1527.8L1415 1527.5L1416 1527.4L1417 1526.8L1418 1526.7L1419 1527.4L1420 1526.9L1421 1527.2L1422 1527.2L1423 1527.1L1424 1527.5L1425 1527.5L1426 1527.6L1427 1527.1L1428 1527.3L1429 1527.1L1430 1527.4L1431 1527.4L1432 1527.9L1433 1527.5L1434 1527.9L1435 1527.3L1436 1527.3L1437 1527.1L1438 1527.1L1439 1528L1440 1527.1L1441 1527.1L1442 1527.4L1443 1527.2L1444 1527.1L1445 1527.1L1446 1527.5L1447 1527.4L1448 1527.5L1449 1527.2L1450 1526.5L1451 1526.8L1452 1526.3L1453 1526.3L1454 1526.7L1455 1526.7L1456 1526.4L1457 1525.8L1458 1524.3L1459 1523.1L1460 1521.5L1461 1518.4L1462 1514.4L1463 1510.9L1464 1508.6L1465 1509L1466 1513.3L1467 1516.6L1468 1520.4L1469 1523.1L1470 1524L1471 1525.9L1472 1525.6L1473 1526.8L1474 1526.4L1475 1527L1476 1526.8L1477 1527L1478 1527.3L1479 1527L1480 1527.7L1481 1527L1482 1527.9L1483 1527.5L1484 1527.1L1485 1527.8L1486 1527.3L1487 1527.1L1488 1527.8L1489 1527.8L1490 1527L1491 1528L1492 1527.4L1493 1527.4L1494 1527.3L1495 1527.9L1496 1527.2L1497 1527.4L1498 1528L1499 1527.6L1500 1527.2L1501 1527.7L1502 1527.7L1503 1527.8L1504 1527.3L1505 1527.6L1506 1527.5L1507 1527.5L1508 1527.2L1509 1527.4L1510 1527.1L1511 1526.7L1512 1526.3L1513 1526.7L1514 1526.3L1515 1527.1L1516 1525.9L1517 1527.3L1518 1527.4L1519 1527.7L1520 1526.9L1521 1527.9L1522 1528.1L1523 1527.8L1524 1527.5L1525 1527.3L1526 1527.8L1527 1527.9L1528 1527.5L1529 1527.4L1530 1527.7L1531 1527.2L1532 1527.6L1533 1527.5L1534 1527.8L1535 1527.1L1536 1528.1L1537 1527.3L1538 1527.5L1539 1527.5L1540 1527.8L1541 1527.7L1542 1528L1543 1528L1544 1527.9L1545 1527.4L1546 1527.8L1547 1528.4L1548 1527.8L1549 1528.4L1550 1527.9L1551 1527.5L1552 1527.9L1553 1528.2L1554 1527.4L1555 1527.8L1556 1528.2L1557 1527.5L1558 1527.6L1559 1527.8L1560 1527.5L1561 1528.3L1562 1527.5L1563 1528.1L1564 1527.3L1565 1528.1L1566 1528L1567 1527.8L1568 1527.4L1569 1526.9L1570 1527.2L1571 1527.5L1572 1527.6L1573 1527.4L1574 1528.3L1575 1527.6L1576 1527.7L1577 1527.8L1578 1528.2L1579 1528L1580 1527.3L1581 1527.4L1582 1527.9L1583 1528.2L1584 1528.5L1585 1527.2L1586 1527.4L1587 1527.4L1588 1528L1589 1527.8L1590 1527.2L1591 1527.1L1592 1526.6L1593 1525.9L1594 1526.3L1595 1524.5L1596 1522.4L1597 1522.3L1598 1520.7L1599 1521.2L1600 1522.8L1601 1524.1L1602 1525.9L1603 1526.6L1604 1527L1605 1527.6L1606 1527.4L1607 1527.4L1608 1528.3L1609 1527.5L1610 1527.6L1611 1527.8L1612 1527.3L1613 1528.2L1614 1527.8L1615 1527.5L1616 1528.4L1617 1527.6L1618 1527.3L1619 1528.3L1620 1527.9L1621 1527.8L1622 1527.6L1623 1527.9L1624 1527.4L1625 1527.5L1626 1527.2L1627 1528.1L1628 1527.7L1629 1528.4L1630 1527.5L1631 1527.5L1632 1527.8L1633 1527.4L1634 1527.7L1635 1528.6L1636 1527.8L1637 1527.6L1638 1527.3L1639 1528L1640 1528.1L1641 1527.4L1642 1527.9L1643 1527.5L1644 1527.8L1645 1528.5L1646 1527.6L1647 1527.7L1648 1527.8L1649 1528L1650 1527.2L1651 1527.5L1652 1527.8L1653 1528L1654 1528.1L1655 1528.4L1656 1527.7L1657 1528.5L1658 1528.1L1659 1528.1L1660 1527.6L1661 1527.9L1662 1527.9L1663 1528.4L1664 1528.3L1665 1528L1666 1527.9L1667 1527.4L1668 1528.2L1669 1527.8L1670 1528L1671 1528.3L1672 1527.9L1673 1527.9L1674 1528.1L1675 1527.6L1676 1527.8L1677 1528.1L1678 1527.6L1679 1527.7L1680 1527.9L1681 1527.6L1682 1527.4L1683 1527.5L1684 1528.1L1685 1528L1686 1527.9L1687 1527.8L1688 1527.9L1689 1527.7L1690 1527.7L1691 1528.2L1692 1528L1693 1527.8L1694 1528.5L1695 1528.5L1696 1528.3L1697 1527.6L1698 1527.3L1699 1528.1L1700 1527.6L1701 1528.3L1702 1527.8L1703 1528.1L1704 1528L1705 1528L1706 1527.9L1707 1527.5L1708 1527.7L1709 1527.9L1710 1528L1711 1527.6L1712 1528.3L1713 1528.4L1714 1527.7L1715 1527.4L1716 1527.8L1717 1528.1L1718 1528.8L1719 1527.9L1720 1528L1721 1528L1722 1527.6L1723 1528.3L1724 1527.8L1725 1527.7L1726 1527.8L1727 1527.9L1728 1527.5L1729 1527.8L1730 1527.5L1731 1527.9L1732 1527.8L1733 1527.8L1734 1527.3L1735 1528.2L1736 1527.6L1737 1527.4L1738 1527.4L1739 1526.8L1740 1526.3L1741 1525.5L1742 1523.9L1743 1523.6L1744 1521.8L1745 1520.3L1746 1520.3L1747 1520.3L1748 1520.3L1749 1522.1L1750 1523.8L1751 1524.9L1752 1525.3L1753 1525.8L1754 1526.7L1755 1527L1756 1526.9L1757 1527.2L1758 1527L1759 1527.1L1760 1527.4L1761 1526.5L1762 1527.2L1763 1526.7L1764 1526.4L1765 1526.4L1766 1526.1L1767 1525L1768 1523L1769 1519.6L1770 1514.1L1771 1505.6L1772 1496.5L1773 1489.5L1774 1490.1L1775 1497.2L1776 1505.6L1777 1512.4L1778 1514.3L1779 1512.2L1780 1510.1L1781 1509.5L1782 1514.2L1783 1518.4L1784 1522.1L1785 1525L1786 1526.2L1787 1526.8L1788 1526.6L1789 1526.9L1790 1526.9L1791 1527.2L1792 1527.6L1793 1527.4L1794 1527.2L1795 1527.9L1796 1527.7L1797 1527.5L1798 1527.7L1799 1528.6L1800 1527.4L1801 1527.6L1802 1527.9L1803 1527.5L1804 1528.2L1805 1528.4L1806 1528L1807 1528.3L1808 1527L1809 1527.2L1810 1526.6L1811 1526.2L1812 1526.4L1813 1526.2L1814 1526.1L1815 1526.3L1816 1526.9L1817 1527.7L1818 1527.3L1819 1528.4L1820 1528.1L1821 1527.7L1822 1527.7L1823 1528.3L1824 1527.8L1825 1527.9L1826 1527.6L1827 1528.4L1828 1528.3L1829 1528L1830 1528L1831 1527.5L1832 1528.3L1833 1528L1834 1528.4L1835 1528.6L1836 1528.5L1837 1528L1838 1528.1L1839 1528.2L1840 1528.3L1841 1528.3L1842 1528.7L1843 1527.8L1844 1527.6L1845 1527.5L1846 1527.6L1847 1527.9L1848 1528.3L1849 1528.2L1850 1528.2L1851 1527.4L1852 1528.1L1853 1527.7L1854 1528.4L1855 1527.8L1856 1528.2L1857 1527.6L1858 1528L1859 1528L1860 1527.8L1861 1528.2L1862 1528.1L1863 1528L1864 1528.3L1865 1528.3L1866 1528.3L1867 1528.3L1868 1528.2L1869 1528L1870 1528.7L1871 1527.7L1872 1528.2L1873 1528L1874 1528.1L1875 1528.2L1876 1528.8L1877 1527.5L1878 1527.8L1879 1528L1880 1528.5L1881 1528.1L1882 1528.5L1883 1528L1884 1527.8L1885 1528.7L1886 1528.4L1887 1528.6L1888 1528.4L1889 1528.2L1890 1527.4L1891 1528.5L1892 1528.5L1893 1528.3L1894 1528.4L1895 1528.4L1896 1528L1897 1527.8L1898 1528.5L1899 1528.3L1900 1528.1L1901 1528.4L1902 1528.1L1903 1528.5L1904 1527.5L1905 1528.1L1906 1528.2L1907 1528.1L1908 1528.2L1909 1528.2L1910 1528.8L1911 1528L1912 1527.6L1913 1527.8L1914 1528.4L1915 1527.7L1916 1528.9L1917 1527.2L1918 1527.7L1919 1528.2L1920 1527.5L1921 1527L1922 1527.3L1923 1527.1L1924 1527L1925 1525.3L1926 1524.8L1927 1522.8L1928 1521.8L1929 1520.2L1930 1519L1931 1518.8L1932 1519.4L1933 1520.5L1934 1522.1L1935 1523.8L1936 1524.8L1937 1526L1938 1526.7L1939 1526.6L1940 1527.8L1941 1527.5L1942 1527.9L1943 1527.9L1944 1528.6L1945 1527.7L1946 1527.6L1947 1527.7L1948 1528L1949 1528L1950 1527.4L1951 1527.7L1952 1527.4L1953 1527.4L1954 1527.5L1955 1527.4L1956 1527.4L1957 1527.3L1958 1525.8L1959 1524.6L1960 1523.4L1961 1521L1962 1518.5L1963 1516.8L1964 1515.8L1965 1518.7L1966 1519.9L1967 1522.5L1968 1525.1L1969 1525.7L1970 1526.9L1971 1526.5L1972 1527L1973 1528.1L1974 1527.4L1975 1527.2L1976 1527.5L1977 1527.3L1978 1527.2L1979 1526.4L1980 1526L1981 1525L1982 1525.5L1983 1526.1L1984 1526.6L1985 1526.3L1986 1527.3L1987 1526.9L1988 1527.7L1989 1528.4L1990 1528.9L1991 1528.2L1992 1528.1L1993 1527.6L1994 1528.5L1995 1528.7L1996 1527.1L1997 1528.4L1998 1528.2L1999 1528.7L2000 1528.4L2001 1528.3L2002 1528L2003 1528.1L2004 1528.9L2005 1528.7L2006 1527.8L2007 1528.2L2008 1527.5L2009 1528.5L2010 1528.4L2011 1528.7L2012 1528.4L2013 1527.8L2014 1528.1L2015 1527.8L2016 1527.9L2017 1527.9L2018 1528.7L2019 1528.2L2020 1528.7L2021 1528.6L2022 1528.4L2023 1529L2024 1528.1L2025 1528.1L2026 1528.6L2027 1528.4L2028 1528.4L2029 1528.1L2030 1528.4L2031 1528.2L2032 1528L2033 1528.2L2034 1528.3L2035 1528.3L2036 1528.2L2037 1528.6L2038 1527.9L2039 1528.3L2040 1528.3L2041 1528.2L2042 1528.3L2043 1528.4L2044 1528L2045 1528.7L2046 1528.4L2047 1528L2048 1528.2L2049 1528.8L2050 1528.8L2051 1528.4L2052 1527.8L2053 1528.2L2054 1528.5L2055 1527.9L2056 1527.9L2057 1528.8L2058 1528L2059 1528.6L2060 1528L2061 1528.1L2062 1529L2063 1528.4L2064 1527.6L2065 1528.1L2066 1527.5L2067 1527.7L2068 1527.6L2069 1527.9L2070 1527.8L2071 1527.5L2072 1527L2073 1527.3L2074 1526.6L2075 1527.1L2076 1527L2077 1527L2078 1526.3L2079 1526.5L2080 1526.8L2081 1526.8L2082 1527.5L2083 1527L2084 1527.6L2085 1527.7L2086 1527.4L2087 1528.4L2088 1528L2089 1527.7L2090 1528.4L2091 1528L2092 1528.1L2093 1528.2L2094 1528.6L2095 1528.3L2096 1528.2L2097 1528.3L2098 1528.4L2099 1528.2L2100 1528.4L2101 1527.9L2102 1528.1L2103 1528.4L2104 1527.9L2105 1528.9L2106 1528.6L2107 1528.4L2108 1528.9L2109 1528.4L2110 1528.1L2111 1528.3L2112 1528.4L2113 1528.5L2114 1529L2115 1529.2L2116 1528.8L2117 1528.7L2118 1529L2119 1528.3L2120 1528.6L2121 1528.4L2122 1528.4L2123 1529.1L2124 1528.7L2125 1528.7L2126 1528.4L2127 1528L2128 1528.2L2129 1528.4L2130 1528.5L2131 1529L2132 1529.2L2133 1528.3L2134 1528.6L2135 1528.5L2136 1528.6L2137 1528.2L2138 1528.2L2139 1528.6L2140 1528.2L2141 1528.4L2142 1527.9L2143 1528.6L2144 1528.4L2145 1528.7L2146 1528.1L2147 1528.3L2148 1528.4L2149 1528.5L2150 1528.7L2151 1528.4L2152 1528.7L2153 1528.6L2154 1528.5L2155 1528.3L2156 1528.7L2157 1528.5L2158 1528.1L2159 1528.3L2160 1528.4L2161 1527.5L2162 1528.3L2163 1526.9L2164 1525.5L2165 1522.7L2166 1515.8L2167 1501.1"/>
<path class="m" stroke="#FF6400" d="M826.20 1418.8L828.50 1406.8L830.80 1418.8"/>
<path class="c" stroke="#8C8C00" d="M161 1602.5L162 1602.6L163 1602.4L164 1601.9L165 1602.1L166 1602.3L167 1602L168 1602.3L169 1602.4L170 1601.9L171 1602.1L172 1602.2L173 1602.4L174 1602.6L175 1601.9L176 1602.1L177 1602.9L178 1602.3L179 1602.4L180 1601.8L181 1602.1L182 1601.8L183 1602.5L184 1602.7L185 1602.9L186 1602.7L187 1602.3L188 1602.9L189 1602.3L190 1602.1L191 1602.1L192 1602L193 1601.9L194 1602.3L195 1602.3L196 1602.5L197 1602.3L198 1601.7L199 1602.2L200 1602.1L201 1602.1L202 1602.1L203 1602.1L204 1602.1L205 1601.6L206 1601.8L207 1602.1L208 1602.5L209 1602.2L210 1601.8L211 1601.9L212 1601.8L213 1601.6L214 1601.7L215 1601.1L216 1601.5L217 1601.3L218 1601.6L219 1601L220 1601.5L221 1601.1L222 1600.8L223 1601.5L224 1600.7L225 1600.5L226 1600.4L227 1600.4L228 1600.3L229 1600.9L230 1599.9L231 1599.1L232 1598.9L233 1598.1L234 1598.2L235 1597.9L236 1597.6L237 1596.5L238 1596.2L239 1595.2L240 1594.2L241 1593L242 1590.7L243 1589.4L244 1587.7L245 1586L246 1583.8L247 1580.3L248 1578.7L249 1575.1L250 1572.7L251 1570.2L252 1567.8L253 1567L254 1566.6L255 1566.5L256 1568.6L257 1570.4L258 1573.1L259 1576L260 1578.1L261 1581.3L262 1584.4L263 1586.8L264 1588.5L265 1589.9L266 1591.8L267 1594.1L268 1594L269 1595.5L270 1596.3L271 1597.2L272 1598.5L273 1598.1L274 1599.3L275 1599.1L276 1600.3L277 1600.1L278 1600.5L279 1600.1L280 1600.5L281 1601L282 1601.1L283 1601.5L284 1600.8L285 1601.7L286 1601.4L287 1601.3L288 1601.9L289 1601.8L290 1601.9L291 1602.3L292 1602.5L293 1602.4L294 1603.2L295 1602.3L296 1602.1L297 1602.6L298 1603.1L299 1603.1L300 1602.7L301 1602.4L302 1603L303 1603.1L304 1603L305 1603.3L306 1603.3L307 1603.1L308 1603.1L309 1602.9L310 1601.9L311 1602.2L312 1599.3L313 1597.4L314 1597L315 1596.9L316 1599L317 1600.6L318 1602.8L319 1602.3L320 1603.5L321 1603.8L322 1603.8L323 1603.9L324 1603.4L325 1603.6L326 1603.2L327 1604.1L328 1604L329 1603.8L330 1603.8L331 1604L332 1603.9L333 1603.7L334 1604.3L335 1604.3L336 1603.9L337 1604L338 1604.5L339 1604.2L340 1604.2L341 1604.8L342 1603.4L343 1604.1L344 1604.4L345 1604.4L346 1604.2L347 1604.3L348 1604.4L349 1604.1L350 1604.6L351 1604.1L352 1604.2L353 1604.5L354 1604.6L355 1604.1L356 1604.8L357 1603.9L358 1604.4L359 1604.2L360 1604.7L361 1604.5L362 1604.5L363 1604.9L364 1603.9L365 1604.2L366 1605.1L367 1604.4L368 1604.5L369 1604.4L370 1604.3L371 1603.9L372 1604.6L373 1604.2L374 1604.5L375 1604.1L376 1604.1L377 1604.6L378 1604.4L379 1604.3L380 1604.6L381 1605.1L382 1604.4L383 1604L384 1604.7L385 1603.7L386 1605L387 1604.3L388 1604.5L389 1604.7L390 1604.2L391 1604.1L392 1604.6L393 1605L394 1604.1L395 1604.5L396 1605.1L397 1604.7L398 1604.1L399 1604.8L400 1604.5L401 1604.7L402 1604.5L403 1604.3L404 1604.2L405 1604.7L406 1603.9L407 1604.9L408 1605.1L409 1604.5L410 1604.2L411 1604.7L412 1604.4L413 1604.6L414 1604.4L415 1604.6L416 1605L417 1603.8L418 1604.1L419 1604.9L420 1604.2L421 1604.6L422 1604.4L423 1604.7L424 1605L425 1605.2L426 1604.5L427 1604.9L428 1604.8L429 1605L430 1604.9L431 1604.9L432 1604.9L433 1604.6L434 1605.1L435 1604.8L436 1605.5L437 1604.6L438 1604.7L439 1604.8L440 1604.7L441 1604.8L442 1604.7L443 1605.1L444 1605.3L445 1604.5L446 1605.1L447 1604.9L448 1604.8L449 1604.4L450 1604.6L451 1604.5L452 1604.7L453 1604.8L454 1604.7L455 1604.4L456 1604.4L457 1604.9L458 1604L459 1604.5L460 1604.6L461 1604.2L462 1603.4L463 1603.8L464 1603.7L465 1604L466 1603.6L467 1604.1L468 1604.3L469 1603.9L470 1604.9L471 1604.6L472 1604.5L473 1604.3L474 1604.6L475 1604.7L476 1604.8L477 1604.9L478 1604.6L479 1604.8L480 1604.5L481 1604.5L482 1604.3L483 1604.5L484 1604.6L485 1605.2L486 1604.1L487 1604.6L488 1605.1L489 1604.6L490 1604.7L491 1604.8L492 1605.2L493 1604.8L494 1605L495 1605L496 1605.1L497 1604.2L498 1604.8L499 1604.2L500 1605.3L501 1605.5L502 1605.4L503 1605L504 1604.9L505 1604.8L506 1605.5L507 1604.8L508 1605L509 1604.5L510 1605L511 1605.2L512 1604.1L513 1604.9L514 1605.2L515 1605L516 1605.5L517 1604.3L518 1604.9L519 1604.5L520 1604.8L521 1604.8L522 1604.9L523 1604.9L524 1604.4L525 1604.6L526 1604.4L527 1604.9L528 1604.6L529 1604.5L530 1604L531 1605.1L532 1605L533 1604.9L534 1604.4L535 1604.9L536 1604.6L537 1604.7L538 1604L539 1604.6L540 1603.6L541 1603.9L542 1604L543 1604.7L544 1604.2L545 1603.9L546 1603.9L547 1603.8L548 1603.8L549 1603.8L550 1603L551 1603.2L552 1602.7L553 1602.2L554 1602.1L555 1601.1L556 1601.3L557 1601L558 1601.7L559 1602.4L560 1602.5L561 1602.6L562 1603.2L563 1604.3L564 1603.9L565 1603.8L566 1603.1L567 1603.6L568 1603.6L569 1604.8L570 1604.1L571 1604.2L572 1604.4L573 1604.4L574 1604.5L575 1604.6L576 1604.9L577 1604.2L578 1604.7L579 1604.7L580 1604.5L581 1604.2L582 1604L583 1604L584 1603.7L585 1603.7L586 1604.1L587 1604L588 1603.1L589 1603.4L590 1603.3L591 1602L592 1600.3L593 1593.9L594 1576.2L595 1548L596 1540.3L597 1566.9L598 1589.4L599 1598.6L600 1601.4L601 1602.8L602 1602.5L603 1604L604 1603.7L605 1603.4L606 1604.2L607 1603.6L608 1603.8L609 1605L610 1604.1L611 1604.2L612 1605L613 1604.6L614 1605.1L615 1605L616 1604.8L617 1605.2L618 1605L619 1604.9L620 1604.7L621 1605.1L622 1604.8L623 1604.8L624 1604.3L625 1604.8L626 1604.6L627 1604.5L628 1604.2L629 1605.2L630 1604.7L631 1604.5L632 1604.4L633 1604.3L634 1604.7L635 1605.3L636 1604L637 1604.3L638 1604.2L639 1603.4L640 1604.1L641 1602.8L642 1602.6L643 1602.2L644 1602.6L645 1603.5L646 1603.8L647 1603.3L648 1604.9L649 1604.5L650 1604.8L651 1604.3L652 1604.8L653 1604.4L654 1604.3L655 1604.8L656 1605.2L657 1604.8L658 1604.3L659 1603.9L660 1604.8L661 1604L662 1604.6L663 1604.7L664 1605.1L665 1604.9L666 1604.9L667 1605.1L668 1604.4L669 1604.9L670 1605L671 1604.2L672 1604.5L673 1605.1L674 1604.9L675 1604.9L676 1604.4L677 1604.2L678 1604.7L679 1604.6L680 1603.8L681 1603.7L682 1603.8L683 1604.1L684 1603.6L685 1604.3L686 1604L687 1604.5L688 1604.9L689 1604.9L690 1605L691 1604.6L692 1604.5L693 1604L694 1605.2L695 1604.2L696 1605L697 1604.2L698 1604.2L699 1604.1L700 1604.1L701 1603.2L702 1603.1L703 1602L704 1602.1L705 1602L706 1602.4L707 1603.3L708 1603.7L709 1603.8L710 1604.2L711 1604.3L712 1603.7L713 1603.9L714 1604.1L715 1603.6L716 1604.1L717 1604.3L718 1604.1L719 1603.2L720 1603.7L721 1603.2L722 1603L723 1602.4L724 1601.6L725 1600.5L726 1599.1L727 1598L728 1597.4L729 1597.4L730 1597.4L731 1598.8L732 1599.4L733 1600.5L734 1601.4L735 1601.6L736 1602.2L737 1602.4L738 1602.4L739 1602.3L740 1601.6L741 1601.8L742 1602L743 1601L744 1600.3L745 1600.4L746 1599.2L747 1599L748 1598.7L749 1597.2L750 1596.4L751 1594.2L752 1592.8L753 1590.8L754 1589.2L755 1586.8L756 1585.5L757 1583.6L758 1582.1L759 1581.6L760 1581.8L761 1583.2L762 1584.8L763 1586.1L764 1587.9L765 1590L766 1591.7L767 1593.7L768 1595L769 1596.6L770 1597.1L771 1598.2L772 1599.4L773 1600.4L774 1600.8L775 1601.4L776 1601.5L777 1601.5L778 1602.6L779 1602.6L780 1602.1L781 1603L782 1602.8L783 1603.2L784 1603.1L785 1602.6L786 1603.3L787 1603.6L788 1603.2L789 1604L790 1602.9L791 1603.4L792 1603.8L793 1604.1L794 1604.2L795 1604.8L796 1603.7L797 1604.1L798 1603.6L799 1604L800 1603.8L801 1604L802 1604.3L803 1603.5L804 1603.3L805 1603.4L806 1603.3L807 1603.9L808 1603.5L809 1603.8L810 1603.9L811 1603.8L812 1602.8L813 1602.7L814 1602.7L815 1602.9L816 1602.2L817 1601.7L818 1600.2L819 1600.4L820 1598.5L821 1597.2L822 1594.5L823 1590.6L824 1585.1L825 1574.9L826.2 1503.7L828.5 1491.8L830.8 1503.9L832 1575.2L833 1585.3L834 1590.9L835 1594.8L836 1597.5L837 1599.5L838 1600.4L839 1601.2L840 1602.2L841 1603L842 1602.8L843 1602.9L844 1603.5L845 1603.9L846 1603.7L847 1603.9L848 1604.9L849 1604.1L850 1605.2L851 1604.3L852 1604.7L853 1604.6L854 1604.8L855 1605.1L856 1604.7L857 1604.7L858 1604.6L859 1604.5L860 1604.1L861 1603.7L862 1603.8L863 1604.6L864 1604.4L865 1604.2L866 1604.8L867 1604.3L868 1604.1L869 1604L870 1603.2L871 1601.8L872 1601.3L873 1601.7L874 1601.5L875 1601.3L876 1596.9L877 1583.1L878 1562.9L879 1552.2L880 1552.4L881 1552.4L882 1565.2L883 1586.3L884 1598.1L885 1601.3L886 1602.6L887 1603.4L888 1603.4L889 1603.5L890 1604.2L891 1603.6L892 1603.5L893 1603.9L894 1604.8L895 1604.3L896 1604.2L897 1604.8L898 1604.9L899 1606.1L900 1605.6L901 1605.7L902 1606L903 1606.6L904 1606.3L905 1606.6L906 1605.6L907 1606.1L908 1605.9L909 1606.1L910 1607.2L911 1606.3L912 1606.4L913 1606.6L914 1606.8L915 1606.7L916 1606L917 1607L918 1606.5L919 1606.5L920 1606.7L921 1607.2L922 1606.7L923 1606.4L924 1606.8L925 1606.5L926 1606.4L927 1606.3L928 1606.2L929 1606.7L930 1606.6L931 1606.9L932 1606.6L933 1606.9L934 1607.5L935 1607L936 1606.5L937 1606.2L938 1606.8L939 1607.1L940 1607.3L941 1607.1L942 1607L943 1606.7L944 1607.2L945 1607.1L946 1607.3L947 1606.7L948 1607L949 1606.8L950 1607L951 1607.2L952 1606.2L953 1607.1L954 1606.6L955 1606.8L956 1606.4L957 1606.2L958 1606.8L959 1606.8L960 1606.7L961 1606.6L962 1605.6L963 1606.2L964 1606L965 1606.2L966 1605.8L967 1605.8L968 1605.4L969 1606.2L970 1606.2L971 1606.5L972 1606.2L973 1606.6L974 1606.4L975 1606.6L976 1606L977 1606.1L978 1605.7L979 1606.1L980 1605.1L981 1605L982 1603.7L983 1603.7L984 1604.4L985 1604.6L986 1605.3L987 1606.6L988 1606.8L989 1606.7L990 1607.3L991 1606.5L992 1607L993 1607L994 1607.6L995 1606.3L996 1607.3L997 1606.5L998 1606.6L999 1607.4L1000 1607.2L1001 1606.7L1002 1606.8L1003 1607.4L1004 1607.8L1005 1606.7L1006 1607.6L1007 1606.8L1008 1606.9L1009 1606.7L1010 1607.1L1011 1606.8L1012 1607.1L1013 1606.3L1014 1607L1015 1606.6L1016 1606.5L1017 1606.8L1018 1607.1L1019 1606.6L1020 1606.7L1021 1607L1022 1606.9L1023 1607.3L1024 1607.4L1025 1607.5L1026 1607L1027 1607.1L1028 1607.3L1029 1607.8L1030 1607.3L1031 1607L1032 1607.4L1033 1607.4L1034 1606.5L1035 1607.3L1036 1606.9L1037 1607.6L1038 1607.1L1039 1607.3L1040 1607.1L1041 1607.6L1042 1607.1L1043 1607L1044 1607.2L1045 1607.2L1046 1607.4L1047 1607L1048 1607.4L1049 1607.4L1050 1607.7L1051 1607.9L1052 1607.5L1053 1607.2L1054 1607L1055 1607.2L1056 1607.2L1057 1607.3L1058 1607.4L1059 1607.7L1060 1607.5L1061 1607L1062 1607.5L1063 1607.2L1064 1607.1L1065 1607.5L1066 1607.1L1067 1607.5L1068 1607.9L1069 1607.5L1070 1607.4L1071 1607.2L1072 1607.2L1073 1607.2L1074 1607.6L1075 1607.2L1076 1606.7L1077 1606.5L1078 1607.1L1079 1607.1L1080 1606.8L1081 1607.2L1082 1606.5L1083 1606.6L1084 1606L1085 1604.9L1086 1602.8L1087 1599.2L1088 1594.3L1089 1588.9L1090 1584.2L1091 1583.6L1092 1586.4L1093 1592.4L1094 1596.7L1095 1600.8L1096 1603.9L1097 1604.8L1098 1605.8L1099 1606.4L1100 1606.4L1101 1606.3L1102 1606.7L1103 1606.6L1104 1607.4L1105 1607.8L1106 1607.3L1107 1607.6L1108 1606.9L1109 1607.2L1110 1607.5L1111 1607.8L1112 1607.4L1113 1607.6L1114 1608.5L1115 1607.3L1116 1607.2L1117 1607.7L1118 1607.5L1119 1607.3L1120 1607.9L1121 1607.8L1122 1608.5L1123 1607.6L1124 1607.6L1125 1607.6L1126 1607.4L1127 1608L1128 1608L1129 1607.6L1130 1607.7L1131 1608.1L1132 1608L1133 1607.9L1134 1608.4L1135 1607.7L1136 1607.6L1137 1607.9L1138 1608.3L1139 1607.6L1140 1608L1141 1607.9L1142 1608L1143 1607.5L1144 1608L1145 1607.4L1146 1608L1147 1607.7L1148 1608.2L1149 1607.3L1150 1608L1151 1608L1152 1607.8L1153 1608L1154 1607.4L1155 1607.7L1156 1607.4L1157 1607.2L1158 1606.9L1159 1606.9L1160 1606.7L1161 1606L1162 1605.8L1163 1605.4L1164 1604.9L1165 1604.9L1166 1604.5L1167 1604.3L1168 1604.4L1169 1605L1170 1606.5L1171 1606.5L1172 1606.8L1173 1606.4L1174 1607.7L1175 1606.8L1176 1607.7L1177 1607.5L1178 1607.5L1179 1607L1180 1606.9L1181 1606.9L1182 1605.5L1183 1605.7L1184 1604.3L1185 1603L1186 1599.4L1187 1596.6L1188 1592.9L1189 1591L1190 1590.5L1191 1593.1L1192 1596.1L1193 1599.7L1194 1602.3L1195 1604.9L1196 1605.7L1197 1606.2L1198 1607L1199 1606.8L1200 1606.5L1201 1607.1L1202 1607.3L1203 1607.3L1204 1607.3L1205 1607.5L1206 1607.4L1207 1607.4L1208 1607.8L1209 1607.4L1210 1607.8L1211 1607.3L1212 1607L1213 1607.6L1214 1607.8L1215 1607.2L1216 1606.9L1217 1606.3L1218 1606.9L1219 1605.6L1220 1604.4L1221 1603L1222 1598.7L1223 1593.1L1224 1585.6L1225 1579.8L1226 1577.7L1227 1582.1L1228 1589L1229 1596L1230 1600.8L1231 1603.7L1232 1605.9L1233 1606.4L1234 1606.2L1235 1606.9L1236 1607.4L1237 1607.6L1238 1607.7L1239 1607.3L1240 1607.7L1241 1608L1242 1608.1L1243 1607.9L1244 1607.4L1245 1608.2L1246 1608.3L1247 1607.9L1248 1607.6L1249 1608.3L1250 1607.5L1251 1608.4L1252 1607.8L1253 1608L1254 1607.8L1255 1607.5L1256 1607.9L1257 1607.8L1258 1607.9L1259 1607.8L1260 1608L1261 1608.7L1262 1608.2L1263 1608.3L1264 1608.3L1265 1608.1L1266 1607.9L1267 1608.2L1268 1607.7L1269 1608.6L1270 1607.9L1271 1608.3L1272 1608.3L1273 1608.2L1274 1607.9L1275 1608.7L1276 1608L1277 1607.8L1278 1607.6L1279 1608.3L1280 1607.4L1281 1608.4L1282 1607.6L1283 1607.8L1284 1608.4L1285 1608.2L1286 1607.8L1287 1607.9L1288 1607.7L1289 1607.7L1290 1607.6L1291 1607.4L1292 1607.4L1293 1607.1L1294 1606.5L1295 1606.7L1296 1606.8L1297 1605.6L1298 1605.9L1299 1605.6L1300 1605.5L1301 1605.7L1302 1605.2L1303 1605.9L1304 1605.2L1305 1605.6L1306 1606.8L1307 1606.6L1308 1606.8L1309 1607.5L1310 1607.3L1311 1607.7L1312 1607.3L1313 1608.3L1314 1607.7L1315 1607.8L1316 1608.1L1317 1607.4L1318 1607.8L1319 1608.4L1320 1608.4L1321 1608.2L1322 1608.5L1323 1607.6L1324 1607.5L1325 1607.5L1326 1608.3L1327 1608.3L1328 1608.1L1329 1608.4L1330 1608.4L1331 1607.7L1332 1608L1333 1608.3L1334 1607.6L1335 1607.5L1336 1607L1337 1606.6L1338 1606L1339 1604.2L1340 1602.4L1341 1597.7L1342 1593.8L1343 1591.1L1344 1591.1L1345 1593.7L1346 1597.4L1347 1601.7L1348 1603.6L1349 1606.3L1350 1607L1351 1608.2L1352 1607.9L1353 1607.7L1354 1608.2L1355 1607.6L1356 1607.7L1357 1607.4L1358 1608.4L1359 1608.3L1360 1608.4L1361 1609.1L1362 1608.1L1363 1608.6L1364 1608.5L1365 1608.2L1366 1608.2L1367 1607.9L1368 1607.6L1369 1607.5L1370 1607.4L1371 1607.8L1372 1606.5L1373 1605.9L1374 1604.4L1375 1602.2L1376 1601.3L1377 1601.2L1378 1601.3L1379 1603L1380 1605.3L1381 1606.1L1382 1607.1L1383 1608.1L1384 1608.1L1385 1607.8L1386 1607.7L1387 1608.3L1388 1608.1L1389 1608.9L1390 1608.3L1391 1608.3L1392 1608.6L1393 1607.8L1394 1608.5L1395 1607.7L1396 1607.8L1397 1606.7L1398 1605.9L1399 1605.2L1400 1604.9L1401 1605.4L1402 1606.1L1403 1606.2L1404 1606.5L1405 1607.8L1406 1608.7L1407 1608.1L1408 1608.6L1409 1608.4L1410 1608.8L1411 1609.2L1412 1608.8L1413 1608.3L1414 1608.9L1415 1608.7L1416 1609.4L1417 1608.7L1418 1608.8L1419 1608.9L1420 1608.6L1421 1609L1422 1609.1L1423 1608.9L1424 1608.5L1425 1609.3L1426 1609.1L1427 1609.6L1428 1609.1L1429 1608.5L1430 1609.4L1431 1609.7L1432 1608.5L1433 1609.3L1434 1609.5L1435 1608.9L1436 1609.4L1437 1609L1438 1608.8L1439 1609L1440 1609.6L1441 1608.8L1442 1609L1443 1608.7L1444 1609.3L1445 1609.2L1446 1608.7L1447 1609.2L1448 1609.4L1449 1608.9L1450 1608.4L1451 1608.6L1452 1608.7L1453 1609.2L1454 1608.8L1455 1609L1456 1608.5L1457 1608.6L1458 1607.8L1459 1607.1L1460 1605.5L1461 1603.9L1462 1600.9L1463 1599.2L1464 1597.7L1465 1598.2L1466 1600.1L1467 1602.4L1468 1604.7L1469 1605.9L1470 1607.3L1471 1608L1472 1608.5L1473 1608.8L1474 1609.1L1475 1608.9L1476 1609.2L1477 1608.7L1478 1609.2L1479 1608.9L1480 1609.6L1481 1609.3L1482 1609.6L1483 1608.9L1484 1609.2L1485 1609.2L1486 1609.3L1487 1609.2L1488 1608.8L1489 1609.2L1490 1609.5L1491 1609.1L1492 1609.3L1493 1609.2L1494 1609.6L1495 1609.3L1496 1609.7L1497 1608.9L1498 1609.8L1499 1609.1L1500 1609.2L1501 1609.3L1502 1608.6L1503 1609.4L1504 1609.7L1505 1609.5L1506 1609.8L1507 1609L1508 1609.3L1509 1609.6L1510 1609L1511 1608.8L1512 1609.2L1513 1608.6L1514 1607.7L1515 1608.3L1516 1608.8L1517 1608.4L1518 1608.9L1519 1608.9L1520 1608.8L1521 1608.7L1522 1609.8L1523 1609.4L1524 1608.9L1525 1609.6L1526 1609.1L1527 1609.3L1528 1610L1529 1609.1L1530 1609.8L1531 1610L1532 1609.2L1533 1609.7L1534 1608.9L1535 1610.4L1536 1609.6L1537 1609.6L1538 1609.7L1539 1609.2L1540 1609.1L1541 1609.6L1542 1609.6L1543 1609.8L1544 1609.8L1545 1609.6L1546 1609.6L1547 1609.8L1548 1609L1549 1609.7L1550 1608.8L1551 1609L1552 1609.6L1553 1610.1L1554 1610.1L1555 1609.1L1556 1609.5L1557 1609.5L1558 1609.6L1559 1610L1560 1608.8L1561 1609.3L1562 1609.5L1563 1609.7L1564 1609.3L1565 1609L1566 1609.7L1567 1609.9L1568 1610.1L1569 1610.4L1570 1609.8L1571 1609.7L1572 1609.8L1573 1609.9L1574 1609.5L1575 1609.5L1576 1610.3L1577 1610.4L1578 1609.4L1579 1609L1580 1609.2L1581 1609.4L1582 1609.5L1583 1609.5L1584 1609.5L1585 1610.1L1586 1609.5L1587 1609.4L1588 1609.5L1589 1609.7L1590 1610L1591 1609L1592 1608.5L1593 1608.3L1594 1607.1L1595 1605.8L1596 1603.9L1597 1602.4L1598 1601.3L1599 1602.1L1600 1604.1L1601 1605.3L1602 1607.4L1603 1607.8L1604 1608.8L1605 1608.8L1606 1609.2L1607 1609.1L1608 1609.4L1609 1609.7L1610 1609.3L1611 1609.5L1612 1609.6L1613 1609.2L1614 1609.5L1615 1609.7L1616 1609.9L1617 1609.3L1618 1609.9L1619 1609.3L1620 1609.4L1621 1610L1622 1609.4L1623 1609.2L1624 1609.7L1625 1609.8L1626 1609.7L1627 1609.9L1628 1609.6L1629 1609.2L1630 1609.4L1631 1609.4L1632 1609.7L1633 1609.7L1634 1609.3L1635 1609.8L1636 1609.1L1637 1609.5L1638 1610.4L1639 1609.5L1640 1609.7L1641 1609.8L1642 1609.8L1643 1609.6L1644 1609.3L1645 1610L1646 1609.3L1647 1609.5L1648 1609.5L1649 1609.8L1650 1609.7L1651 1609.1L1652 1609.2L1653 1609.6L1654 1609.2L1655 1608.7L1656 1609.4L1657 1609.9L1658 1609.8L1659 1609.2L1660 1609.1L1661 1609.4L1662 1609.8L1663 1609.2L1664 1609.3L1665 1609.3L1666 1609.7L1667 1609.4L1668 1609L1669 1609.9L1670 1609.6L1671 1610L1672 1609.6L1673 1609.7L1674 1609.2L1675 1609.9L1676 1609.3L1677 1608.8L1678 1608.6L1679 1610.1L1680 1609.6L1681 1609.5L1682 1609.4L1683 1609.4L1684 1610.1L1685 1609.5L1686 1609.6L1687 1609.8L1688 1609.3L1689 1609.4L1690 1609.6L1691 1609.6L1692 1609.9L1693 1609.6L1694 1610L1695 1609.9L1696 1608.8L1697 1609.5L1698 1609.4L1699 1609.9L1700 1609.6L1701 1609.3L1702 1609.8L1703 1609.1L1704 1609.5L1705 1609.1L1706 1609L1707 1609.2L1708 1609.1L1709 1610L1710 1609.7L1711 1609.8L1712 1610L1713 1609.3L1714 1609.8L1715 1609.5L1716 1609.3L1717 1609.4L1718 1609.4L1719 1609.6L1720 1609L1721 1609.8L1722 1609.8L1723 1609.2L1724 1609.5L1725 1609.6L1726 1609.7L1727 1608.9L1728 1609.5L1729 1609.7L1730 1609.5L1731 1609.1L1732 1609.3L1733 1609.3L1734 1609.2L1735 1610.2L1736 1608.7L1737 1608.6L1738 1608.3L1739 1608.8L1740 1607.7L1741 1608L1742 1606.8L1743 1606L1744 1604L1745 1604.4L1746 1603.3L1747 1603.2L1748 1603.1L1749 1604.1L1750 1606.2L1751 1606.9L1752 1606.9L1753 1608.3L1754 1608.7L1755 1608.3L1756 1608.4L1757 1608.9L1758 1608.1L1759 1609.2L1760 1608.1L1761 1608.3L1762 1608.8L1763 1608.3L1764 1608.2L1765 1608.5L1766 1608L1767 1606.7L1768 1605.4L1769 1602.1L1770 1597.8L1771 1589.6L1772 1581.7L1773 1574.6L1774 1576.2L1775 1581.4L1776 1590.2L1777 1595.2L1778 1596.9L1779 1596.2L1780 1593.7L1781 1593.9L1782 1596.9L1783 1601.5L1784 1604.3L1785 1606.8L1786 1607.5L1787 1608.8L1788 1608.4L1789 1608.8L1790 1608.3L1791 1609.3L1792 1609.4L1793 1609.1L1794 1609.4L1795 1609.6L1796 1609.6L1797 1609.7L1798 1609.4L1799 1608.9L1800 1609.9L1801 1609.4L1802 1609.5L1803 1609.4L1804 1609.4L1805 1610.1L1806 1609.8L1807 1609.2L1808 1609L1809 1609.1L1810 1608.8L1811 1608.6L1812 1607.9L1813 1608L1814 1608L1815 1607.5L1816 1608.8L1817 1609L1818 1609.3L1819 1609.3L1820 1609.6L1821 1610L1822 1609.3L1823 1609.7L1824 1609.3L1825 1609.6L1826 1609.5L1827 1609.5L1828 1609.7L1829 1609L1830 1609.7L1831 1609.5L1832 1609.7L1833 1609.6L1834 1609.9L1835 1609.5L1836 1610.1L1837 1609.6L1838 1609.3L1839 1609.6L1840 1609.9L1841 1609.8L1842 1610.3L1843 1609.4L1844 1609.8L1845 1609.4L1846 1609.6L1847 1610.1L1848 1609.6L1849 1610.3L1850 1610L1851 1610.3L1852 1610.1L1853 1609.1L1854 1609.4L1855 1608.9L1856 1610.2L1857 1609.9L1858 1609.5L1859 1609.9L1860 1609.1L1861 1609.4L1862 1610.1L1863 1609.8L1864 1609.7L1865 1610L1866 1609.7L1867 1609.9L1868 1610.2L1869 1609.5L1870 1609.7L1871 1610.2L1872 1609.7L1873 1610L1874 1610L1875 1610.7L1876 1610.1L1877 1609.7L1878 1609.6L1879 1609.7L1880 1609.4L1881 1609.4L1882 1609L1883 1609.4L1884 1609.6L1885 1609.7L1886 1609.9L1887 1609.8L1888 1609.3L1889 1610L1890 1609.9L1891 1610L1892 1610.1L1893 1609.4L1894 1610L1895 1609.7L1896 1609.8L1897 1610.6L1898 1610L1899 1609.3L1900 1609.3L1901 1609.2L1902 1609.2L1903 1609.2L1904 1610L1905 1608.8L1906 1610.5L1907 1609.4L1908 1609.3L1909 1609.7L1910 1609.4L1911 1609.3L1912 1609.6L1913 1609.4L1914 1609.4L1915 1609.5L1916 1609.9L1917 1610L1918 1609.2L1919 1609.3L1920 1609.5L1921 1609L1922 1609.3L1923 1608L1924 1607.9L1925 1607.4L1926 1606.8L1927 1605.3L1928 1603.9L1929 1603L1930 1602L1931 1601.1L1932 1601.3L1933 1603.3L1934 1604.1L1935 1605L1936 1606.7L1937 1607.8L1938 1608.3L1939 1608.5L1940 1608.6L1941 1609.1L1942 1609.1L1943 1609.9L1944 1609.6L1945 1609.2L1946 1609.8L1947 1609.7L1948 1609.3L1949 1610L1950 1609.3L1951 1609.3L1952 1609.6L1953 1610.2L1954 1609.2L1955 1609.9L1956 1609.1L1957 1608.9L1958 1608.7L1959 1608.7L1960 1606.8L1961 1605.5L1962 1604.5L1963 1603.6L1964 1604.2L1965 1604.6L1966 1605.5L1967 1607.3L1968 1607.4L1969 1609.1L1970 1609.3L1971 1608.9L1972 1608.9L1973 1609.5L1974 1609.2L1975 1609.3L1976 1608.9L1977 1608.8L1978 1608.6L1979 1608.5L1980 1608L1981 1606.4L1982 1606.8L1983 1607.4L1984 1607.5L1985 1609.3L1986 1608.9L1987 1609.7L1988 1609.3L1989 1609.8L1990 1609.2L1991 1609.3L1992 1609.9L1993 1609.8L1994 1609.5L1995 1610.1L1996 1609L1997 1609.3L1998 1609.6L1999 1610.3L2000 1610.3L2001 1609.7L2002 1610.3L2003 1610.5L2004 1610.4L2005 1610.4L2006 1610.2L2007 1609.4L2008 1609.8L2009 1610.4L2010 1610L2011 1610.2L2012 1609.9L2013 1610L2014 1609.7L2015 1609L2016 1610.2L2017 1609.9L2018 1609.5L2019 1610.3L2020 1609.8L2021 1609.7L2022 1609.8L2023 1609.9L2024 1610L2025 1609.7L2026 1609.7L2027 1609.7L2028 1610L2029 1609.8L2030 1609.4L2031 1609.7L2032 1609.8L2033 1609.6L2034 1609.2L2035 1609.1L2036 1609.5L2037 1610.4L2038 1609.6L2039 1609.2L2040 1610.3L2041 1610.2L2042 1609.3L2043 1609.4L2044 1609.4L2045 1609.7L2046 1610.1L2047 1610.1L2048 1609.9L2049 1609.9L2050 1609.8L2051 1610.3L2052 1609.5L2053 1610.3L2054 1610.2L2055 1610.1L2056 1609.9L2057 1608.8L2058 1609.6L2059 1610.1L2060 1609.6L2061 1609.9L2062 1609.6L2063 1609.6L2064 1609.6L2065 1610L2066 1609.9L2067 1609.7L2068 1609.6L2069 1609.6L2070 1609.8L2071 1608.9L2072 1608.2L2073 1609.1L2074 1609.5L2075 1609.1L2076 1608.3L2077 1608.5L2078 1609.1L2079 1608.4L2080 1608.7L2081 1608.3L2082 1608.8L2083 1609.1L2084 1608.8L2085 1609.5L2086 1609.9L2087 1609.3L2088 1609.9L2089 1609.4L2090 1609.9L2091 1609.3L2092 1609.4L2093 1609.3L2094 1609.6L2095 1609.9L2096 1610.2L2097 1609.6L2098 1609.8L2099 1609.5L2100 1609.6L2101 1609.9L2102 1610.1L2103 1609.6L2104 1609.5L2105 1609.4L2106 1610.4L2107 1610.3L2108 1609.6L2109 1610L2110 1610.1L2111 1609.6L2112 1609.9L2113 1609.7L2114 1610L2115 1609.6L2116 1609.7L2117 1609.8L2118 1610L2119 1610.3L2120 1609.7L2121 1609.7L2122 1610.1L2123 1609.8L2124 1609.7L2125 1609.8L2126 1610.3L2127 1609.5L2128 1609.9L2129 1610.2L2130 1609.7L2131 1609.3L2132 1610.1L2133 1609.9L2134 1610.2L2135 1610.1L2136 1610.4L2137 1609.7L2138 1609.3L2139 1610.2L2140 1609.4L2141 1609.8L2142 1610.3L2143 1609.7L2144 1609.4L2145 1609.6L2146 1609.8L2147 1609.4L2148 1609.9L2149 1610.2L2150 1610.8L2151 1610.4L2152 1609.4L2153 1610L2154 1609.5L2155 1609.9L2156 1609.6L2157 1609.8L2158 1610.5L2159 1609.8L2160 1610.2L2161 1609.7L2162 1609.2L2163 1608.4L2164 1606.6L2165 1604.2L2166 1596.8L2167 1581.7"/>
<path class="m" stroke="#8C8C00" d="M826.20 1504.1L828.50 1492.1L830.80 1504.1"/>
</g>
<g stroke="#000" stroke-width="6.4">
<line x1="360.1" y1="1667.0" x2="360.1" y2="1653.0"/>
<line x1="561.1" y1="1667.0" x2="561.1" y2="1637.0"/>
<line x1="762.1" y1="1667.0" x2="762.1" y2="1653.0"/>
<line x1="963.2" y1="1667.0" x2="963.2" y2="1637.0"/>
<line x1="1164.2" y1="1667.0" x2="1164.2" y2="1653.0"/>
<line x1="1365.3" y1="1667.0" x2="1365.3" y2="1637.0"/>
<line x1="1566.4" y1="1667.0" x2="1566.4" y2="1653.0"/>
<line x1="1767.4" y1="1667.0" x2="1767.4" y2="1637.0"/>
<line x1="1968.5" y1="1667.0" x2="1968.5" y2="1653.0"/>
</g>
<rect x="159" y="51" width="2010.7" height="1618" fill="none" stroke="#000" stroke-width="6.4"/>
<text x="175.4" y="398.7" font-size="75">K<tspan x="234.6" y="418.9" font-size="48">a</tspan></text>
<text x="173.6" y="802.4" font-size="75">K<tspan x="234.6" y="822.5" font-size="48">b</tspan></text>
<text x="174.7" y="1302.0" font-size="75">K<tspan x="235.4" y="1322.5" font-size="48">c</tspan></text>
<text class="sym" font-size="100" transform="translate(1199.5 129.5) scale(0.7652 0.6759)" x="-44.75" y="36.75">♠</text>
<text class="sym" font-size="100" transform="translate(1203.0 220.5) scale(0.7254 0.6759)" x="-44.50" y="36.75">♣</text>
<text class="sym" font-size="100" transform="translate(1677.0 128.6) scale(0.7273 0.6528)" x="-44.50" y="36.50">♦</text>
<text class="sym" font-size="100" transform="translate(1677.0 227.0) scale(0.3947 0.3974)" x="-43.50" y="26.25">●</text>
<g stroke="#000" stroke-width="6"><line x1="1238.8" y1="125" x2="1389" y2="125"/><line x1="1241.8" y1="227.6" x2="1392" y2="227.6"/><line x1="1716" y1="126.5" x2="1866" y2="126.5"/><line x1="1716" y1="226.5" x2="1866" y2="226.5"/></g>
<text x="1401.0" y="142.7" font-size="61">Quartz</text>
<text x="1877.5" y="145.4" font-size="61">Kaolinite</text>
<text x="1402.0" y="245.4" font-size="61">Albite</text>
<text x="1877.5" y="244.3" font-size="61">Hematite</text>
<text class="sym" font-size="100" transform="translate(829.5 66.0) scale(0.5217 0.4345)" x="-44.75" y="36.75">♠</text>
<text class="sym" font-size="100" transform="translate(595.4 338.5) scale(0.5217 0.4345)" x="-44.75" y="36.75">♠</text>
<text class="sym" font-size="100" transform="translate(1190.0 407.0) scale(0.5217 0.4345)" x="-44.75" y="36.75">♠</text>
<text class="sym" font-size="100" transform="translate(1228.6 394.5) scale(0.5217 0.4345)" x="-44.75" y="36.75">♠</text>
<text class="sym" font-size="100" transform="translate(1341.0 408.0) scale(0.5217 0.4345)" x="-44.75" y="36.75">♠</text>
<text class="sym" font-size="100" transform="translate(1468.0 407.0) scale(0.5217 0.4345)" x="-44.75" y="36.75">♠</text>
<text class="sym" font-size="100" transform="translate(1772.0 381.0) scale(0.5217 0.4345)" x="-44.75" y="36.75">♠</text>
<text class="sym" font-size="100" transform="translate(314.0 401.5) scale(0.5000 0.4414)" x="-44.50" y="36.75">♣</text>
<text class="sym" font-size="100" transform="translate(704.0 421.6) scale(0.5000 0.4414)" x="-44.50" y="36.75">♣</text>
<text class="sym" font-size="100" transform="translate(883.5 244.0) scale(0.5000 0.4414)" x="-44.50" y="36.75">♣</text>
<text class="sym" font-size="100" transform="translate(973.5 424.3) scale(0.5000 0.4414)" x="-44.50" y="36.75">♣</text>
<text class="sym" font-size="100" transform="translate(730.0 413.7) scale(0.3158 0.3179)" x="-43.50" y="26.25">●</text>
<text class="sym" font-size="100" transform="translate(1089.0 395.6) scale(0.3158 0.3179)" x="-43.50" y="26.25">●</text>
<text class="sym" font-size="100" transform="translate(1166.0 429.0) scale(0.3158 0.3179)" x="-43.50" y="26.25">●</text>
<text class="sym" font-size="100" transform="translate(1387.0 424.5) scale(0.3158 0.3179)" x="-43.50" y="26.25">●</text>
<text class="sym" font-size="100" transform="translate(1597.0 419.0) scale(0.3158 0.3179)" x="-43.50" y="26.25">●</text>
<text class="sym" font-size="100" transform="translate(1741.0 427.5) scale(0.3158 0.3179)" x="-43.50" y="26.25">●</text>
<text class="sym" font-size="100" transform="translate(254.3 579.4) scale(0.4636 0.4306)" x="-44.50" y="36.50">♦</text>
<text class="sym" font-size="100" transform="translate(760.0 587.6) scale(0.4636 0.4306)" x="-44.50" y="36.50">♦</text>
<text class="sym" font-size="100" transform="translate(256.5 992.0) scale(0.4636 0.4306)" x="-44.50" y="36.50">♦</text>
<text class="sym" font-size="100" transform="translate(760.7 1002.0) scale(0.4636 0.4306)" x="-44.50" y="36.50">♦</text>
<text class="sym" font-size="100" transform="translate(255.0 1462.0) scale(0.4636 0.4306)" x="-44.50" y="36.50">♦</text>
<text x="158.0" y="1769.8" font-size="87" text-anchor="middle">10</text>
<text x="560.1" y="1769.8" font-size="87" text-anchor="middle">20</text>
<text x="962.2" y="1769.8" font-size="87" text-anchor="middle">30</text>
<text x="1364.3" y="1769.8" font-size="87" text-anchor="middle">40</text>
<text x="1766.4" y="1769.8" font-size="87" text-anchor="middle">50</text>
<text x="2168.5" y="1769.8" font-size="87" text-anchor="middle">60</text>
<text x="990.2" y="1882.7" font-size="83.3" word-spacing="3">2 Theta (°)</text>
<text transform="translate(89.2 859.7) rotate(-90)" font-size="83.3" text-anchor="middle" letter-spacing="0.45">Intensity(a.u.)</text>
</svg>
</body></html>
